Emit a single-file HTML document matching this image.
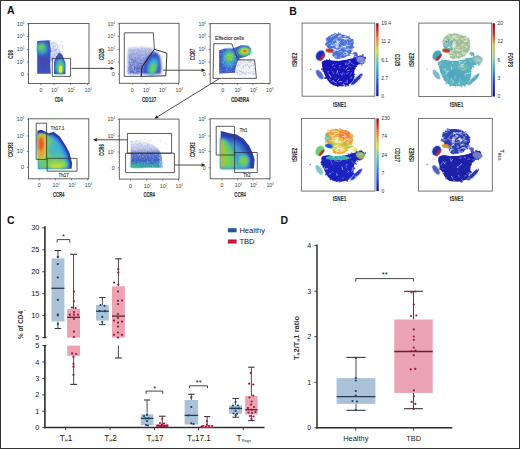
<!DOCTYPE html>
<html><head><meta charset="utf-8"><style>html,body{margin:0;padding:0;background:#fff;width:520px;height:449px;overflow:hidden}</style></head>
<body><svg width="520" height="449" viewBox="0 0 520 449" font-family="Liberation Sans, sans-serif" style="display:block">
<defs>
<filter id="b1" x="-30%" y="-30%" width="160%" height="160%"><feGaussianBlur stdDeviation="1"/></filter>
<filter id="b2" x="-40%" y="-40%" width="180%" height="180%"><feGaussianBlur stdDeviation="2"/></filter>
<filter id="b05" x="-30%" y="-30%" width="160%" height="160%"><feGaussianBlur stdDeviation="0.5"/></filter>
<filter id="b15" x="-40%" y="-40%" width="180%" height="180%"><feGaussianBlur stdDeviation="1.5"/></filter>
<linearGradient id="jet" x1="0" y1="1" x2="0" y2="0">
<stop offset="0" stop-color="#1a1aa0"/><stop offset="0.15" stop-color="#2040d0"/><stop offset="0.35" stop-color="#30b0e0"/>
<stop offset="0.5" stop-color="#60d080"/><stop offset="0.65" stop-color="#e0e040"/><stop offset="0.85" stop-color="#e04020"/><stop offset="1" stop-color="#b01020"/>
</linearGradient>
</defs>
<rect x="0.00" y="0.00" width="520.00" height="449.00" fill="#fff" stroke="none" stroke-width="1" />
<text x="7.00" y="14.40" font-size="10.5" text-anchor="start" font-weight="bold" fill="#111" >A</text>
<rect x="28.50" y="23.50" width="60.50" height="60.00" fill="none" stroke="#555" stroke-width="0.9" />
<line x1="26.90" y1="23.80" x2="28.50" y2="23.80" stroke="#555" stroke-width="0.7" />
<text x="24.10" y="25.70" font-size="5.3" text-anchor="end" fill="#3a3a3a">10<tspan font-size="2.6" dy="-2.2">4</tspan></text>
<line x1="26.90" y1="36.50" x2="28.50" y2="36.50" stroke="#555" stroke-width="0.7" />
<text x="24.10" y="38.40" font-size="5.3" text-anchor="end" fill="#3a3a3a">10<tspan font-size="2.6" dy="-2.2">3</tspan></text>
<line x1="26.90" y1="49.50" x2="28.50" y2="49.50" stroke="#555" stroke-width="0.7" />
<text x="24.10" y="51.40" font-size="5.3" text-anchor="end" fill="#3a3a3a">10<tspan font-size="2.6" dy="-2.2">2</tspan></text>
<line x1="26.90" y1="62.00" x2="28.50" y2="62.00" stroke="#555" stroke-width="0.7" />
<text x="24.10" y="63.90" font-size="5.3" text-anchor="end" fill="#3a3a3a">10<tspan font-size="2.6" dy="-2.2">1</tspan></text>
<line x1="26.90" y1="74.20" x2="28.50" y2="74.20" stroke="#555" stroke-width="0.7" />
<text x="23.90" y="76.10" font-size="5.3" text-anchor="end" font-weight="normal" fill="#3a3a3a" >0</text>
<line x1="41.00" y1="83.50" x2="41.00" y2="85.10" stroke="#555" stroke-width="0.7" />
<text x="41.00" y="92.10" font-size="5.3" text-anchor="middle" font-weight="normal" fill="#3a3a3a" >0</text>
<line x1="54.00" y1="83.50" x2="54.00" y2="85.10" stroke="#555" stroke-width="0.7" />
<text x="54.80" y="92.10" font-size="5.3" text-anchor="middle" fill="#3a3a3a">10<tspan font-size="2.6" dy="-2.2">1</tspan></text>
<line x1="70.50" y1="83.50" x2="70.50" y2="85.10" stroke="#555" stroke-width="0.7" />
<text x="71.30" y="92.10" font-size="5.3" text-anchor="middle" fill="#3a3a3a">10<tspan font-size="2.6" dy="-2.2">2</tspan></text>
<line x1="87.50" y1="83.50" x2="87.50" y2="85.10" stroke="#555" stroke-width="0.7" />
<text x="88.30" y="92.10" font-size="5.3" text-anchor="middle" fill="#3a3a3a">10<tspan font-size="2.6" dy="-2.2">3</tspan></text>
<text x="0" y="0" font-size="7.2" font-weight="bold" text-anchor="middle" fill="#333" stroke="#333" stroke-width="0.15" textLength="8.7" lengthAdjust="spacingAndGlyphs" transform="translate(13,54.4) rotate(-90)">CD8</text>
<text x="58.75" y="101.8" font-size="7.2" font-weight="bold" text-anchor="middle" fill="#333" stroke="#333" stroke-width="0.15" textLength="8.1" lengthAdjust="spacingAndGlyphs">CD4</text>
<rect x="119.30" y="23.30" width="59.70" height="60.00" fill="none" stroke="#555" stroke-width="0.9" />
<line x1="117.70" y1="23.80" x2="119.30" y2="23.80" stroke="#555" stroke-width="0.7" />
<text x="114.90" y="25.70" font-size="5.3" text-anchor="end" fill="#3a3a3a">10<tspan font-size="2.6" dy="-2.2">4</tspan></text>
<line x1="117.70" y1="36.50" x2="119.30" y2="36.50" stroke="#555" stroke-width="0.7" />
<text x="114.90" y="38.40" font-size="5.3" text-anchor="end" fill="#3a3a3a">10<tspan font-size="2.6" dy="-2.2">3</tspan></text>
<line x1="117.70" y1="49.50" x2="119.30" y2="49.50" stroke="#555" stroke-width="0.7" />
<text x="114.90" y="51.40" font-size="5.3" text-anchor="end" fill="#3a3a3a">10<tspan font-size="2.6" dy="-2.2">2</tspan></text>
<line x1="117.70" y1="62.00" x2="119.30" y2="62.00" stroke="#555" stroke-width="0.7" />
<text x="114.90" y="63.90" font-size="5.3" text-anchor="end" fill="#3a3a3a">10<tspan font-size="2.6" dy="-2.2">1</tspan></text>
<line x1="117.70" y1="74.20" x2="119.30" y2="74.20" stroke="#555" stroke-width="0.7" />
<text x="114.70" y="76.10" font-size="5.3" text-anchor="end" font-weight="normal" fill="#3a3a3a" >0</text>
<line x1="132.30" y1="83.30" x2="132.30" y2="84.90" stroke="#555" stroke-width="0.7" />
<text x="132.30" y="91.90" font-size="5.3" text-anchor="middle" font-weight="normal" fill="#3a3a3a" >0</text>
<line x1="146.00" y1="83.30" x2="146.00" y2="84.90" stroke="#555" stroke-width="0.7" />
<text x="146.80" y="91.90" font-size="5.3" text-anchor="middle" fill="#3a3a3a">10<tspan font-size="2.6" dy="-2.2">1</tspan></text>
<line x1="162.00" y1="83.30" x2="162.00" y2="84.90" stroke="#555" stroke-width="0.7" />
<text x="162.80" y="91.90" font-size="5.3" text-anchor="middle" fill="#3a3a3a">10<tspan font-size="2.6" dy="-2.2">2</tspan></text>
<line x1="178.50" y1="83.30" x2="178.50" y2="84.90" stroke="#555" stroke-width="0.7" />
<text x="179.30" y="91.90" font-size="5.3" text-anchor="middle" fill="#3a3a3a">10<tspan font-size="2.6" dy="-2.2">3</tspan></text>
<text x="0" y="0" font-size="7.2" font-weight="bold" text-anchor="middle" fill="#333" stroke="#333" stroke-width="0.15" textLength="11.6" lengthAdjust="spacingAndGlyphs" transform="translate(103.5,54.199999999999996) rotate(-90)">CD25</text>
<text x="149.15" y="101.8" font-size="7.2" font-weight="bold" text-anchor="middle" fill="#333" stroke="#333" stroke-width="0.15" textLength="14.3" lengthAdjust="spacingAndGlyphs">CD127</text>
<rect x="210.20" y="23.60" width="59.80" height="59.80" fill="none" stroke="#555" stroke-width="0.9" />
<line x1="208.60" y1="23.80" x2="210.20" y2="23.80" stroke="#555" stroke-width="0.7" />
<text x="205.80" y="25.70" font-size="5.3" text-anchor="end" fill="#3a3a3a">10<tspan font-size="2.6" dy="-2.2">4</tspan></text>
<line x1="208.60" y1="36.50" x2="210.20" y2="36.50" stroke="#555" stroke-width="0.7" />
<text x="205.80" y="38.40" font-size="5.3" text-anchor="end" fill="#3a3a3a">10<tspan font-size="2.6" dy="-2.2">3</tspan></text>
<line x1="208.60" y1="49.50" x2="210.20" y2="49.50" stroke="#555" stroke-width="0.7" />
<text x="205.80" y="51.40" font-size="5.3" text-anchor="end" fill="#3a3a3a">10<tspan font-size="2.6" dy="-2.2">2</tspan></text>
<line x1="208.60" y1="62.00" x2="210.20" y2="62.00" stroke="#555" stroke-width="0.7" />
<text x="205.80" y="63.90" font-size="5.3" text-anchor="end" fill="#3a3a3a">10<tspan font-size="2.6" dy="-2.2">1</tspan></text>
<line x1="208.60" y1="74.20" x2="210.20" y2="74.20" stroke="#555" stroke-width="0.7" />
<text x="205.60" y="76.10" font-size="5.3" text-anchor="end" font-weight="normal" fill="#3a3a3a" >0</text>
<line x1="222.70" y1="83.40" x2="222.70" y2="85.00" stroke="#555" stroke-width="0.7" />
<text x="222.70" y="92.00" font-size="5.3" text-anchor="middle" font-weight="normal" fill="#3a3a3a" >0</text>
<line x1="237.30" y1="83.40" x2="237.30" y2="85.00" stroke="#555" stroke-width="0.7" />
<text x="238.10" y="92.00" font-size="5.3" text-anchor="middle" fill="#3a3a3a">10<tspan font-size="2.6" dy="-2.2">1</tspan></text>
<line x1="253.00" y1="83.40" x2="253.00" y2="85.00" stroke="#555" stroke-width="0.7" />
<text x="253.80" y="92.00" font-size="5.3" text-anchor="middle" fill="#3a3a3a">10<tspan font-size="2.6" dy="-2.2">2</tspan></text>
<line x1="269.00" y1="83.40" x2="269.00" y2="85.00" stroke="#555" stroke-width="0.7" />
<text x="269.80" y="92.00" font-size="5.3" text-anchor="middle" fill="#3a3a3a">10<tspan font-size="2.6" dy="-2.2">3</tspan></text>
<text x="0" y="0" font-size="7.2" font-weight="bold" text-anchor="middle" fill="#333" stroke="#333" stroke-width="0.15" textLength="11.6" lengthAdjust="spacingAndGlyphs" transform="translate(195.4,54.4) rotate(-90)">CCR7</text>
<text x="240.1" y="101.8" font-size="7.2" font-weight="bold" text-anchor="middle" fill="#333" stroke="#333" stroke-width="0.15" textLength="18.4" lengthAdjust="spacingAndGlyphs">CD45RA</text>
<rect x="28.50" y="118.80" width="60.30" height="60.00" fill="none" stroke="#555" stroke-width="0.9" />
<line x1="26.90" y1="119.20" x2="28.50" y2="119.20" stroke="#555" stroke-width="0.7" />
<text x="24.10" y="121.10" font-size="5.3" text-anchor="end" fill="#3a3a3a">10<tspan font-size="2.6" dy="-2.2">3</tspan></text>
<line x1="26.90" y1="136.00" x2="28.50" y2="136.00" stroke="#555" stroke-width="0.7" />
<text x="24.10" y="137.90" font-size="5.3" text-anchor="end" fill="#3a3a3a">10<tspan font-size="2.6" dy="-2.2">2</tspan></text>
<line x1="26.90" y1="151.50" x2="28.50" y2="151.50" stroke="#555" stroke-width="0.7" />
<text x="24.10" y="153.40" font-size="5.3" text-anchor="end" fill="#3a3a3a">10<tspan font-size="2.6" dy="-2.2">1</tspan></text>
<line x1="26.90" y1="167.30" x2="28.50" y2="167.30" stroke="#555" stroke-width="0.7" />
<text x="23.90" y="169.20" font-size="5.3" text-anchor="end" font-weight="normal" fill="#3a3a3a" >0</text>
<line x1="39.30" y1="178.80" x2="39.30" y2="180.40" stroke="#555" stroke-width="0.7" />
<text x="39.30" y="187.40" font-size="5.3" text-anchor="middle" font-weight="normal" fill="#3a3a3a" >0</text>
<line x1="55.40" y1="178.80" x2="55.40" y2="180.40" stroke="#555" stroke-width="0.7" />
<text x="56.20" y="187.40" font-size="5.3" text-anchor="middle" fill="#3a3a3a">10<tspan font-size="2.6" dy="-2.2">1</tspan></text>
<line x1="71.50" y1="178.80" x2="71.50" y2="180.40" stroke="#555" stroke-width="0.7" />
<text x="72.30" y="187.40" font-size="5.3" text-anchor="middle" fill="#3a3a3a">10<tspan font-size="2.6" dy="-2.2">2</tspan></text>
<line x1="87.60" y1="178.80" x2="87.60" y2="180.40" stroke="#555" stroke-width="0.7" />
<text x="88.40" y="187.40" font-size="5.3" text-anchor="middle" fill="#3a3a3a">10<tspan font-size="2.6" dy="-2.2">3</tspan></text>
<text x="0" y="0" font-size="7.2" font-weight="bold" text-anchor="middle" fill="#333" stroke="#333" stroke-width="0.15" textLength="14.7" lengthAdjust="spacingAndGlyphs" transform="translate(13.4,149.70000000000002) rotate(-90)">CXCR3</text>
<text x="58.65" y="197.2" font-size="7.2" font-weight="bold" text-anchor="middle" fill="#333" stroke="#333" stroke-width="0.15" textLength="11.5" lengthAdjust="spacingAndGlyphs">CCR4</text>
<rect x="119.30" y="119.10" width="59.70" height="60.00" fill="none" stroke="#555" stroke-width="0.9" />
<line x1="117.70" y1="119.20" x2="119.30" y2="119.20" stroke="#555" stroke-width="0.7" />
<text x="114.90" y="121.10" font-size="5.3" text-anchor="end" fill="#3a3a3a">10<tspan font-size="2.6" dy="-2.2">3</tspan></text>
<line x1="117.70" y1="136.00" x2="119.30" y2="136.00" stroke="#555" stroke-width="0.7" />
<text x="114.90" y="137.90" font-size="5.3" text-anchor="end" fill="#3a3a3a">10<tspan font-size="2.6" dy="-2.2">2</tspan></text>
<line x1="117.70" y1="152.00" x2="119.30" y2="152.00" stroke="#555" stroke-width="0.7" />
<text x="114.90" y="153.90" font-size="5.3" text-anchor="end" fill="#3a3a3a">10<tspan font-size="2.6" dy="-2.2">1</tspan></text>
<line x1="117.70" y1="167.70" x2="119.30" y2="167.70" stroke="#555" stroke-width="0.7" />
<text x="114.70" y="169.60" font-size="5.3" text-anchor="end" font-weight="normal" fill="#3a3a3a" >0</text>
<line x1="130.50" y1="179.10" x2="130.50" y2="180.70" stroke="#555" stroke-width="0.7" />
<text x="130.50" y="187.70" font-size="5.3" text-anchor="middle" font-weight="normal" fill="#3a3a3a" >0</text>
<line x1="146.70" y1="179.10" x2="146.70" y2="180.70" stroke="#555" stroke-width="0.7" />
<text x="147.50" y="187.70" font-size="5.3" text-anchor="middle" fill="#3a3a3a">10<tspan font-size="2.6" dy="-2.2">1</tspan></text>
<line x1="162.70" y1="179.10" x2="162.70" y2="180.70" stroke="#555" stroke-width="0.7" />
<text x="163.50" y="187.70" font-size="5.3" text-anchor="middle" fill="#3a3a3a">10<tspan font-size="2.6" dy="-2.2">2</tspan></text>
<line x1="178.50" y1="179.10" x2="178.50" y2="180.70" stroke="#555" stroke-width="0.7" />
<text x="179.30" y="187.70" font-size="5.3" text-anchor="middle" fill="#3a3a3a">10<tspan font-size="2.6" dy="-2.2">3</tspan></text>
<text x="0" y="0" font-size="7.2" font-weight="bold" text-anchor="middle" fill="#333" stroke="#333" stroke-width="0.15" textLength="11.6" lengthAdjust="spacingAndGlyphs" transform="translate(103.5,150.0) rotate(-90)">CCR6</text>
<text x="149.15" y="197.2" font-size="7.2" font-weight="bold" text-anchor="middle" fill="#333" stroke="#333" stroke-width="0.15" textLength="11.5" lengthAdjust="spacingAndGlyphs">CCR4</text>
<rect x="210.20" y="118.80" width="59.80" height="60.00" fill="none" stroke="#555" stroke-width="0.9" />
<line x1="208.60" y1="119.20" x2="210.20" y2="119.20" stroke="#555" stroke-width="0.7" />
<text x="205.80" y="121.10" font-size="5.3" text-anchor="end" fill="#3a3a3a">10<tspan font-size="2.6" dy="-2.2">3</tspan></text>
<line x1="208.60" y1="136.00" x2="210.20" y2="136.00" stroke="#555" stroke-width="0.7" />
<text x="205.80" y="137.90" font-size="5.3" text-anchor="end" fill="#3a3a3a">10<tspan font-size="2.6" dy="-2.2">2</tspan></text>
<line x1="208.60" y1="151.50" x2="210.20" y2="151.50" stroke="#555" stroke-width="0.7" />
<text x="205.80" y="153.40" font-size="5.3" text-anchor="end" fill="#3a3a3a">10<tspan font-size="2.6" dy="-2.2">1</tspan></text>
<line x1="208.60" y1="167.70" x2="210.20" y2="167.70" stroke="#555" stroke-width="0.7" />
<text x="205.60" y="169.60" font-size="5.3" text-anchor="end" font-weight="normal" fill="#3a3a3a" >0</text>
<line x1="222.00" y1="178.80" x2="222.00" y2="180.40" stroke="#555" stroke-width="0.7" />
<text x="222.00" y="187.40" font-size="5.3" text-anchor="middle" font-weight="normal" fill="#3a3a3a" >0</text>
<line x1="237.70" y1="178.80" x2="237.70" y2="180.40" stroke="#555" stroke-width="0.7" />
<text x="238.50" y="187.40" font-size="5.3" text-anchor="middle" fill="#3a3a3a">10<tspan font-size="2.6" dy="-2.2">1</tspan></text>
<line x1="253.00" y1="178.80" x2="253.00" y2="180.40" stroke="#555" stroke-width="0.7" />
<text x="253.80" y="187.40" font-size="5.3" text-anchor="middle" fill="#3a3a3a">10<tspan font-size="2.6" dy="-2.2">2</tspan></text>
<line x1="269.30" y1="178.80" x2="269.30" y2="180.40" stroke="#555" stroke-width="0.7" />
<text x="270.10" y="187.40" font-size="5.3" text-anchor="middle" fill="#3a3a3a">10<tspan font-size="2.6" dy="-2.2">3</tspan></text>
<text x="0" y="0" font-size="7.2" font-weight="bold" text-anchor="middle" fill="#333" stroke="#333" stroke-width="0.15" textLength="14.7" lengthAdjust="spacingAndGlyphs" transform="translate(195.4,149.70000000000002) rotate(-90)">CXCR3</text>
<text x="240.1" y="197.2" font-size="7.2" font-weight="bold" text-anchor="middle" fill="#333" stroke="#333" stroke-width="0.15" textLength="11.5" lengthAdjust="spacingAndGlyphs">CCR4</text>
<linearGradient id="g1s" x1="0" y1="0" x2="0" y2="1"><stop offset="0" stop-color="#c0c6ec" stop-opacity="0.5"/><stop offset="1" stop-color="#8a96d8" stop-opacity="0.8"/></linearGradient>
<path d="M48,42 L54,41 L59,46 L62,53 L61,58 L54,60 L48.5,62 Z" fill="url(#g1s)" filter="url(#b1)" opacity="1"/>
<circle cx="50.81" cy="51.43" r="0.5" fill="#ffffff" opacity="0.5"/>
<circle cx="52.92" cy="52.68" r="0.5" fill="#ffffff" opacity="0.5"/>
<circle cx="57.01" cy="41.38" r="0.5" fill="#ffffff" opacity="0.5"/>
<circle cx="47.21" cy="57.59" r="0.5" fill="#ffffff" opacity="0.5"/>
<circle cx="51.15" cy="44.92" r="0.5" fill="#ffffff" opacity="0.5"/>
<circle cx="62.93" cy="49.88" r="0.5" fill="#ffffff" opacity="0.5"/>
<circle cx="60.38" cy="50.00" r="0.5" fill="#ffffff" opacity="0.5"/>
<circle cx="57.23" cy="43.16" r="0.5" fill="#ffffff" opacity="0.5"/>
<circle cx="57.16" cy="58.23" r="0.5" fill="#ffffff" opacity="0.5"/>
<circle cx="55.37" cy="55.57" r="0.5" fill="#ffffff" opacity="0.5"/>
<circle cx="57.74" cy="41.34" r="0.5" fill="#ffffff" opacity="0.5"/>
<circle cx="59.13" cy="52.41" r="0.5" fill="#ffffff" opacity="0.5"/>
<circle cx="51.82" cy="40.65" r="0.5" fill="#ffffff" opacity="0.5"/>
<circle cx="60.85" cy="49.93" r="0.5" fill="#ffffff" opacity="0.5"/>
<circle cx="58.50" cy="58.46" r="0.5" fill="#ffffff" opacity="0.5"/>
<circle cx="58.43" cy="59.34" r="0.5" fill="#ffffff" opacity="0.5"/>
<circle cx="53.32" cy="56.82" r="0.5" fill="#ffffff" opacity="0.5"/>
<circle cx="54.11" cy="59.65" r="0.5" fill="#ffffff" opacity="0.5"/>
<circle cx="61.06" cy="42.05" r="0.5" fill="#ffffff" opacity="0.5"/>
<circle cx="49.18" cy="44.56" r="0.5" fill="#ffffff" opacity="0.5"/>
<circle cx="62.45" cy="49.16" r="0.5" fill="#ffffff" opacity="0.5"/>
<circle cx="57.03" cy="46.32" r="0.5" fill="#ffffff" opacity="0.5"/>
<circle cx="55.12" cy="48.10" r="0.5" fill="#ffffff" opacity="0.5"/>
<circle cx="52.61" cy="52.29" r="0.5" fill="#ffffff" opacity="0.5"/>
<circle cx="56.35" cy="58.99" r="0.5" fill="#ffffff" opacity="0.5"/>
<circle cx="57.91" cy="59.51" r="0.5" fill="#ffffff" opacity="0.5"/>
<circle cx="60.70" cy="60.81" r="0.5" fill="#ffffff" opacity="0.5"/>
<circle cx="57.74" cy="43.43" r="0.5" fill="#ffffff" opacity="0.5"/>
<circle cx="60.77" cy="60.26" r="0.5" fill="#ffffff" opacity="0.5"/>
<circle cx="61.48" cy="51.95" r="0.5" fill="#ffffff" opacity="0.5"/>
<circle cx="58.42" cy="44.43" r="0.5" fill="#ffffff" opacity="0.5"/>
<circle cx="60.31" cy="52.04" r="0.5" fill="#ffffff" opacity="0.5"/>
<circle cx="51.56" cy="41.33" r="0.5" fill="#ffffff" opacity="0.5"/>
<circle cx="60.66" cy="60.79" r="0.5" fill="#ffffff" opacity="0.5"/>
<circle cx="48.42" cy="56.81" r="0.5" fill="#ffffff" opacity="0.5"/>
<circle cx="53.57" cy="43.17" r="0.5" fill="#ffffff" opacity="0.5"/>
<circle cx="51.70" cy="56.14" r="0.5" fill="#ffffff" opacity="0.5"/>
<circle cx="60.96" cy="40.93" r="0.5" fill="#ffffff" opacity="0.5"/>
<circle cx="56.83" cy="40.94" r="0.5" fill="#ffffff" opacity="0.5"/>
<circle cx="58.50" cy="46.95" r="0.5" fill="#ffffff" opacity="0.5"/>
<circle cx="61.09" cy="60.59" r="0.5" fill="#ffffff" opacity="0.5"/>
<circle cx="55.09" cy="60.97" r="0.5" fill="#ffffff" opacity="0.5"/>
<circle cx="51.95" cy="41.62" r="0.5" fill="#ffffff" opacity="0.5"/>
<circle cx="56.60" cy="40.66" r="0.5" fill="#ffffff" opacity="0.5"/>
<circle cx="50.16" cy="48.57" r="0.5" fill="#ffffff" opacity="0.5"/>
<circle cx="56.77" cy="43.28" r="0.5" fill="#ffffff" opacity="0.5"/>
<circle cx="47.68" cy="58.22" r="0.5" fill="#ffffff" opacity="0.5"/>
<circle cx="52.02" cy="60.13" r="0.5" fill="#ffffff" opacity="0.5"/>
<circle cx="61.35" cy="47.93" r="0.5" fill="#ffffff" opacity="0.5"/>
<circle cx="54.37" cy="50.92" r="0.5" fill="#ffffff" opacity="0.5"/>
<circle cx="57.30" cy="52.51" r="0.5" fill="#ffffff" opacity="0.5"/>
<circle cx="55.95" cy="53.02" r="0.5" fill="#ffffff" opacity="0.5"/>
<circle cx="62.05" cy="50.65" r="0.5" fill="#ffffff" opacity="0.5"/>
<circle cx="53.90" cy="55.13" r="0.5" fill="#ffffff" opacity="0.5"/>
<circle cx="50.80" cy="46.32" r="0.5" fill="#ffffff" opacity="0.5"/>
<circle cx="62.64" cy="50.94" r="0.5" fill="#ffffff" opacity="0.5"/>
<circle cx="55.77" cy="40.24" r="0.5" fill="#ffffff" opacity="0.5"/>
<circle cx="53.64" cy="52.18" r="0.5" fill="#ffffff" opacity="0.5"/>
<circle cx="47.32" cy="52.93" r="0.5" fill="#ffffff" opacity="0.5"/>
<circle cx="57.11" cy="41.26" r="0.5" fill="#ffffff" opacity="0.5"/>
<circle cx="57.04" cy="49.79" r="0.5" fill="#ffffff" opacity="0.5"/>
<circle cx="57.87" cy="47.40" r="0.5" fill="#ffffff" opacity="0.5"/>
<circle cx="58.31" cy="55.50" r="0.5" fill="#ffffff" opacity="0.5"/>
<circle cx="47.35" cy="41.27" r="0.5" fill="#ffffff" opacity="0.5"/>
<circle cx="57.82" cy="60.23" r="0.5" fill="#ffffff" opacity="0.5"/>
<circle cx="51.02" cy="49.58" r="0.5" fill="#ffffff" opacity="0.5"/>
<circle cx="56.48" cy="46.72" r="0.5" fill="#ffffff" opacity="0.5"/>
<circle cx="52.82" cy="46.57" r="0.5" fill="#ffffff" opacity="0.5"/>
<circle cx="52.91" cy="52.51" r="0.5" fill="#ffffff" opacity="0.5"/>
<circle cx="51.81" cy="47.92" r="0.5" fill="#ffffff" opacity="0.5"/>
<circle cx="59.36" cy="40.57" r="0.5" fill="#ffffff" opacity="0.5"/>
<circle cx="56.11" cy="55.44" r="0.5" fill="#ffffff" opacity="0.5"/>
<circle cx="51.96" cy="44.67" r="0.5" fill="#ffffff" opacity="0.5"/>
<circle cx="59.86" cy="45.01" r="0.5" fill="#ffffff" opacity="0.5"/>
<circle cx="50.00" cy="49.14" r="0.5" fill="#ffffff" opacity="0.5"/>
<circle cx="58.17" cy="42.14" r="0.5" fill="#ffffff" opacity="0.5"/>
<circle cx="52.15" cy="47.01" r="0.5" fill="#ffffff" opacity="0.5"/>
<circle cx="60.34" cy="49.21" r="0.5" fill="#ffffff" opacity="0.5"/>
<circle cx="60.69" cy="43.55" r="0.5" fill="#ffffff" opacity="0.5"/>
<circle cx="52.39" cy="53.65" r="0.5" fill="#ffffff" opacity="0.5"/>
<circle cx="61.16" cy="49.47" r="0.5" fill="#ffffff" opacity="0.5"/>
<circle cx="50.60" cy="42.54" r="0.5" fill="#ffffff" opacity="0.5"/>
<circle cx="55.47" cy="44.01" r="0.5" fill="#ffffff" opacity="0.5"/>
<circle cx="59.91" cy="57.61" r="0.5" fill="#ffffff" opacity="0.5"/>
<circle cx="49.94" cy="45.85" r="0.5" fill="#ffffff" opacity="0.5"/>
<circle cx="59.92" cy="53.48" r="0.5" fill="#ffffff" opacity="0.5"/>
<circle cx="59.90" cy="47.25" r="0.5" fill="#ffffff" opacity="0.5"/>
<circle cx="49.08" cy="46.13" r="0.5" fill="#ffffff" opacity="0.5"/>
<circle cx="59.70" cy="45.69" r="0.5" fill="#ffffff" opacity="0.5"/>
<circle cx="52.54" cy="48.76" r="0.5" fill="#ffffff" opacity="0.5"/>
<circle cx="53.72" cy="48.60" r="0.5" fill="#ffffff" opacity="0.5"/>
<circle cx="61.73" cy="43.28" r="0.5" fill="#ffffff" opacity="0.5"/>
<circle cx="47.07" cy="59.81" r="0.5" fill="#ffffff" opacity="0.5"/>
<circle cx="61.08" cy="60.73" r="0.5" fill="#ffffff" opacity="0.5"/>
<circle cx="53.95" cy="59.95" r="0.5" fill="#ffffff" opacity="0.5"/>
<circle cx="61.84" cy="44.66" r="0.5" fill="#ffffff" opacity="0.5"/>
<circle cx="58.93" cy="57.57" r="0.5" fill="#ffffff" opacity="0.5"/>
<circle cx="57.61" cy="50.90" r="0.5" fill="#ffffff" opacity="0.5"/>
<circle cx="51.62" cy="47.16" r="0.5" fill="#ffffff" opacity="0.5"/>
<circle cx="50.64" cy="41.43" r="0.5" fill="#ffffff" opacity="0.5"/>
<circle cx="56.42" cy="46.03" r="0.5" fill="#ffffff" opacity="0.5"/>
<circle cx="59.96" cy="40.95" r="0.5" fill="#ffffff" opacity="0.5"/>
<circle cx="61.46" cy="54.57" r="0.5" fill="#ffffff" opacity="0.5"/>
<circle cx="61.78" cy="58.83" r="0.5" fill="#ffffff" opacity="0.5"/>
<circle cx="61.39" cy="52.12" r="0.5" fill="#ffffff" opacity="0.5"/>
<circle cx="47.21" cy="55.65" r="0.5" fill="#ffffff" opacity="0.5"/>
<circle cx="49.75" cy="46.30" r="0.5" fill="#ffffff" opacity="0.5"/>
<circle cx="57.61" cy="51.02" r="0.5" fill="#ffffff" opacity="0.5"/>
<circle cx="53.62" cy="59.72" r="0.5" fill="#ffffff" opacity="0.5"/>
<circle cx="56.79" cy="47.17" r="0.5" fill="#ffffff" opacity="0.5"/>
<circle cx="51.04" cy="58.09" r="0.5" fill="#ffffff" opacity="0.5"/>
<circle cx="54.64" cy="56.43" r="0.5" fill="#ffffff" opacity="0.5"/>
<circle cx="52.63" cy="44.14" r="0.5" fill="#ffffff" opacity="0.5"/>
<circle cx="55.55" cy="57.15" r="0.5" fill="#ffffff" opacity="0.5"/>
<circle cx="49.74" cy="56.63" r="0.5" fill="#ffffff" opacity="0.5"/>
<circle cx="61.75" cy="56.93" r="0.5" fill="#ffffff" opacity="0.5"/>
<circle cx="60.18" cy="40.16" r="0.5" fill="#ffffff" opacity="0.5"/>
<circle cx="57.06" cy="58.11" r="0.5" fill="#ffffff" opacity="0.5"/>
<circle cx="47.80" cy="45.70" r="0.5" fill="#ffffff" opacity="0.5"/>
<circle cx="51.30" cy="51.07" r="0.5" fill="#ffffff" opacity="0.5"/>
<circle cx="53.77" cy="49.93" r="0.5" fill="#ffffff" opacity="0.5"/>
<circle cx="59.42" cy="40.04" r="0.5" fill="#ffffff" opacity="0.5"/>
<circle cx="47.88" cy="42.66" r="0.5" fill="#ffffff" opacity="0.5"/>
<circle cx="48.99" cy="41.44" r="0.5" fill="#ffffff" opacity="0.5"/>
<circle cx="62.60" cy="57.94" r="0.5" fill="#ffffff" opacity="0.5"/>
<circle cx="48.38" cy="50.54" r="0.5" fill="#ffffff" opacity="0.5"/>
<circle cx="52.05" cy="46.61" r="0.5" fill="#ffffff" opacity="0.5"/>
<circle cx="52.62" cy="53.59" r="0.5" fill="#ffffff" opacity="0.5"/>
<circle cx="56.39" cy="47.58" r="0.5" fill="#ffffff" opacity="0.5"/>
<circle cx="50.06" cy="46.90" r="0.5" fill="#ffffff" opacity="0.5"/>
<circle cx="48.98" cy="51.67" r="0.5" fill="#ffffff" opacity="0.5"/>
<circle cx="58.46" cy="47.98" r="0.5" fill="#ffffff" opacity="0.5"/>
<circle cx="48.28" cy="43.75" r="0.5" fill="#ffffff" opacity="0.5"/>
<circle cx="52.97" cy="52.69" r="0.5" fill="#ffffff" opacity="0.5"/>
<circle cx="59.52" cy="47.99" r="0.5" fill="#ffffff" opacity="0.5"/>
<circle cx="59.82" cy="53.08" r="0.5" fill="#ffffff" opacity="0.5"/>
<circle cx="53.91" cy="47.82" r="0.5" fill="#ffffff" opacity="0.5"/>
<circle cx="54.94" cy="54.76" r="0.5" fill="#ffffff" opacity="0.5"/>
<circle cx="53.73" cy="54.58" r="0.5" fill="#ffffff" opacity="0.5"/>
<circle cx="54.37" cy="45.15" r="0.5" fill="#ffffff" opacity="0.5"/>
<circle cx="55.57" cy="54.60" r="0.5" fill="#ffffff" opacity="0.5"/>
<circle cx="48.15" cy="48.92" r="0.5" fill="#ffffff" opacity="0.5"/>
<circle cx="53.81" cy="58.47" r="0.5" fill="#ffffff" opacity="0.5"/>
<circle cx="61.98" cy="47.86" r="0.5" fill="#ffffff" opacity="0.5"/>
<circle cx="61.37" cy="56.61" r="0.5" fill="#ffffff" opacity="0.5"/>
<circle cx="51.19" cy="49.75" r="0.5" fill="#ffffff" opacity="0.5"/>
<circle cx="48.97" cy="57.08" r="0.5" fill="#ffffff" opacity="0.5"/>
<circle cx="57.60" cy="58.63" r="0.5" fill="#ffffff" opacity="0.5"/>
<circle cx="59.68" cy="54.02" r="0.5" fill="#ffffff" opacity="0.5"/>
<circle cx="58.74" cy="51.84" r="0.5" fill="#ffffff" opacity="0.5"/>
<circle cx="48.65" cy="52.34" r="0.5" fill="#ffffff" opacity="0.5"/>
<circle cx="47.08" cy="43.01" r="0.5" fill="#ffffff" opacity="0.5"/>
<circle cx="59.39" cy="40.93" r="0.5" fill="#ffffff" opacity="0.5"/>
<circle cx="48.47" cy="42.09" r="0.5" fill="#ffffff" opacity="0.5"/>
<circle cx="61.09" cy="43.76" r="0.5" fill="#ffffff" opacity="0.5"/>
<circle cx="47.38" cy="57.67" r="0.5" fill="#ffffff" opacity="0.5"/>
<circle cx="48.94" cy="57.72" r="0.5" fill="#ffffff" opacity="0.5"/>
<circle cx="57.78" cy="57.56" r="0.5" fill="#ffffff" opacity="0.5"/>
<circle cx="62.24" cy="52.16" r="0.5" fill="#ffffff" opacity="0.5"/>
<circle cx="59.78" cy="40.76" r="0.5" fill="#ffffff" opacity="0.5"/>
<circle cx="59.28" cy="50.74" r="0.5" fill="#ffffff" opacity="0.5"/>
<circle cx="58.44" cy="42.24" r="0.5" fill="#ffffff" opacity="0.5"/>
<circle cx="58.98" cy="59.63" r="0.5" fill="#ffffff" opacity="0.5"/>
<circle cx="47.98" cy="46.81" r="0.5" fill="#ffffff" opacity="0.5"/>
<circle cx="56.02" cy="57.39" r="0.5" fill="#ffffff" opacity="0.5"/>
<circle cx="50.87" cy="43.78" r="0.5" fill="#ffffff" opacity="0.5"/>
<circle cx="51.00" cy="52.94" r="0.5" fill="#ffffff" opacity="0.5"/>
<circle cx="59.06" cy="48.27" r="0.5" fill="#ffffff" opacity="0.5"/>
<circle cx="52.88" cy="48.33" r="0.5" fill="#ffffff" opacity="0.5"/>
<circle cx="52.60" cy="48.78" r="0.5" fill="#ffffff" opacity="0.5"/>
<circle cx="48.33" cy="50.51" r="0.5" fill="#ffffff" opacity="0.5"/>
<circle cx="62.57" cy="48.67" r="0.5" fill="#ffffff" opacity="0.5"/>
<circle cx="58.96" cy="43.37" r="0.5" fill="#ffffff" opacity="0.5"/>
<circle cx="58.05" cy="55.88" r="0.5" fill="#ffffff" opacity="0.5"/>
<circle cx="57.78" cy="50.86" r="0.5" fill="#ffffff" opacity="0.5"/>
<circle cx="54.74" cy="53.50" r="0.5" fill="#ffffff" opacity="0.5"/>
<circle cx="61.36" cy="43.14" r="0.5" fill="#ffffff" opacity="0.5"/>
<circle cx="48.53" cy="55.71" r="0.5" fill="#ffffff" opacity="0.5"/>
<circle cx="61.67" cy="50.86" r="0.5" fill="#ffffff" opacity="0.5"/>
<circle cx="54.09" cy="55.10" r="0.5" fill="#ffffff" opacity="0.5"/>
<circle cx="49.98" cy="45.61" r="0.5" fill="#ffffff" opacity="0.5"/>
<circle cx="50.19" cy="52.30" r="0.5" fill="#ffffff" opacity="0.5"/>
<circle cx="52.04" cy="44.88" r="0.5" fill="#ffffff" opacity="0.5"/>
<circle cx="58.06" cy="60.02" r="0.5" fill="#ffffff" opacity="0.5"/>
<circle cx="51.73" cy="54.81" r="0.5" fill="#ffffff" opacity="0.5"/>
<circle cx="53.61" cy="57.93" r="0.5" fill="#ffffff" opacity="0.5"/>
<circle cx="56.35" cy="45.61" r="0.5" fill="#ffffff" opacity="0.5"/>
<circle cx="50.48" cy="40.49" r="0.5" fill="#ffffff" opacity="0.5"/>
<circle cx="54.67" cy="48.04" r="0.5" fill="#ffffff" opacity="0.5"/>
<circle cx="49.76" cy="47.57" r="0.5" fill="#ffffff" opacity="0.5"/>
<circle cx="52.15" cy="56.26" r="0.5" fill="#ffffff" opacity="0.5"/>
<circle cx="49.30" cy="60.82" r="0.5" fill="#ffffff" opacity="0.5"/>
<circle cx="54.67" cy="52.58" r="0.5" fill="#ffffff" opacity="0.5"/>
<circle cx="54.49" cy="57.53" r="0.5" fill="#ffffff" opacity="0.5"/>
<circle cx="60.15" cy="51.70" r="0.5" fill="#ffffff" opacity="0.5"/>
<circle cx="54.70" cy="55.13" r="0.5" fill="#ffffff" opacity="0.5"/>
<circle cx="60.71" cy="48.41" r="0.5" fill="#ffffff" opacity="0.5"/>
<circle cx="58.74" cy="60.17" r="0.5" fill="#ffffff" opacity="0.5"/>
<circle cx="54.48" cy="44.82" r="0.5" fill="#ffffff" opacity="0.5"/>
<circle cx="50.76" cy="55.07" r="0.5" fill="#ffffff" opacity="0.5"/>
<circle cx="57.81" cy="60.13" r="0.5" fill="#ffffff" opacity="0.5"/>
<circle cx="60.66" cy="45.08" r="0.5" fill="#ffffff" opacity="0.5"/>
<circle cx="50.03" cy="45.43" r="0.5" fill="#ffffff" opacity="0.5"/>
<circle cx="49.99" cy="54.80" r="0.5" fill="#ffffff" opacity="0.5"/>
<circle cx="60.74" cy="58.89" r="0.5" fill="#ffffff" opacity="0.5"/>
<circle cx="51.08" cy="58.17" r="0.5" fill="#ffffff" opacity="0.5"/>
<circle cx="52.01" cy="48.89" r="0.5" fill="#ffffff" opacity="0.5"/>
<circle cx="58.66" cy="41.80" r="0.5" fill="#ffffff" opacity="0.5"/>
<circle cx="48.48" cy="57.51" r="0.5" fill="#ffffff" opacity="0.5"/>
<circle cx="51.67" cy="47.49" r="0.5" fill="#ffffff" opacity="0.5"/>
<circle cx="56.28" cy="54.19" r="0.5" fill="#ffffff" opacity="0.5"/>
<circle cx="47.11" cy="47.03" r="0.5" fill="#ffffff" opacity="0.5"/>
<circle cx="53.98" cy="50.20" r="0.5" fill="#ffffff" opacity="0.5"/>
<circle cx="50.36" cy="52.29" r="0.5" fill="#ffffff" opacity="0.5"/>
<circle cx="62.29" cy="48.21" r="0.5" fill="#ffffff" opacity="0.5"/>
<circle cx="55.71" cy="42.50" r="0.5" fill="#ffffff" opacity="0.5"/>
<circle cx="51.40" cy="53.97" r="0.5" fill="#ffffff" opacity="0.5"/>
<circle cx="48.80" cy="58.63" r="0.5" fill="#ffffff" opacity="0.5"/>
<circle cx="61.54" cy="42.04" r="0.5" fill="#ffffff" opacity="0.5"/>
<circle cx="62.06" cy="47.86" r="0.5" fill="#ffffff" opacity="0.5"/>
<circle cx="59.36" cy="55.90" r="0.5" fill="#ffffff" opacity="0.5"/>
<circle cx="51.73" cy="54.19" r="0.5" fill="#ffffff" opacity="0.5"/>
<circle cx="57.47" cy="56.93" r="0.5" fill="#ffffff" opacity="0.5"/>
<circle cx="51.25" cy="55.84" r="0.5" fill="#ffffff" opacity="0.5"/>
<circle cx="62.38" cy="54.13" r="0.5" fill="#ffffff" opacity="0.5"/>
<circle cx="55.58" cy="42.38" r="0.5" fill="#ffffff" opacity="0.5"/>
<circle cx="54.90" cy="47.40" r="0.5" fill="#ffffff" opacity="0.5"/>
<circle cx="58.49" cy="54.25" r="0.5" fill="#ffffff" opacity="0.5"/>
<circle cx="56.06" cy="43.82" r="0.5" fill="#ffffff" opacity="0.5"/>
<circle cx="57.33" cy="53.25" r="0.5" fill="#ffffff" opacity="0.5"/>
<circle cx="49.87" cy="58.69" r="0.5" fill="#ffffff" opacity="0.5"/>
<circle cx="57.49" cy="42.59" r="0.5" fill="#ffffff" opacity="0.5"/>
<circle cx="61.91" cy="42.97" r="0.5" fill="#ffffff" opacity="0.5"/>
<circle cx="52.30" cy="55.13" r="0.5" fill="#ffffff" opacity="0.5"/>
<circle cx="56.56" cy="51.65" r="0.5" fill="#ffffff" opacity="0.5"/>
<circle cx="57.36" cy="49.61" r="0.5" fill="#ffffff" opacity="0.5"/>
<circle cx="52.00" cy="43.70" r="0.5" fill="#ffffff" opacity="0.5"/>
<circle cx="48.10" cy="55.03" r="0.5" fill="#ffffff" opacity="0.5"/>
<circle cx="59.07" cy="51.41" r="0.5" fill="#ffffff" opacity="0.5"/>
<circle cx="58.83" cy="47.54" r="0.5" fill="#ffffff" opacity="0.5"/>
<circle cx="51.25" cy="48.05" r="0.5" fill="#ffffff" opacity="0.5"/>
<circle cx="60.96" cy="40.88" r="0.5" fill="#ffffff" opacity="0.5"/>
<circle cx="55.08" cy="45.19" r="0.5" fill="#ffffff" opacity="0.5"/>
<circle cx="59.30" cy="47.44" r="0.5" fill="#ffffff" opacity="0.5"/>
<circle cx="52.33" cy="48.47" r="0.5" fill="#ffffff" opacity="0.5"/>
<circle cx="55.66" cy="56.21" r="0.5" fill="#ffffff" opacity="0.5"/>
<circle cx="52.65" cy="57.78" r="0.5" fill="#ffffff" opacity="0.5"/>
<circle cx="48.79" cy="45.68" r="0.5" fill="#ffffff" opacity="0.5"/>
<circle cx="48.59" cy="42.37" r="0.5" fill="#ffffff" opacity="0.5"/>
<circle cx="59.46" cy="55.27" r="0.5" fill="#ffffff" opacity="0.5"/>
<circle cx="49.96" cy="43.97" r="0.5" fill="#ffffff" opacity="0.5"/>
<circle cx="53.67" cy="55.61" r="0.5" fill="#ffffff" opacity="0.5"/>
<circle cx="60.05" cy="55.72" r="0.5" fill="#ffffff" opacity="0.5"/>
<circle cx="56.47" cy="43.08" r="0.5" fill="#ffffff" opacity="0.5"/>
<circle cx="53.37" cy="44.07" r="0.5" fill="#ffffff" opacity="0.5"/>
<circle cx="55.44" cy="51.94" r="0.5" fill="#ffffff" opacity="0.5"/>
<circle cx="50.23" cy="45.25" r="0.5" fill="#ffffff" opacity="0.5"/>
<circle cx="59.51" cy="40.63" r="0.5" fill="#ffffff" opacity="0.5"/>
<circle cx="59.85" cy="58.72" r="0.5" fill="#ffffff" opacity="0.5"/>
<circle cx="62.19" cy="48.05" r="0.5" fill="#ffffff" opacity="0.5"/>
<circle cx="55.84" cy="52.24" r="0.5" fill="#ffffff" opacity="0.5"/>
<circle cx="57.14" cy="60.52" r="0.5" fill="#ffffff" opacity="0.5"/>
<circle cx="57.99" cy="46.29" r="0.5" fill="#ffffff" opacity="0.5"/>
<circle cx="60.76" cy="50.17" r="0.5" fill="#ffffff" opacity="0.5"/>
<circle cx="56.62" cy="55.26" r="0.5" fill="#ffffff" opacity="0.5"/>
<circle cx="47.04" cy="56.18" r="0.5" fill="#ffffff" opacity="0.5"/>
<circle cx="57.59" cy="50.33" r="0.5" fill="#ffffff" opacity="0.5"/>
<circle cx="55.38" cy="49.67" r="0.5" fill="#ffffff" opacity="0.5"/>
<circle cx="50.09" cy="51.12" r="0.5" fill="#ffffff" opacity="0.5"/>
<circle cx="47.59" cy="50.51" r="0.5" fill="#ffffff" opacity="0.5"/>
<circle cx="57.34" cy="49.33" r="0.5" fill="#ffffff" opacity="0.5"/>
<circle cx="56.06" cy="60.14" r="0.5" fill="#ffffff" opacity="0.5"/>
<circle cx="61.27" cy="42.85" r="0.5" fill="#ffffff" opacity="0.5"/>
<circle cx="59.68" cy="53.09" r="0.5" fill="#ffffff" opacity="0.5"/>
<circle cx="47.81" cy="47.56" r="0.5" fill="#ffffff" opacity="0.5"/>
<circle cx="50.73" cy="41.63" r="0.5" fill="#ffffff" opacity="0.5"/>
<circle cx="55.62" cy="59.53" r="0.5" fill="#ffffff" opacity="0.5"/>
<circle cx="52.17" cy="58.28" r="0.5" fill="#ffffff" opacity="0.5"/>
<circle cx="58.11" cy="42.82" r="0.5" fill="#ffffff" opacity="0.5"/>
<circle cx="60.73" cy="52.62" r="0.5" fill="#ffffff" opacity="0.5"/>
<circle cx="61.83" cy="55.03" r="0.5" fill="#ffffff" opacity="0.5"/>
<circle cx="58.84" cy="47.22" r="0.5" fill="#ffffff" opacity="0.5"/>
<circle cx="59.91" cy="59.57" r="0.5" fill="#ffffff" opacity="0.5"/>
<circle cx="60.78" cy="49.18" r="0.5" fill="#ffffff" opacity="0.5"/>
<circle cx="59.11" cy="50.19" r="0.5" fill="#ffffff" opacity="0.5"/>
<circle cx="48.75" cy="40.90" r="0.5" fill="#ffffff" opacity="0.5"/>
<circle cx="48.25" cy="44.21" r="0.5" fill="#ffffff" opacity="0.5"/>
<circle cx="49.57" cy="50.44" r="0.5" fill="#ffffff" opacity="0.5"/>
<circle cx="58.19" cy="51.29" r="0.5" fill="#ffffff" opacity="0.5"/>
<circle cx="53.75" cy="53.63" r="0.5" fill="#ffffff" opacity="0.5"/>
<circle cx="51.87" cy="49.75" r="0.5" fill="#ffffff" opacity="0.5"/>
<circle cx="59.11" cy="48.43" r="0.5" fill="#ffffff" opacity="0.5"/>
<circle cx="49.89" cy="58.89" r="0.5" fill="#ffffff" opacity="0.5"/>
<circle cx="58.52" cy="47.71" r="0.5" fill="#ffffff" opacity="0.5"/>
<circle cx="52.94" cy="51.12" r="0.5" fill="#ffffff" opacity="0.5"/>
<circle cx="56.54" cy="44.70" r="0.5" fill="#ffffff" opacity="0.5"/>
<circle cx="47.04" cy="44.39" r="0.5" fill="#ffffff" opacity="0.5"/>
<circle cx="59.53" cy="43.01" r="0.5" fill="#ffffff" opacity="0.5"/>
<circle cx="54.36" cy="44.10" r="0.5" fill="#ffffff" opacity="0.5"/>
<circle cx="50.35" cy="43.59" r="0.5" fill="#ffffff" opacity="0.5"/>
<circle cx="53.46" cy="43.53" r="0.4" fill="#4a5ac0" opacity="0.5"/>
<circle cx="53.52" cy="54.77" r="0.4" fill="#4a5ac0" opacity="0.5"/>
<circle cx="53.45" cy="48.33" r="0.4" fill="#4a5ac0" opacity="0.5"/>
<circle cx="62.45" cy="44.60" r="0.4" fill="#4a5ac0" opacity="0.5"/>
<circle cx="52.54" cy="42.60" r="0.4" fill="#4a5ac0" opacity="0.5"/>
<circle cx="54.45" cy="59.59" r="0.4" fill="#4a5ac0" opacity="0.5"/>
<circle cx="57.07" cy="47.24" r="0.4" fill="#4a5ac0" opacity="0.5"/>
<circle cx="57.92" cy="60.35" r="0.4" fill="#4a5ac0" opacity="0.5"/>
<circle cx="47.06" cy="40.64" r="0.4" fill="#4a5ac0" opacity="0.5"/>
<circle cx="49.73" cy="40.77" r="0.4" fill="#4a5ac0" opacity="0.5"/>
<circle cx="57.47" cy="58.91" r="0.4" fill="#4a5ac0" opacity="0.5"/>
<circle cx="61.68" cy="59.74" r="0.4" fill="#4a5ac0" opacity="0.5"/>
<circle cx="48.83" cy="48.19" r="0.4" fill="#4a5ac0" opacity="0.5"/>
<circle cx="57.88" cy="59.50" r="0.4" fill="#4a5ac0" opacity="0.5"/>
<circle cx="55.85" cy="59.39" r="0.4" fill="#4a5ac0" opacity="0.5"/>
<circle cx="54.69" cy="45.66" r="0.4" fill="#4a5ac0" opacity="0.5"/>
<circle cx="53.19" cy="50.23" r="0.4" fill="#4a5ac0" opacity="0.5"/>
<circle cx="59.14" cy="54.22" r="0.4" fill="#4a5ac0" opacity="0.5"/>
<circle cx="50.79" cy="57.72" r="0.4" fill="#4a5ac0" opacity="0.5"/>
<circle cx="61.06" cy="58.32" r="0.4" fill="#4a5ac0" opacity="0.5"/>
<circle cx="61.35" cy="55.39" r="0.4" fill="#4a5ac0" opacity="0.5"/>
<circle cx="50.85" cy="41.03" r="0.4" fill="#4a5ac0" opacity="0.5"/>
<circle cx="57.31" cy="52.30" r="0.4" fill="#4a5ac0" opacity="0.5"/>
<circle cx="50.68" cy="60.31" r="0.4" fill="#4a5ac0" opacity="0.5"/>
<circle cx="56.67" cy="56.56" r="0.4" fill="#4a5ac0" opacity="0.5"/>
<circle cx="50.01" cy="43.73" r="0.4" fill="#4a5ac0" opacity="0.5"/>
<circle cx="60.21" cy="42.36" r="0.4" fill="#4a5ac0" opacity="0.5"/>
<circle cx="48.37" cy="49.77" r="0.4" fill="#4a5ac0" opacity="0.5"/>
<circle cx="59.18" cy="58.31" r="0.4" fill="#4a5ac0" opacity="0.5"/>
<circle cx="56.65" cy="49.36" r="0.4" fill="#4a5ac0" opacity="0.5"/>
<circle cx="50.30" cy="51.32" r="0.4" fill="#4a5ac0" opacity="0.5"/>
<circle cx="56.69" cy="44.50" r="0.4" fill="#4a5ac0" opacity="0.5"/>
<circle cx="62.93" cy="47.04" r="0.4" fill="#4a5ac0" opacity="0.5"/>
<circle cx="48.35" cy="44.58" r="0.4" fill="#4a5ac0" opacity="0.5"/>
<circle cx="61.45" cy="59.94" r="0.4" fill="#4a5ac0" opacity="0.5"/>
<circle cx="47.65" cy="55.65" r="0.4" fill="#4a5ac0" opacity="0.5"/>
<circle cx="58.95" cy="46.03" r="0.4" fill="#4a5ac0" opacity="0.5"/>
<circle cx="51.79" cy="48.63" r="0.4" fill="#4a5ac0" opacity="0.5"/>
<circle cx="52.96" cy="43.39" r="0.4" fill="#4a5ac0" opacity="0.5"/>
<circle cx="54.41" cy="51.04" r="0.4" fill="#4a5ac0" opacity="0.5"/>
<circle cx="52.76" cy="57.91" r="0.4" fill="#4a5ac0" opacity="0.5"/>
<circle cx="55.57" cy="43.48" r="0.4" fill="#4a5ac0" opacity="0.5"/>
<circle cx="50.26" cy="56.17" r="0.4" fill="#4a5ac0" opacity="0.5"/>
<circle cx="47.56" cy="43.89" r="0.4" fill="#4a5ac0" opacity="0.5"/>
<circle cx="53.92" cy="47.10" r="0.4" fill="#4a5ac0" opacity="0.5"/>
<circle cx="55.74" cy="41.97" r="0.4" fill="#4a5ac0" opacity="0.5"/>
<circle cx="50.96" cy="56.84" r="0.4" fill="#4a5ac0" opacity="0.5"/>
<circle cx="59.94" cy="45.19" r="0.4" fill="#4a5ac0" opacity="0.5"/>
<circle cx="59.13" cy="56.58" r="0.4" fill="#4a5ac0" opacity="0.5"/>
<circle cx="60.30" cy="51.59" r="0.4" fill="#4a5ac0" opacity="0.5"/>
<circle cx="61.35" cy="59.03" r="0.4" fill="#4a5ac0" opacity="0.5"/>
<circle cx="62.87" cy="51.49" r="0.4" fill="#4a5ac0" opacity="0.5"/>
<circle cx="54.24" cy="60.14" r="0.4" fill="#4a5ac0" opacity="0.5"/>
<circle cx="52.04" cy="50.96" r="0.4" fill="#4a5ac0" opacity="0.5"/>
<circle cx="55.80" cy="50.24" r="0.4" fill="#4a5ac0" opacity="0.5"/>
<circle cx="58.35" cy="59.14" r="0.4" fill="#4a5ac0" opacity="0.5"/>
<circle cx="61.33" cy="60.17" r="0.4" fill="#4a5ac0" opacity="0.5"/>
<circle cx="50.12" cy="59.33" r="0.4" fill="#4a5ac0" opacity="0.5"/>
<circle cx="53.13" cy="57.39" r="0.4" fill="#4a5ac0" opacity="0.5"/>
<circle cx="52.08" cy="48.24" r="0.4" fill="#4a5ac0" opacity="0.5"/>
<circle cx="48.27" cy="44.82" r="0.4" fill="#4a5ac0" opacity="0.5"/>
<circle cx="51.29" cy="51.47" r="0.4" fill="#4a5ac0" opacity="0.5"/>
<circle cx="50.78" cy="60.11" r="0.4" fill="#4a5ac0" opacity="0.5"/>
<circle cx="57.79" cy="53.59" r="0.4" fill="#4a5ac0" opacity="0.5"/>
<circle cx="47.87" cy="55.95" r="0.4" fill="#4a5ac0" opacity="0.5"/>
<circle cx="47.78" cy="60.18" r="0.4" fill="#4a5ac0" opacity="0.5"/>
<circle cx="62.80" cy="45.90" r="0.4" fill="#4a5ac0" opacity="0.5"/>
<circle cx="49.32" cy="42.67" r="0.4" fill="#4a5ac0" opacity="0.5"/>
<circle cx="61.64" cy="41.62" r="0.4" fill="#4a5ac0" opacity="0.5"/>
<circle cx="54.76" cy="54.77" r="0.4" fill="#4a5ac0" opacity="0.5"/>
<circle cx="59.51" cy="51.95" r="0.4" fill="#4a5ac0" opacity="0.5"/>
<circle cx="61.92" cy="57.82" r="0.4" fill="#4a5ac0" opacity="0.5"/>
<circle cx="62.42" cy="57.64" r="0.4" fill="#4a5ac0" opacity="0.5"/>
<circle cx="51.25" cy="44.25" r="0.4" fill="#4a5ac0" opacity="0.5"/>
<circle cx="59.70" cy="60.82" r="0.4" fill="#4a5ac0" opacity="0.5"/>
<circle cx="55.40" cy="56.09" r="0.4" fill="#4a5ac0" opacity="0.5"/>
<circle cx="55.65" cy="49.27" r="0.4" fill="#4a5ac0" opacity="0.5"/>
<circle cx="52.98" cy="46.68" r="0.4" fill="#4a5ac0" opacity="0.5"/>
<circle cx="60.79" cy="57.54" r="0.4" fill="#4a5ac0" opacity="0.5"/>
<circle cx="62.63" cy="45.66" r="0.4" fill="#4a5ac0" opacity="0.5"/>
<circle cx="55.01" cy="55.38" r="0.4" fill="#4a5ac0" opacity="0.5"/>
<circle cx="54.25" cy="50.04" r="0.4" fill="#4a5ac0" opacity="0.5"/>
<circle cx="61.00" cy="60.72" r="0.4" fill="#4a5ac0" opacity="0.5"/>
<circle cx="54.06" cy="52.97" r="0.4" fill="#4a5ac0" opacity="0.5"/>
<circle cx="47.95" cy="57.94" r="0.4" fill="#4a5ac0" opacity="0.5"/>
<circle cx="62.70" cy="47.70" r="0.4" fill="#4a5ac0" opacity="0.5"/>
<circle cx="55.78" cy="58.56" r="0.4" fill="#4a5ac0" opacity="0.5"/>
<circle cx="60.88" cy="54.94" r="0.4" fill="#4a5ac0" opacity="0.5"/>
<circle cx="51.81" cy="50.61" r="0.4" fill="#4a5ac0" opacity="0.5"/>
<circle cx="56.35" cy="43.07" r="0.4" fill="#4a5ac0" opacity="0.5"/>
<circle cx="52.93" cy="52.91" r="0.4" fill="#4a5ac0" opacity="0.5"/>
<circle cx="48.30" cy="46.73" r="0.4" fill="#4a5ac0" opacity="0.5"/>
<path d="M37.2,41 L49.5,40.3 L50.8,50 L50,60 L50.8,73.8 L37.2,73.8 Z" fill="#3a52bc" filter="url(#b05)" opacity="1"/>
<ellipse cx="44" cy="62" rx="5" ry="9" fill="#4646ae" filter="url(#b15)" opacity="0.7"/>
<ellipse cx="42.3" cy="48.5" rx="5.5" ry="6.5" fill="#38a8dc" filter="url(#b15)" opacity="0.9"/>
<ellipse cx="41.3" cy="47.3" rx="3.2" ry="3.3" fill="#6cd048" filter="url(#b1)" opacity="1"/>
<path d="M54,74.2 L54,62 L56.5,56 L59.5,52.5 L62.5,55 L65.5,63 L65.5,74.2 Z" fill="#3a52bc" filter="url(#b05)" opacity="1"/>
<ellipse cx="60" cy="66.5" rx="4.6" ry="7.8" fill="#38b0d8" filter="url(#b1)" opacity="1"/>
<ellipse cx="60.3" cy="68" rx="3.1" ry="5.6" fill="#70d048" filter="url(#b1)" opacity="1"/>
<ellipse cx="60.6" cy="69.2" rx="1.7" ry="3.6" fill="#e4ec3c" filter="url(#b05)" opacity="1"/>
<linearGradient id="g2" x1="0" y1="0" x2="0" y2="1"><stop offset="0" stop-color="#98a4e0" stop-opacity="0.7"/><stop offset="0.5" stop-color="#7080d0" stop-opacity="0.9"/><stop offset="1" stop-color="#4a5ec0"/></linearGradient>
<path d="M128,48 L140,47 L152,48 L155,52 L150,58 L143,66 L142,74 L128,74 Z" fill="url(#g2)" filter="url(#b1)" opacity="1"/>
<circle cx="142.50" cy="66.65" r="0.45" fill="#ffffff" opacity="0.4"/>
<circle cx="151.02" cy="69.46" r="0.45" fill="#ffffff" opacity="0.4"/>
<circle cx="153.48" cy="58.36" r="0.45" fill="#ffffff" opacity="0.4"/>
<circle cx="146.79" cy="49.38" r="0.45" fill="#ffffff" opacity="0.4"/>
<circle cx="152.52" cy="56.59" r="0.45" fill="#ffffff" opacity="0.4"/>
<circle cx="140.79" cy="70.93" r="0.45" fill="#ffffff" opacity="0.4"/>
<circle cx="135.32" cy="51.32" r="0.45" fill="#ffffff" opacity="0.4"/>
<circle cx="150.88" cy="62.77" r="0.45" fill="#ffffff" opacity="0.4"/>
<circle cx="129.46" cy="46.79" r="0.45" fill="#ffffff" opacity="0.4"/>
<circle cx="137.19" cy="46.21" r="0.45" fill="#ffffff" opacity="0.4"/>
<circle cx="151.14" cy="51.14" r="0.45" fill="#ffffff" opacity="0.4"/>
<circle cx="134.95" cy="56.89" r="0.45" fill="#ffffff" opacity="0.4"/>
<circle cx="141.84" cy="58.11" r="0.45" fill="#ffffff" opacity="0.4"/>
<circle cx="145.23" cy="64.48" r="0.45" fill="#ffffff" opacity="0.4"/>
<circle cx="139.65" cy="48.72" r="0.45" fill="#ffffff" opacity="0.4"/>
<circle cx="155.39" cy="65.35" r="0.45" fill="#ffffff" opacity="0.4"/>
<circle cx="129.42" cy="58.37" r="0.45" fill="#ffffff" opacity="0.4"/>
<circle cx="148.85" cy="73.77" r="0.45" fill="#ffffff" opacity="0.4"/>
<circle cx="128.91" cy="46.27" r="0.45" fill="#ffffff" opacity="0.4"/>
<circle cx="140.92" cy="57.82" r="0.45" fill="#ffffff" opacity="0.4"/>
<circle cx="152.94" cy="69.14" r="0.45" fill="#ffffff" opacity="0.4"/>
<circle cx="136.62" cy="57.73" r="0.45" fill="#ffffff" opacity="0.4"/>
<circle cx="143.90" cy="70.76" r="0.45" fill="#ffffff" opacity="0.4"/>
<circle cx="132.86" cy="56.97" r="0.45" fill="#ffffff" opacity="0.4"/>
<circle cx="129.57" cy="63.96" r="0.45" fill="#ffffff" opacity="0.4"/>
<circle cx="127.77" cy="72.18" r="0.45" fill="#ffffff" opacity="0.4"/>
<circle cx="142.19" cy="62.07" r="0.45" fill="#ffffff" opacity="0.4"/>
<circle cx="129.47" cy="52.50" r="0.45" fill="#ffffff" opacity="0.4"/>
<circle cx="140.59" cy="70.01" r="0.45" fill="#ffffff" opacity="0.4"/>
<circle cx="142.63" cy="53.97" r="0.45" fill="#ffffff" opacity="0.4"/>
<circle cx="155.48" cy="64.52" r="0.45" fill="#ffffff" opacity="0.4"/>
<circle cx="142.32" cy="51.67" r="0.45" fill="#ffffff" opacity="0.4"/>
<circle cx="135.66" cy="71.20" r="0.45" fill="#ffffff" opacity="0.4"/>
<circle cx="130.85" cy="60.88" r="0.45" fill="#ffffff" opacity="0.4"/>
<circle cx="144.98" cy="55.94" r="0.45" fill="#ffffff" opacity="0.4"/>
<circle cx="149.29" cy="71.48" r="0.45" fill="#ffffff" opacity="0.4"/>
<circle cx="151.87" cy="66.66" r="0.45" fill="#ffffff" opacity="0.4"/>
<circle cx="132.90" cy="47.68" r="0.45" fill="#ffffff" opacity="0.4"/>
<circle cx="139.55" cy="54.74" r="0.45" fill="#ffffff" opacity="0.4"/>
<circle cx="132.62" cy="70.40" r="0.45" fill="#ffffff" opacity="0.4"/>
<circle cx="133.27" cy="69.04" r="0.45" fill="#ffffff" opacity="0.4"/>
<circle cx="154.19" cy="49.35" r="0.45" fill="#ffffff" opacity="0.4"/>
<circle cx="153.49" cy="57.12" r="0.45" fill="#ffffff" opacity="0.4"/>
<circle cx="133.15" cy="51.22" r="0.45" fill="#ffffff" opacity="0.4"/>
<circle cx="128.09" cy="59.97" r="0.45" fill="#ffffff" opacity="0.4"/>
<circle cx="138.15" cy="69.84" r="0.45" fill="#ffffff" opacity="0.4"/>
<circle cx="151.16" cy="47.60" r="0.45" fill="#ffffff" opacity="0.4"/>
<circle cx="138.64" cy="56.90" r="0.45" fill="#ffffff" opacity="0.4"/>
<circle cx="132.15" cy="53.02" r="0.45" fill="#ffffff" opacity="0.4"/>
<circle cx="134.64" cy="65.44" r="0.45" fill="#ffffff" opacity="0.4"/>
<circle cx="136.87" cy="49.11" r="0.45" fill="#ffffff" opacity="0.4"/>
<circle cx="133.39" cy="58.38" r="0.45" fill="#ffffff" opacity="0.4"/>
<circle cx="143.38" cy="52.87" r="0.45" fill="#ffffff" opacity="0.4"/>
<circle cx="147.29" cy="52.03" r="0.45" fill="#ffffff" opacity="0.4"/>
<circle cx="146.45" cy="63.06" r="0.45" fill="#ffffff" opacity="0.4"/>
<circle cx="132.10" cy="67.03" r="0.45" fill="#ffffff" opacity="0.4"/>
<circle cx="138.43" cy="61.11" r="0.45" fill="#ffffff" opacity="0.4"/>
<circle cx="144.34" cy="63.59" r="0.45" fill="#ffffff" opacity="0.4"/>
<circle cx="139.83" cy="47.57" r="0.45" fill="#ffffff" opacity="0.4"/>
<circle cx="149.81" cy="70.07" r="0.45" fill="#ffffff" opacity="0.4"/>
<circle cx="141.21" cy="62.21" r="0.45" fill="#ffffff" opacity="0.4"/>
<circle cx="134.79" cy="71.16" r="0.45" fill="#ffffff" opacity="0.4"/>
<circle cx="146.88" cy="52.21" r="0.45" fill="#ffffff" opacity="0.4"/>
<circle cx="150.71" cy="73.61" r="0.45" fill="#ffffff" opacity="0.4"/>
<circle cx="137.03" cy="73.87" r="0.45" fill="#ffffff" opacity="0.4"/>
<circle cx="141.01" cy="51.00" r="0.45" fill="#ffffff" opacity="0.4"/>
<circle cx="147.79" cy="55.49" r="0.45" fill="#ffffff" opacity="0.4"/>
<circle cx="148.24" cy="62.34" r="0.45" fill="#ffffff" opacity="0.4"/>
<circle cx="130.12" cy="60.79" r="0.45" fill="#ffffff" opacity="0.4"/>
<circle cx="151.67" cy="59.38" r="0.45" fill="#ffffff" opacity="0.4"/>
<circle cx="142.64" cy="70.17" r="0.45" fill="#ffffff" opacity="0.4"/>
<circle cx="139.95" cy="59.80" r="0.45" fill="#ffffff" opacity="0.4"/>
<circle cx="143.90" cy="69.07" r="0.45" fill="#ffffff" opacity="0.4"/>
<circle cx="132.89" cy="48.62" r="0.45" fill="#ffffff" opacity="0.4"/>
<circle cx="149.07" cy="61.47" r="0.45" fill="#ffffff" opacity="0.4"/>
<circle cx="135.78" cy="70.98" r="0.45" fill="#ffffff" opacity="0.4"/>
<circle cx="152.65" cy="61.16" r="0.45" fill="#ffffff" opacity="0.4"/>
<circle cx="155.66" cy="69.41" r="0.45" fill="#ffffff" opacity="0.4"/>
<circle cx="148.69" cy="54.16" r="0.45" fill="#ffffff" opacity="0.4"/>
<circle cx="127.31" cy="65.00" r="0.45" fill="#ffffff" opacity="0.4"/>
<circle cx="148.32" cy="55.82" r="0.45" fill="#ffffff" opacity="0.4"/>
<circle cx="140.88" cy="61.88" r="0.45" fill="#ffffff" opacity="0.4"/>
<circle cx="134.25" cy="65.53" r="0.45" fill="#ffffff" opacity="0.4"/>
<circle cx="143.31" cy="56.79" r="0.45" fill="#ffffff" opacity="0.4"/>
<circle cx="130.18" cy="61.51" r="0.45" fill="#ffffff" opacity="0.4"/>
<circle cx="136.27" cy="66.30" r="0.45" fill="#ffffff" opacity="0.4"/>
<circle cx="132.00" cy="57.04" r="0.45" fill="#ffffff" opacity="0.4"/>
<circle cx="132.69" cy="57.43" r="0.45" fill="#ffffff" opacity="0.4"/>
<circle cx="143.71" cy="48.99" r="0.45" fill="#ffffff" opacity="0.4"/>
<circle cx="128.59" cy="59.50" r="0.45" fill="#ffffff" opacity="0.4"/>
<circle cx="132.84" cy="60.14" r="0.45" fill="#ffffff" opacity="0.4"/>
<circle cx="131.85" cy="48.82" r="0.45" fill="#ffffff" opacity="0.4"/>
<circle cx="142.59" cy="71.85" r="0.45" fill="#ffffff" opacity="0.4"/>
<circle cx="152.19" cy="60.43" r="0.45" fill="#ffffff" opacity="0.4"/>
<circle cx="138.52" cy="47.85" r="0.45" fill="#ffffff" opacity="0.4"/>
<circle cx="135.01" cy="54.80" r="0.45" fill="#ffffff" opacity="0.4"/>
<circle cx="154.30" cy="49.28" r="0.45" fill="#ffffff" opacity="0.4"/>
<circle cx="154.49" cy="59.35" r="0.45" fill="#ffffff" opacity="0.4"/>
<circle cx="139.59" cy="53.34" r="0.45" fill="#ffffff" opacity="0.4"/>
<circle cx="154.91" cy="51.21" r="0.45" fill="#ffffff" opacity="0.4"/>
<circle cx="143.57" cy="60.30" r="0.45" fill="#ffffff" opacity="0.4"/>
<circle cx="132.79" cy="52.24" r="0.45" fill="#ffffff" opacity="0.4"/>
<circle cx="155.58" cy="68.14" r="0.45" fill="#ffffff" opacity="0.4"/>
<circle cx="148.27" cy="71.28" r="0.45" fill="#ffffff" opacity="0.4"/>
<circle cx="129.86" cy="65.70" r="0.45" fill="#ffffff" opacity="0.4"/>
<circle cx="148.77" cy="52.31" r="0.45" fill="#ffffff" opacity="0.4"/>
<circle cx="140.25" cy="73.28" r="0.45" fill="#ffffff" opacity="0.4"/>
<circle cx="136.48" cy="67.35" r="0.45" fill="#ffffff" opacity="0.4"/>
<circle cx="131.79" cy="64.68" r="0.45" fill="#ffffff" opacity="0.4"/>
<circle cx="134.81" cy="60.25" r="0.45" fill="#ffffff" opacity="0.4"/>
<circle cx="137.80" cy="70.37" r="0.45" fill="#ffffff" opacity="0.4"/>
<circle cx="148.60" cy="60.12" r="0.45" fill="#ffffff" opacity="0.4"/>
<circle cx="146.93" cy="57.97" r="0.45" fill="#ffffff" opacity="0.4"/>
<circle cx="150.32" cy="53.21" r="0.45" fill="#ffffff" opacity="0.4"/>
<circle cx="142.78" cy="62.40" r="0.45" fill="#ffffff" opacity="0.4"/>
<circle cx="138.25" cy="47.30" r="0.45" fill="#ffffff" opacity="0.4"/>
<circle cx="131.93" cy="63.93" r="0.45" fill="#ffffff" opacity="0.4"/>
<circle cx="133.13" cy="67.23" r="0.45" fill="#ffffff" opacity="0.4"/>
<circle cx="141.64" cy="72.69" r="0.45" fill="#ffffff" opacity="0.4"/>
<circle cx="151.59" cy="66.37" r="0.45" fill="#ffffff" opacity="0.4"/>
<circle cx="137.80" cy="47.22" r="0.45" fill="#ffffff" opacity="0.4"/>
<circle cx="143.14" cy="66.88" r="0.45" fill="#ffffff" opacity="0.4"/>
<circle cx="153.71" cy="51.67" r="0.45" fill="#ffffff" opacity="0.4"/>
<circle cx="131.60" cy="73.45" r="0.45" fill="#ffffff" opacity="0.4"/>
<circle cx="148.44" cy="59.57" r="0.45" fill="#ffffff" opacity="0.4"/>
<circle cx="148.42" cy="50.18" r="0.45" fill="#ffffff" opacity="0.4"/>
<circle cx="142.78" cy="64.72" r="0.45" fill="#ffffff" opacity="0.4"/>
<circle cx="144.51" cy="50.51" r="0.45" fill="#ffffff" opacity="0.4"/>
<circle cx="130.97" cy="63.50" r="0.45" fill="#ffffff" opacity="0.4"/>
<circle cx="152.65" cy="49.87" r="0.45" fill="#ffffff" opacity="0.4"/>
<circle cx="127.21" cy="48.32" r="0.45" fill="#ffffff" opacity="0.4"/>
<circle cx="149.77" cy="56.94" r="0.45" fill="#ffffff" opacity="0.4"/>
<circle cx="140.22" cy="73.83" r="0.45" fill="#ffffff" opacity="0.4"/>
<circle cx="144.72" cy="53.37" r="0.45" fill="#ffffff" opacity="0.4"/>
<circle cx="147.33" cy="46.06" r="0.45" fill="#ffffff" opacity="0.4"/>
<circle cx="135.16" cy="65.56" r="0.45" fill="#ffffff" opacity="0.4"/>
<circle cx="131.95" cy="46.91" r="0.45" fill="#ffffff" opacity="0.4"/>
<circle cx="142.03" cy="55.18" r="0.45" fill="#ffffff" opacity="0.4"/>
<circle cx="155.16" cy="48.85" r="0.45" fill="#ffffff" opacity="0.4"/>
<circle cx="150.26" cy="56.88" r="0.45" fill="#ffffff" opacity="0.4"/>
<circle cx="150.36" cy="58.46" r="0.45" fill="#ffffff" opacity="0.4"/>
<circle cx="146.36" cy="55.15" r="0.45" fill="#ffffff" opacity="0.4"/>
<circle cx="133.51" cy="58.67" r="0.45" fill="#ffffff" opacity="0.4"/>
<circle cx="150.21" cy="55.67" r="0.45" fill="#ffffff" opacity="0.4"/>
<circle cx="133.67" cy="57.64" r="0.45" fill="#ffffff" opacity="0.4"/>
<circle cx="129.78" cy="54.84" r="0.45" fill="#ffffff" opacity="0.4"/>
<circle cx="143.61" cy="61.27" r="0.45" fill="#ffffff" opacity="0.4"/>
<circle cx="144.33" cy="54.12" r="0.45" fill="#ffffff" opacity="0.4"/>
<circle cx="127.72" cy="46.74" r="0.45" fill="#ffffff" opacity="0.4"/>
<circle cx="136.83" cy="51.50" r="0.45" fill="#ffffff" opacity="0.4"/>
<circle cx="143.50" cy="53.43" r="0.45" fill="#ffffff" opacity="0.4"/>
<circle cx="149.10" cy="62.84" r="0.45" fill="#ffffff" opacity="0.4"/>
<circle cx="146.21" cy="66.59" r="0.45" fill="#ffffff" opacity="0.4"/>
<circle cx="142.13" cy="57.94" r="0.45" fill="#ffffff" opacity="0.4"/>
<circle cx="135.94" cy="47.76" r="0.45" fill="#ffffff" opacity="0.4"/>
<circle cx="150.04" cy="60.00" r="0.45" fill="#ffffff" opacity="0.4"/>
<circle cx="129.89" cy="71.95" r="0.45" fill="#ffffff" opacity="0.4"/>
<circle cx="143.88" cy="63.46" r="0.45" fill="#ffffff" opacity="0.4"/>
<circle cx="139.72" cy="49.53" r="0.45" fill="#ffffff" opacity="0.4"/>
<circle cx="155.99" cy="50.71" r="0.45" fill="#ffffff" opacity="0.4"/>
<circle cx="137.62" cy="73.98" r="0.45" fill="#ffffff" opacity="0.4"/>
<circle cx="130.54" cy="59.99" r="0.45" fill="#ffffff" opacity="0.4"/>
<circle cx="140.91" cy="52.93" r="0.45" fill="#ffffff" opacity="0.4"/>
<circle cx="153.81" cy="57.60" r="0.45" fill="#ffffff" opacity="0.4"/>
<circle cx="127.34" cy="59.26" r="0.45" fill="#ffffff" opacity="0.4"/>
<circle cx="127.14" cy="65.84" r="0.45" fill="#ffffff" opacity="0.4"/>
<circle cx="152.20" cy="71.36" r="0.45" fill="#ffffff" opacity="0.4"/>
<circle cx="128.39" cy="64.91" r="0.45" fill="#ffffff" opacity="0.4"/>
<circle cx="135.84" cy="59.23" r="0.45" fill="#ffffff" opacity="0.4"/>
<circle cx="135.71" cy="54.54" r="0.45" fill="#ffffff" opacity="0.4"/>
<circle cx="130.85" cy="63.52" r="0.45" fill="#ffffff" opacity="0.4"/>
<circle cx="129.57" cy="73.00" r="0.45" fill="#ffffff" opacity="0.4"/>
<circle cx="128.27" cy="72.99" r="0.45" fill="#ffffff" opacity="0.4"/>
<circle cx="132.56" cy="48.34" r="0.45" fill="#ffffff" opacity="0.4"/>
<circle cx="148.60" cy="60.86" r="0.45" fill="#ffffff" opacity="0.4"/>
<circle cx="149.30" cy="60.24" r="0.45" fill="#ffffff" opacity="0.4"/>
<circle cx="145.29" cy="48.32" r="0.45" fill="#ffffff" opacity="0.4"/>
<circle cx="146.54" cy="60.35" r="0.45" fill="#ffffff" opacity="0.4"/>
<circle cx="154.90" cy="46.17" r="0.45" fill="#ffffff" opacity="0.4"/>
<circle cx="128.98" cy="64.94" r="0.45" fill="#ffffff" opacity="0.4"/>
<circle cx="153.86" cy="57.81" r="0.45" fill="#ffffff" opacity="0.4"/>
<circle cx="147.62" cy="61.69" r="0.45" fill="#ffffff" opacity="0.4"/>
<circle cx="138.34" cy="59.03" r="0.45" fill="#ffffff" opacity="0.4"/>
<circle cx="144.45" cy="46.81" r="0.45" fill="#ffffff" opacity="0.4"/>
<circle cx="135.86" cy="66.67" r="0.45" fill="#ffffff" opacity="0.4"/>
<circle cx="134.49" cy="59.25" r="0.45" fill="#ffffff" opacity="0.4"/>
<circle cx="134.44" cy="56.01" r="0.45" fill="#ffffff" opacity="0.4"/>
<circle cx="145.87" cy="66.82" r="0.45" fill="#ffffff" opacity="0.4"/>
<circle cx="154.75" cy="59.35" r="0.45" fill="#ffffff" opacity="0.4"/>
<circle cx="132.88" cy="55.43" r="0.45" fill="#ffffff" opacity="0.4"/>
<circle cx="128.70" cy="52.71" r="0.45" fill="#ffffff" opacity="0.4"/>
<circle cx="143.95" cy="63.11" r="0.45" fill="#ffffff" opacity="0.4"/>
<circle cx="134.00" cy="51.08" r="0.45" fill="#ffffff" opacity="0.4"/>
<circle cx="129.84" cy="51.00" r="0.45" fill="#ffffff" opacity="0.4"/>
<circle cx="141.54" cy="53.14" r="0.45" fill="#ffffff" opacity="0.4"/>
<circle cx="152.63" cy="61.82" r="0.45" fill="#ffffff" opacity="0.4"/>
<circle cx="136.86" cy="58.07" r="0.45" fill="#ffffff" opacity="0.4"/>
<circle cx="128.16" cy="66.52" r="0.45" fill="#ffffff" opacity="0.4"/>
<circle cx="148.78" cy="56.18" r="0.45" fill="#ffffff" opacity="0.4"/>
<circle cx="148.04" cy="53.63" r="0.45" fill="#ffffff" opacity="0.4"/>
<circle cx="133.37" cy="52.39" r="0.45" fill="#ffffff" opacity="0.4"/>
<circle cx="132.70" cy="62.96" r="0.45" fill="#ffffff" opacity="0.4"/>
<circle cx="145.62" cy="66.38" r="0.45" fill="#ffffff" opacity="0.4"/>
<circle cx="130.01" cy="67.46" r="0.45" fill="#ffffff" opacity="0.4"/>
<circle cx="140.87" cy="56.60" r="0.45" fill="#ffffff" opacity="0.4"/>
<circle cx="141.59" cy="58.12" r="0.45" fill="#ffffff" opacity="0.4"/>
<circle cx="132.80" cy="57.06" r="0.45" fill="#ffffff" opacity="0.4"/>
<circle cx="145.74" cy="66.03" r="0.45" fill="#ffffff" opacity="0.4"/>
<circle cx="153.54" cy="51.44" r="0.45" fill="#ffffff" opacity="0.4"/>
<circle cx="152.84" cy="68.41" r="0.45" fill="#ffffff" opacity="0.4"/>
<circle cx="147.68" cy="73.43" r="0.45" fill="#ffffff" opacity="0.4"/>
<circle cx="131.00" cy="67.74" r="0.45" fill="#ffffff" opacity="0.4"/>
<circle cx="153.08" cy="49.42" r="0.45" fill="#ffffff" opacity="0.4"/>
<circle cx="144.25" cy="72.52" r="0.45" fill="#ffffff" opacity="0.4"/>
<circle cx="135.50" cy="69.95" r="0.45" fill="#ffffff" opacity="0.4"/>
<circle cx="153.28" cy="58.18" r="0.45" fill="#ffffff" opacity="0.4"/>
<circle cx="131.21" cy="52.04" r="0.45" fill="#ffffff" opacity="0.4"/>
<circle cx="151.07" cy="57.82" r="0.45" fill="#ffffff" opacity="0.4"/>
<circle cx="136.15" cy="58.40" r="0.45" fill="#ffffff" opacity="0.4"/>
<circle cx="153.92" cy="53.11" r="0.45" fill="#ffffff" opacity="0.4"/>
<circle cx="127.53" cy="72.58" r="0.45" fill="#ffffff" opacity="0.4"/>
<circle cx="136.19" cy="56.79" r="0.45" fill="#ffffff" opacity="0.4"/>
<circle cx="155.30" cy="53.89" r="0.45" fill="#ffffff" opacity="0.4"/>
<circle cx="129.49" cy="70.86" r="0.45" fill="#ffffff" opacity="0.4"/>
<circle cx="134.07" cy="52.20" r="0.45" fill="#ffffff" opacity="0.4"/>
<circle cx="154.19" cy="52.42" r="0.45" fill="#ffffff" opacity="0.4"/>
<circle cx="153.13" cy="55.33" r="0.45" fill="#ffffff" opacity="0.4"/>
<circle cx="135.79" cy="52.04" r="0.45" fill="#ffffff" opacity="0.4"/>
<circle cx="142.73" cy="61.68" r="0.45" fill="#ffffff" opacity="0.4"/>
<circle cx="138.55" cy="60.21" r="0.45" fill="#ffffff" opacity="0.4"/>
<circle cx="135.64" cy="69.45" r="0.45" fill="#ffffff" opacity="0.4"/>
<circle cx="154.08" cy="67.09" r="0.45" fill="#ffffff" opacity="0.4"/>
<circle cx="150.77" cy="47.98" r="0.45" fill="#ffffff" opacity="0.4"/>
<circle cx="134.26" cy="51.70" r="0.45" fill="#ffffff" opacity="0.4"/>
<circle cx="131.49" cy="73.12" r="0.45" fill="#ffffff" opacity="0.4"/>
<circle cx="153.25" cy="71.60" r="0.45" fill="#ffffff" opacity="0.4"/>
<circle cx="143.18" cy="49.26" r="0.45" fill="#ffffff" opacity="0.4"/>
<circle cx="139.38" cy="47.57" r="0.45" fill="#ffffff" opacity="0.4"/>
<circle cx="153.23" cy="53.43" r="0.45" fill="#ffffff" opacity="0.4"/>
<circle cx="135.36" cy="72.48" r="0.45" fill="#ffffff" opacity="0.4"/>
<circle cx="132.81" cy="71.83" r="0.45" fill="#ffffff" opacity="0.4"/>
<circle cx="136.02" cy="64.62" r="0.45" fill="#ffffff" opacity="0.4"/>
<circle cx="130.09" cy="71.15" r="0.45" fill="#ffffff" opacity="0.4"/>
<circle cx="138.56" cy="55.66" r="0.45" fill="#ffffff" opacity="0.4"/>
<circle cx="145.98" cy="62.61" r="0.45" fill="#ffffff" opacity="0.4"/>
<circle cx="134.28" cy="49.48" r="0.45" fill="#ffffff" opacity="0.4"/>
<circle cx="143.69" cy="46.69" r="0.45" fill="#ffffff" opacity="0.4"/>
<circle cx="152.27" cy="55.63" r="0.45" fill="#ffffff" opacity="0.4"/>
<circle cx="131.92" cy="55.18" r="0.45" fill="#ffffff" opacity="0.4"/>
<circle cx="130.30" cy="54.87" r="0.45" fill="#ffffff" opacity="0.4"/>
<circle cx="142.75" cy="57.39" r="0.45" fill="#ffffff" opacity="0.4"/>
<circle cx="136.69" cy="54.14" r="0.45" fill="#ffffff" opacity="0.4"/>
<circle cx="141.11" cy="67.80" r="0.45" fill="#ffffff" opacity="0.4"/>
<circle cx="139.69" cy="67.50" r="0.45" fill="#ffffff" opacity="0.4"/>
<circle cx="141.00" cy="49.37" r="0.45" fill="#ffffff" opacity="0.4"/>
<circle cx="131.94" cy="69.73" r="0.45" fill="#ffffff" opacity="0.4"/>
<circle cx="140.90" cy="56.71" r="0.45" fill="#ffffff" opacity="0.4"/>
<circle cx="141.95" cy="69.69" r="0.45" fill="#ffffff" opacity="0.4"/>
<circle cx="137.88" cy="56.12" r="0.45" fill="#ffffff" opacity="0.4"/>
<circle cx="137.61" cy="46.30" r="0.45" fill="#ffffff" opacity="0.4"/>
<circle cx="142.80" cy="59.42" r="0.45" fill="#ffffff" opacity="0.4"/>
<circle cx="141.38" cy="58.64" r="0.45" fill="#ffffff" opacity="0.4"/>
<circle cx="140.70" cy="66.03" r="0.45" fill="#ffffff" opacity="0.4"/>
<circle cx="132.40" cy="73.48" r="0.45" fill="#ffffff" opacity="0.4"/>
<circle cx="130.33" cy="70.26" r="0.45" fill="#ffffff" opacity="0.4"/>
<circle cx="132.08" cy="68.27" r="0.45" fill="#ffffff" opacity="0.4"/>
<circle cx="134.56" cy="48.19" r="0.45" fill="#ffffff" opacity="0.4"/>
<circle cx="142.68" cy="69.49" r="0.45" fill="#ffffff" opacity="0.4"/>
<circle cx="151.52" cy="70.56" r="0.45" fill="#ffffff" opacity="0.4"/>
<circle cx="155.41" cy="47.49" r="0.45" fill="#ffffff" opacity="0.4"/>
<circle cx="137.99" cy="48.99" r="0.45" fill="#ffffff" opacity="0.4"/>
<circle cx="148.90" cy="58.64" r="0.45" fill="#ffffff" opacity="0.4"/>
<circle cx="148.58" cy="68.28" r="0.45" fill="#ffffff" opacity="0.4"/>
<circle cx="155.97" cy="64.95" r="0.45" fill="#ffffff" opacity="0.4"/>
<circle cx="152.38" cy="61.36" r="0.45" fill="#ffffff" opacity="0.4"/>
<circle cx="129.34" cy="70.95" r="0.45" fill="#ffffff" opacity="0.4"/>
<circle cx="129.64" cy="48.40" r="0.45" fill="#ffffff" opacity="0.4"/>
<circle cx="151.08" cy="53.86" r="0.45" fill="#ffffff" opacity="0.4"/>
<circle cx="146.21" cy="46.80" r="0.45" fill="#ffffff" opacity="0.4"/>
<circle cx="133.11" cy="66.04" r="0.45" fill="#ffffff" opacity="0.4"/>
<circle cx="128.09" cy="60.30" r="0.45" fill="#ffffff" opacity="0.4"/>
<circle cx="154.19" cy="52.00" r="0.45" fill="#ffffff" opacity="0.4"/>
<circle cx="147.44" cy="66.83" r="0.45" fill="#ffffff" opacity="0.4"/>
<circle cx="144.98" cy="67.46" r="0.45" fill="#ffffff" opacity="0.4"/>
<circle cx="147.25" cy="46.40" r="0.45" fill="#ffffff" opacity="0.4"/>
<circle cx="132.56" cy="61.02" r="0.45" fill="#ffffff" opacity="0.4"/>
<circle cx="155.13" cy="52.07" r="0.45" fill="#ffffff" opacity="0.4"/>
<circle cx="144.02" cy="49.59" r="0.45" fill="#ffffff" opacity="0.4"/>
<circle cx="151.56" cy="58.46" r="0.45" fill="#ffffff" opacity="0.4"/>
<circle cx="142.14" cy="64.74" r="0.45" fill="#ffffff" opacity="0.4"/>
<circle cx="130.96" cy="66.41" r="0.45" fill="#ffffff" opacity="0.4"/>
<circle cx="150.20" cy="70.07" r="0.45" fill="#ffffff" opacity="0.4"/>
<circle cx="135.16" cy="52.56" r="0.45" fill="#ffffff" opacity="0.4"/>
<circle cx="131.78" cy="71.18" r="0.45" fill="#ffffff" opacity="0.4"/>
<circle cx="139.70" cy="56.92" r="0.45" fill="#ffffff" opacity="0.4"/>
<circle cx="142.09" cy="65.56" r="0.45" fill="#ffffff" opacity="0.4"/>
<circle cx="136.22" cy="55.42" r="0.45" fill="#ffffff" opacity="0.4"/>
<circle cx="149.22" cy="67.75" r="0.45" fill="#ffffff" opacity="0.4"/>
<circle cx="135.58" cy="48.06" r="0.45" fill="#ffffff" opacity="0.4"/>
<circle cx="153.91" cy="66.43" r="0.45" fill="#ffffff" opacity="0.4"/>
<circle cx="144.23" cy="57.33" r="0.45" fill="#ffffff" opacity="0.4"/>
<circle cx="154.81" cy="58.06" r="0.45" fill="#ffffff" opacity="0.4"/>
<circle cx="133.28" cy="48.81" r="0.45" fill="#ffffff" opacity="0.4"/>
<circle cx="137.18" cy="62.82" r="0.45" fill="#ffffff" opacity="0.4"/>
<circle cx="137.57" cy="72.52" r="0.45" fill="#ffffff" opacity="0.4"/>
<circle cx="145.84" cy="58.83" r="0.45" fill="#ffffff" opacity="0.4"/>
<circle cx="146.15" cy="62.85" r="0.45" fill="#ffffff" opacity="0.4"/>
<circle cx="144.91" cy="59.87" r="0.45" fill="#ffffff" opacity="0.4"/>
<circle cx="142.17" cy="59.75" r="0.45" fill="#ffffff" opacity="0.4"/>
<circle cx="151.11" cy="51.37" r="0.45" fill="#ffffff" opacity="0.4"/>
<circle cx="149.78" cy="54.35" r="0.45" fill="#ffffff" opacity="0.4"/>
<circle cx="151.61" cy="48.04" r="0.45" fill="#ffffff" opacity="0.4"/>
<circle cx="141.06" cy="58.40" r="0.45" fill="#ffffff" opacity="0.4"/>
<circle cx="147.64" cy="51.67" r="0.45" fill="#ffffff" opacity="0.4"/>
<circle cx="134.61" cy="49.72" r="0.45" fill="#ffffff" opacity="0.4"/>
<circle cx="143.28" cy="62.14" r="0.45" fill="#ffffff" opacity="0.4"/>
<circle cx="127.02" cy="50.98" r="0.45" fill="#ffffff" opacity="0.4"/>
<circle cx="132.79" cy="72.80" r="0.45" fill="#ffffff" opacity="0.4"/>
<circle cx="140.20" cy="61.84" r="0.45" fill="#ffffff" opacity="0.4"/>
<circle cx="135.40" cy="64.47" r="0.45" fill="#ffffff" opacity="0.4"/>
<circle cx="150.58" cy="64.79" r="0.45" fill="#ffffff" opacity="0.4"/>
<circle cx="127.04" cy="58.31" r="0.45" fill="#ffffff" opacity="0.4"/>
<circle cx="141.18" cy="47.25" r="0.45" fill="#ffffff" opacity="0.4"/>
<circle cx="149.91" cy="54.93" r="0.45" fill="#ffffff" opacity="0.4"/>
<circle cx="135.51" cy="63.51" r="0.45" fill="#ffffff" opacity="0.4"/>
<circle cx="143.96" cy="59.90" r="0.45" fill="#ffffff" opacity="0.4"/>
<circle cx="151.92" cy="60.53" r="0.45" fill="#ffffff" opacity="0.4"/>
<circle cx="136.95" cy="47.80" r="0.45" fill="#ffffff" opacity="0.4"/>
<circle cx="143.03" cy="56.18" r="0.45" fill="#ffffff" opacity="0.4"/>
<circle cx="142.56" cy="55.73" r="0.45" fill="#ffffff" opacity="0.4"/>
<circle cx="127.20" cy="47.06" r="0.45" fill="#ffffff" opacity="0.4"/>
<circle cx="131.58" cy="48.63" r="0.45" fill="#ffffff" opacity="0.4"/>
<circle cx="151.69" cy="62.26" r="0.45" fill="#ffffff" opacity="0.4"/>
<circle cx="133.92" cy="65.90" r="0.45" fill="#ffffff" opacity="0.4"/>
<circle cx="145.40" cy="47.74" r="0.45" fill="#ffffff" opacity="0.4"/>
<circle cx="148.79" cy="52.41" r="0.45" fill="#ffffff" opacity="0.4"/>
<circle cx="155.92" cy="49.97" r="0.45" fill="#ffffff" opacity="0.4"/>
<circle cx="135.29" cy="52.98" r="0.45" fill="#ffffff" opacity="0.4"/>
<circle cx="152.00" cy="68.92" r="0.45" fill="#ffffff" opacity="0.4"/>
<circle cx="143.80" cy="50.17" r="0.45" fill="#ffffff" opacity="0.4"/>
<circle cx="139.43" cy="65.66" r="0.45" fill="#ffffff" opacity="0.4"/>
<circle cx="128.68" cy="71.79" r="0.45" fill="#ffffff" opacity="0.4"/>
<circle cx="151.40" cy="72.09" r="0.45" fill="#ffffff" opacity="0.4"/>
<circle cx="147.26" cy="63.29" r="0.45" fill="#ffffff" opacity="0.4"/>
<circle cx="155.28" cy="53.47" r="0.45" fill="#ffffff" opacity="0.4"/>
<circle cx="135.86" cy="49.45" r="0.45" fill="#ffffff" opacity="0.4"/>
<circle cx="132.23" cy="68.36" r="0.45" fill="#ffffff" opacity="0.4"/>
<circle cx="129.76" cy="66.84" r="0.45" fill="#ffffff" opacity="0.4"/>
<circle cx="138.49" cy="70.57" r="0.45" fill="#ffffff" opacity="0.4"/>
<circle cx="149.03" cy="65.23" r="0.45" fill="#ffffff" opacity="0.4"/>
<circle cx="151.51" cy="47.19" r="0.45" fill="#ffffff" opacity="0.4"/>
<circle cx="134.70" cy="56.32" r="0.45" fill="#ffffff" opacity="0.4"/>
<circle cx="139.45" cy="64.77" r="0.45" fill="#ffffff" opacity="0.4"/>
<circle cx="152.50" cy="66.72" r="0.45" fill="#ffffff" opacity="0.4"/>
<circle cx="153.93" cy="65.49" r="0.45" fill="#ffffff" opacity="0.4"/>
<circle cx="137.34" cy="60.22" r="0.45" fill="#ffffff" opacity="0.4"/>
<circle cx="148.71" cy="68.82" r="0.45" fill="#ffffff" opacity="0.4"/>
<circle cx="137.73" cy="55.95" r="0.45" fill="#ffffff" opacity="0.4"/>
<circle cx="144.82" cy="52.39" r="0.45" fill="#ffffff" opacity="0.4"/>
<circle cx="152.61" cy="46.00" r="0.45" fill="#ffffff" opacity="0.4"/>
<circle cx="145.81" cy="59.60" r="0.45" fill="#ffffff" opacity="0.4"/>
<circle cx="132.66" cy="61.97" r="0.45" fill="#ffffff" opacity="0.4"/>
<circle cx="140.75" cy="72.94" r="0.45" fill="#ffffff" opacity="0.4"/>
<circle cx="152.65" cy="62.42" r="0.45" fill="#ffffff" opacity="0.4"/>
<circle cx="152.27" cy="70.74" r="0.45" fill="#ffffff" opacity="0.4"/>
<circle cx="131.79" cy="69.17" r="0.45" fill="#ffffff" opacity="0.4"/>
<circle cx="151.17" cy="73.74" r="0.45" fill="#ffffff" opacity="0.4"/>
<circle cx="149.03" cy="56.98" r="0.45" fill="#ffffff" opacity="0.4"/>
<circle cx="132.99" cy="64.28" r="0.45" fill="#ffffff" opacity="0.4"/>
<circle cx="133.11" cy="67.20" r="0.45" fill="#ffffff" opacity="0.4"/>
<circle cx="143.66" cy="69.12" r="0.45" fill="#ffffff" opacity="0.4"/>
<circle cx="137.34" cy="54.48" r="0.45" fill="#ffffff" opacity="0.4"/>
<circle cx="153.23" cy="64.55" r="0.45" fill="#ffffff" opacity="0.4"/>
<circle cx="137.97" cy="61.70" r="0.45" fill="#ffffff" opacity="0.4"/>
<circle cx="139.63" cy="64.00" r="0.45" fill="#ffffff" opacity="0.4"/>
<circle cx="141.99" cy="54.00" r="0.45" fill="#ffffff" opacity="0.4"/>
<circle cx="155.41" cy="70.79" r="0.45" fill="#ffffff" opacity="0.4"/>
<circle cx="149.00" cy="53.79" r="0.45" fill="#ffffff" opacity="0.4"/>
<circle cx="132.63" cy="66.47" r="0.45" fill="#ffffff" opacity="0.4"/>
<circle cx="150.85" cy="64.28" r="0.45" fill="#ffffff" opacity="0.4"/>
<circle cx="133.19" cy="66.17" r="0.45" fill="#ffffff" opacity="0.4"/>
<circle cx="142.17" cy="56.45" r="0.45" fill="#ffffff" opacity="0.4"/>
<circle cx="144.08" cy="58.57" r="0.45" fill="#ffffff" opacity="0.4"/>
<circle cx="145.81" cy="67.05" r="0.45" fill="#ffffff" opacity="0.4"/>
<circle cx="155.50" cy="49.11" r="0.45" fill="#ffffff" opacity="0.4"/>
<circle cx="143.56" cy="72.47" r="0.45" fill="#ffffff" opacity="0.4"/>
<circle cx="146.05" cy="62.23" r="0.45" fill="#ffffff" opacity="0.4"/>
<circle cx="151.74" cy="46.88" r="0.45" fill="#ffffff" opacity="0.4"/>
<circle cx="149.99" cy="63.45" r="0.45" fill="#ffffff" opacity="0.4"/>
<circle cx="143.94" cy="54.70" r="0.45" fill="#ffffff" opacity="0.4"/>
<circle cx="144.96" cy="49.51" r="0.45" fill="#ffffff" opacity="0.4"/>
<circle cx="142.24" cy="53.22" r="0.45" fill="#ffffff" opacity="0.4"/>
<circle cx="154.02" cy="68.53" r="0.45" fill="#ffffff" opacity="0.4"/>
<circle cx="140.71" cy="67.14" r="0.45" fill="#ffffff" opacity="0.4"/>
<circle cx="138.16" cy="60.66" r="0.45" fill="#ffffff" opacity="0.4"/>
<circle cx="131.68" cy="70.02" r="0.45" fill="#ffffff" opacity="0.4"/>
<circle cx="149.16" cy="67.28" r="0.45" fill="#ffffff" opacity="0.4"/>
<circle cx="129.41" cy="68.94" r="0.45" fill="#ffffff" opacity="0.4"/>
<circle cx="127.35" cy="61.82" r="0.45" fill="#ffffff" opacity="0.4"/>
<circle cx="141.15" cy="47.66" r="0.45" fill="#ffffff" opacity="0.4"/>
<circle cx="139.23" cy="70.84" r="0.45" fill="#ffffff" opacity="0.4"/>
<circle cx="145.10" cy="54.81" r="0.45" fill="#ffffff" opacity="0.4"/>
<circle cx="150.62" cy="55.95" r="0.45" fill="#ffffff" opacity="0.4"/>
<circle cx="153.01" cy="57.22" r="0.45" fill="#ffffff" opacity="0.4"/>
<circle cx="129.25" cy="73.21" r="0.45" fill="#ffffff" opacity="0.4"/>
<circle cx="129.06" cy="53.09" r="0.45" fill="#ffffff" opacity="0.4"/>
<circle cx="149.36" cy="49.22" r="0.45" fill="#ffffff" opacity="0.4"/>
<circle cx="142.78" cy="70.05" r="0.45" fill="#ffffff" opacity="0.4"/>
<circle cx="144.11" cy="55.75" r="0.45" fill="#ffffff" opacity="0.4"/>
<circle cx="148.98" cy="69.12" r="0.45" fill="#ffffff" opacity="0.4"/>
<circle cx="143.80" cy="63.55" r="0.45" fill="#ffffff" opacity="0.4"/>
<circle cx="136.35" cy="57.41" r="0.45" fill="#ffffff" opacity="0.4"/>
<circle cx="155.76" cy="73.21" r="0.45" fill="#ffffff" opacity="0.4"/>
<circle cx="127.05" cy="51.50" r="0.45" fill="#ffffff" opacity="0.4"/>
<circle cx="133.53" cy="68.20" r="0.45" fill="#ffffff" opacity="0.4"/>
<circle cx="132.82" cy="50.74" r="0.45" fill="#ffffff" opacity="0.4"/>
<circle cx="149.21" cy="50.73" r="0.45" fill="#ffffff" opacity="0.4"/>
<circle cx="155.34" cy="58.75" r="0.45" fill="#ffffff" opacity="0.4"/>
<circle cx="153.06" cy="68.95" r="0.45" fill="#ffffff" opacity="0.4"/>
<circle cx="133.01" cy="68.00" r="0.45" fill="#ffffff" opacity="0.4"/>
<circle cx="139.03" cy="52.22" r="0.45" fill="#ffffff" opacity="0.4"/>
<circle cx="128.34" cy="65.69" r="0.45" fill="#ffffff" opacity="0.4"/>
<circle cx="143.27" cy="54.49" r="0.45" fill="#ffffff" opacity="0.4"/>
<circle cx="151.15" cy="51.52" r="0.45" fill="#ffffff" opacity="0.4"/>
<circle cx="139.90" cy="48.44" r="0.45" fill="#ffffff" opacity="0.4"/>
<circle cx="137.16" cy="70.77" r="0.45" fill="#ffffff" opacity="0.4"/>
<circle cx="141.50" cy="50.30" r="0.45" fill="#ffffff" opacity="0.4"/>
<circle cx="133.86" cy="64.04" r="0.45" fill="#ffffff" opacity="0.4"/>
<circle cx="135.05" cy="70.84" r="0.45" fill="#ffffff" opacity="0.4"/>
<circle cx="128.76" cy="70.33" r="0.45" fill="#ffffff" opacity="0.4"/>
<circle cx="145.04" cy="69.02" r="0.45" fill="#ffffff" opacity="0.4"/>
<circle cx="137.27" cy="47.94" r="0.45" fill="#ffffff" opacity="0.4"/>
<circle cx="131.99" cy="63.55" r="0.45" fill="#ffffff" opacity="0.4"/>
<circle cx="127.75" cy="49.09" r="0.45" fill="#ffffff" opacity="0.4"/>
<circle cx="149.69" cy="70.58" r="0.45" fill="#ffffff" opacity="0.4"/>
<circle cx="151.83" cy="69.45" r="0.45" fill="#ffffff" opacity="0.4"/>
<circle cx="143.10" cy="70.51" r="0.45" fill="#ffffff" opacity="0.4"/>
<circle cx="147.23" cy="61.61" r="0.45" fill="#ffffff" opacity="0.4"/>
<circle cx="139.34" cy="46.68" r="0.45" fill="#ffffff" opacity="0.4"/>
<circle cx="129.60" cy="52.99" r="0.45" fill="#ffffff" opacity="0.4"/>
<circle cx="140.37" cy="49.39" r="0.45" fill="#ffffff" opacity="0.4"/>
<circle cx="155.14" cy="62.14" r="0.45" fill="#ffffff" opacity="0.4"/>
<circle cx="148.47" cy="71.00" r="0.45" fill="#ffffff" opacity="0.4"/>
<circle cx="133.56" cy="70.81" r="0.45" fill="#ffffff" opacity="0.4"/>
<circle cx="154.78" cy="53.49" r="0.45" fill="#ffffff" opacity="0.4"/>
<circle cx="130.64" cy="68.40" r="0.45" fill="#ffffff" opacity="0.4"/>
<circle cx="152.80" cy="68.36" r="0.45" fill="#ffffff" opacity="0.4"/>
<circle cx="138.84" cy="62.86" r="0.45" fill="#ffffff" opacity="0.4"/>
<circle cx="130.30" cy="52.57" r="0.45" fill="#ffffff" opacity="0.4"/>
<circle cx="139.15" cy="66.85" r="0.45" fill="#ffffff" opacity="0.4"/>
<circle cx="129.57" cy="71.99" r="0.45" fill="#ffffff" opacity="0.4"/>
<circle cx="127.86" cy="73.15" r="0.45" fill="#ffffff" opacity="0.4"/>
<circle cx="133.87" cy="68.93" r="0.45" fill="#ffffff" opacity="0.4"/>
<circle cx="150.72" cy="72.72" r="0.45" fill="#ffffff" opacity="0.4"/>
<circle cx="140.64" cy="65.57" r="0.45" fill="#ffffff" opacity="0.4"/>
<circle cx="135.47" cy="69.32" r="0.45" fill="#ffffff" opacity="0.4"/>
<circle cx="130.16" cy="70.74" r="0.45" fill="#ffffff" opacity="0.4"/>
<circle cx="144.18" cy="47.73" r="0.45" fill="#ffffff" opacity="0.4"/>
<circle cx="154.30" cy="54.85" r="0.45" fill="#ffffff" opacity="0.4"/>
<circle cx="128.98" cy="53.25" r="0.45" fill="#ffffff" opacity="0.4"/>
<circle cx="127.79" cy="53.88" r="0.45" fill="#ffffff" opacity="0.4"/>
<circle cx="147.59" cy="73.68" r="0.45" fill="#ffffff" opacity="0.4"/>
<circle cx="145.31" cy="69.91" r="0.45" fill="#ffffff" opacity="0.4"/>
<circle cx="150.85" cy="66.01" r="0.45" fill="#ffffff" opacity="0.4"/>
<circle cx="138.15" cy="53.05" r="0.45" fill="#ffffff" opacity="0.4"/>
<circle cx="131.52" cy="61.32" r="0.45" fill="#ffffff" opacity="0.4"/>
<circle cx="132.92" cy="66.72" r="0.45" fill="#ffffff" opacity="0.4"/>
<circle cx="136.29" cy="62.22" r="0.45" fill="#ffffff" opacity="0.4"/>
<circle cx="142.85" cy="63.58" r="0.45" fill="#ffffff" opacity="0.4"/>
<circle cx="131.50" cy="53.18" r="0.45" fill="#ffffff" opacity="0.4"/>
<circle cx="146.97" cy="51.97" r="0.45" fill="#ffffff" opacity="0.4"/>
<circle cx="146.47" cy="73.02" r="0.45" fill="#ffffff" opacity="0.4"/>
<circle cx="138.28" cy="72.93" r="0.45" fill="#ffffff" opacity="0.4"/>
<circle cx="144.81" cy="72.44" r="0.45" fill="#ffffff" opacity="0.4"/>
<circle cx="142.26" cy="67.08" r="0.45" fill="#ffffff" opacity="0.4"/>
<circle cx="146.79" cy="51.47" r="0.45" fill="#ffffff" opacity="0.4"/>
<circle cx="142.02" cy="62.27" r="0.45" fill="#ffffff" opacity="0.4"/>
<circle cx="140.45" cy="64.48" r="0.45" fill="#ffffff" opacity="0.4"/>
<circle cx="153.36" cy="68.26" r="0.45" fill="#ffffff" opacity="0.4"/>
<circle cx="150.56" cy="50.02" r="0.45" fill="#ffffff" opacity="0.4"/>
<circle cx="147.39" cy="63.57" r="0.45" fill="#ffffff" opacity="0.4"/>
<circle cx="154.21" cy="46.07" r="0.45" fill="#ffffff" opacity="0.4"/>
<circle cx="132.00" cy="73.32" r="0.45" fill="#ffffff" opacity="0.4"/>
<circle cx="137.80" cy="65.76" r="0.45" fill="#ffffff" opacity="0.4"/>
<circle cx="144.16" cy="57.14" r="0.45" fill="#ffffff" opacity="0.4"/>
<circle cx="139.72" cy="61.74" r="0.45" fill="#ffffff" opacity="0.4"/>
<circle cx="155.57" cy="60.93" r="0.45" fill="#ffffff" opacity="0.4"/>
<circle cx="149.92" cy="54.50" r="0.45" fill="#ffffff" opacity="0.4"/>
<circle cx="147.64" cy="62.93" r="0.45" fill="#ffffff" opacity="0.4"/>
<circle cx="148.56" cy="70.63" r="0.45" fill="#ffffff" opacity="0.4"/>
<circle cx="129.31" cy="73.08" r="0.45" fill="#ffffff" opacity="0.4"/>
<circle cx="144.70" cy="53.27" r="0.45" fill="#ffffff" opacity="0.4"/>
<circle cx="140.47" cy="48.71" r="0.45" fill="#ffffff" opacity="0.4"/>
<circle cx="133.70" cy="69.46" r="0.45" fill="#ffffff" opacity="0.4"/>
<circle cx="147.62" cy="70.26" r="0.45" fill="#ffffff" opacity="0.4"/>
<circle cx="131.71" cy="49.03" r="0.45" fill="#ffffff" opacity="0.4"/>
<circle cx="138.00" cy="59.88" r="0.45" fill="#ffffff" opacity="0.4"/>
<circle cx="147.61" cy="54.35" r="0.45" fill="#ffffff" opacity="0.4"/>
<circle cx="148.38" cy="62.36" r="0.45" fill="#ffffff" opacity="0.4"/>
<circle cx="135.37" cy="68.06" r="0.45" fill="#ffffff" opacity="0.4"/>
<circle cx="129.14" cy="62.58" r="0.45" fill="#ffffff" opacity="0.4"/>
<circle cx="132.45" cy="47.19" r="0.45" fill="#ffffff" opacity="0.4"/>
<circle cx="140.87" cy="60.56" r="0.45" fill="#ffffff" opacity="0.4"/>
<circle cx="144.76" cy="56.51" r="0.45" fill="#ffffff" opacity="0.4"/>
<circle cx="153.96" cy="67.96" r="0.45" fill="#ffffff" opacity="0.4"/>
<circle cx="131.46" cy="46.13" r="0.45" fill="#ffffff" opacity="0.4"/>
<circle cx="154.86" cy="57.51" r="0.45" fill="#ffffff" opacity="0.4"/>
<circle cx="130.04" cy="50.98" r="0.45" fill="#ffffff" opacity="0.4"/>
<circle cx="147.30" cy="50.95" r="0.45" fill="#ffffff" opacity="0.4"/>
<circle cx="137.82" cy="64.95" r="0.45" fill="#ffffff" opacity="0.4"/>
<circle cx="137.22" cy="64.30" r="0.45" fill="#ffffff" opacity="0.4"/>
<circle cx="154.50" cy="68.20" r="0.45" fill="#ffffff" opacity="0.4"/>
<circle cx="145.22" cy="63.52" r="0.45" fill="#ffffff" opacity="0.4"/>
<circle cx="135.98" cy="63.93" r="0.45" fill="#ffffff" opacity="0.4"/>
<circle cx="145.82" cy="62.44" r="0.45" fill="#ffffff" opacity="0.4"/>
<circle cx="141.23" cy="67.04" r="0.45" fill="#ffffff" opacity="0.4"/>
<circle cx="132.93" cy="65.98" r="0.45" fill="#ffffff" opacity="0.4"/>
<circle cx="155.38" cy="47.01" r="0.45" fill="#ffffff" opacity="0.4"/>
<circle cx="134.31" cy="73.60" r="0.45" fill="#ffffff" opacity="0.4"/>
<circle cx="129.39" cy="68.90" r="0.45" fill="#ffffff" opacity="0.4"/>
<circle cx="143.85" cy="47.95" r="0.45" fill="#ffffff" opacity="0.4"/>
<circle cx="145.26" cy="46.21" r="0.45" fill="#ffffff" opacity="0.4"/>
<circle cx="151.63" cy="54.47" r="0.45" fill="#ffffff" opacity="0.4"/>
<circle cx="153.79" cy="71.13" r="0.45" fill="#ffffff" opacity="0.4"/>
<circle cx="130.96" cy="57.28" r="0.45" fill="#ffffff" opacity="0.4"/>
<circle cx="131.42" cy="67.22" r="0.45" fill="#ffffff" opacity="0.4"/>
<circle cx="129.77" cy="48.06" r="0.45" fill="#ffffff" opacity="0.4"/>
<circle cx="130.37" cy="70.05" r="0.45" fill="#ffffff" opacity="0.4"/>
<circle cx="134.17" cy="55.04" r="0.45" fill="#ffffff" opacity="0.4"/>
<circle cx="139.94" cy="61.45" r="0.45" fill="#ffffff" opacity="0.4"/>
<circle cx="138.98" cy="72.52" r="0.45" fill="#ffffff" opacity="0.4"/>
<circle cx="136.88" cy="59.33" r="0.45" fill="#ffffff" opacity="0.4"/>
<circle cx="152.00" cy="52.82" r="0.45" fill="#ffffff" opacity="0.4"/>
<circle cx="132.05" cy="69.42" r="0.45" fill="#ffffff" opacity="0.4"/>
<circle cx="136.16" cy="70.97" r="0.45" fill="#ffffff" opacity="0.4"/>
<circle cx="150.84" cy="56.44" r="0.45" fill="#ffffff" opacity="0.4"/>
<circle cx="136.65" cy="48.84" r="0.45" fill="#ffffff" opacity="0.4"/>
<circle cx="152.33" cy="58.39" r="0.45" fill="#ffffff" opacity="0.4"/>
<circle cx="136.92" cy="50.94" r="0.45" fill="#ffffff" opacity="0.4"/>
<circle cx="133.55" cy="70.47" r="0.45" fill="#ffffff" opacity="0.4"/>
<circle cx="130.79" cy="61.53" r="0.45" fill="#ffffff" opacity="0.4"/>
<circle cx="145.12" cy="60.57" r="0.45" fill="#ffffff" opacity="0.4"/>
<circle cx="141.57" cy="57.13" r="0.45" fill="#ffffff" opacity="0.4"/>
<circle cx="132.56" cy="68.99" r="0.45" fill="#ffffff" opacity="0.4"/>
<circle cx="153.01" cy="61.79" r="0.45" fill="#ffffff" opacity="0.4"/>
<circle cx="134.30" cy="71.54" r="0.45" fill="#ffffff" opacity="0.4"/>
<circle cx="132.85" cy="50.79" r="0.45" fill="#ffffff" opacity="0.4"/>
<circle cx="145.15" cy="69.28" r="0.45" fill="#ffffff" opacity="0.4"/>
<circle cx="143.60" cy="49.07" r="0.45" fill="#ffffff" opacity="0.4"/>
<circle cx="155.39" cy="50.37" r="0.45" fill="#ffffff" opacity="0.4"/>
<circle cx="136.97" cy="73.67" r="0.45" fill="#ffffff" opacity="0.4"/>
<circle cx="149.97" cy="67.16" r="0.45" fill="#ffffff" opacity="0.4"/>
<circle cx="129.20" cy="69.85" r="0.45" fill="#ffffff" opacity="0.4"/>
<circle cx="138.60" cy="46.30" r="0.45" fill="#ffffff" opacity="0.4"/>
<circle cx="149.88" cy="72.05" r="0.45" fill="#ffffff" opacity="0.4"/>
<circle cx="128.38" cy="58.72" r="0.45" fill="#ffffff" opacity="0.4"/>
<circle cx="153.14" cy="55.31" r="0.45" fill="#ffffff" opacity="0.4"/>
<circle cx="135.79" cy="67.81" r="0.45" fill="#ffffff" opacity="0.4"/>
<circle cx="139.80" cy="73.95" r="0.45" fill="#ffffff" opacity="0.4"/>
<circle cx="151.82" cy="70.04" r="0.45" fill="#ffffff" opacity="0.4"/>
<circle cx="147.50" cy="51.46" r="0.45" fill="#ffffff" opacity="0.4"/>
<circle cx="146.92" cy="62.20" r="0.45" fill="#ffffff" opacity="0.4"/>
<circle cx="141.00" cy="61.86" r="0.45" fill="#ffffff" opacity="0.4"/>
<circle cx="135.85" cy="51.54" r="0.45" fill="#ffffff" opacity="0.4"/>
<circle cx="153.45" cy="56.27" r="0.45" fill="#ffffff" opacity="0.4"/>
<circle cx="130.07" cy="73.34" r="0.45" fill="#ffffff" opacity="0.4"/>
<circle cx="141.81" cy="64.92" r="0.45" fill="#ffffff" opacity="0.4"/>
<circle cx="136.84" cy="50.17" r="0.45" fill="#ffffff" opacity="0.4"/>
<circle cx="136.64" cy="69.34" r="0.45" fill="#ffffff" opacity="0.4"/>
<circle cx="134.94" cy="71.54" r="0.45" fill="#ffffff" opacity="0.4"/>
<circle cx="135.83" cy="71.12" r="0.45" fill="#ffffff" opacity="0.4"/>
<circle cx="132.19" cy="58.42" r="0.45" fill="#ffffff" opacity="0.4"/>
<circle cx="130.74" cy="50.16" r="0.45" fill="#ffffff" opacity="0.4"/>
<circle cx="142.15" cy="56.22" r="0.45" fill="#ffffff" opacity="0.4"/>
<circle cx="142.59" cy="52.06" r="0.45" fill="#ffffff" opacity="0.4"/>
<circle cx="136.00" cy="55.01" r="0.45" fill="#ffffff" opacity="0.4"/>
<circle cx="153.05" cy="48.26" r="0.45" fill="#ffffff" opacity="0.4"/>
<circle cx="139.07" cy="69.92" r="0.45" fill="#ffffff" opacity="0.4"/>
<circle cx="143.59" cy="53.16" r="0.45" fill="#ffffff" opacity="0.4"/>
<circle cx="155.92" cy="49.03" r="0.45" fill="#ffffff" opacity="0.4"/>
<circle cx="130.97" cy="46.48" r="0.45" fill="#ffffff" opacity="0.4"/>
<circle cx="139.74" cy="70.04" r="0.45" fill="#ffffff" opacity="0.4"/>
<circle cx="135.19" cy="54.00" r="0.45" fill="#ffffff" opacity="0.4"/>
<circle cx="150.15" cy="48.17" r="0.45" fill="#ffffff" opacity="0.4"/>
<circle cx="127.50" cy="64.58" r="0.45" fill="#ffffff" opacity="0.4"/>
<circle cx="129.56" cy="60.77" r="0.45" fill="#ffffff" opacity="0.4"/>
<circle cx="131.20" cy="62.85" r="0.45" fill="#ffffff" opacity="0.4"/>
<circle cx="151.69" cy="58.69" r="0.45" fill="#ffffff" opacity="0.4"/>
<circle cx="134.93" cy="63.45" r="0.45" fill="#ffffff" opacity="0.4"/>
<circle cx="147.30" cy="47.59" r="0.45" fill="#ffffff" opacity="0.4"/>
<circle cx="133.96" cy="56.55" r="0.45" fill="#ffffff" opacity="0.4"/>
<circle cx="141.67" cy="53.66" r="0.45" fill="#ffffff" opacity="0.4"/>
<circle cx="146.09" cy="53.15" r="0.45" fill="#ffffff" opacity="0.4"/>
<circle cx="153.24" cy="55.85" r="0.45" fill="#ffffff" opacity="0.4"/>
<circle cx="133.43" cy="48.20" r="0.45" fill="#ffffff" opacity="0.4"/>
<circle cx="130.67" cy="52.04" r="0.45" fill="#ffffff" opacity="0.4"/>
<circle cx="152.60" cy="57.66" r="0.45" fill="#ffffff" opacity="0.4"/>
<circle cx="139.85" cy="72.87" r="0.45" fill="#ffffff" opacity="0.4"/>
<circle cx="155.03" cy="67.44" r="0.45" fill="#ffffff" opacity="0.4"/>
<circle cx="133.97" cy="55.17" r="0.45" fill="#ffffff" opacity="0.4"/>
<circle cx="144.79" cy="65.17" r="0.4" fill="#3a4aa8" opacity="0.35"/>
<circle cx="151.46" cy="58.95" r="0.4" fill="#3a4aa8" opacity="0.35"/>
<circle cx="154.80" cy="67.19" r="0.4" fill="#3a4aa8" opacity="0.35"/>
<circle cx="134.39" cy="67.33" r="0.4" fill="#3a4aa8" opacity="0.35"/>
<circle cx="135.49" cy="69.13" r="0.4" fill="#3a4aa8" opacity="0.35"/>
<circle cx="129.45" cy="53.84" r="0.4" fill="#3a4aa8" opacity="0.35"/>
<circle cx="127.64" cy="59.70" r="0.4" fill="#3a4aa8" opacity="0.35"/>
<circle cx="146.18" cy="69.14" r="0.4" fill="#3a4aa8" opacity="0.35"/>
<circle cx="150.90" cy="55.78" r="0.4" fill="#3a4aa8" opacity="0.35"/>
<circle cx="135.25" cy="60.59" r="0.4" fill="#3a4aa8" opacity="0.35"/>
<circle cx="137.18" cy="55.03" r="0.4" fill="#3a4aa8" opacity="0.35"/>
<circle cx="141.63" cy="62.80" r="0.4" fill="#3a4aa8" opacity="0.35"/>
<circle cx="153.34" cy="68.03" r="0.4" fill="#3a4aa8" opacity="0.35"/>
<circle cx="145.93" cy="70.06" r="0.4" fill="#3a4aa8" opacity="0.35"/>
<circle cx="151.61" cy="65.23" r="0.4" fill="#3a4aa8" opacity="0.35"/>
<circle cx="130.69" cy="71.30" r="0.4" fill="#3a4aa8" opacity="0.35"/>
<circle cx="140.45" cy="65.51" r="0.4" fill="#3a4aa8" opacity="0.35"/>
<circle cx="148.42" cy="62.98" r="0.4" fill="#3a4aa8" opacity="0.35"/>
<circle cx="135.49" cy="59.04" r="0.4" fill="#3a4aa8" opacity="0.35"/>
<circle cx="134.42" cy="69.12" r="0.4" fill="#3a4aa8" opacity="0.35"/>
<circle cx="129.49" cy="69.75" r="0.4" fill="#3a4aa8" opacity="0.35"/>
<circle cx="136.24" cy="67.56" r="0.4" fill="#3a4aa8" opacity="0.35"/>
<circle cx="135.81" cy="66.98" r="0.4" fill="#3a4aa8" opacity="0.35"/>
<circle cx="154.33" cy="52.64" r="0.4" fill="#3a4aa8" opacity="0.35"/>
<circle cx="154.00" cy="72.96" r="0.4" fill="#3a4aa8" opacity="0.35"/>
<circle cx="149.49" cy="72.04" r="0.4" fill="#3a4aa8" opacity="0.35"/>
<circle cx="141.74" cy="59.23" r="0.4" fill="#3a4aa8" opacity="0.35"/>
<circle cx="145.92" cy="65.61" r="0.4" fill="#3a4aa8" opacity="0.35"/>
<circle cx="153.53" cy="58.02" r="0.4" fill="#3a4aa8" opacity="0.35"/>
<circle cx="144.11" cy="53.71" r="0.4" fill="#3a4aa8" opacity="0.35"/>
<circle cx="144.14" cy="72.40" r="0.4" fill="#3a4aa8" opacity="0.35"/>
<circle cx="127.07" cy="71.29" r="0.4" fill="#3a4aa8" opacity="0.35"/>
<circle cx="135.76" cy="53.77" r="0.4" fill="#3a4aa8" opacity="0.35"/>
<circle cx="148.02" cy="58.77" r="0.4" fill="#3a4aa8" opacity="0.35"/>
<circle cx="137.30" cy="61.90" r="0.4" fill="#3a4aa8" opacity="0.35"/>
<circle cx="144.18" cy="69.60" r="0.4" fill="#3a4aa8" opacity="0.35"/>
<circle cx="154.28" cy="60.83" r="0.4" fill="#3a4aa8" opacity="0.35"/>
<circle cx="145.85" cy="55.82" r="0.4" fill="#3a4aa8" opacity="0.35"/>
<circle cx="148.25" cy="71.97" r="0.4" fill="#3a4aa8" opacity="0.35"/>
<circle cx="137.89" cy="67.16" r="0.4" fill="#3a4aa8" opacity="0.35"/>
<circle cx="132.51" cy="62.38" r="0.4" fill="#3a4aa8" opacity="0.35"/>
<circle cx="137.12" cy="69.93" r="0.4" fill="#3a4aa8" opacity="0.35"/>
<circle cx="141.85" cy="64.65" r="0.4" fill="#3a4aa8" opacity="0.35"/>
<circle cx="132.39" cy="72.68" r="0.4" fill="#3a4aa8" opacity="0.35"/>
<circle cx="137.84" cy="73.95" r="0.4" fill="#3a4aa8" opacity="0.35"/>
<circle cx="155.41" cy="68.54" r="0.4" fill="#3a4aa8" opacity="0.35"/>
<circle cx="154.65" cy="62.09" r="0.4" fill="#3a4aa8" opacity="0.35"/>
<circle cx="132.46" cy="64.23" r="0.4" fill="#3a4aa8" opacity="0.35"/>
<circle cx="153.58" cy="71.25" r="0.4" fill="#3a4aa8" opacity="0.35"/>
<circle cx="141.55" cy="73.41" r="0.4" fill="#3a4aa8" opacity="0.35"/>
<circle cx="140.64" cy="60.22" r="0.4" fill="#3a4aa8" opacity="0.35"/>
<circle cx="129.95" cy="56.80" r="0.4" fill="#3a4aa8" opacity="0.35"/>
<circle cx="137.50" cy="69.22" r="0.4" fill="#3a4aa8" opacity="0.35"/>
<circle cx="136.49" cy="69.52" r="0.4" fill="#3a4aa8" opacity="0.35"/>
<circle cx="154.61" cy="69.93" r="0.4" fill="#3a4aa8" opacity="0.35"/>
<circle cx="132.23" cy="70.97" r="0.4" fill="#3a4aa8" opacity="0.35"/>
<circle cx="146.99" cy="65.43" r="0.4" fill="#3a4aa8" opacity="0.35"/>
<circle cx="142.04" cy="63.59" r="0.4" fill="#3a4aa8" opacity="0.35"/>
<circle cx="132.85" cy="60.23" r="0.4" fill="#3a4aa8" opacity="0.35"/>
<circle cx="132.75" cy="58.73" r="0.4" fill="#3a4aa8" opacity="0.35"/>
<circle cx="128.88" cy="72.88" r="0.4" fill="#3a4aa8" opacity="0.35"/>
<circle cx="143.47" cy="54.71" r="0.4" fill="#3a4aa8" opacity="0.35"/>
<circle cx="151.60" cy="68.81" r="0.4" fill="#3a4aa8" opacity="0.35"/>
<circle cx="151.39" cy="55.78" r="0.4" fill="#3a4aa8" opacity="0.35"/>
<circle cx="138.71" cy="70.75" r="0.4" fill="#3a4aa8" opacity="0.35"/>
<circle cx="148.91" cy="62.69" r="0.4" fill="#3a4aa8" opacity="0.35"/>
<circle cx="143.46" cy="66.71" r="0.4" fill="#3a4aa8" opacity="0.35"/>
<circle cx="140.41" cy="71.09" r="0.4" fill="#3a4aa8" opacity="0.35"/>
<circle cx="132.34" cy="64.71" r="0.4" fill="#3a4aa8" opacity="0.35"/>
<circle cx="151.88" cy="73.56" r="0.4" fill="#3a4aa8" opacity="0.35"/>
<circle cx="128.18" cy="70.07" r="0.4" fill="#3a4aa8" opacity="0.35"/>
<circle cx="135.05" cy="54.55" r="0.4" fill="#3a4aa8" opacity="0.35"/>
<circle cx="148.24" cy="66.29" r="0.4" fill="#3a4aa8" opacity="0.35"/>
<circle cx="132.58" cy="67.22" r="0.4" fill="#3a4aa8" opacity="0.35"/>
<circle cx="137.19" cy="64.66" r="0.4" fill="#3a4aa8" opacity="0.35"/>
<circle cx="131.10" cy="63.08" r="0.4" fill="#3a4aa8" opacity="0.35"/>
<circle cx="152.98" cy="64.18" r="0.4" fill="#3a4aa8" opacity="0.35"/>
<circle cx="132.09" cy="58.30" r="0.4" fill="#3a4aa8" opacity="0.35"/>
<circle cx="134.55" cy="64.88" r="0.4" fill="#3a4aa8" opacity="0.35"/>
<circle cx="147.62" cy="64.63" r="0.4" fill="#3a4aa8" opacity="0.35"/>
<circle cx="153.01" cy="67.22" r="0.4" fill="#3a4aa8" opacity="0.35"/>
<circle cx="148.63" cy="64.61" r="0.4" fill="#3a4aa8" opacity="0.35"/>
<circle cx="129.17" cy="62.74" r="0.4" fill="#3a4aa8" opacity="0.35"/>
<circle cx="149.27" cy="70.11" r="0.4" fill="#3a4aa8" opacity="0.35"/>
<circle cx="131.21" cy="71.49" r="0.4" fill="#3a4aa8" opacity="0.35"/>
<circle cx="155.02" cy="68.59" r="0.4" fill="#3a4aa8" opacity="0.35"/>
<circle cx="149.45" cy="55.97" r="0.4" fill="#3a4aa8" opacity="0.35"/>
<circle cx="139.35" cy="65.61" r="0.4" fill="#3a4aa8" opacity="0.35"/>
<circle cx="140.36" cy="66.48" r="0.4" fill="#3a4aa8" opacity="0.35"/>
<circle cx="154.13" cy="69.00" r="0.4" fill="#3a4aa8" opacity="0.35"/>
<circle cx="133.44" cy="61.05" r="0.4" fill="#3a4aa8" opacity="0.35"/>
<circle cx="147.94" cy="53.14" r="0.4" fill="#3a4aa8" opacity="0.35"/>
<circle cx="144.78" cy="70.89" r="0.4" fill="#3a4aa8" opacity="0.35"/>
<circle cx="141.18" cy="53.22" r="0.4" fill="#3a4aa8" opacity="0.35"/>
<circle cx="154.65" cy="52.13" r="0.4" fill="#3a4aa8" opacity="0.35"/>
<circle cx="153.65" cy="66.50" r="0.4" fill="#3a4aa8" opacity="0.35"/>
<circle cx="128.72" cy="68.53" r="0.4" fill="#3a4aa8" opacity="0.35"/>
<circle cx="140.19" cy="66.36" r="0.4" fill="#3a4aa8" opacity="0.35"/>
<circle cx="155.95" cy="64.71" r="0.4" fill="#3a4aa8" opacity="0.35"/>
<circle cx="127.32" cy="55.96" r="0.4" fill="#3a4aa8" opacity="0.35"/>
<circle cx="130.15" cy="64.50" r="0.4" fill="#3a4aa8" opacity="0.35"/>
<circle cx="149.51" cy="49.71" r="0.4" fill="#3a4aa8" opacity="0.35"/>
<circle cx="150.51" cy="68.93" r="0.4" fill="#3a4aa8" opacity="0.35"/>
<circle cx="139.76" cy="62.98" r="0.4" fill="#3a4aa8" opacity="0.35"/>
<circle cx="149.98" cy="64.48" r="0.4" fill="#3a4aa8" opacity="0.35"/>
<circle cx="132.43" cy="53.09" r="0.4" fill="#3a4aa8" opacity="0.35"/>
<circle cx="135.34" cy="68.26" r="0.4" fill="#3a4aa8" opacity="0.35"/>
<circle cx="136.28" cy="65.07" r="0.4" fill="#3a4aa8" opacity="0.35"/>
<circle cx="155.64" cy="72.43" r="0.4" fill="#3a4aa8" opacity="0.35"/>
<circle cx="144.69" cy="57.54" r="0.4" fill="#3a4aa8" opacity="0.35"/>
<circle cx="140.65" cy="65.84" r="0.4" fill="#3a4aa8" opacity="0.35"/>
<circle cx="134.70" cy="60.32" r="0.4" fill="#3a4aa8" opacity="0.35"/>
<circle cx="147.57" cy="56.69" r="0.4" fill="#3a4aa8" opacity="0.35"/>
<circle cx="133.61" cy="73.47" r="0.4" fill="#3a4aa8" opacity="0.35"/>
<circle cx="141.96" cy="67.87" r="0.4" fill="#3a4aa8" opacity="0.35"/>
<circle cx="134.19" cy="52.57" r="0.4" fill="#3a4aa8" opacity="0.35"/>
<circle cx="144.05" cy="64.34" r="0.4" fill="#3a4aa8" opacity="0.35"/>
<circle cx="148.80" cy="65.88" r="0.4" fill="#3a4aa8" opacity="0.35"/>
<circle cx="155.65" cy="66.07" r="0.4" fill="#3a4aa8" opacity="0.35"/>
<circle cx="136.31" cy="73.06" r="0.4" fill="#3a4aa8" opacity="0.35"/>
<circle cx="145.47" cy="73.51" r="0.4" fill="#3a4aa8" opacity="0.35"/>
<circle cx="130.47" cy="70.79" r="0.4" fill="#3a4aa8" opacity="0.35"/>
<circle cx="139.68" cy="66.31" r="0.4" fill="#3a4aa8" opacity="0.35"/>
<circle cx="133.13" cy="69.09" r="0.4" fill="#3a4aa8" opacity="0.35"/>
<circle cx="137.49" cy="68.89" r="0.4" fill="#3a4aa8" opacity="0.35"/>
<circle cx="152.62" cy="71.82" r="0.4" fill="#3a4aa8" opacity="0.35"/>
<circle cx="127.82" cy="67.86" r="0.4" fill="#3a4aa8" opacity="0.35"/>
<circle cx="149.62" cy="64.92" r="0.4" fill="#3a4aa8" opacity="0.35"/>
<circle cx="136.92" cy="58.60" r="0.4" fill="#3a4aa8" opacity="0.35"/>
<circle cx="127.33" cy="57.81" r="0.4" fill="#3a4aa8" opacity="0.35"/>
<circle cx="134.38" cy="68.04" r="0.4" fill="#3a4aa8" opacity="0.35"/>
<circle cx="152.74" cy="60.55" r="0.4" fill="#3a4aa8" opacity="0.35"/>
<circle cx="132.58" cy="66.92" r="0.4" fill="#3a4aa8" opacity="0.35"/>
<circle cx="147.19" cy="60.96" r="0.4" fill="#3a4aa8" opacity="0.35"/>
<circle cx="143.51" cy="64.32" r="0.4" fill="#3a4aa8" opacity="0.35"/>
<circle cx="134.86" cy="59.27" r="0.4" fill="#3a4aa8" opacity="0.35"/>
<circle cx="143.23" cy="57.50" r="0.4" fill="#3a4aa8" opacity="0.35"/>
<circle cx="140.15" cy="56.37" r="0.4" fill="#3a4aa8" opacity="0.35"/>
<circle cx="154.50" cy="56.26" r="0.4" fill="#3a4aa8" opacity="0.35"/>
<circle cx="143.26" cy="68.94" r="0.4" fill="#3a4aa8" opacity="0.35"/>
<circle cx="128.51" cy="73.09" r="0.4" fill="#3a4aa8" opacity="0.35"/>
<circle cx="141.89" cy="66.56" r="0.4" fill="#3a4aa8" opacity="0.35"/>
<circle cx="146.33" cy="71.55" r="0.4" fill="#3a4aa8" opacity="0.35"/>
<circle cx="142.51" cy="55.51" r="0.4" fill="#3a4aa8" opacity="0.35"/>
<circle cx="150.97" cy="71.33" r="0.4" fill="#3a4aa8" opacity="0.35"/>
<circle cx="134.30" cy="60.78" r="0.4" fill="#3a4aa8" opacity="0.35"/>
<circle cx="154.04" cy="67.48" r="0.4" fill="#3a4aa8" opacity="0.35"/>
<circle cx="144.77" cy="66.17" r="0.4" fill="#3a4aa8" opacity="0.35"/>
<circle cx="139.60" cy="68.84" r="0.4" fill="#3a4aa8" opacity="0.35"/>
<circle cx="152.21" cy="70.32" r="0.4" fill="#3a4aa8" opacity="0.35"/>
<circle cx="155.21" cy="61.69" r="0.4" fill="#3a4aa8" opacity="0.35"/>
<circle cx="130.14" cy="66.32" r="0.4" fill="#3a4aa8" opacity="0.35"/>
<circle cx="130.84" cy="71.59" r="0.4" fill="#3a4aa8" opacity="0.35"/>
<circle cx="147.67" cy="64.99" r="0.4" fill="#3a4aa8" opacity="0.35"/>
<circle cx="146.07" cy="69.41" r="0.4" fill="#3a4aa8" opacity="0.35"/>
<circle cx="143.83" cy="63.64" r="0.4" fill="#3a4aa8" opacity="0.35"/>
<circle cx="148.92" cy="55.97" r="0.4" fill="#3a4aa8" opacity="0.35"/>
<circle cx="151.46" cy="58.16" r="0.4" fill="#3a4aa8" opacity="0.35"/>
<circle cx="138.14" cy="68.65" r="0.4" fill="#3a4aa8" opacity="0.35"/>
<circle cx="129.14" cy="70.10" r="0.4" fill="#3a4aa8" opacity="0.35"/>
<circle cx="143.51" cy="69.58" r="0.4" fill="#3a4aa8" opacity="0.35"/>
<circle cx="151.81" cy="57.91" r="0.4" fill="#3a4aa8" opacity="0.35"/>
<circle cx="142.82" cy="67.84" r="0.4" fill="#3a4aa8" opacity="0.35"/>
<circle cx="131.86" cy="60.90" r="0.4" fill="#3a4aa8" opacity="0.35"/>
<circle cx="133.21" cy="54.13" r="0.4" fill="#3a4aa8" opacity="0.35"/>
<circle cx="140.59" cy="65.89" r="0.4" fill="#3a4aa8" opacity="0.35"/>
<circle cx="142.68" cy="70.95" r="0.4" fill="#3a4aa8" opacity="0.35"/>
<circle cx="128.88" cy="55.29" r="0.4" fill="#3a4aa8" opacity="0.35"/>
<circle cx="136.90" cy="73.73" r="0.4" fill="#3a4aa8" opacity="0.35"/>
<circle cx="149.43" cy="66.05" r="0.4" fill="#3a4aa8" opacity="0.35"/>
<circle cx="141.97" cy="72.17" r="0.4" fill="#3a4aa8" opacity="0.35"/>
<circle cx="142.86" cy="72.75" r="0.4" fill="#3a4aa8" opacity="0.35"/>
<circle cx="140.74" cy="68.27" r="0.4" fill="#3a4aa8" opacity="0.35"/>
<circle cx="134.21" cy="68.59" r="0.4" fill="#3a4aa8" opacity="0.35"/>
<circle cx="135.91" cy="60.43" r="0.4" fill="#3a4aa8" opacity="0.35"/>
<circle cx="154.36" cy="72.82" r="0.4" fill="#3a4aa8" opacity="0.35"/>
<circle cx="130.98" cy="71.77" r="0.4" fill="#3a4aa8" opacity="0.35"/>
<circle cx="142.05" cy="47.64" r="0.4" fill="#3a4aa8" opacity="0.35"/>
<circle cx="146.97" cy="65.18" r="0.4" fill="#3a4aa8" opacity="0.35"/>
<circle cx="139.13" cy="63.14" r="0.4" fill="#3a4aa8" opacity="0.35"/>
<circle cx="145.74" cy="52.49" r="0.4" fill="#3a4aa8" opacity="0.35"/>
<circle cx="151.25" cy="50.16" r="0.4" fill="#3a4aa8" opacity="0.35"/>
<circle cx="129.62" cy="68.80" r="0.4" fill="#3a4aa8" opacity="0.35"/>
<circle cx="147.19" cy="59.67" r="0.4" fill="#3a4aa8" opacity="0.35"/>
<path d="M142,74 L143,64 L150,54 L156,51.5 L160,56 L161.5,66 L161,74 Z" fill="#3a4fc0" filter="url(#b1)" opacity="1"/>
<ellipse cx="152.8" cy="66.5" rx="5.2" ry="9" fill="#35aee0" filter="url(#b15)" opacity="1" transform="rotate(18 152.8 66.5)"/>
<ellipse cx="153" cy="68.3" rx="2.8" ry="5.6" fill="#6fd04a" filter="url(#b1)" opacity="1" transform="rotate(12 153 68.3)"/>
<circle cx="242.27" cy="61.30" r="0.42" fill="#8890d8" opacity="0.35"/>
<circle cx="236.83" cy="68.81" r="0.42" fill="#8890d8" opacity="0.35"/>
<circle cx="241.20" cy="61.53" r="0.42" fill="#8890d8" opacity="0.35"/>
<circle cx="236.91" cy="71.37" r="0.42" fill="#8890d8" opacity="0.35"/>
<circle cx="241.30" cy="72.74" r="0.42" fill="#8890d8" opacity="0.35"/>
<circle cx="252.97" cy="72.09" r="0.42" fill="#8890d8" opacity="0.35"/>
<circle cx="240.26" cy="74.09" r="0.42" fill="#8890d8" opacity="0.35"/>
<circle cx="247.84" cy="72.55" r="0.42" fill="#8890d8" opacity="0.35"/>
<circle cx="253.25" cy="64.09" r="0.42" fill="#8890d8" opacity="0.35"/>
<circle cx="243.13" cy="73.35" r="0.42" fill="#8890d8" opacity="0.35"/>
<circle cx="241.52" cy="60.59" r="0.42" fill="#8890d8" opacity="0.35"/>
<circle cx="236.72" cy="67.90" r="0.42" fill="#8890d8" opacity="0.35"/>
<circle cx="241.83" cy="74.14" r="0.42" fill="#8890d8" opacity="0.35"/>
<circle cx="236.20" cy="65.36" r="0.42" fill="#8890d8" opacity="0.35"/>
<circle cx="249.53" cy="68.72" r="0.42" fill="#8890d8" opacity="0.35"/>
<circle cx="251.83" cy="69.40" r="0.42" fill="#8890d8" opacity="0.35"/>
<circle cx="252.58" cy="74.49" r="0.42" fill="#8890d8" opacity="0.35"/>
<circle cx="252.38" cy="68.64" r="0.42" fill="#8890d8" opacity="0.35"/>
<circle cx="243.58" cy="67.49" r="0.42" fill="#8890d8" opacity="0.35"/>
<circle cx="240.18" cy="63.08" r="0.42" fill="#8890d8" opacity="0.35"/>
<circle cx="245.87" cy="66.01" r="0.42" fill="#8890d8" opacity="0.35"/>
<circle cx="243.37" cy="60.36" r="0.42" fill="#8890d8" opacity="0.35"/>
<circle cx="254.64" cy="64.31" r="0.42" fill="#8890d8" opacity="0.35"/>
<circle cx="245.12" cy="64.58" r="0.42" fill="#8890d8" opacity="0.35"/>
<circle cx="246.56" cy="71.48" r="0.42" fill="#8890d8" opacity="0.35"/>
<circle cx="253.82" cy="68.65" r="0.42" fill="#8890d8" opacity="0.35"/>
<circle cx="253.81" cy="64.87" r="0.42" fill="#8890d8" opacity="0.35"/>
<circle cx="244.99" cy="64.41" r="0.42" fill="#8890d8" opacity="0.35"/>
<circle cx="254.34" cy="61.06" r="0.42" fill="#8890d8" opacity="0.35"/>
<circle cx="240.27" cy="71.29" r="0.42" fill="#8890d8" opacity="0.35"/>
<circle cx="240.53" cy="60.05" r="0.42" fill="#8890d8" opacity="0.35"/>
<circle cx="243.00" cy="66.43" r="0.42" fill="#8890d8" opacity="0.35"/>
<circle cx="244.64" cy="62.73" r="0.42" fill="#8890d8" opacity="0.35"/>
<circle cx="242.61" cy="63.60" r="0.42" fill="#8890d8" opacity="0.35"/>
<circle cx="239.33" cy="67.11" r="0.42" fill="#8890d8" opacity="0.35"/>
<circle cx="240.33" cy="62.07" r="0.42" fill="#8890d8" opacity="0.35"/>
<circle cx="253.66" cy="73.18" r="0.42" fill="#8890d8" opacity="0.35"/>
<circle cx="243.22" cy="67.47" r="0.42" fill="#8890d8" opacity="0.35"/>
<circle cx="237.85" cy="59.31" r="0.42" fill="#8890d8" opacity="0.35"/>
<circle cx="245.75" cy="74.12" r="0.42" fill="#8890d8" opacity="0.35"/>
<circle cx="237.49" cy="66.28" r="0.42" fill="#8890d8" opacity="0.35"/>
<circle cx="251.07" cy="59.17" r="0.42" fill="#8890d8" opacity="0.35"/>
<circle cx="247.14" cy="63.19" r="0.42" fill="#8890d8" opacity="0.35"/>
<circle cx="250.33" cy="72.17" r="0.42" fill="#8890d8" opacity="0.35"/>
<circle cx="252.77" cy="71.49" r="0.42" fill="#8890d8" opacity="0.35"/>
<circle cx="237.66" cy="69.52" r="0.42" fill="#8890d8" opacity="0.35"/>
<circle cx="246.63" cy="63.82" r="0.42" fill="#8890d8" opacity="0.35"/>
<circle cx="239.82" cy="66.56" r="0.42" fill="#8890d8" opacity="0.35"/>
<circle cx="244.02" cy="65.51" r="0.42" fill="#8890d8" opacity="0.35"/>
<circle cx="254.11" cy="62.69" r="0.42" fill="#8890d8" opacity="0.35"/>
<circle cx="252.26" cy="61.32" r="0.42" fill="#8890d8" opacity="0.35"/>
<circle cx="249.11" cy="66.09" r="0.42" fill="#8890d8" opacity="0.35"/>
<circle cx="243.49" cy="66.64" r="0.42" fill="#8890d8" opacity="0.35"/>
<circle cx="238.53" cy="62.52" r="0.42" fill="#8890d8" opacity="0.35"/>
<circle cx="243.83" cy="62.07" r="0.42" fill="#8890d8" opacity="0.35"/>
<circle cx="252.06" cy="70.05" r="0.42" fill="#8890d8" opacity="0.35"/>
<circle cx="247.96" cy="70.12" r="0.42" fill="#8890d8" opacity="0.35"/>
<circle cx="239.09" cy="59.17" r="0.42" fill="#8890d8" opacity="0.35"/>
<circle cx="237.51" cy="73.14" r="0.42" fill="#8890d8" opacity="0.35"/>
<circle cx="245.26" cy="74.58" r="0.42" fill="#8890d8" opacity="0.35"/>
<circle cx="242.16" cy="65.16" r="0.42" fill="#8890d8" opacity="0.35"/>
<circle cx="248.33" cy="72.55" r="0.42" fill="#8890d8" opacity="0.35"/>
<circle cx="244.12" cy="66.73" r="0.42" fill="#8890d8" opacity="0.35"/>
<circle cx="242.76" cy="62.81" r="0.42" fill="#8890d8" opacity="0.35"/>
<circle cx="253.22" cy="73.48" r="0.42" fill="#8890d8" opacity="0.35"/>
<circle cx="244.29" cy="61.23" r="0.42" fill="#8890d8" opacity="0.35"/>
<circle cx="252.54" cy="66.43" r="0.42" fill="#8890d8" opacity="0.35"/>
<circle cx="250.20" cy="65.67" r="0.42" fill="#8890d8" opacity="0.35"/>
<circle cx="237.53" cy="70.94" r="0.42" fill="#8890d8" opacity="0.35"/>
<circle cx="238.01" cy="74.00" r="0.42" fill="#8890d8" opacity="0.35"/>
<circle cx="239.22" cy="64.47" r="0.42" fill="#8890d8" opacity="0.35"/>
<circle cx="236.07" cy="62.51" r="0.42" fill="#8890d8" opacity="0.35"/>
<circle cx="248.35" cy="60.47" r="0.42" fill="#8890d8" opacity="0.35"/>
<circle cx="238.16" cy="59.97" r="0.42" fill="#8890d8" opacity="0.35"/>
<circle cx="236.26" cy="67.24" r="0.42" fill="#8890d8" opacity="0.35"/>
<circle cx="240.28" cy="71.04" r="0.42" fill="#8890d8" opacity="0.35"/>
<circle cx="248.89" cy="67.08" r="0.42" fill="#8890d8" opacity="0.35"/>
<circle cx="253.64" cy="74.52" r="0.42" fill="#8890d8" opacity="0.35"/>
<circle cx="241.84" cy="71.40" r="0.42" fill="#8890d8" opacity="0.35"/>
<circle cx="249.18" cy="61.99" r="0.42" fill="#8890d8" opacity="0.35"/>
<circle cx="250.91" cy="59.57" r="0.42" fill="#8890d8" opacity="0.35"/>
<circle cx="248.79" cy="73.49" r="0.42" fill="#8890d8" opacity="0.35"/>
<circle cx="248.37" cy="70.16" r="0.42" fill="#8890d8" opacity="0.35"/>
<circle cx="248.52" cy="65.57" r="0.42" fill="#8890d8" opacity="0.35"/>
<circle cx="238.10" cy="65.05" r="0.42" fill="#8890d8" opacity="0.35"/>
<circle cx="241.92" cy="72.00" r="0.42" fill="#8890d8" opacity="0.35"/>
<circle cx="252.71" cy="74.51" r="0.42" fill="#8890d8" opacity="0.35"/>
<circle cx="242.32" cy="73.30" r="0.42" fill="#8890d8" opacity="0.35"/>
<circle cx="253.16" cy="59.33" r="0.42" fill="#8890d8" opacity="0.35"/>
<circle cx="246.40" cy="60.53" r="0.42" fill="#8890d8" opacity="0.35"/>
<circle cx="237.52" cy="66.09" r="0.42" fill="#8890d8" opacity="0.35"/>
<circle cx="249.40" cy="61.87" r="0.42" fill="#8890d8" opacity="0.35"/>
<circle cx="242.11" cy="66.74" r="0.42" fill="#8890d8" opacity="0.35"/>
<circle cx="246.35" cy="60.98" r="0.42" fill="#8890d8" opacity="0.35"/>
<circle cx="239.29" cy="59.22" r="0.42" fill="#8890d8" opacity="0.35"/>
<circle cx="242.11" cy="74.81" r="0.42" fill="#8890d8" opacity="0.35"/>
<circle cx="239.54" cy="71.08" r="0.42" fill="#8890d8" opacity="0.35"/>
<circle cx="248.32" cy="72.76" r="0.42" fill="#8890d8" opacity="0.35"/>
<circle cx="251.27" cy="59.99" r="0.42" fill="#8890d8" opacity="0.35"/>
<circle cx="242.26" cy="72.34" r="0.42" fill="#8890d8" opacity="0.35"/>
<circle cx="248.27" cy="72.68" r="0.42" fill="#8890d8" opacity="0.35"/>
<circle cx="236.61" cy="72.42" r="0.42" fill="#8890d8" opacity="0.35"/>
<circle cx="243.52" cy="71.60" r="0.42" fill="#8890d8" opacity="0.35"/>
<circle cx="247.08" cy="64.69" r="0.42" fill="#8890d8" opacity="0.35"/>
<circle cx="245.99" cy="59.41" r="0.42" fill="#8890d8" opacity="0.35"/>
<circle cx="253.78" cy="72.98" r="0.42" fill="#8890d8" opacity="0.35"/>
<circle cx="248.33" cy="69.35" r="0.42" fill="#8890d8" opacity="0.35"/>
<circle cx="249.99" cy="66.03" r="0.42" fill="#8890d8" opacity="0.35"/>
<circle cx="240.62" cy="69.38" r="0.42" fill="#8890d8" opacity="0.35"/>
<circle cx="254.69" cy="72.89" r="0.42" fill="#8890d8" opacity="0.35"/>
<circle cx="251.16" cy="61.63" r="0.42" fill="#8890d8" opacity="0.35"/>
<circle cx="241.92" cy="63.49" r="0.42" fill="#8890d8" opacity="0.35"/>
<circle cx="246.72" cy="73.41" r="0.42" fill="#8890d8" opacity="0.35"/>
<circle cx="247.79" cy="68.35" r="0.42" fill="#8890d8" opacity="0.35"/>
<circle cx="244.12" cy="61.81" r="0.42" fill="#8890d8" opacity="0.35"/>
<circle cx="241.04" cy="74.72" r="0.42" fill="#8890d8" opacity="0.35"/>
<circle cx="253.25" cy="69.43" r="0.42" fill="#8890d8" opacity="0.35"/>
<circle cx="249.05" cy="62.61" r="0.42" fill="#8890d8" opacity="0.35"/>
<circle cx="236.44" cy="59.39" r="0.42" fill="#8890d8" opacity="0.35"/>
<circle cx="236.34" cy="62.25" r="0.42" fill="#8890d8" opacity="0.35"/>
<circle cx="254.64" cy="68.24" r="0.42" fill="#8890d8" opacity="0.35"/>
<circle cx="240.18" cy="60.46" r="0.42" fill="#8890d8" opacity="0.35"/>
<circle cx="236.33" cy="59.21" r="0.42" fill="#8890d8" opacity="0.35"/>
<circle cx="238.57" cy="64.38" r="0.42" fill="#8890d8" opacity="0.35"/>
<circle cx="238.96" cy="62.66" r="0.42" fill="#8890d8" opacity="0.35"/>
<circle cx="247.88" cy="61.05" r="0.42" fill="#8890d8" opacity="0.35"/>
<circle cx="238.58" cy="71.35" r="0.42" fill="#8890d8" opacity="0.35"/>
<circle cx="241.33" cy="69.07" r="0.42" fill="#8890d8" opacity="0.35"/>
<circle cx="241.41" cy="70.15" r="0.42" fill="#8890d8" opacity="0.35"/>
<circle cx="236.19" cy="63.33" r="0.42" fill="#8890d8" opacity="0.35"/>
<circle cx="252.42" cy="63.68" r="0.42" fill="#8890d8" opacity="0.35"/>
<circle cx="248.09" cy="62.38" r="0.42" fill="#8890d8" opacity="0.35"/>
<circle cx="238.03" cy="65.79" r="0.42" fill="#8890d8" opacity="0.35"/>
<circle cx="244.70" cy="59.56" r="0.42" fill="#8890d8" opacity="0.35"/>
<circle cx="246.03" cy="65.77" r="0.42" fill="#8890d8" opacity="0.35"/>
<circle cx="242.82" cy="71.13" r="0.42" fill="#8890d8" opacity="0.35"/>
<circle cx="252.88" cy="65.52" r="0.42" fill="#8890d8" opacity="0.35"/>
<circle cx="241.79" cy="71.33" r="0.42" fill="#8890d8" opacity="0.35"/>
<circle cx="250.41" cy="67.19" r="0.42" fill="#8890d8" opacity="0.35"/>
<circle cx="247.66" cy="64.46" r="0.42" fill="#8890d8" opacity="0.35"/>
<circle cx="249.77" cy="68.25" r="0.42" fill="#8890d8" opacity="0.35"/>
<circle cx="252.32" cy="63.80" r="0.42" fill="#8890d8" opacity="0.35"/>
<circle cx="237.27" cy="72.85" r="0.42" fill="#8890d8" opacity="0.35"/>
<circle cx="247.13" cy="71.83" r="0.42" fill="#8890d8" opacity="0.35"/>
<circle cx="250.18" cy="71.34" r="0.42" fill="#8890d8" opacity="0.35"/>
<circle cx="242.85" cy="72.84" r="0.42" fill="#8890d8" opacity="0.35"/>
<circle cx="247.72" cy="65.52" r="0.42" fill="#8890d8" opacity="0.35"/>
<circle cx="239.19" cy="60.53" r="0.42" fill="#8890d8" opacity="0.35"/>
<circle cx="240.38" cy="64.12" r="0.42" fill="#8890d8" opacity="0.35"/>
<circle cx="242.28" cy="68.93" r="0.42" fill="#8890d8" opacity="0.35"/>
<circle cx="254.24" cy="68.02" r="0.42" fill="#8890d8" opacity="0.35"/>
<circle cx="248.63" cy="59.17" r="0.42" fill="#8890d8" opacity="0.35"/>
<circle cx="249.22" cy="67.55" r="0.42" fill="#8890d8" opacity="0.35"/>
<circle cx="250.78" cy="64.59" r="0.42" fill="#8890d8" opacity="0.35"/>
<circle cx="248.23" cy="67.19" r="0.42" fill="#8890d8" opacity="0.35"/>
<circle cx="250.85" cy="65.95" r="0.42" fill="#8890d8" opacity="0.35"/>
<circle cx="251.67" cy="72.90" r="0.42" fill="#8890d8" opacity="0.35"/>
<circle cx="246.06" cy="67.03" r="0.42" fill="#8890d8" opacity="0.35"/>
<circle cx="249.41" cy="67.31" r="0.42" fill="#8890d8" opacity="0.35"/>
<circle cx="254.43" cy="73.95" r="0.42" fill="#8890d8" opacity="0.35"/>
<circle cx="245.45" cy="70.00" r="0.42" fill="#8890d8" opacity="0.35"/>
<circle cx="238.01" cy="73.47" r="0.42" fill="#8890d8" opacity="0.35"/>
<circle cx="247.76" cy="59.41" r="0.42" fill="#8890d8" opacity="0.35"/>
<circle cx="236.19" cy="72.53" r="0.42" fill="#8890d8" opacity="0.35"/>
<circle cx="250.85" cy="68.88" r="0.42" fill="#8890d8" opacity="0.35"/>
<circle cx="243.69" cy="62.89" r="0.42" fill="#8890d8" opacity="0.35"/>
<circle cx="245.19" cy="73.52" r="0.42" fill="#8890d8" opacity="0.35"/>
<circle cx="247.98" cy="59.71" r="0.42" fill="#8890d8" opacity="0.35"/>
<circle cx="239.93" cy="60.36" r="0.42" fill="#8890d8" opacity="0.35"/>
<circle cx="252.44" cy="72.55" r="0.42" fill="#8890d8" opacity="0.35"/>
<circle cx="253.59" cy="65.89" r="0.42" fill="#8890d8" opacity="0.35"/>
<circle cx="242.00" cy="59.98" r="0.42" fill="#8890d8" opacity="0.35"/>
<circle cx="240.84" cy="64.50" r="0.42" fill="#8890d8" opacity="0.35"/>
<circle cx="243.39" cy="64.43" r="0.42" fill="#8890d8" opacity="0.35"/>
<circle cx="249.83" cy="72.74" r="0.42" fill="#8890d8" opacity="0.35"/>
<circle cx="243.20" cy="72.08" r="0.42" fill="#8890d8" opacity="0.35"/>
<circle cx="241.55" cy="63.26" r="0.42" fill="#8890d8" opacity="0.35"/>
<circle cx="251.14" cy="60.43" r="0.42" fill="#8890d8" opacity="0.35"/>
<circle cx="237.43" cy="74.88" r="0.42" fill="#8890d8" opacity="0.35"/>
<circle cx="244.95" cy="65.55" r="0.42" fill="#8890d8" opacity="0.35"/>
<circle cx="250.67" cy="73.25" r="0.42" fill="#8890d8" opacity="0.35"/>
<circle cx="243.04" cy="71.90" r="0.42" fill="#8890d8" opacity="0.35"/>
<circle cx="238.45" cy="73.22" r="0.42" fill="#8890d8" opacity="0.35"/>
<circle cx="243.86" cy="65.17" r="0.42" fill="#8890d8" opacity="0.35"/>
<circle cx="236.29" cy="60.10" r="0.42" fill="#8890d8" opacity="0.35"/>
<circle cx="243.43" cy="60.84" r="0.42" fill="#8890d8" opacity="0.35"/>
<circle cx="248.55" cy="74.95" r="0.42" fill="#8890d8" opacity="0.35"/>
<circle cx="241.49" cy="71.05" r="0.42" fill="#8890d8" opacity="0.35"/>
<circle cx="247.11" cy="68.90" r="0.42" fill="#8890d8" opacity="0.35"/>
<circle cx="250.77" cy="66.75" r="0.42" fill="#8890d8" opacity="0.35"/>
<circle cx="251.75" cy="61.54" r="0.42" fill="#8890d8" opacity="0.35"/>
<circle cx="248.96" cy="67.46" r="0.42" fill="#8890d8" opacity="0.35"/>
<circle cx="239.76" cy="62.66" r="0.42" fill="#8890d8" opacity="0.35"/>
<circle cx="254.01" cy="69.18" r="0.42" fill="#8890d8" opacity="0.35"/>
<circle cx="245.44" cy="67.02" r="0.42" fill="#8890d8" opacity="0.35"/>
<circle cx="252.13" cy="69.13" r="0.42" fill="#8890d8" opacity="0.35"/>
<circle cx="240.22" cy="74.01" r="0.42" fill="#8890d8" opacity="0.35"/>
<circle cx="252.14" cy="71.49" r="0.42" fill="#8890d8" opacity="0.35"/>
<circle cx="249.48" cy="69.77" r="0.42" fill="#8890d8" opacity="0.35"/>
<circle cx="242.15" cy="74.64" r="0.42" fill="#8890d8" opacity="0.35"/>
<circle cx="249.54" cy="61.62" r="0.42" fill="#8890d8" opacity="0.35"/>
<circle cx="251.39" cy="65.83" r="0.42" fill="#8890d8" opacity="0.35"/>
<circle cx="237.16" cy="73.12" r="0.42" fill="#8890d8" opacity="0.35"/>
<circle cx="240.29" cy="65.74" r="0.42" fill="#8890d8" opacity="0.35"/>
<circle cx="237.80" cy="67.35" r="0.42" fill="#8890d8" opacity="0.35"/>
<circle cx="246.23" cy="72.15" r="0.42" fill="#8890d8" opacity="0.35"/>
<circle cx="254.12" cy="73.17" r="0.42" fill="#8890d8" opacity="0.35"/>
<circle cx="248.71" cy="65.42" r="0.42" fill="#8890d8" opacity="0.35"/>
<circle cx="253.83" cy="62.65" r="0.42" fill="#8890d8" opacity="0.35"/>
<circle cx="242.01" cy="68.04" r="0.42" fill="#8890d8" opacity="0.35"/>
<circle cx="242.99" cy="68.08" r="0.42" fill="#8890d8" opacity="0.35"/>
<circle cx="238.22" cy="62.92" r="0.42" fill="#8890d8" opacity="0.35"/>
<circle cx="236.39" cy="65.88" r="0.42" fill="#8890d8" opacity="0.35"/>
<circle cx="240.56" cy="72.05" r="0.42" fill="#8890d8" opacity="0.35"/>
<circle cx="240.86" cy="62.07" r="0.42" fill="#8890d8" opacity="0.35"/>
<circle cx="249.62" cy="62.10" r="0.42" fill="#8890d8" opacity="0.35"/>
<circle cx="251.94" cy="67.48" r="0.42" fill="#8890d8" opacity="0.35"/>
<circle cx="238.73" cy="70.22" r="0.42" fill="#8890d8" opacity="0.35"/>
<circle cx="254.95" cy="63.92" r="0.42" fill="#8890d8" opacity="0.35"/>
<circle cx="246.55" cy="67.74" r="0.42" fill="#8890d8" opacity="0.35"/>
<circle cx="254.06" cy="74.80" r="0.42" fill="#8890d8" opacity="0.35"/>
<circle cx="237.17" cy="65.11" r="0.42" fill="#8890d8" opacity="0.35"/>
<circle cx="251.34" cy="65.70" r="0.42" fill="#8890d8" opacity="0.35"/>
<circle cx="245.68" cy="68.06" r="0.42" fill="#8890d8" opacity="0.35"/>
<circle cx="236.23" cy="59.61" r="0.42" fill="#8890d8" opacity="0.35"/>
<circle cx="253.04" cy="65.34" r="0.42" fill="#8890d8" opacity="0.35"/>
<circle cx="244.44" cy="67.94" r="0.42" fill="#8890d8" opacity="0.35"/>
<circle cx="250.28" cy="73.27" r="0.42" fill="#8890d8" opacity="0.35"/>
<circle cx="237.59" cy="69.11" r="0.42" fill="#8890d8" opacity="0.35"/>
<circle cx="236.07" cy="67.73" r="0.42" fill="#8890d8" opacity="0.35"/>
<circle cx="251.50" cy="66.65" r="0.42" fill="#8890d8" opacity="0.35"/>
<circle cx="243.01" cy="72.69" r="0.42" fill="#8890d8" opacity="0.35"/>
<circle cx="249.16" cy="73.64" r="0.42" fill="#8890d8" opacity="0.35"/>
<circle cx="246.29" cy="63.94" r="0.42" fill="#8890d8" opacity="0.35"/>
<circle cx="249.17" cy="66.80" r="0.42" fill="#8890d8" opacity="0.35"/>
<circle cx="236.02" cy="61.07" r="0.42" fill="#8890d8" opacity="0.35"/>
<circle cx="254.22" cy="69.33" r="0.42" fill="#8890d8" opacity="0.35"/>
<circle cx="236.62" cy="71.04" r="0.42" fill="#8890d8" opacity="0.35"/>
<circle cx="250.38" cy="59.76" r="0.42" fill="#8890d8" opacity="0.35"/>
<circle cx="254.80" cy="61.78" r="0.42" fill="#8890d8" opacity="0.35"/>
<circle cx="245.63" cy="70.39" r="0.42" fill="#8890d8" opacity="0.35"/>
<circle cx="245.28" cy="64.57" r="0.42" fill="#8890d8" opacity="0.35"/>
<circle cx="245.08" cy="69.09" r="0.42" fill="#8890d8" opacity="0.35"/>
<circle cx="254.10" cy="73.09" r="0.42" fill="#8890d8" opacity="0.35"/>
<circle cx="254.80" cy="71.88" r="0.42" fill="#8890d8" opacity="0.35"/>
<circle cx="245.07" cy="64.68" r="0.42" fill="#8890d8" opacity="0.35"/>
<circle cx="253.29" cy="73.75" r="0.42" fill="#8890d8" opacity="0.35"/>
<circle cx="241.73" cy="71.57" r="0.42" fill="#8890d8" opacity="0.35"/>
<circle cx="242.62" cy="59.88" r="0.42" fill="#8890d8" opacity="0.35"/>
<circle cx="244.98" cy="73.38" r="0.42" fill="#8890d8" opacity="0.35"/>
<circle cx="246.14" cy="72.03" r="0.42" fill="#8890d8" opacity="0.35"/>
<circle cx="251.99" cy="71.76" r="0.42" fill="#8890d8" opacity="0.35"/>
<circle cx="241.67" cy="73.57" r="0.42" fill="#8890d8" opacity="0.35"/>
<circle cx="237.61" cy="67.08" r="0.42" fill="#8890d8" opacity="0.35"/>
<circle cx="237.59" cy="65.13" r="0.42" fill="#8890d8" opacity="0.35"/>
<circle cx="252.84" cy="72.01" r="0.42" fill="#8890d8" opacity="0.35"/>
<circle cx="254.86" cy="67.97" r="0.42" fill="#8890d8" opacity="0.35"/>
<circle cx="245.88" cy="61.64" r="0.42" fill="#8890d8" opacity="0.35"/>
<circle cx="245.22" cy="73.51" r="0.42" fill="#8890d8" opacity="0.35"/>
<circle cx="242.46" cy="72.67" r="0.42" fill="#8890d8" opacity="0.35"/>
<circle cx="241.77" cy="71.83" r="0.42" fill="#8890d8" opacity="0.35"/>
<circle cx="239.63" cy="74.42" r="0.42" fill="#8890d8" opacity="0.35"/>
<circle cx="238.23" cy="60.29" r="0.42" fill="#8890d8" opacity="0.35"/>
<circle cx="246.89" cy="71.44" r="0.42" fill="#8890d8" opacity="0.35"/>
<circle cx="249.51" cy="65.49" r="0.42" fill="#8890d8" opacity="0.35"/>
<circle cx="249.57" cy="62.26" r="0.42" fill="#8890d8" opacity="0.35"/>
<circle cx="242.23" cy="63.62" r="0.42" fill="#8890d8" opacity="0.35"/>
<circle cx="240.30" cy="59.68" r="0.42" fill="#8890d8" opacity="0.35"/>
<circle cx="240.06" cy="67.67" r="0.42" fill="#8890d8" opacity="0.35"/>
<circle cx="247.54" cy="64.36" r="0.42" fill="#8890d8" opacity="0.35"/>
<circle cx="247.61" cy="64.29" r="0.42" fill="#8890d8" opacity="0.35"/>
<circle cx="251.37" cy="59.21" r="0.42" fill="#8890d8" opacity="0.35"/>
<circle cx="250.67" cy="73.39" r="0.42" fill="#8890d8" opacity="0.35"/>
<circle cx="247.01" cy="69.20" r="0.42" fill="#8890d8" opacity="0.35"/>
<circle cx="254.66" cy="61.31" r="0.42" fill="#8890d8" opacity="0.35"/>
<circle cx="237.80" cy="67.12" r="0.42" fill="#8890d8" opacity="0.35"/>
<circle cx="249.74" cy="67.57" r="0.42" fill="#8890d8" opacity="0.35"/>
<circle cx="245.21" cy="65.92" r="0.42" fill="#8890d8" opacity="0.35"/>
<circle cx="244.74" cy="73.03" r="0.42" fill="#8890d8" opacity="0.35"/>
<circle cx="237.31" cy="69.49" r="0.42" fill="#8890d8" opacity="0.35"/>
<circle cx="237.75" cy="72.49" r="0.42" fill="#8890d8" opacity="0.35"/>
<circle cx="240.98" cy="71.78" r="0.42" fill="#8890d8" opacity="0.35"/>
<circle cx="242.07" cy="69.14" r="0.42" fill="#8890d8" opacity="0.35"/>
<circle cx="245.67" cy="74.29" r="0.42" fill="#8890d8" opacity="0.35"/>
<circle cx="244.98" cy="67.19" r="0.42" fill="#8890d8" opacity="0.35"/>
<circle cx="245.53" cy="63.00" r="0.42" fill="#8890d8" opacity="0.35"/>
<circle cx="253.88" cy="64.48" r="0.42" fill="#8890d8" opacity="0.35"/>
<circle cx="238.87" cy="62.33" r="0.42" fill="#8890d8" opacity="0.35"/>
<circle cx="249.66" cy="73.45" r="0.42" fill="#8890d8" opacity="0.35"/>
<circle cx="247.26" cy="74.30" r="0.42" fill="#8890d8" opacity="0.35"/>
<circle cx="240.26" cy="73.17" r="0.42" fill="#8890d8" opacity="0.35"/>
<circle cx="250.60" cy="62.42" r="0.42" fill="#8890d8" opacity="0.35"/>
<circle cx="237.75" cy="65.77" r="0.42" fill="#8890d8" opacity="0.35"/>
<circle cx="243.95" cy="66.84" r="0.42" fill="#8890d8" opacity="0.35"/>
<circle cx="249.70" cy="62.66" r="0.42" fill="#8890d8" opacity="0.35"/>
<circle cx="240.84" cy="64.32" r="0.42" fill="#8890d8" opacity="0.35"/>
<circle cx="239.06" cy="66.06" r="0.42" fill="#8890d8" opacity="0.35"/>
<circle cx="247.39" cy="63.36" r="0.42" fill="#8890d8" opacity="0.35"/>
<circle cx="238.59" cy="70.68" r="0.42" fill="#8890d8" opacity="0.35"/>
<circle cx="237.65" cy="72.73" r="0.42" fill="#8890d8" opacity="0.35"/>
<circle cx="247.68" cy="62.63" r="0.42" fill="#8890d8" opacity="0.35"/>
<circle cx="236.17" cy="72.51" r="0.42" fill="#8890d8" opacity="0.35"/>
<circle cx="236.42" cy="71.06" r="0.42" fill="#8890d8" opacity="0.35"/>
<circle cx="246.14" cy="70.05" r="0.42" fill="#8890d8" opacity="0.35"/>
<circle cx="239.82" cy="70.69" r="0.42" fill="#8890d8" opacity="0.35"/>
<circle cx="240.85" cy="68.44" r="0.42" fill="#8890d8" opacity="0.35"/>
<circle cx="254.33" cy="68.54" r="0.42" fill="#8890d8" opacity="0.35"/>
<circle cx="239.04" cy="62.88" r="0.42" fill="#8890d8" opacity="0.35"/>
<circle cx="243.75" cy="72.28" r="0.42" fill="#8890d8" opacity="0.35"/>
<circle cx="251.16" cy="65.26" r="0.42" fill="#8890d8" opacity="0.35"/>
<circle cx="247.15" cy="64.67" r="0.42" fill="#8890d8" opacity="0.35"/>
<circle cx="245.32" cy="64.06" r="0.42" fill="#8890d8" opacity="0.35"/>
<circle cx="253.96" cy="64.96" r="0.42" fill="#8890d8" opacity="0.35"/>
<circle cx="242.02" cy="68.96" r="0.42" fill="#8890d8" opacity="0.35"/>
<circle cx="240.18" cy="60.79" r="0.42" fill="#8890d8" opacity="0.35"/>
<circle cx="244.45" cy="72.23" r="0.42" fill="#8890d8" opacity="0.35"/>
<circle cx="242.97" cy="63.52" r="0.42" fill="#8890d8" opacity="0.35"/>
<circle cx="241.51" cy="68.65" r="0.42" fill="#8890d8" opacity="0.35"/>
<circle cx="241.12" cy="67.53" r="0.42" fill="#8890d8" opacity="0.35"/>
<circle cx="245.71" cy="59.63" r="0.42" fill="#8890d8" opacity="0.35"/>
<circle cx="242.12" cy="72.14" r="0.42" fill="#8890d8" opacity="0.35"/>
<circle cx="240.00" cy="71.00" r="0.42" fill="#8890d8" opacity="0.35"/>
<circle cx="237.44" cy="66.82" r="0.42" fill="#8890d8" opacity="0.35"/>
<circle cx="244.03" cy="69.41" r="0.42" fill="#8890d8" opacity="0.35"/>
<circle cx="236.09" cy="60.96" r="0.42" fill="#8890d8" opacity="0.35"/>
<circle cx="243.67" cy="73.69" r="0.42" fill="#8890d8" opacity="0.35"/>
<circle cx="245.54" cy="72.78" r="0.42" fill="#8890d8" opacity="0.35"/>
<circle cx="246.10" cy="74.78" r="0.42" fill="#8890d8" opacity="0.35"/>
<circle cx="237.48" cy="72.90" r="0.42" fill="#8890d8" opacity="0.35"/>
<circle cx="240.86" cy="62.50" r="0.42" fill="#8890d8" opacity="0.35"/>
<circle cx="246.00" cy="65.69" r="0.42" fill="#8890d8" opacity="0.35"/>
<circle cx="254.91" cy="73.97" r="0.42" fill="#8890d8" opacity="0.35"/>
<circle cx="249.76" cy="62.94" r="0.42" fill="#8890d8" opacity="0.35"/>
<circle cx="240.43" cy="66.05" r="0.42" fill="#8890d8" opacity="0.35"/>
<circle cx="242.10" cy="62.51" r="0.42" fill="#8890d8" opacity="0.35"/>
<circle cx="239.91" cy="63.22" r="0.42" fill="#8890d8" opacity="0.35"/>
<circle cx="241.67" cy="60.76" r="0.42" fill="#8890d8" opacity="0.35"/>
<circle cx="241.88" cy="74.23" r="0.42" fill="#8890d8" opacity="0.35"/>
<circle cx="251.91" cy="68.88" r="0.42" fill="#8890d8" opacity="0.35"/>
<circle cx="254.18" cy="74.02" r="0.42" fill="#8890d8" opacity="0.35"/>
<circle cx="237.76" cy="59.75" r="0.42" fill="#8890d8" opacity="0.35"/>
<circle cx="242.33" cy="67.52" r="0.42" fill="#8890d8" opacity="0.35"/>
<circle cx="254.95" cy="59.43" r="0.42" fill="#8890d8" opacity="0.35"/>
<circle cx="249.30" cy="71.68" r="0.42" fill="#8890d8" opacity="0.35"/>
<circle cx="240.99" cy="71.27" r="0.42" fill="#8890d8" opacity="0.35"/>
<circle cx="252.49" cy="60.49" r="0.42" fill="#8890d8" opacity="0.35"/>
<circle cx="248.50" cy="66.57" r="0.42" fill="#8890d8" opacity="0.35"/>
<circle cx="250.65" cy="61.39" r="0.42" fill="#8890d8" opacity="0.35"/>
<circle cx="248.59" cy="59.19" r="0.42" fill="#8890d8" opacity="0.35"/>
<circle cx="236.63" cy="65.91" r="0.42" fill="#8890d8" opacity="0.35"/>
<circle cx="242.59" cy="65.91" r="0.42" fill="#8890d8" opacity="0.35"/>
<circle cx="239.99" cy="74.92" r="0.42" fill="#8890d8" opacity="0.35"/>
<circle cx="243.88" cy="66.96" r="0.42" fill="#8890d8" opacity="0.35"/>
<circle cx="242.80" cy="73.09" r="0.42" fill="#8890d8" opacity="0.35"/>
<circle cx="239.15" cy="73.90" r="0.42" fill="#8890d8" opacity="0.35"/>
<circle cx="239.64" cy="73.01" r="0.42" fill="#8890d8" opacity="0.35"/>
<circle cx="244.12" cy="68.59" r="0.42" fill="#8890d8" opacity="0.35"/>
<circle cx="240.48" cy="72.09" r="0.42" fill="#8890d8" opacity="0.35"/>
<circle cx="240.20" cy="71.58" r="0.42" fill="#8890d8" opacity="0.35"/>
<circle cx="248.52" cy="73.37" r="0.42" fill="#8890d8" opacity="0.35"/>
<circle cx="254.79" cy="71.83" r="0.42" fill="#8890d8" opacity="0.35"/>
<circle cx="239.28" cy="72.06" r="0.42" fill="#8890d8" opacity="0.35"/>
<circle cx="237.94" cy="71.97" r="0.42" fill="#8890d8" opacity="0.35"/>
<circle cx="253.52" cy="61.20" r="0.42" fill="#8890d8" opacity="0.35"/>
<circle cx="236.76" cy="71.97" r="0.42" fill="#8890d8" opacity="0.35"/>
<circle cx="242.66" cy="69.86" r="0.42" fill="#8890d8" opacity="0.35"/>
<circle cx="251.56" cy="74.07" r="0.42" fill="#8890d8" opacity="0.35"/>
<circle cx="245.85" cy="72.48" r="0.42" fill="#8890d8" opacity="0.35"/>
<circle cx="253.31" cy="71.34" r="0.42" fill="#8890d8" opacity="0.35"/>
<circle cx="243.03" cy="73.66" r="0.42" fill="#8890d8" opacity="0.35"/>
<circle cx="244.00" cy="73.42" r="0.42" fill="#8890d8" opacity="0.35"/>
<circle cx="243.28" cy="66.77" r="0.42" fill="#8890d8" opacity="0.35"/>
<circle cx="236.67" cy="60.69" r="0.42" fill="#8890d8" opacity="0.35"/>
<circle cx="253.64" cy="66.29" r="0.42" fill="#8890d8" opacity="0.35"/>
<circle cx="249.87" cy="66.59" r="0.42" fill="#8890d8" opacity="0.35"/>
<circle cx="249.79" cy="67.38" r="0.42" fill="#8890d8" opacity="0.35"/>
<circle cx="238.73" cy="64.05" r="0.42" fill="#8890d8" opacity="0.35"/>
<circle cx="248.06" cy="61.51" r="0.42" fill="#8890d8" opacity="0.35"/>
<circle cx="253.91" cy="59.97" r="0.42" fill="#8890d8" opacity="0.35"/>
<circle cx="246.72" cy="72.94" r="0.42" fill="#8890d8" opacity="0.35"/>
<circle cx="249.90" cy="61.33" r="0.42" fill="#8890d8" opacity="0.35"/>
<circle cx="238.01" cy="70.31" r="0.42" fill="#8890d8" opacity="0.35"/>
<circle cx="243.77" cy="60.57" r="0.42" fill="#8890d8" opacity="0.35"/>
<circle cx="238.39" cy="69.65" r="0.42" fill="#8890d8" opacity="0.35"/>
<circle cx="236.48" cy="63.62" r="0.42" fill="#8890d8" opacity="0.35"/>
<circle cx="253.88" cy="63.03" r="0.42" fill="#8890d8" opacity="0.35"/>
<circle cx="252.17" cy="59.42" r="0.42" fill="#8890d8" opacity="0.35"/>
<circle cx="239.81" cy="59.79" r="0.42" fill="#8890d8" opacity="0.35"/>
<circle cx="249.89" cy="68.08" r="0.42" fill="#8890d8" opacity="0.35"/>
<circle cx="250.59" cy="72.03" r="0.42" fill="#8890d8" opacity="0.35"/>
<circle cx="249.72" cy="60.72" r="0.42" fill="#8890d8" opacity="0.35"/>
<circle cx="244.70" cy="59.53" r="0.42" fill="#8890d8" opacity="0.35"/>
<circle cx="251.15" cy="65.01" r="0.42" fill="#8890d8" opacity="0.35"/>
<circle cx="244.80" cy="73.27" r="0.42" fill="#8890d8" opacity="0.35"/>
<circle cx="254.83" cy="68.67" r="0.42" fill="#8890d8" opacity="0.35"/>
<circle cx="243.35" cy="72.97" r="0.42" fill="#8890d8" opacity="0.35"/>
<circle cx="252.04" cy="62.43" r="0.42" fill="#8890d8" opacity="0.35"/>
<circle cx="244.63" cy="74.17" r="0.42" fill="#8890d8" opacity="0.35"/>
<circle cx="254.70" cy="73.63" r="0.42" fill="#8890d8" opacity="0.35"/>
<circle cx="245.25" cy="61.61" r="0.42" fill="#8890d8" opacity="0.35"/>
<circle cx="252.93" cy="62.28" r="0.42" fill="#8890d8" opacity="0.35"/>
<circle cx="247.45" cy="65.22" r="0.42" fill="#8890d8" opacity="0.35"/>
<circle cx="252.10" cy="64.87" r="0.42" fill="#8890d8" opacity="0.35"/>
<circle cx="243.17" cy="72.57" r="0.42" fill="#8890d8" opacity="0.35"/>
<circle cx="249.80" cy="74.97" r="0.42" fill="#8890d8" opacity="0.35"/>
<circle cx="238.27" cy="61.10" r="0.42" fill="#8890d8" opacity="0.35"/>
<circle cx="248.86" cy="66.95" r="0.42" fill="#8890d8" opacity="0.35"/>
<circle cx="252.98" cy="66.42" r="0.42" fill="#8890d8" opacity="0.35"/>
<circle cx="236.90" cy="66.61" r="0.42" fill="#8890d8" opacity="0.35"/>
<circle cx="240.72" cy="71.80" r="0.42" fill="#8890d8" opacity="0.35"/>
<circle cx="251.36" cy="72.82" r="0.42" fill="#8890d8" opacity="0.35"/>
<circle cx="238.07" cy="68.01" r="0.42" fill="#8890d8" opacity="0.35"/>
<circle cx="239.77" cy="74.65" r="0.42" fill="#8890d8" opacity="0.35"/>
<circle cx="238.84" cy="69.41" r="0.42" fill="#8890d8" opacity="0.35"/>
<circle cx="249.63" cy="62.22" r="0.42" fill="#8890d8" opacity="0.35"/>
<circle cx="247.08" cy="60.94" r="0.42" fill="#8890d8" opacity="0.35"/>
<circle cx="237.01" cy="63.54" r="0.42" fill="#8890d8" opacity="0.35"/>
<circle cx="237.48" cy="66.04" r="0.42" fill="#8890d8" opacity="0.35"/>
<circle cx="248.90" cy="73.80" r="0.42" fill="#8890d8" opacity="0.35"/>
<circle cx="240.96" cy="66.62" r="0.42" fill="#8890d8" opacity="0.35"/>
<circle cx="249.10" cy="61.21" r="0.4" fill="#d08098" opacity="0.4"/>
<circle cx="241.88" cy="61.59" r="0.4" fill="#d08098" opacity="0.4"/>
<circle cx="251.85" cy="61.53" r="0.4" fill="#d08098" opacity="0.4"/>
<circle cx="250.60" cy="60.03" r="0.4" fill="#d08098" opacity="0.4"/>
<circle cx="241.86" cy="61.04" r="0.4" fill="#d08098" opacity="0.4"/>
<circle cx="240.34" cy="60.10" r="0.4" fill="#d08098" opacity="0.4"/>
<circle cx="243.51" cy="64.70" r="0.4" fill="#d08098" opacity="0.4"/>
<circle cx="248.54" cy="65.95" r="0.4" fill="#d08098" opacity="0.4"/>
<circle cx="242.00" cy="61.13" r="0.4" fill="#d08098" opacity="0.4"/>
<circle cx="240.60" cy="62.45" r="0.4" fill="#d08098" opacity="0.4"/>
<circle cx="238.35" cy="64.63" r="0.4" fill="#d08098" opacity="0.4"/>
<circle cx="244.04" cy="59.29" r="0.4" fill="#d08098" opacity="0.4"/>
<circle cx="245.61" cy="62.01" r="0.4" fill="#d08098" opacity="0.4"/>
<circle cx="239.68" cy="61.12" r="0.4" fill="#d08098" opacity="0.4"/>
<circle cx="248.73" cy="65.99" r="0.4" fill="#d08098" opacity="0.4"/>
<circle cx="247.47" cy="60.80" r="0.4" fill="#d08098" opacity="0.4"/>
<circle cx="236.62" cy="61.27" r="0.4" fill="#d08098" opacity="0.4"/>
<circle cx="240.56" cy="61.96" r="0.4" fill="#d08098" opacity="0.4"/>
<circle cx="244.54" cy="60.96" r="0.4" fill="#d08098" opacity="0.4"/>
<circle cx="239.12" cy="65.51" r="0.4" fill="#d08098" opacity="0.4"/>
<circle cx="254.02" cy="64.07" r="0.4" fill="#d08098" opacity="0.4"/>
<circle cx="253.64" cy="62.98" r="0.4" fill="#d08098" opacity="0.4"/>
<circle cx="250.08" cy="62.09" r="0.4" fill="#d08098" opacity="0.4"/>
<circle cx="248.59" cy="64.93" r="0.4" fill="#d08098" opacity="0.4"/>
<circle cx="249.43" cy="64.58" r="0.4" fill="#d08098" opacity="0.4"/>
<circle cx="247.64" cy="61.41" r="0.4" fill="#d08098" opacity="0.4"/>
<circle cx="251.25" cy="65.28" r="0.4" fill="#d08098" opacity="0.4"/>
<circle cx="240.45" cy="60.16" r="0.4" fill="#d08098" opacity="0.4"/>
<circle cx="236.14" cy="60.71" r="0.4" fill="#d08098" opacity="0.4"/>
<circle cx="239.43" cy="60.41" r="0.4" fill="#d08098" opacity="0.4"/>
<circle cx="239.15" cy="61.22" r="0.4" fill="#d08098" opacity="0.4"/>
<circle cx="239.21" cy="65.73" r="0.4" fill="#d08098" opacity="0.4"/>
<circle cx="237.33" cy="59.09" r="0.4" fill="#d08098" opacity="0.4"/>
<circle cx="253.51" cy="61.68" r="0.4" fill="#d08098" opacity="0.4"/>
<circle cx="250.22" cy="61.23" r="0.4" fill="#d08098" opacity="0.4"/>
<circle cx="236.26" cy="59.27" r="0.4" fill="#d08098" opacity="0.4"/>
<circle cx="253.53" cy="59.35" r="0.4" fill="#d08098" opacity="0.4"/>
<circle cx="244.45" cy="60.84" r="0.4" fill="#d08098" opacity="0.4"/>
<circle cx="248.24" cy="61.64" r="0.4" fill="#d08098" opacity="0.4"/>
<circle cx="251.36" cy="60.50" r="0.4" fill="#d08098" opacity="0.4"/>
<circle cx="246.24" cy="65.86" r="0.4" fill="#d08098" opacity="0.4"/>
<circle cx="246.10" cy="65.67" r="0.4" fill="#d08098" opacity="0.4"/>
<circle cx="236.93" cy="65.16" r="0.4" fill="#d08098" opacity="0.4"/>
<circle cx="243.42" cy="65.98" r="0.4" fill="#d08098" opacity="0.4"/>
<circle cx="249.31" cy="60.79" r="0.4" fill="#d08098" opacity="0.4"/>
<circle cx="250.61" cy="60.17" r="0.4" fill="#d08098" opacity="0.4"/>
<circle cx="246.03" cy="64.18" r="0.4" fill="#d08098" opacity="0.4"/>
<circle cx="239.17" cy="59.40" r="0.4" fill="#d08098" opacity="0.4"/>
<circle cx="251.97" cy="60.32" r="0.4" fill="#d08098" opacity="0.4"/>
<circle cx="250.45" cy="62.30" r="0.4" fill="#d08098" opacity="0.4"/>
<circle cx="239.69" cy="65.02" r="0.4" fill="#d08098" opacity="0.4"/>
<circle cx="243.07" cy="60.84" r="0.4" fill="#d08098" opacity="0.4"/>
<circle cx="253.07" cy="65.92" r="0.4" fill="#d08098" opacity="0.4"/>
<circle cx="242.29" cy="65.82" r="0.4" fill="#d08098" opacity="0.4"/>
<circle cx="238.07" cy="64.55" r="0.4" fill="#d08098" opacity="0.4"/>
<circle cx="247.11" cy="60.71" r="0.4" fill="#d08098" opacity="0.4"/>
<circle cx="243.55" cy="61.24" r="0.4" fill="#d08098" opacity="0.4"/>
<circle cx="248.81" cy="61.96" r="0.4" fill="#d08098" opacity="0.4"/>
<circle cx="244.14" cy="63.67" r="0.4" fill="#d08098" opacity="0.4"/>
<circle cx="242.61" cy="59.58" r="0.4" fill="#d08098" opacity="0.4"/>
<path d="M219.1,50.6 L224.4,48.4 L232.4,48.4 L236.8,47.1 L241.2,45.3 L248.3,45.8 L250.9,48.8 L250,54.2 L245.6,56.8 L239.4,58.6 L237.7,61.2 L235.9,66.5 L235,72.7 L219.1,73.6 Z" fill="#3a58c0" filter="url(#b05)" opacity="1"/>
<ellipse cx="236" cy="54" rx="3" ry="5" fill="#3550b8" filter="url(#b1)" opacity="1"/>
<ellipse cx="229.2" cy="58.5" rx="7" ry="9.5" fill="#3aa0d8" filter="url(#b15)" opacity="0.9"/>
<ellipse cx="229.7" cy="57" rx="4.2" ry="5.2" fill="#6ccc50" filter="url(#b1)" opacity="1"/>
<ellipse cx="244.5" cy="51.3" rx="6.8" ry="4.6" fill="#38b0d8" filter="url(#b1)" opacity="1"/>
<ellipse cx="244.4" cy="51.4" rx="5.8" ry="3.9" fill="#70d048" filter="url(#b1)" opacity="1"/>
<ellipse cx="244.7" cy="51.1" rx="3.6" ry="2.3" fill="#d8e040" filter="url(#b1)" opacity="1"/>
<ellipse cx="244.8" cy="51.1" rx="2.3" ry="1.5" fill="#f09028" filter="url(#b05)" opacity="1"/>
<ellipse cx="244.8" cy="51.1" rx="1.1" ry="0.8" fill="#e84818" filter="url(#b05)" opacity="1"/>
<circle cx="227.87" cy="70.51" r="0.45" fill="#ffffff" opacity="0.3"/>
<circle cx="222.78" cy="55.01" r="0.45" fill="#ffffff" opacity="0.3"/>
<circle cx="236.27" cy="52.23" r="0.45" fill="#ffffff" opacity="0.3"/>
<circle cx="237.19" cy="55.88" r="0.45" fill="#ffffff" opacity="0.3"/>
<circle cx="222.18" cy="66.80" r="0.45" fill="#ffffff" opacity="0.3"/>
<circle cx="235.81" cy="60.14" r="0.45" fill="#ffffff" opacity="0.3"/>
<circle cx="223.41" cy="51.34" r="0.45" fill="#ffffff" opacity="0.3"/>
<circle cx="218.15" cy="66.31" r="0.45" fill="#ffffff" opacity="0.3"/>
<circle cx="232.81" cy="56.19" r="0.45" fill="#ffffff" opacity="0.3"/>
<circle cx="227.47" cy="67.89" r="0.45" fill="#ffffff" opacity="0.3"/>
<circle cx="231.94" cy="65.70" r="0.45" fill="#ffffff" opacity="0.3"/>
<circle cx="236.36" cy="54.32" r="0.45" fill="#ffffff" opacity="0.3"/>
<circle cx="237.46" cy="64.29" r="0.45" fill="#ffffff" opacity="0.3"/>
<circle cx="224.38" cy="65.72" r="0.45" fill="#ffffff" opacity="0.3"/>
<circle cx="224.10" cy="58.69" r="0.45" fill="#ffffff" opacity="0.3"/>
<circle cx="234.46" cy="68.97" r="0.45" fill="#ffffff" opacity="0.3"/>
<circle cx="229.95" cy="68.98" r="0.45" fill="#ffffff" opacity="0.3"/>
<circle cx="235.31" cy="58.12" r="0.45" fill="#ffffff" opacity="0.3"/>
<circle cx="219.51" cy="72.45" r="0.45" fill="#ffffff" opacity="0.3"/>
<circle cx="219.20" cy="59.57" r="0.45" fill="#ffffff" opacity="0.3"/>
<circle cx="220.04" cy="61.99" r="0.45" fill="#ffffff" opacity="0.3"/>
<circle cx="233.60" cy="48.91" r="0.45" fill="#ffffff" opacity="0.3"/>
<circle cx="227.93" cy="58.48" r="0.45" fill="#ffffff" opacity="0.3"/>
<circle cx="231.39" cy="71.36" r="0.45" fill="#ffffff" opacity="0.3"/>
<circle cx="231.46" cy="49.57" r="0.45" fill="#ffffff" opacity="0.3"/>
<circle cx="225.06" cy="60.08" r="0.45" fill="#ffffff" opacity="0.3"/>
<circle cx="221.24" cy="70.34" r="0.45" fill="#ffffff" opacity="0.3"/>
<circle cx="225.20" cy="57.35" r="0.45" fill="#ffffff" opacity="0.3"/>
<circle cx="222.27" cy="61.96" r="0.45" fill="#ffffff" opacity="0.3"/>
<circle cx="234.14" cy="50.89" r="0.45" fill="#ffffff" opacity="0.3"/>
<circle cx="227.99" cy="55.72" r="0.45" fill="#ffffff" opacity="0.3"/>
<circle cx="219.25" cy="58.34" r="0.45" fill="#ffffff" opacity="0.3"/>
<circle cx="230.74" cy="63.97" r="0.45" fill="#ffffff" opacity="0.3"/>
<circle cx="237.91" cy="66.27" r="0.45" fill="#ffffff" opacity="0.3"/>
<circle cx="236.60" cy="66.91" r="0.45" fill="#ffffff" opacity="0.3"/>
<circle cx="231.69" cy="71.37" r="0.45" fill="#ffffff" opacity="0.3"/>
<circle cx="235.30" cy="67.63" r="0.45" fill="#ffffff" opacity="0.3"/>
<circle cx="224.54" cy="55.34" r="0.45" fill="#ffffff" opacity="0.3"/>
<circle cx="235.31" cy="48.66" r="0.45" fill="#ffffff" opacity="0.3"/>
<circle cx="225.80" cy="69.78" r="0.45" fill="#ffffff" opacity="0.3"/>
<circle cx="223.87" cy="60.94" r="0.45" fill="#ffffff" opacity="0.3"/>
<circle cx="224.95" cy="64.64" r="0.45" fill="#ffffff" opacity="0.3"/>
<circle cx="234.58" cy="49.55" r="0.45" fill="#ffffff" opacity="0.3"/>
<circle cx="226.19" cy="70.25" r="0.45" fill="#ffffff" opacity="0.3"/>
<circle cx="226.26" cy="73.40" r="0.45" fill="#ffffff" opacity="0.3"/>
<circle cx="223.43" cy="61.12" r="0.45" fill="#ffffff" opacity="0.3"/>
<circle cx="221.46" cy="70.57" r="0.45" fill="#ffffff" opacity="0.3"/>
<circle cx="227.60" cy="69.44" r="0.45" fill="#ffffff" opacity="0.3"/>
<circle cx="231.77" cy="54.84" r="0.45" fill="#ffffff" opacity="0.3"/>
<circle cx="235.06" cy="49.76" r="0.45" fill="#ffffff" opacity="0.3"/>
<circle cx="236.51" cy="68.39" r="0.45" fill="#ffffff" opacity="0.3"/>
<circle cx="222.91" cy="62.96" r="0.45" fill="#ffffff" opacity="0.3"/>
<circle cx="224.98" cy="60.18" r="0.45" fill="#ffffff" opacity="0.3"/>
<circle cx="236.96" cy="59.79" r="0.45" fill="#ffffff" opacity="0.3"/>
<circle cx="229.62" cy="49.17" r="0.45" fill="#ffffff" opacity="0.3"/>
<circle cx="219.14" cy="60.39" r="0.45" fill="#ffffff" opacity="0.3"/>
<circle cx="226.43" cy="72.28" r="0.45" fill="#ffffff" opacity="0.3"/>
<circle cx="229.41" cy="71.10" r="0.45" fill="#ffffff" opacity="0.3"/>
<circle cx="229.49" cy="72.22" r="0.45" fill="#ffffff" opacity="0.3"/>
<circle cx="224.39" cy="48.68" r="0.45" fill="#ffffff" opacity="0.3"/>
<circle cx="233.04" cy="65.03" r="0.45" fill="#ffffff" opacity="0.3"/>
<circle cx="221.92" cy="53.62" r="0.45" fill="#ffffff" opacity="0.3"/>
<circle cx="227.43" cy="71.38" r="0.45" fill="#ffffff" opacity="0.3"/>
<circle cx="231.39" cy="59.23" r="0.45" fill="#ffffff" opacity="0.3"/>
<circle cx="229.45" cy="57.05" r="0.45" fill="#ffffff" opacity="0.3"/>
<circle cx="225.88" cy="52.76" r="0.45" fill="#ffffff" opacity="0.3"/>
<circle cx="231.91" cy="48.62" r="0.45" fill="#ffffff" opacity="0.3"/>
<circle cx="228.49" cy="50.30" r="0.45" fill="#ffffff" opacity="0.3"/>
<circle cx="220.85" cy="67.74" r="0.45" fill="#ffffff" opacity="0.3"/>
<circle cx="235.26" cy="61.25" r="0.45" fill="#ffffff" opacity="0.3"/>
<circle cx="237.25" cy="66.43" r="0.45" fill="#ffffff" opacity="0.3"/>
<circle cx="228.78" cy="63.77" r="0.45" fill="#ffffff" opacity="0.3"/>
<circle cx="218.17" cy="50.52" r="0.45" fill="#ffffff" opacity="0.3"/>
<circle cx="232.98" cy="57.74" r="0.45" fill="#ffffff" opacity="0.3"/>
<circle cx="237.31" cy="54.69" r="0.45" fill="#ffffff" opacity="0.3"/>
<circle cx="223.66" cy="53.51" r="0.45" fill="#ffffff" opacity="0.3"/>
<circle cx="236.62" cy="62.20" r="0.45" fill="#ffffff" opacity="0.3"/>
<circle cx="223.13" cy="49.68" r="0.45" fill="#ffffff" opacity="0.3"/>
<circle cx="229.66" cy="48.40" r="0.45" fill="#ffffff" opacity="0.3"/>
<circle cx="235.24" cy="52.12" r="0.45" fill="#ffffff" opacity="0.3"/>
<circle cx="233.24" cy="70.43" r="0.45" fill="#ffffff" opacity="0.3"/>
<circle cx="223.79" cy="63.21" r="0.45" fill="#ffffff" opacity="0.3"/>
<circle cx="231.75" cy="59.86" r="0.45" fill="#ffffff" opacity="0.3"/>
<circle cx="226.24" cy="70.98" r="0.45" fill="#ffffff" opacity="0.3"/>
<circle cx="223.13" cy="62.71" r="0.45" fill="#ffffff" opacity="0.3"/>
<circle cx="218.14" cy="62.80" r="0.45" fill="#ffffff" opacity="0.3"/>
<circle cx="237.41" cy="58.29" r="0.45" fill="#ffffff" opacity="0.3"/>
<circle cx="232.71" cy="56.49" r="0.45" fill="#ffffff" opacity="0.3"/>
<circle cx="225.55" cy="58.23" r="0.45" fill="#ffffff" opacity="0.3"/>
<circle cx="235.61" cy="56.48" r="0.45" fill="#ffffff" opacity="0.3"/>
<circle cx="218.90" cy="62.21" r="0.45" fill="#ffffff" opacity="0.3"/>
<circle cx="229.66" cy="63.75" r="0.45" fill="#ffffff" opacity="0.3"/>
<circle cx="227.37" cy="55.72" r="0.45" fill="#ffffff" opacity="0.3"/>
<circle cx="232.32" cy="54.48" r="0.45" fill="#ffffff" opacity="0.3"/>
<circle cx="223.23" cy="52.63" r="0.45" fill="#ffffff" opacity="0.3"/>
<circle cx="219.17" cy="53.37" r="0.45" fill="#ffffff" opacity="0.3"/>
<circle cx="231.50" cy="58.31" r="0.45" fill="#ffffff" opacity="0.3"/>
<circle cx="227.15" cy="54.01" r="0.45" fill="#ffffff" opacity="0.3"/>
<circle cx="223.16" cy="65.85" r="0.45" fill="#ffffff" opacity="0.3"/>
<circle cx="236.77" cy="51.65" r="0.45" fill="#ffffff" opacity="0.3"/>
<circle cx="231.80" cy="72.97" r="0.45" fill="#ffffff" opacity="0.3"/>
<circle cx="228.90" cy="71.25" r="0.45" fill="#ffffff" opacity="0.3"/>
<circle cx="221.62" cy="68.40" r="0.45" fill="#ffffff" opacity="0.3"/>
<circle cx="220.20" cy="53.62" r="0.45" fill="#ffffff" opacity="0.3"/>
<circle cx="219.93" cy="48.09" r="0.45" fill="#ffffff" opacity="0.3"/>
<circle cx="233.17" cy="57.09" r="0.45" fill="#ffffff" opacity="0.3"/>
<circle cx="225.26" cy="67.05" r="0.45" fill="#ffffff" opacity="0.3"/>
<circle cx="223.05" cy="70.32" r="0.45" fill="#ffffff" opacity="0.3"/>
<circle cx="221.70" cy="73.37" r="0.45" fill="#ffffff" opacity="0.3"/>
<circle cx="235.44" cy="61.00" r="0.45" fill="#ffffff" opacity="0.3"/>
<circle cx="236.72" cy="69.97" r="0.45" fill="#ffffff" opacity="0.3"/>
<circle cx="237.03" cy="55.68" r="0.45" fill="#ffffff" opacity="0.3"/>
<circle cx="226.29" cy="55.86" r="0.45" fill="#ffffff" opacity="0.3"/>
<circle cx="226.89" cy="62.44" r="0.45" fill="#ffffff" opacity="0.3"/>
<circle cx="235.17" cy="56.54" r="0.45" fill="#ffffff" opacity="0.3"/>
<circle cx="229.11" cy="55.19" r="0.45" fill="#ffffff" opacity="0.3"/>
<circle cx="226.90" cy="49.33" r="0.45" fill="#ffffff" opacity="0.3"/>
<circle cx="228.84" cy="64.02" r="0.45" fill="#ffffff" opacity="0.3"/>
<circle cx="229.83" cy="70.58" r="0.45" fill="#ffffff" opacity="0.3"/>
<circle cx="228.40" cy="55.18" r="0.45" fill="#ffffff" opacity="0.3"/>
<circle cx="237.00" cy="58.47" r="0.45" fill="#ffffff" opacity="0.3"/>
<circle cx="221.89" cy="61.22" r="0.45" fill="#ffffff" opacity="0.3"/>
<circle cx="232.03" cy="54.94" r="0.45" fill="#ffffff" opacity="0.3"/>
<circle cx="222.66" cy="50.19" r="0.45" fill="#ffffff" opacity="0.3"/>
<circle cx="229.13" cy="57.76" r="0.45" fill="#ffffff" opacity="0.3"/>
<circle cx="233.92" cy="52.15" r="0.45" fill="#ffffff" opacity="0.3"/>
<circle cx="230.23" cy="51.90" r="0.45" fill="#ffffff" opacity="0.3"/>
<circle cx="221.96" cy="50.95" r="0.45" fill="#ffffff" opacity="0.3"/>
<circle cx="230.90" cy="67.02" r="0.45" fill="#ffffff" opacity="0.3"/>
<circle cx="226.70" cy="69.46" r="0.45" fill="#ffffff" opacity="0.3"/>
<circle cx="234.03" cy="70.51" r="0.45" fill="#ffffff" opacity="0.3"/>
<circle cx="230.88" cy="59.65" r="0.45" fill="#ffffff" opacity="0.3"/>
<circle cx="226.32" cy="68.70" r="0.45" fill="#ffffff" opacity="0.3"/>
<circle cx="223.89" cy="54.33" r="0.45" fill="#ffffff" opacity="0.3"/>
<circle cx="237.96" cy="72.31" r="0.45" fill="#ffffff" opacity="0.3"/>
<circle cx="231.08" cy="69.64" r="0.45" fill="#ffffff" opacity="0.3"/>
<circle cx="219.07" cy="68.10" r="0.45" fill="#ffffff" opacity="0.3"/>
<circle cx="229.86" cy="55.68" r="0.45" fill="#ffffff" opacity="0.3"/>
<circle cx="223.57" cy="65.61" r="0.45" fill="#ffffff" opacity="0.3"/>
<circle cx="236.27" cy="67.39" r="0.45" fill="#ffffff" opacity="0.3"/>
<circle cx="218.87" cy="63.20" r="0.45" fill="#ffffff" opacity="0.3"/>
<circle cx="224.72" cy="53.90" r="0.45" fill="#ffffff" opacity="0.3"/>
<circle cx="219.11" cy="63.05" r="0.45" fill="#ffffff" opacity="0.3"/>
<circle cx="223.38" cy="56.73" r="0.45" fill="#ffffff" opacity="0.3"/>
<circle cx="228.01" cy="71.32" r="0.45" fill="#ffffff" opacity="0.3"/>
<circle cx="223.52" cy="62.96" r="0.45" fill="#ffffff" opacity="0.3"/>
<circle cx="230.93" cy="67.59" r="0.45" fill="#ffffff" opacity="0.3"/>
<circle cx="234.96" cy="53.90" r="0.45" fill="#ffffff" opacity="0.3"/>
<circle cx="235.28" cy="49.95" r="0.45" fill="#ffffff" opacity="0.3"/>
<circle cx="227.18" cy="67.12" r="0.45" fill="#ffffff" opacity="0.3"/>
<circle cx="235.99" cy="57.03" r="0.45" fill="#ffffff" opacity="0.3"/>
<circle cx="231.57" cy="66.18" r="0.45" fill="#ffffff" opacity="0.3"/>
<circle cx="218.95" cy="67.51" r="0.45" fill="#ffffff" opacity="0.3"/>
<circle cx="234.74" cy="51.63" r="0.45" fill="#ffffff" opacity="0.3"/>
<circle cx="224.40" cy="59.27" r="0.45" fill="#ffffff" opacity="0.3"/>
<circle cx="236.75" cy="72.89" r="0.45" fill="#ffffff" opacity="0.3"/>
<circle cx="221.66" cy="58.28" r="0.45" fill="#ffffff" opacity="0.3"/>
<circle cx="220.46" cy="49.38" r="0.45" fill="#ffffff" opacity="0.3"/>
<circle cx="222.28" cy="72.33" r="0.45" fill="#ffffff" opacity="0.3"/>
<circle cx="236.10" cy="53.19" r="0.45" fill="#ffffff" opacity="0.3"/>
<circle cx="230.46" cy="64.57" r="0.45" fill="#ffffff" opacity="0.3"/>
<circle cx="226.95" cy="70.01" r="0.45" fill="#ffffff" opacity="0.3"/>
<circle cx="219.80" cy="55.09" r="0.45" fill="#ffffff" opacity="0.3"/>
<circle cx="220.30" cy="71.67" r="0.45" fill="#ffffff" opacity="0.3"/>
<circle cx="233.97" cy="59.72" r="0.45" fill="#ffffff" opacity="0.3"/>
<circle cx="219.77" cy="70.18" r="0.45" fill="#ffffff" opacity="0.3"/>
<circle cx="233.61" cy="70.59" r="0.45" fill="#ffffff" opacity="0.3"/>
<circle cx="236.85" cy="65.27" r="0.45" fill="#ffffff" opacity="0.3"/>
<circle cx="227.82" cy="68.84" r="0.45" fill="#ffffff" opacity="0.3"/>
<circle cx="220.76" cy="69.80" r="0.45" fill="#ffffff" opacity="0.3"/>
<circle cx="224.14" cy="59.42" r="0.45" fill="#ffffff" opacity="0.3"/>
<circle cx="235.46" cy="48.17" r="0.45" fill="#ffffff" opacity="0.3"/>
<circle cx="224.75" cy="69.16" r="0.45" fill="#ffffff" opacity="0.3"/>
<circle cx="226.04" cy="71.49" r="0.45" fill="#ffffff" opacity="0.3"/>
<circle cx="232.33" cy="53.93" r="0.45" fill="#ffffff" opacity="0.3"/>
<circle cx="227.86" cy="57.22" r="0.45" fill="#ffffff" opacity="0.3"/>
<circle cx="231.23" cy="66.53" r="0.45" fill="#ffffff" opacity="0.3"/>
<circle cx="228.04" cy="49.96" r="0.45" fill="#ffffff" opacity="0.3"/>
<circle cx="235.22" cy="52.65" r="0.45" fill="#ffffff" opacity="0.3"/>
<circle cx="230.66" cy="69.42" r="0.45" fill="#ffffff" opacity="0.3"/>
<circle cx="227.16" cy="49.30" r="0.45" fill="#ffffff" opacity="0.3"/>
<circle cx="228.98" cy="50.57" r="0.45" fill="#ffffff" opacity="0.3"/>
<circle cx="221.44" cy="53.40" r="0.45" fill="#ffffff" opacity="0.3"/>
<circle cx="221.43" cy="63.01" r="0.45" fill="#ffffff" opacity="0.3"/>
<circle cx="233.00" cy="59.48" r="0.45" fill="#ffffff" opacity="0.3"/>
<circle cx="237.05" cy="49.89" r="0.45" fill="#ffffff" opacity="0.3"/>
<circle cx="224.59" cy="56.39" r="0.45" fill="#ffffff" opacity="0.3"/>
<circle cx="228.76" cy="65.40" r="0.45" fill="#ffffff" opacity="0.3"/>
<circle cx="223.52" cy="59.07" r="0.45" fill="#ffffff" opacity="0.3"/>
<circle cx="225.63" cy="56.85" r="0.45" fill="#ffffff" opacity="0.3"/>
<circle cx="219.13" cy="67.44" r="0.45" fill="#ffffff" opacity="0.3"/>
<circle cx="218.56" cy="58.98" r="0.45" fill="#ffffff" opacity="0.3"/>
<circle cx="222.52" cy="58.88" r="0.45" fill="#ffffff" opacity="0.3"/>
<circle cx="232.08" cy="68.74" r="0.45" fill="#ffffff" opacity="0.3"/>
<circle cx="235.38" cy="64.25" r="0.45" fill="#ffffff" opacity="0.3"/>
<circle cx="223.68" cy="48.26" r="0.45" fill="#ffffff" opacity="0.3"/>
<circle cx="220.98" cy="71.00" r="0.45" fill="#ffffff" opacity="0.3"/>
<circle cx="225.62" cy="57.85" r="0.45" fill="#ffffff" opacity="0.3"/>
<circle cx="225.06" cy="56.73" r="0.45" fill="#ffffff" opacity="0.3"/>
<circle cx="221.86" cy="55.30" r="0.45" fill="#ffffff" opacity="0.3"/>
<path d="M37.40,130.70 L41.10,129.70 L44.00,131.00 L48.70,133.20 L53.60,131.80 L59.80,136.60 L65.30,144.90 L69.40,152.50 L70.80,158.00 L72.20,163.60 L71.50,168.80 L38.40,169.10 Z" fill="#2c3cae" filter="url(#b05)" opacity="1"/>
<path d="M37.47,133.38 L40.91,132.45 L43.61,133.66 L47.98,135.71 L52.54,134.40 L58.30,138.87 L63.42,146.59 L67.23,153.66 L68.53,158.77 L69.83,163.98 L69.18,168.81 L38.40,169.09 Z" fill="#3a74d0" filter="url(#b05)" opacity="1"/>
<path d="M37.54,135.68 L40.72,134.81 L43.22,135.94 L47.26,137.85 L51.47,136.64 L56.80,140.81 L61.53,148.03 L65.06,154.65 L66.26,159.43 L67.47,164.30 L66.87,168.83 L38.40,169.09 Z" fill="#3ab0dc" filter="url(#b1)" opacity="1"/>
<path d="M38.6,134 L47,134 L52,139 L56,146 L60,153 L64,160 L67,168 L38.6,168 Z" fill="#6cc870" filter="url(#b1)" opacity="1"/>
<ellipse cx="54.5" cy="149" rx="5.5" ry="7.5" fill="#40b0d8" filter="url(#b15)" opacity="0.85"/>
<ellipse cx="61" cy="157" rx="3" ry="3.5" fill="#48b8d0" filter="url(#b1)" opacity="0.7"/>
<ellipse cx="57" cy="164.3" rx="10" ry="3.8" fill="#90d450" filter="url(#b1)" opacity="1"/>
<ellipse cx="56.5" cy="166" rx="6" ry="1.7" fill="#d8e040" filter="url(#b1)" opacity="0.85"/>
<path d="M38.6,134.5 L45,134.5 L46,146 L45,158 L38.6,160 Z" fill="#d0e040" filter="url(#b1)" opacity="1"/>
<path d="M38.8,135 L44.2,135.5 L44.8,147 L43.5,157 L38.8,158 Z" fill="#f09a30" filter="url(#b1)" opacity="1"/>
<ellipse cx="41" cy="144" rx="2.3" ry="6.5" fill="#e85420" filter="url(#b1)" opacity="1"/>
<linearGradient id="g5" x1="0" y1="0" x2="0" y2="1"><stop offset="0" stop-color="#d0d6f2" stop-opacity="0.4"/><stop offset="0.35" stop-color="#98a4dc" stop-opacity="0.8"/><stop offset="0.5" stop-color="#5a70c8"/><stop offset="0.72" stop-color="#3c5cc0"/><stop offset="0.86" stop-color="#3088b8"/><stop offset="1" stop-color="#38a898"/></linearGradient>
<linearGradient id="g5h" x1="0" y1="0" x2="1" y2="0"><stop offset="0" stop-color="#fff" stop-opacity="0"/><stop offset="0.45" stop-color="#fff" stop-opacity="0"/><stop offset="1" stop-color="#fff" stop-opacity="0.95"/></linearGradient>
<path d="M130.6,140.5 L138,140 L147,142 L155,146 L160,151 L162,157 L163,167.8 L130.6,167.8 Z" fill="url(#g5)" filter="url(#b05)" opacity="1"/>
<rect x="152" y="137" width="14" height="33" fill="url(#g5h)"/>
<circle cx="145.06" cy="152.23" r="0.45" fill="#ffffff" opacity="0.35"/>
<circle cx="131.93" cy="142.24" r="0.45" fill="#ffffff" opacity="0.35"/>
<circle cx="130.83" cy="152.59" r="0.45" fill="#ffffff" opacity="0.35"/>
<circle cx="150.69" cy="164.54" r="0.45" fill="#ffffff" opacity="0.35"/>
<circle cx="142.79" cy="156.57" r="0.45" fill="#ffffff" opacity="0.35"/>
<circle cx="155.14" cy="154.53" r="0.45" fill="#ffffff" opacity="0.35"/>
<circle cx="147.27" cy="143.31" r="0.45" fill="#ffffff" opacity="0.35"/>
<circle cx="151.82" cy="160.09" r="0.45" fill="#ffffff" opacity="0.35"/>
<circle cx="139.69" cy="158.18" r="0.45" fill="#ffffff" opacity="0.35"/>
<circle cx="136.68" cy="142.14" r="0.45" fill="#ffffff" opacity="0.35"/>
<circle cx="140.58" cy="154.86" r="0.45" fill="#ffffff" opacity="0.35"/>
<circle cx="142.42" cy="146.28" r="0.45" fill="#ffffff" opacity="0.35"/>
<circle cx="160.85" cy="159.30" r="0.45" fill="#ffffff" opacity="0.35"/>
<circle cx="138.98" cy="141.06" r="0.45" fill="#ffffff" opacity="0.35"/>
<circle cx="152.89" cy="165.74" r="0.45" fill="#ffffff" opacity="0.35"/>
<circle cx="153.02" cy="158.88" r="0.45" fill="#ffffff" opacity="0.35"/>
<circle cx="160.96" cy="159.16" r="0.45" fill="#ffffff" opacity="0.35"/>
<circle cx="133.94" cy="152.67" r="0.45" fill="#ffffff" opacity="0.35"/>
<circle cx="142.65" cy="155.76" r="0.45" fill="#ffffff" opacity="0.35"/>
<circle cx="135.04" cy="157.19" r="0.45" fill="#ffffff" opacity="0.35"/>
<circle cx="152.56" cy="146.90" r="0.45" fill="#ffffff" opacity="0.35"/>
<circle cx="149.97" cy="148.98" r="0.45" fill="#ffffff" opacity="0.35"/>
<circle cx="151.55" cy="152.57" r="0.45" fill="#ffffff" opacity="0.35"/>
<circle cx="160.72" cy="152.50" r="0.45" fill="#ffffff" opacity="0.35"/>
<circle cx="131.36" cy="140.98" r="0.45" fill="#ffffff" opacity="0.35"/>
<circle cx="152.08" cy="141.71" r="0.45" fill="#ffffff" opacity="0.35"/>
<circle cx="154.45" cy="153.35" r="0.45" fill="#ffffff" opacity="0.35"/>
<circle cx="141.05" cy="150.85" r="0.45" fill="#ffffff" opacity="0.35"/>
<circle cx="157.00" cy="154.65" r="0.45" fill="#ffffff" opacity="0.35"/>
<circle cx="143.35" cy="152.66" r="0.45" fill="#ffffff" opacity="0.35"/>
<circle cx="148.53" cy="152.20" r="0.45" fill="#ffffff" opacity="0.35"/>
<circle cx="152.71" cy="150.85" r="0.45" fill="#ffffff" opacity="0.35"/>
<circle cx="139.10" cy="142.48" r="0.45" fill="#ffffff" opacity="0.35"/>
<circle cx="144.54" cy="144.27" r="0.45" fill="#ffffff" opacity="0.35"/>
<circle cx="136.26" cy="144.03" r="0.45" fill="#ffffff" opacity="0.35"/>
<circle cx="141.41" cy="165.39" r="0.45" fill="#ffffff" opacity="0.35"/>
<circle cx="146.37" cy="147.03" r="0.45" fill="#ffffff" opacity="0.35"/>
<circle cx="145.17" cy="152.29" r="0.45" fill="#ffffff" opacity="0.35"/>
<circle cx="131.67" cy="162.45" r="0.45" fill="#ffffff" opacity="0.35"/>
<circle cx="146.24" cy="167.74" r="0.45" fill="#ffffff" opacity="0.35"/>
<circle cx="150.26" cy="146.07" r="0.45" fill="#ffffff" opacity="0.35"/>
<circle cx="161.44" cy="142.23" r="0.45" fill="#ffffff" opacity="0.35"/>
<circle cx="135.31" cy="143.19" r="0.45" fill="#ffffff" opacity="0.35"/>
<circle cx="134.98" cy="142.88" r="0.45" fill="#ffffff" opacity="0.35"/>
<circle cx="158.82" cy="143.16" r="0.45" fill="#ffffff" opacity="0.35"/>
<circle cx="145.60" cy="143.17" r="0.45" fill="#ffffff" opacity="0.35"/>
<circle cx="139.97" cy="141.63" r="0.45" fill="#ffffff" opacity="0.35"/>
<circle cx="141.80" cy="147.18" r="0.45" fill="#ffffff" opacity="0.35"/>
<circle cx="153.24" cy="167.72" r="0.45" fill="#ffffff" opacity="0.35"/>
<circle cx="136.10" cy="152.51" r="0.45" fill="#ffffff" opacity="0.35"/>
<circle cx="149.76" cy="167.62" r="0.45" fill="#ffffff" opacity="0.35"/>
<circle cx="132.09" cy="158.01" r="0.45" fill="#ffffff" opacity="0.35"/>
<circle cx="142.92" cy="153.56" r="0.45" fill="#ffffff" opacity="0.35"/>
<circle cx="152.43" cy="159.15" r="0.45" fill="#ffffff" opacity="0.35"/>
<circle cx="142.36" cy="162.61" r="0.45" fill="#ffffff" opacity="0.35"/>
<circle cx="148.58" cy="145.71" r="0.45" fill="#ffffff" opacity="0.35"/>
<circle cx="136.22" cy="144.77" r="0.45" fill="#ffffff" opacity="0.35"/>
<circle cx="155.98" cy="164.02" r="0.45" fill="#ffffff" opacity="0.35"/>
<circle cx="135.19" cy="156.14" r="0.45" fill="#ffffff" opacity="0.35"/>
<circle cx="132.39" cy="140.81" r="0.45" fill="#ffffff" opacity="0.35"/>
<circle cx="151.78" cy="155.14" r="0.45" fill="#ffffff" opacity="0.35"/>
<circle cx="143.74" cy="151.62" r="0.45" fill="#ffffff" opacity="0.35"/>
<circle cx="144.53" cy="149.93" r="0.45" fill="#ffffff" opacity="0.35"/>
<circle cx="139.11" cy="166.11" r="0.45" fill="#ffffff" opacity="0.35"/>
<circle cx="132.24" cy="156.12" r="0.45" fill="#ffffff" opacity="0.35"/>
<circle cx="135.66" cy="149.56" r="0.45" fill="#ffffff" opacity="0.35"/>
<circle cx="131.37" cy="143.16" r="0.45" fill="#ffffff" opacity="0.35"/>
<circle cx="149.55" cy="139.92" r="0.45" fill="#ffffff" opacity="0.35"/>
<circle cx="143.30" cy="156.74" r="0.45" fill="#ffffff" opacity="0.35"/>
<circle cx="148.27" cy="141.97" r="0.45" fill="#ffffff" opacity="0.35"/>
<circle cx="143.49" cy="148.47" r="0.45" fill="#ffffff" opacity="0.35"/>
<circle cx="155.71" cy="164.09" r="0.45" fill="#ffffff" opacity="0.35"/>
<circle cx="148.96" cy="161.75" r="0.45" fill="#ffffff" opacity="0.35"/>
<circle cx="143.25" cy="167.36" r="0.45" fill="#ffffff" opacity="0.35"/>
<circle cx="152.94" cy="164.83" r="0.45" fill="#ffffff" opacity="0.35"/>
<circle cx="135.25" cy="159.14" r="0.45" fill="#ffffff" opacity="0.35"/>
<circle cx="151.42" cy="159.16" r="0.45" fill="#ffffff" opacity="0.35"/>
<circle cx="158.60" cy="145.61" r="0.45" fill="#ffffff" opacity="0.35"/>
<circle cx="133.82" cy="155.27" r="0.45" fill="#ffffff" opacity="0.35"/>
<circle cx="137.10" cy="167.09" r="0.45" fill="#ffffff" opacity="0.35"/>
<circle cx="159.19" cy="152.94" r="0.45" fill="#ffffff" opacity="0.35"/>
<circle cx="155.83" cy="156.81" r="0.45" fill="#ffffff" opacity="0.35"/>
<circle cx="159.23" cy="154.98" r="0.45" fill="#ffffff" opacity="0.35"/>
<circle cx="136.54" cy="167.77" r="0.45" fill="#ffffff" opacity="0.35"/>
<circle cx="138.51" cy="142.29" r="0.45" fill="#ffffff" opacity="0.35"/>
<circle cx="154.93" cy="157.91" r="0.45" fill="#ffffff" opacity="0.35"/>
<circle cx="157.67" cy="145.41" r="0.45" fill="#ffffff" opacity="0.35"/>
<circle cx="159.54" cy="163.06" r="0.45" fill="#ffffff" opacity="0.35"/>
<circle cx="150.56" cy="139.46" r="0.45" fill="#ffffff" opacity="0.35"/>
<circle cx="154.47" cy="149.80" r="0.45" fill="#ffffff" opacity="0.35"/>
<circle cx="134.37" cy="148.49" r="0.45" fill="#ffffff" opacity="0.35"/>
<circle cx="160.32" cy="148.15" r="0.45" fill="#ffffff" opacity="0.35"/>
<circle cx="144.84" cy="165.15" r="0.45" fill="#ffffff" opacity="0.35"/>
<circle cx="152.77" cy="149.78" r="0.45" fill="#ffffff" opacity="0.35"/>
<circle cx="140.67" cy="154.89" r="0.45" fill="#ffffff" opacity="0.35"/>
<circle cx="147.20" cy="160.02" r="0.45" fill="#ffffff" opacity="0.35"/>
<circle cx="150.63" cy="144.29" r="0.45" fill="#ffffff" opacity="0.35"/>
<circle cx="157.96" cy="162.23" r="0.45" fill="#ffffff" opacity="0.35"/>
<circle cx="146.03" cy="143.21" r="0.45" fill="#ffffff" opacity="0.35"/>
<circle cx="144.49" cy="164.02" r="0.45" fill="#ffffff" opacity="0.35"/>
<circle cx="138.68" cy="148.28" r="0.45" fill="#ffffff" opacity="0.35"/>
<circle cx="152.14" cy="160.48" r="0.45" fill="#ffffff" opacity="0.35"/>
<circle cx="156.61" cy="150.47" r="0.45" fill="#ffffff" opacity="0.35"/>
<circle cx="153.45" cy="145.66" r="0.45" fill="#ffffff" opacity="0.35"/>
<circle cx="131.59" cy="159.00" r="0.45" fill="#ffffff" opacity="0.35"/>
<circle cx="137.57" cy="164.44" r="0.45" fill="#ffffff" opacity="0.35"/>
<circle cx="140.41" cy="148.87" r="0.45" fill="#ffffff" opacity="0.35"/>
<circle cx="157.06" cy="139.81" r="0.45" fill="#ffffff" opacity="0.35"/>
<circle cx="161.04" cy="148.53" r="0.45" fill="#ffffff" opacity="0.35"/>
<circle cx="131.29" cy="148.74" r="0.45" fill="#ffffff" opacity="0.35"/>
<circle cx="133.98" cy="146.31" r="0.45" fill="#ffffff" opacity="0.35"/>
<circle cx="146.05" cy="155.27" r="0.45" fill="#ffffff" opacity="0.35"/>
<circle cx="136.06" cy="167.94" r="0.45" fill="#ffffff" opacity="0.35"/>
<circle cx="134.64" cy="142.09" r="0.45" fill="#ffffff" opacity="0.35"/>
<circle cx="138.58" cy="139.00" r="0.45" fill="#ffffff" opacity="0.35"/>
<circle cx="158.08" cy="143.51" r="0.45" fill="#ffffff" opacity="0.35"/>
<circle cx="130.51" cy="156.99" r="0.45" fill="#ffffff" opacity="0.35"/>
<circle cx="140.88" cy="142.46" r="0.45" fill="#ffffff" opacity="0.35"/>
<circle cx="145.00" cy="144.33" r="0.45" fill="#ffffff" opacity="0.35"/>
<circle cx="132.50" cy="153.72" r="0.45" fill="#ffffff" opacity="0.35"/>
<circle cx="137.64" cy="149.02" r="0.45" fill="#ffffff" opacity="0.35"/>
<circle cx="145.80" cy="167.80" r="0.45" fill="#ffffff" opacity="0.35"/>
<circle cx="149.45" cy="155.49" r="0.45" fill="#ffffff" opacity="0.35"/>
<circle cx="139.67" cy="152.37" r="0.45" fill="#ffffff" opacity="0.35"/>
<circle cx="138.50" cy="163.56" r="0.45" fill="#ffffff" opacity="0.35"/>
<circle cx="159.76" cy="163.25" r="0.45" fill="#ffffff" opacity="0.35"/>
<circle cx="143.16" cy="159.85" r="0.45" fill="#ffffff" opacity="0.35"/>
<circle cx="139.45" cy="161.97" r="0.45" fill="#ffffff" opacity="0.35"/>
<circle cx="160.43" cy="144.01" r="0.45" fill="#ffffff" opacity="0.35"/>
<circle cx="132.71" cy="167.81" r="0.45" fill="#ffffff" opacity="0.35"/>
<circle cx="148.30" cy="161.77" r="0.45" fill="#ffffff" opacity="0.35"/>
<circle cx="157.12" cy="162.31" r="0.45" fill="#ffffff" opacity="0.35"/>
<circle cx="133.30" cy="146.26" r="0.45" fill="#ffffff" opacity="0.35"/>
<circle cx="141.83" cy="164.29" r="0.45" fill="#ffffff" opacity="0.35"/>
<circle cx="153.40" cy="145.32" r="0.45" fill="#ffffff" opacity="0.35"/>
<circle cx="134.46" cy="162.10" r="0.45" fill="#ffffff" opacity="0.35"/>
<circle cx="158.00" cy="139.65" r="0.45" fill="#ffffff" opacity="0.35"/>
<circle cx="140.55" cy="142.24" r="0.45" fill="#ffffff" opacity="0.35"/>
<circle cx="143.76" cy="139.49" r="0.45" fill="#ffffff" opacity="0.35"/>
<circle cx="142.39" cy="143.92" r="0.45" fill="#ffffff" opacity="0.35"/>
<circle cx="131.79" cy="167.13" r="0.45" fill="#ffffff" opacity="0.35"/>
<circle cx="134.85" cy="165.89" r="0.45" fill="#ffffff" opacity="0.35"/>
<circle cx="153.23" cy="149.06" r="0.45" fill="#ffffff" opacity="0.35"/>
<circle cx="142.05" cy="149.81" r="0.45" fill="#ffffff" opacity="0.35"/>
<circle cx="138.81" cy="155.66" r="0.45" fill="#ffffff" opacity="0.35"/>
<circle cx="134.28" cy="156.11" r="0.45" fill="#ffffff" opacity="0.35"/>
<circle cx="145.75" cy="144.46" r="0.45" fill="#ffffff" opacity="0.35"/>
<circle cx="160.61" cy="147.35" r="0.45" fill="#ffffff" opacity="0.35"/>
<circle cx="150.09" cy="159.87" r="0.45" fill="#ffffff" opacity="0.35"/>
<circle cx="153.61" cy="155.80" r="0.45" fill="#ffffff" opacity="0.35"/>
<circle cx="144.70" cy="151.32" r="0.45" fill="#ffffff" opacity="0.35"/>
<circle cx="153.63" cy="140.81" r="0.45" fill="#ffffff" opacity="0.35"/>
<circle cx="148.03" cy="163.33" r="0.45" fill="#ffffff" opacity="0.35"/>
<circle cx="144.49" cy="153.01" r="0.45" fill="#ffffff" opacity="0.35"/>
<circle cx="152.10" cy="161.72" r="0.45" fill="#ffffff" opacity="0.35"/>
<circle cx="140.43" cy="156.45" r="0.45" fill="#ffffff" opacity="0.35"/>
<circle cx="156.08" cy="156.87" r="0.45" fill="#ffffff" opacity="0.35"/>
<circle cx="136.71" cy="167.88" r="0.45" fill="#ffffff" opacity="0.35"/>
<circle cx="140.98" cy="157.83" r="0.45" fill="#ffffff" opacity="0.35"/>
<circle cx="131.71" cy="158.75" r="0.45" fill="#ffffff" opacity="0.35"/>
<circle cx="147.75" cy="165.31" r="0.45" fill="#ffffff" opacity="0.35"/>
<circle cx="137.39" cy="139.63" r="0.45" fill="#ffffff" opacity="0.35"/>
<circle cx="140.56" cy="151.45" r="0.45" fill="#ffffff" opacity="0.35"/>
<circle cx="151.90" cy="147.97" r="0.45" fill="#ffffff" opacity="0.35"/>
<circle cx="154.66" cy="163.70" r="0.45" fill="#ffffff" opacity="0.35"/>
<circle cx="131.04" cy="167.59" r="0.45" fill="#ffffff" opacity="0.35"/>
<circle cx="132.08" cy="146.54" r="0.45" fill="#ffffff" opacity="0.35"/>
<circle cx="132.63" cy="162.21" r="0.45" fill="#ffffff" opacity="0.35"/>
<circle cx="160.48" cy="146.78" r="0.45" fill="#ffffff" opacity="0.35"/>
<circle cx="148.18" cy="166.98" r="0.45" fill="#ffffff" opacity="0.35"/>
<circle cx="154.64" cy="146.51" r="0.45" fill="#ffffff" opacity="0.35"/>
<circle cx="144.77" cy="165.59" r="0.45" fill="#ffffff" opacity="0.35"/>
<circle cx="157.91" cy="153.02" r="0.45" fill="#ffffff" opacity="0.35"/>
<circle cx="148.58" cy="141.06" r="0.45" fill="#ffffff" opacity="0.35"/>
<circle cx="142.66" cy="162.38" r="0.45" fill="#ffffff" opacity="0.35"/>
<circle cx="131.26" cy="144.73" r="0.45" fill="#ffffff" opacity="0.35"/>
<circle cx="148.08" cy="139.54" r="0.45" fill="#ffffff" opacity="0.35"/>
<circle cx="135.75" cy="160.84" r="0.45" fill="#ffffff" opacity="0.35"/>
<circle cx="135.96" cy="153.39" r="0.45" fill="#ffffff" opacity="0.35"/>
<circle cx="159.98" cy="154.26" r="0.45" fill="#ffffff" opacity="0.35"/>
<circle cx="152.03" cy="140.90" r="0.45" fill="#ffffff" opacity="0.35"/>
<circle cx="146.87" cy="154.40" r="0.45" fill="#ffffff" opacity="0.35"/>
<circle cx="145.45" cy="152.91" r="0.45" fill="#ffffff" opacity="0.35"/>
<circle cx="132.13" cy="156.85" r="0.45" fill="#ffffff" opacity="0.35"/>
<circle cx="141.17" cy="159.40" r="0.45" fill="#ffffff" opacity="0.35"/>
<circle cx="138.17" cy="165.44" r="0.45" fill="#ffffff" opacity="0.35"/>
<circle cx="144.80" cy="163.15" r="0.45" fill="#ffffff" opacity="0.35"/>
<circle cx="146.70" cy="147.19" r="0.45" fill="#ffffff" opacity="0.35"/>
<circle cx="143.93" cy="147.14" r="0.45" fill="#ffffff" opacity="0.35"/>
<circle cx="146.97" cy="149.52" r="0.45" fill="#ffffff" opacity="0.35"/>
<circle cx="138.55" cy="167.95" r="0.45" fill="#ffffff" opacity="0.35"/>
<circle cx="161.00" cy="153.81" r="0.45" fill="#ffffff" opacity="0.35"/>
<circle cx="148.08" cy="162.81" r="0.45" fill="#ffffff" opacity="0.35"/>
<circle cx="150.23" cy="151.03" r="0.45" fill="#ffffff" opacity="0.35"/>
<circle cx="146.10" cy="162.23" r="0.45" fill="#ffffff" opacity="0.35"/>
<circle cx="132.07" cy="150.92" r="0.45" fill="#ffffff" opacity="0.35"/>
<circle cx="132.66" cy="155.35" r="0.45" fill="#ffffff" opacity="0.35"/>
<circle cx="130.85" cy="151.74" r="0.45" fill="#ffffff" opacity="0.35"/>
<circle cx="134.24" cy="148.87" r="0.45" fill="#ffffff" opacity="0.35"/>
<circle cx="161.19" cy="145.78" r="0.45" fill="#ffffff" opacity="0.35"/>
<circle cx="141.93" cy="162.30" r="0.45" fill="#ffffff" opacity="0.35"/>
<circle cx="136.62" cy="145.57" r="0.45" fill="#ffffff" opacity="0.35"/>
<circle cx="143.43" cy="156.80" r="0.45" fill="#ffffff" opacity="0.35"/>
<circle cx="136.59" cy="146.43" r="0.45" fill="#ffffff" opacity="0.35"/>
<circle cx="131.99" cy="146.79" r="0.45" fill="#ffffff" opacity="0.35"/>
<circle cx="142.49" cy="156.22" r="0.45" fill="#ffffff" opacity="0.35"/>
<circle cx="139.45" cy="154.27" r="0.45" fill="#ffffff" opacity="0.35"/>
<circle cx="155.11" cy="147.13" r="0.45" fill="#ffffff" opacity="0.35"/>
<circle cx="152.98" cy="161.00" r="0.45" fill="#ffffff" opacity="0.35"/>
<circle cx="159.60" cy="160.46" r="0.45" fill="#ffffff" opacity="0.35"/>
<circle cx="150.40" cy="157.49" r="0.45" fill="#ffffff" opacity="0.35"/>
<circle cx="142.20" cy="164.93" r="0.45" fill="#ffffff" opacity="0.35"/>
<circle cx="136.07" cy="149.48" r="0.45" fill="#ffffff" opacity="0.35"/>
<circle cx="134.03" cy="153.78" r="0.45" fill="#ffffff" opacity="0.35"/>
<circle cx="158.89" cy="157.65" r="0.45" fill="#ffffff" opacity="0.35"/>
<circle cx="130.52" cy="164.56" r="0.45" fill="#ffffff" opacity="0.35"/>
<circle cx="131.78" cy="144.64" r="0.45" fill="#ffffff" opacity="0.35"/>
<circle cx="145.33" cy="139.64" r="0.45" fill="#ffffff" opacity="0.35"/>
<circle cx="155.37" cy="158.90" r="0.45" fill="#ffffff" opacity="0.35"/>
<circle cx="160.86" cy="157.75" r="0.45" fill="#ffffff" opacity="0.35"/>
<circle cx="143.74" cy="145.69" r="0.45" fill="#ffffff" opacity="0.35"/>
<circle cx="140.16" cy="157.22" r="0.45" fill="#ffffff" opacity="0.35"/>
<circle cx="156.65" cy="144.42" r="0.45" fill="#ffffff" opacity="0.35"/>
<circle cx="146.84" cy="157.84" r="0.45" fill="#ffffff" opacity="0.35"/>
<circle cx="137.40" cy="159.56" r="0.45" fill="#ffffff" opacity="0.35"/>
<circle cx="138.98" cy="149.06" r="0.45" fill="#ffffff" opacity="0.35"/>
<circle cx="136.58" cy="166.57" r="0.45" fill="#ffffff" opacity="0.35"/>
<circle cx="131.28" cy="147.92" r="0.45" fill="#ffffff" opacity="0.35"/>
<circle cx="149.60" cy="153.69" r="0.45" fill="#ffffff" opacity="0.35"/>
<circle cx="137.14" cy="153.67" r="0.45" fill="#ffffff" opacity="0.35"/>
<circle cx="145.10" cy="154.84" r="0.45" fill="#ffffff" opacity="0.35"/>
<circle cx="144.21" cy="143.81" r="0.45" fill="#ffffff" opacity="0.35"/>
<circle cx="152.33" cy="148.54" r="0.45" fill="#ffffff" opacity="0.35"/>
<circle cx="155.79" cy="148.72" r="0.45" fill="#ffffff" opacity="0.35"/>
<circle cx="157.74" cy="146.18" r="0.45" fill="#ffffff" opacity="0.35"/>
<circle cx="150.70" cy="167.18" r="0.45" fill="#ffffff" opacity="0.35"/>
<circle cx="139.60" cy="162.35" r="0.45" fill="#ffffff" opacity="0.35"/>
<circle cx="147.64" cy="139.10" r="0.45" fill="#ffffff" opacity="0.35"/>
<circle cx="148.89" cy="149.90" r="0.45" fill="#ffffff" opacity="0.35"/>
<circle cx="132.23" cy="162.30" r="0.45" fill="#ffffff" opacity="0.35"/>
<circle cx="152.30" cy="166.18" r="0.45" fill="#ffffff" opacity="0.35"/>
<circle cx="134.22" cy="149.52" r="0.45" fill="#ffffff" opacity="0.35"/>
<circle cx="148.40" cy="149.01" r="0.45" fill="#ffffff" opacity="0.35"/>
<circle cx="134.01" cy="149.72" r="0.45" fill="#ffffff" opacity="0.35"/>
<circle cx="143.84" cy="153.29" r="0.45" fill="#ffffff" opacity="0.35"/>
<circle cx="144.13" cy="151.19" r="0.45" fill="#ffffff" opacity="0.35"/>
<circle cx="146.01" cy="158.85" r="0.45" fill="#ffffff" opacity="0.35"/>
<circle cx="137.95" cy="152.94" r="0.45" fill="#ffffff" opacity="0.35"/>
<circle cx="156.99" cy="161.59" r="0.45" fill="#ffffff" opacity="0.35"/>
<circle cx="155.12" cy="165.88" r="0.45" fill="#ffffff" opacity="0.35"/>
<circle cx="145.60" cy="163.29" r="0.45" fill="#ffffff" opacity="0.35"/>
<circle cx="155.30" cy="149.32" r="0.45" fill="#ffffff" opacity="0.35"/>
<circle cx="154.49" cy="153.06" r="0.45" fill="#ffffff" opacity="0.35"/>
<circle cx="148.09" cy="143.64" r="0.45" fill="#ffffff" opacity="0.35"/>
<circle cx="153.57" cy="148.64" r="0.45" fill="#ffffff" opacity="0.35"/>
<circle cx="143.76" cy="154.24" r="0.45" fill="#ffffff" opacity="0.35"/>
<circle cx="154.35" cy="167.33" r="0.45" fill="#ffffff" opacity="0.35"/>
<circle cx="157.78" cy="158.33" r="0.45" fill="#ffffff" opacity="0.35"/>
<circle cx="139.34" cy="154.73" r="0.45" fill="#ffffff" opacity="0.35"/>
<circle cx="149.99" cy="149.22" r="0.45" fill="#ffffff" opacity="0.35"/>
<circle cx="159.06" cy="148.02" r="0.45" fill="#ffffff" opacity="0.35"/>
<circle cx="146.83" cy="167.23" r="0.45" fill="#ffffff" opacity="0.35"/>
<circle cx="136.79" cy="151.26" r="0.45" fill="#ffffff" opacity="0.35"/>
<circle cx="159.44" cy="166.11" r="0.45" fill="#ffffff" opacity="0.35"/>
<circle cx="144.22" cy="159.28" r="0.45" fill="#ffffff" opacity="0.35"/>
<circle cx="148.26" cy="141.52" r="0.45" fill="#ffffff" opacity="0.35"/>
<circle cx="159.27" cy="164.39" r="0.45" fill="#ffffff" opacity="0.35"/>
<circle cx="159.30" cy="145.21" r="0.45" fill="#ffffff" opacity="0.35"/>
<circle cx="147.47" cy="162.78" r="0.45" fill="#ffffff" opacity="0.35"/>
<circle cx="157.48" cy="163.84" r="0.45" fill="#ffffff" opacity="0.35"/>
<circle cx="131.69" cy="158.79" r="0.45" fill="#ffffff" opacity="0.35"/>
<circle cx="141.02" cy="143.07" r="0.45" fill="#ffffff" opacity="0.35"/>
<circle cx="146.18" cy="141.31" r="0.45" fill="#ffffff" opacity="0.35"/>
<circle cx="139.71" cy="151.54" r="0.45" fill="#ffffff" opacity="0.35"/>
<circle cx="142.80" cy="148.37" r="0.45" fill="#ffffff" opacity="0.35"/>
<circle cx="145.52" cy="153.72" r="0.45" fill="#ffffff" opacity="0.35"/>
<circle cx="134.83" cy="145.73" r="0.45" fill="#ffffff" opacity="0.35"/>
<circle cx="140.65" cy="139.59" r="0.45" fill="#ffffff" opacity="0.35"/>
<circle cx="146.74" cy="165.17" r="0.45" fill="#ffffff" opacity="0.35"/>
<circle cx="137.88" cy="164.61" r="0.45" fill="#ffffff" opacity="0.35"/>
<circle cx="141.81" cy="152.05" r="0.45" fill="#ffffff" opacity="0.35"/>
<circle cx="154.99" cy="151.80" r="0.45" fill="#ffffff" opacity="0.35"/>
<circle cx="145.93" cy="165.66" r="0.45" fill="#ffffff" opacity="0.35"/>
<circle cx="132.23" cy="151.78" r="0.45" fill="#ffffff" opacity="0.35"/>
<circle cx="139.65" cy="153.39" r="0.45" fill="#ffffff" opacity="0.35"/>
<circle cx="147.61" cy="159.00" r="0.45" fill="#ffffff" opacity="0.35"/>
<circle cx="139.42" cy="165.90" r="0.45" fill="#ffffff" opacity="0.35"/>
<circle cx="160.47" cy="161.55" r="0.45" fill="#ffffff" opacity="0.35"/>
<circle cx="149.41" cy="162.08" r="0.45" fill="#ffffff" opacity="0.35"/>
<circle cx="131.74" cy="156.99" r="0.45" fill="#ffffff" opacity="0.35"/>
<circle cx="144.36" cy="148.44" r="0.45" fill="#ffffff" opacity="0.35"/>
<circle cx="151.83" cy="149.85" r="0.45" fill="#ffffff" opacity="0.35"/>
<circle cx="158.64" cy="142.07" r="0.45" fill="#ffffff" opacity="0.35"/>
<circle cx="138.43" cy="152.72" r="0.45" fill="#ffffff" opacity="0.35"/>
<circle cx="134.43" cy="142.39" r="0.45" fill="#ffffff" opacity="0.35"/>
<circle cx="151.65" cy="146.61" r="0.45" fill="#ffffff" opacity="0.35"/>
<circle cx="134.26" cy="159.37" r="0.45" fill="#ffffff" opacity="0.35"/>
<circle cx="157.45" cy="156.76" r="0.45" fill="#ffffff" opacity="0.35"/>
<circle cx="149.95" cy="147.19" r="0.45" fill="#ffffff" opacity="0.35"/>
<circle cx="159.14" cy="161.75" r="0.45" fill="#ffffff" opacity="0.35"/>
<circle cx="155.80" cy="154.63" r="0.45" fill="#ffffff" opacity="0.35"/>
<circle cx="137.35" cy="152.69" r="0.45" fill="#ffffff" opacity="0.35"/>
<circle cx="142.31" cy="157.08" r="0.45" fill="#ffffff" opacity="0.35"/>
<circle cx="134.51" cy="144.83" r="0.45" fill="#ffffff" opacity="0.35"/>
<circle cx="147.67" cy="143.01" r="0.45" fill="#ffffff" opacity="0.35"/>
<circle cx="135.17" cy="154.73" r="0.45" fill="#ffffff" opacity="0.35"/>
<circle cx="144.27" cy="162.85" r="0.45" fill="#ffffff" opacity="0.35"/>
<circle cx="161.43" cy="155.12" r="0.45" fill="#ffffff" opacity="0.35"/>
<circle cx="150.60" cy="151.30" r="0.45" fill="#ffffff" opacity="0.35"/>
<circle cx="149.39" cy="149.89" r="0.45" fill="#ffffff" opacity="0.35"/>
<circle cx="157.87" cy="153.78" r="0.45" fill="#ffffff" opacity="0.35"/>
<circle cx="137.77" cy="151.14" r="0.45" fill="#ffffff" opacity="0.35"/>
<circle cx="157.03" cy="139.91" r="0.45" fill="#ffffff" opacity="0.35"/>
<circle cx="161.78" cy="160.74" r="0.45" fill="#ffffff" opacity="0.35"/>
<circle cx="146.11" cy="147.13" r="0.45" fill="#ffffff" opacity="0.35"/>
<circle cx="138.02" cy="149.01" r="0.45" fill="#ffffff" opacity="0.35"/>
<circle cx="153.23" cy="157.29" r="0.45" fill="#ffffff" opacity="0.35"/>
<circle cx="145.97" cy="150.03" r="0.45" fill="#ffffff" opacity="0.35"/>
<circle cx="143.45" cy="143.15" r="0.45" fill="#ffffff" opacity="0.35"/>
<circle cx="142.05" cy="159.01" r="0.45" fill="#ffffff" opacity="0.35"/>
<circle cx="130.56" cy="166.39" r="0.45" fill="#ffffff" opacity="0.35"/>
<circle cx="130.57" cy="151.96" r="0.45" fill="#ffffff" opacity="0.35"/>
<circle cx="139.38" cy="154.55" r="0.45" fill="#ffffff" opacity="0.35"/>
<circle cx="138.38" cy="156.50" r="0.45" fill="#ffffff" opacity="0.35"/>
<circle cx="131.35" cy="165.04" r="0.45" fill="#ffffff" opacity="0.35"/>
<circle cx="159.47" cy="164.26" r="0.45" fill="#ffffff" opacity="0.35"/>
<circle cx="152.32" cy="142.97" r="0.45" fill="#ffffff" opacity="0.35"/>
<circle cx="150.00" cy="155.74" r="0.45" fill="#ffffff" opacity="0.35"/>
<circle cx="155.53" cy="152.38" r="0.45" fill="#ffffff" opacity="0.35"/>
<circle cx="155.16" cy="147.95" r="0.45" fill="#ffffff" opacity="0.35"/>
<circle cx="130.99" cy="143.51" r="0.45" fill="#ffffff" opacity="0.35"/>
<circle cx="161.77" cy="148.47" r="0.45" fill="#ffffff" opacity="0.35"/>
<circle cx="134.34" cy="143.79" r="0.45" fill="#ffffff" opacity="0.35"/>
<circle cx="160.51" cy="162.45" r="0.45" fill="#ffffff" opacity="0.35"/>
<circle cx="143.96" cy="140.52" r="0.45" fill="#ffffff" opacity="0.35"/>
<circle cx="155.64" cy="139.09" r="0.45" fill="#ffffff" opacity="0.35"/>
<circle cx="153.99" cy="151.30" r="0.45" fill="#ffffff" opacity="0.35"/>
<circle cx="141.49" cy="139.46" r="0.45" fill="#ffffff" opacity="0.35"/>
<circle cx="151.15" cy="164.36" r="0.45" fill="#ffffff" opacity="0.35"/>
<circle cx="144.40" cy="164.41" r="0.45" fill="#ffffff" opacity="0.35"/>
<circle cx="135.93" cy="148.43" r="0.45" fill="#ffffff" opacity="0.35"/>
<circle cx="143.72" cy="144.39" r="0.45" fill="#ffffff" opacity="0.35"/>
<circle cx="161.66" cy="153.94" r="0.45" fill="#ffffff" opacity="0.35"/>
<circle cx="130.02" cy="157.46" r="0.45" fill="#ffffff" opacity="0.35"/>
<circle cx="134.75" cy="149.24" r="0.45" fill="#ffffff" opacity="0.35"/>
<circle cx="156.14" cy="148.84" r="0.45" fill="#ffffff" opacity="0.35"/>
<circle cx="138.54" cy="163.97" r="0.45" fill="#ffffff" opacity="0.35"/>
<circle cx="138.42" cy="166.53" r="0.45" fill="#ffffff" opacity="0.35"/>
<circle cx="131.07" cy="140.96" r="0.45" fill="#ffffff" opacity="0.35"/>
<circle cx="161.80" cy="156.87" r="0.45" fill="#ffffff" opacity="0.35"/>
<circle cx="147.75" cy="162.01" r="0.45" fill="#ffffff" opacity="0.35"/>
<circle cx="139.49" cy="164.21" r="0.45" fill="#ffffff" opacity="0.35"/>
<circle cx="138.97" cy="164.03" r="0.45" fill="#ffffff" opacity="0.35"/>
<circle cx="145.91" cy="165.06" r="0.45" fill="#ffffff" opacity="0.35"/>
<circle cx="160.79" cy="162.19" r="0.45" fill="#ffffff" opacity="0.35"/>
<circle cx="134.61" cy="152.33" r="0.45" fill="#ffffff" opacity="0.35"/>
<circle cx="159.19" cy="151.85" r="0.45" fill="#ffffff" opacity="0.35"/>
<circle cx="136.69" cy="152.53" r="0.45" fill="#ffffff" opacity="0.35"/>
<circle cx="134.25" cy="141.22" r="0.45" fill="#ffffff" opacity="0.35"/>
<circle cx="148.85" cy="139.28" r="0.45" fill="#ffffff" opacity="0.35"/>
<circle cx="142.97" cy="148.18" r="0.45" fill="#ffffff" opacity="0.35"/>
<circle cx="155.52" cy="149.48" r="0.45" fill="#ffffff" opacity="0.35"/>
<circle cx="144.09" cy="157.47" r="0.45" fill="#ffffff" opacity="0.35"/>
<circle cx="135.38" cy="152.86" r="0.45" fill="#ffffff" opacity="0.35"/>
<circle cx="136.22" cy="150.62" r="0.45" fill="#ffffff" opacity="0.35"/>
<circle cx="155.85" cy="166.35" r="0.45" fill="#ffffff" opacity="0.35"/>
<circle cx="160.46" cy="162.17" r="0.45" fill="#ffffff" opacity="0.35"/>
<circle cx="131.33" cy="151.36" r="0.45" fill="#ffffff" opacity="0.35"/>
<circle cx="141.71" cy="149.92" r="0.45" fill="#ffffff" opacity="0.35"/>
<circle cx="144.83" cy="158.67" r="0.45" fill="#ffffff" opacity="0.35"/>
<circle cx="130.17" cy="156.15" r="0.45" fill="#ffffff" opacity="0.35"/>
<circle cx="131.79" cy="160.71" r="0.45" fill="#ffffff" opacity="0.35"/>
<circle cx="159.88" cy="158.36" r="0.45" fill="#ffffff" opacity="0.35"/>
<circle cx="154.79" cy="167.43" r="0.45" fill="#ffffff" opacity="0.35"/>
<circle cx="159.28" cy="147.37" r="0.45" fill="#ffffff" opacity="0.35"/>
<circle cx="149.57" cy="152.95" r="0.45" fill="#ffffff" opacity="0.35"/>
<circle cx="146.62" cy="151.31" r="0.45" fill="#ffffff" opacity="0.35"/>
<circle cx="130.54" cy="148.61" r="0.45" fill="#ffffff" opacity="0.35"/>
<circle cx="130.91" cy="164.70" r="0.45" fill="#ffffff" opacity="0.35"/>
<circle cx="155.24" cy="140.65" r="0.45" fill="#ffffff" opacity="0.35"/>
<circle cx="150.51" cy="164.52" r="0.45" fill="#ffffff" opacity="0.35"/>
<circle cx="150.17" cy="158.08" r="0.45" fill="#ffffff" opacity="0.35"/>
<circle cx="145.47" cy="150.27" r="0.45" fill="#ffffff" opacity="0.35"/>
<circle cx="140.70" cy="141.55" r="0.45" fill="#ffffff" opacity="0.35"/>
<circle cx="139.79" cy="145.09" r="0.45" fill="#ffffff" opacity="0.35"/>
<circle cx="143.70" cy="149.82" r="0.45" fill="#ffffff" opacity="0.35"/>
<circle cx="139.85" cy="167.78" r="0.45" fill="#ffffff" opacity="0.35"/>
<circle cx="137.33" cy="150.28" r="0.45" fill="#ffffff" opacity="0.35"/>
<circle cx="156.31" cy="149.58" r="0.45" fill="#ffffff" opacity="0.35"/>
<circle cx="131.57" cy="155.31" r="0.45" fill="#ffffff" opacity="0.35"/>
<circle cx="140.97" cy="162.09" r="0.45" fill="#ffffff" opacity="0.35"/>
<circle cx="140.61" cy="148.63" r="0.45" fill="#ffffff" opacity="0.35"/>
<circle cx="146.37" cy="157.19" r="0.45" fill="#ffffff" opacity="0.35"/>
<circle cx="134.09" cy="140.85" r="0.45" fill="#ffffff" opacity="0.35"/>
<circle cx="154.45" cy="146.25" r="0.45" fill="#ffffff" opacity="0.35"/>
<circle cx="159.94" cy="162.51" r="0.45" fill="#ffffff" opacity="0.35"/>
<circle cx="147.04" cy="141.29" r="0.45" fill="#ffffff" opacity="0.35"/>
<circle cx="138.27" cy="139.54" r="0.45" fill="#ffffff" opacity="0.35"/>
<circle cx="148.67" cy="155.26" r="0.45" fill="#ffffff" opacity="0.35"/>
<circle cx="153.23" cy="149.43" r="0.45" fill="#ffffff" opacity="0.35"/>
<circle cx="158.96" cy="164.37" r="0.45" fill="#ffffff" opacity="0.35"/>
<circle cx="152.03" cy="153.62" r="0.45" fill="#ffffff" opacity="0.35"/>
<circle cx="159.68" cy="153.65" r="0.45" fill="#ffffff" opacity="0.35"/>
<circle cx="130.10" cy="164.82" r="0.45" fill="#ffffff" opacity="0.35"/>
<circle cx="132.85" cy="149.60" r="0.45" fill="#ffffff" opacity="0.35"/>
<circle cx="141.76" cy="163.84" r="0.45" fill="#ffffff" opacity="0.35"/>
<circle cx="149.23" cy="154.88" r="0.45" fill="#ffffff" opacity="0.35"/>
<circle cx="161.65" cy="164.73" r="0.45" fill="#ffffff" opacity="0.35"/>
<circle cx="150.61" cy="151.53" r="0.45" fill="#ffffff" opacity="0.35"/>
<circle cx="137.33" cy="164.56" r="0.45" fill="#ffffff" opacity="0.35"/>
<circle cx="152.55" cy="165.38" r="0.45" fill="#ffffff" opacity="0.35"/>
<circle cx="143.07" cy="166.70" r="0.45" fill="#ffffff" opacity="0.35"/>
<circle cx="132.42" cy="147.37" r="0.45" fill="#ffffff" opacity="0.35"/>
<circle cx="160.22" cy="161.41" r="0.45" fill="#ffffff" opacity="0.35"/>
<circle cx="135.69" cy="149.22" r="0.45" fill="#ffffff" opacity="0.35"/>
<circle cx="137.07" cy="157.32" r="0.45" fill="#ffffff" opacity="0.35"/>
<circle cx="152.13" cy="156.50" r="0.45" fill="#ffffff" opacity="0.35"/>
<circle cx="142.77" cy="140.84" r="0.45" fill="#ffffff" opacity="0.35"/>
<circle cx="140.62" cy="165.88" r="0.45" fill="#ffffff" opacity="0.35"/>
<circle cx="153.56" cy="156.28" r="0.45" fill="#ffffff" opacity="0.35"/>
<circle cx="148.78" cy="150.46" r="0.45" fill="#ffffff" opacity="0.35"/>
<circle cx="130.63" cy="144.95" r="0.45" fill="#ffffff" opacity="0.35"/>
<circle cx="139.96" cy="139.41" r="0.45" fill="#ffffff" opacity="0.35"/>
<circle cx="141.31" cy="148.22" r="0.45" fill="#ffffff" opacity="0.35"/>
<circle cx="143.11" cy="151.01" r="0.45" fill="#ffffff" opacity="0.35"/>
<circle cx="154.95" cy="154.19" r="0.45" fill="#ffffff" opacity="0.35"/>
<circle cx="158.71" cy="155.38" r="0.45" fill="#ffffff" opacity="0.35"/>
<circle cx="140.34" cy="152.02" r="0.45" fill="#ffffff" opacity="0.35"/>
<circle cx="151.84" cy="143.36" r="0.45" fill="#ffffff" opacity="0.35"/>
<circle cx="152.67" cy="166.96" r="0.45" fill="#ffffff" opacity="0.35"/>
<circle cx="153.32" cy="158.95" r="0.45" fill="#ffffff" opacity="0.35"/>
<circle cx="156.67" cy="139.35" r="0.45" fill="#ffffff" opacity="0.35"/>
<circle cx="147.88" cy="150.17" r="0.45" fill="#ffffff" opacity="0.35"/>
<circle cx="135.81" cy="150.32" r="0.45" fill="#ffffff" opacity="0.35"/>
<circle cx="131.42" cy="159.12" r="0.45" fill="#ffffff" opacity="0.35"/>
<circle cx="133.15" cy="149.90" r="0.45" fill="#ffffff" opacity="0.35"/>
<circle cx="133.01" cy="167.84" r="0.45" fill="#ffffff" opacity="0.35"/>
<circle cx="137.50" cy="154.85" r="0.45" fill="#ffffff" opacity="0.35"/>
<circle cx="130.64" cy="147.44" r="0.45" fill="#ffffff" opacity="0.35"/>
<circle cx="143.16" cy="139.56" r="0.45" fill="#ffffff" opacity="0.35"/>
<circle cx="158.21" cy="157.73" r="0.45" fill="#ffffff" opacity="0.35"/>
<circle cx="131.11" cy="151.99" r="0.45" fill="#ffffff" opacity="0.35"/>
<circle cx="133.92" cy="151.27" r="0.45" fill="#ffffff" opacity="0.35"/>
<circle cx="154.70" cy="144.97" r="0.45" fill="#ffffff" opacity="0.35"/>
<circle cx="156.58" cy="153.11" r="0.45" fill="#ffffff" opacity="0.35"/>
<circle cx="149.98" cy="167.35" r="0.45" fill="#ffffff" opacity="0.35"/>
<circle cx="135.54" cy="160.13" r="0.45" fill="#ffffff" opacity="0.35"/>
<circle cx="159.32" cy="153.46" r="0.45" fill="#ffffff" opacity="0.35"/>
<circle cx="137.37" cy="161.50" r="0.45" fill="#ffffff" opacity="0.35"/>
<circle cx="144.63" cy="140.01" r="0.45" fill="#ffffff" opacity="0.35"/>
<circle cx="158.93" cy="143.13" r="0.45" fill="#ffffff" opacity="0.35"/>
<circle cx="153.81" cy="144.05" r="0.45" fill="#ffffff" opacity="0.35"/>
<circle cx="144.52" cy="154.10" r="0.45" fill="#ffffff" opacity="0.35"/>
<circle cx="138.70" cy="155.50" r="0.45" fill="#ffffff" opacity="0.35"/>
<circle cx="161.65" cy="148.22" r="0.45" fill="#ffffff" opacity="0.35"/>
<circle cx="149.58" cy="166.27" r="0.45" fill="#ffffff" opacity="0.35"/>
<circle cx="134.70" cy="164.57" r="0.45" fill="#ffffff" opacity="0.35"/>
<circle cx="159.47" cy="157.22" r="0.45" fill="#ffffff" opacity="0.35"/>
<circle cx="131.44" cy="146.76" r="0.45" fill="#ffffff" opacity="0.35"/>
<circle cx="137.28" cy="153.88" r="0.45" fill="#ffffff" opacity="0.35"/>
<circle cx="136.53" cy="166.11" r="0.45" fill="#ffffff" opacity="0.35"/>
<circle cx="161.02" cy="141.31" r="0.45" fill="#ffffff" opacity="0.35"/>
<circle cx="156.22" cy="151.32" r="0.45" fill="#ffffff" opacity="0.35"/>
<circle cx="146.59" cy="152.06" r="0.45" fill="#ffffff" opacity="0.35"/>
<circle cx="141.49" cy="153.66" r="0.45" fill="#ffffff" opacity="0.35"/>
<circle cx="148.75" cy="148.13" r="0.45" fill="#ffffff" opacity="0.35"/>
<circle cx="137.32" cy="149.74" r="0.45" fill="#ffffff" opacity="0.35"/>
<circle cx="135.97" cy="157.27" r="0.45" fill="#ffffff" opacity="0.35"/>
<circle cx="147.62" cy="160.35" r="0.45" fill="#ffffff" opacity="0.35"/>
<circle cx="150.49" cy="157.07" r="0.45" fill="#ffffff" opacity="0.35"/>
<circle cx="137.33" cy="151.11" r="0.45" fill="#ffffff" opacity="0.35"/>
<circle cx="133.32" cy="162.11" r="0.45" fill="#ffffff" opacity="0.35"/>
<circle cx="159.35" cy="158.23" r="0.45" fill="#ffffff" opacity="0.35"/>
<circle cx="146.18" cy="148.16" r="0.45" fill="#ffffff" opacity="0.35"/>
<circle cx="147.36" cy="161.36" r="0.45" fill="#ffffff" opacity="0.35"/>
<circle cx="145.94" cy="156.03" r="0.45" fill="#ffffff" opacity="0.35"/>
<circle cx="132.52" cy="145.35" r="0.45" fill="#ffffff" opacity="0.35"/>
<circle cx="147.66" cy="164.39" r="0.45" fill="#ffffff" opacity="0.35"/>
<circle cx="139.01" cy="153.68" r="0.45" fill="#ffffff" opacity="0.35"/>
<circle cx="140.47" cy="142.30" r="0.45" fill="#ffffff" opacity="0.35"/>
<circle cx="139.32" cy="158.80" r="0.45" fill="#ffffff" opacity="0.35"/>
<circle cx="141.88" cy="152.05" r="0.45" fill="#ffffff" opacity="0.35"/>
<circle cx="146.80" cy="156.41" r="0.45" fill="#ffffff" opacity="0.35"/>
<circle cx="149.75" cy="159.00" r="0.45" fill="#ffffff" opacity="0.35"/>
<circle cx="158.47" cy="157.68" r="0.45" fill="#ffffff" opacity="0.35"/>
<circle cx="148.09" cy="165.29" r="0.45" fill="#ffffff" opacity="0.35"/>
<circle cx="144.21" cy="154.42" r="0.45" fill="#ffffff" opacity="0.35"/>
<circle cx="132.61" cy="157.37" r="0.45" fill="#ffffff" opacity="0.35"/>
<circle cx="148.71" cy="165.95" r="0.45" fill="#ffffff" opacity="0.35"/>
<circle cx="132.25" cy="145.99" r="0.45" fill="#ffffff" opacity="0.35"/>
<circle cx="154.29" cy="161.78" r="0.45" fill="#ffffff" opacity="0.35"/>
<circle cx="151.51" cy="145.83" r="0.45" fill="#ffffff" opacity="0.35"/>
<circle cx="159.54" cy="155.11" r="0.45" fill="#ffffff" opacity="0.35"/>
<circle cx="156.97" cy="162.96" r="0.45" fill="#ffffff" opacity="0.35"/>
<circle cx="151.24" cy="153.74" r="0.45" fill="#ffffff" opacity="0.35"/>
<circle cx="151.11" cy="142.58" r="0.45" fill="#ffffff" opacity="0.35"/>
<circle cx="154.00" cy="165.99" r="0.45" fill="#ffffff" opacity="0.35"/>
<circle cx="149.56" cy="157.73" r="0.45" fill="#ffffff" opacity="0.35"/>
<circle cx="153.79" cy="158.29" r="0.45" fill="#ffffff" opacity="0.35"/>
<circle cx="134.46" cy="163.27" r="0.45" fill="#ffffff" opacity="0.35"/>
<circle cx="134.01" cy="146.15" r="0.4" fill="#5060c0" opacity="0.45"/>
<circle cx="158.76" cy="148.21" r="0.4" fill="#5060c0" opacity="0.45"/>
<circle cx="133.59" cy="154.89" r="0.4" fill="#5060c0" opacity="0.45"/>
<circle cx="141.75" cy="156.78" r="0.4" fill="#5060c0" opacity="0.45"/>
<circle cx="140.48" cy="161.12" r="0.4" fill="#5060c0" opacity="0.45"/>
<circle cx="147.67" cy="145.03" r="0.4" fill="#5060c0" opacity="0.45"/>
<circle cx="145.81" cy="139.27" r="0.4" fill="#5060c0" opacity="0.45"/>
<circle cx="148.71" cy="163.02" r="0.4" fill="#5060c0" opacity="0.45"/>
<circle cx="139.41" cy="143.68" r="0.4" fill="#5060c0" opacity="0.45"/>
<circle cx="144.21" cy="150.97" r="0.4" fill="#5060c0" opacity="0.45"/>
<circle cx="145.97" cy="165.07" r="0.4" fill="#5060c0" opacity="0.45"/>
<circle cx="135.69" cy="159.56" r="0.4" fill="#5060c0" opacity="0.45"/>
<circle cx="155.17" cy="160.31" r="0.4" fill="#5060c0" opacity="0.45"/>
<circle cx="133.27" cy="154.21" r="0.4" fill="#5060c0" opacity="0.45"/>
<circle cx="145.29" cy="165.69" r="0.4" fill="#5060c0" opacity="0.45"/>
<circle cx="141.11" cy="162.90" r="0.4" fill="#5060c0" opacity="0.45"/>
<circle cx="158.55" cy="152.28" r="0.4" fill="#5060c0" opacity="0.45"/>
<circle cx="151.25" cy="139.17" r="0.4" fill="#5060c0" opacity="0.45"/>
<circle cx="139.51" cy="160.50" r="0.4" fill="#5060c0" opacity="0.45"/>
<circle cx="147.97" cy="146.07" r="0.4" fill="#5060c0" opacity="0.45"/>
<circle cx="151.18" cy="141.19" r="0.4" fill="#5060c0" opacity="0.45"/>
<circle cx="137.21" cy="144.71" r="0.4" fill="#5060c0" opacity="0.45"/>
<circle cx="150.01" cy="157.22" r="0.4" fill="#5060c0" opacity="0.45"/>
<circle cx="131.76" cy="141.40" r="0.4" fill="#5060c0" opacity="0.45"/>
<circle cx="150.26" cy="151.99" r="0.4" fill="#5060c0" opacity="0.45"/>
<circle cx="138.20" cy="149.33" r="0.4" fill="#5060c0" opacity="0.45"/>
<circle cx="142.59" cy="160.99" r="0.4" fill="#5060c0" opacity="0.45"/>
<circle cx="166.81" cy="143.94" r="0.4" fill="#5060c0" opacity="0.45"/>
<circle cx="133.18" cy="163.84" r="0.4" fill="#5060c0" opacity="0.45"/>
<circle cx="144.00" cy="139.30" r="0.4" fill="#5060c0" opacity="0.45"/>
<circle cx="157.06" cy="151.08" r="0.4" fill="#5060c0" opacity="0.45"/>
<circle cx="158.25" cy="163.67" r="0.4" fill="#5060c0" opacity="0.45"/>
<circle cx="147.66" cy="140.51" r="0.4" fill="#5060c0" opacity="0.45"/>
<circle cx="147.45" cy="144.35" r="0.4" fill="#5060c0" opacity="0.45"/>
<circle cx="135.29" cy="143.79" r="0.4" fill="#5060c0" opacity="0.45"/>
<circle cx="160.81" cy="141.58" r="0.4" fill="#5060c0" opacity="0.45"/>
<circle cx="145.44" cy="154.26" r="0.4" fill="#5060c0" opacity="0.45"/>
<circle cx="135.08" cy="150.74" r="0.4" fill="#5060c0" opacity="0.45"/>
<circle cx="148.32" cy="156.59" r="0.4" fill="#5060c0" opacity="0.45"/>
<circle cx="152.13" cy="158.40" r="0.4" fill="#5060c0" opacity="0.45"/>
<circle cx="166.34" cy="147.93" r="0.4" fill="#5060c0" opacity="0.45"/>
<circle cx="139.34" cy="141.86" r="0.4" fill="#5060c0" opacity="0.45"/>
<circle cx="144.66" cy="149.80" r="0.4" fill="#5060c0" opacity="0.45"/>
<circle cx="133.47" cy="155.82" r="0.4" fill="#5060c0" opacity="0.45"/>
<circle cx="143.25" cy="158.90" r="0.4" fill="#5060c0" opacity="0.45"/>
<circle cx="157.68" cy="157.47" r="0.4" fill="#5060c0" opacity="0.45"/>
<circle cx="151.76" cy="155.78" r="0.4" fill="#5060c0" opacity="0.45"/>
<circle cx="131.91" cy="147.87" r="0.4" fill="#5060c0" opacity="0.45"/>
<circle cx="136.61" cy="167.30" r="0.4" fill="#5060c0" opacity="0.45"/>
<circle cx="133.94" cy="167.22" r="0.4" fill="#5060c0" opacity="0.45"/>
<circle cx="139.80" cy="151.83" r="0.4" fill="#5060c0" opacity="0.45"/>
<circle cx="133.28" cy="161.96" r="0.4" fill="#5060c0" opacity="0.45"/>
<circle cx="140.90" cy="139.38" r="0.4" fill="#5060c0" opacity="0.45"/>
<circle cx="144.28" cy="155.28" r="0.4" fill="#5060c0" opacity="0.45"/>
<circle cx="142.10" cy="149.22" r="0.4" fill="#5060c0" opacity="0.45"/>
<circle cx="143.28" cy="148.48" r="0.4" fill="#5060c0" opacity="0.45"/>
<circle cx="148.81" cy="145.09" r="0.4" fill="#5060c0" opacity="0.45"/>
<circle cx="159.22" cy="166.20" r="0.4" fill="#5060c0" opacity="0.45"/>
<circle cx="145.38" cy="146.65" r="0.4" fill="#5060c0" opacity="0.45"/>
<circle cx="154.83" cy="155.83" r="0.4" fill="#5060c0" opacity="0.45"/>
<circle cx="155.67" cy="160.62" r="0.4" fill="#5060c0" opacity="0.45"/>
<circle cx="149.25" cy="149.92" r="0.4" fill="#5060c0" opacity="0.45"/>
<circle cx="140.54" cy="143.03" r="0.4" fill="#5060c0" opacity="0.45"/>
<circle cx="156.22" cy="151.40" r="0.4" fill="#5060c0" opacity="0.45"/>
<circle cx="152.89" cy="153.18" r="0.4" fill="#5060c0" opacity="0.45"/>
<circle cx="137.37" cy="162.61" r="0.4" fill="#5060c0" opacity="0.45"/>
<circle cx="157.61" cy="140.64" r="0.4" fill="#5060c0" opacity="0.45"/>
<circle cx="140.78" cy="144.03" r="0.4" fill="#5060c0" opacity="0.45"/>
<circle cx="147.09" cy="156.21" r="0.4" fill="#5060c0" opacity="0.45"/>
<circle cx="153.08" cy="150.90" r="0.4" fill="#5060c0" opacity="0.45"/>
<circle cx="144.99" cy="154.23" r="0.4" fill="#5060c0" opacity="0.45"/>
<circle cx="154.35" cy="157.80" r="0.4" fill="#5060c0" opacity="0.45"/>
<circle cx="146.27" cy="166.70" r="0.4" fill="#5060c0" opacity="0.45"/>
<circle cx="150.26" cy="154.50" r="0.4" fill="#5060c0" opacity="0.45"/>
<circle cx="148.12" cy="166.56" r="0.4" fill="#5060c0" opacity="0.45"/>
<circle cx="160.33" cy="139.72" r="0.4" fill="#5060c0" opacity="0.45"/>
<circle cx="131.82" cy="144.24" r="0.4" fill="#5060c0" opacity="0.45"/>
<circle cx="149.63" cy="160.09" r="0.4" fill="#5060c0" opacity="0.45"/>
<circle cx="154.53" cy="157.64" r="0.4" fill="#5060c0" opacity="0.45"/>
<circle cx="142.43" cy="163.17" r="0.4" fill="#5060c0" opacity="0.45"/>
<circle cx="159.77" cy="153.38" r="0.4" fill="#5060c0" opacity="0.45"/>
<circle cx="141.49" cy="145.42" r="0.4" fill="#5060c0" opacity="0.45"/>
<circle cx="156.18" cy="149.52" r="0.4" fill="#5060c0" opacity="0.45"/>
<circle cx="133.05" cy="154.89" r="0.4" fill="#5060c0" opacity="0.45"/>
<circle cx="164.40" cy="163.86" r="0.4" fill="#5060c0" opacity="0.45"/>
<circle cx="139.87" cy="153.16" r="0.4" fill="#5060c0" opacity="0.45"/>
<circle cx="144.33" cy="155.42" r="0.4" fill="#5060c0" opacity="0.45"/>
<circle cx="158.92" cy="166.57" r="0.4" fill="#5060c0" opacity="0.45"/>
<circle cx="149.56" cy="159.76" r="0.4" fill="#5060c0" opacity="0.45"/>
<circle cx="137.72" cy="149.64" r="0.4" fill="#5060c0" opacity="0.45"/>
<circle cx="135.70" cy="158.62" r="0.4" fill="#5060c0" opacity="0.45"/>
<circle cx="135.42" cy="165.91" r="0.4" fill="#5060c0" opacity="0.45"/>
<circle cx="151.40" cy="166.93" r="0.4" fill="#5060c0" opacity="0.45"/>
<circle cx="151.31" cy="162.57" r="0.4" fill="#5060c0" opacity="0.45"/>
<circle cx="133.39" cy="158.06" r="0.4" fill="#5060c0" opacity="0.45"/>
<circle cx="165.45" cy="143.91" r="0.4" fill="#5060c0" opacity="0.45"/>
<circle cx="141.71" cy="140.38" r="0.4" fill="#5060c0" opacity="0.45"/>
<circle cx="150.05" cy="166.10" r="0.4" fill="#5060c0" opacity="0.45"/>
<circle cx="136.62" cy="140.20" r="0.4" fill="#5060c0" opacity="0.45"/>
<circle cx="141.88" cy="144.81" r="0.4" fill="#5060c0" opacity="0.45"/>
<circle cx="149.31" cy="141.84" r="0.4" fill="#5060c0" opacity="0.45"/>
<circle cx="156.43" cy="152.14" r="0.4" fill="#5060c0" opacity="0.45"/>
<circle cx="143.22" cy="157.85" r="0.4" fill="#5060c0" opacity="0.45"/>
<circle cx="131.21" cy="151.91" r="0.4" fill="#5060c0" opacity="0.45"/>
<circle cx="131.76" cy="141.23" r="0.4" fill="#5060c0" opacity="0.45"/>
<circle cx="149.67" cy="157.73" r="0.4" fill="#5060c0" opacity="0.45"/>
<circle cx="137.43" cy="150.93" r="0.4" fill="#5060c0" opacity="0.45"/>
<circle cx="130.39" cy="140.88" r="0.4" fill="#5060c0" opacity="0.45"/>
<circle cx="151.65" cy="164.48" r="0.4" fill="#5060c0" opacity="0.45"/>
<circle cx="132.89" cy="144.80" r="0.4" fill="#5060c0" opacity="0.45"/>
<circle cx="135.55" cy="156.70" r="0.4" fill="#5060c0" opacity="0.45"/>
<circle cx="150.46" cy="148.75" r="0.4" fill="#5060c0" opacity="0.45"/>
<circle cx="156.17" cy="157.84" r="0.4" fill="#5060c0" opacity="0.45"/>
<circle cx="142.52" cy="162.60" r="0.4" fill="#5060c0" opacity="0.45"/>
<circle cx="147.84" cy="142.95" r="0.4" fill="#5060c0" opacity="0.45"/>
<circle cx="154.97" cy="159.23" r="0.4" fill="#5060c0" opacity="0.45"/>
<circle cx="151.09" cy="149.65" r="0.4" fill="#5060c0" opacity="0.45"/>
<circle cx="133.18" cy="162.91" r="0.4" fill="#5060c0" opacity="0.45"/>
<circle cx="136.76" cy="144.75" r="0.4" fill="#5060c0" opacity="0.45"/>
<circle cx="134.56" cy="160.86" r="0.4" fill="#5060c0" opacity="0.45"/>
<ellipse cx="138" cy="165.5" rx="8" ry="2.6" fill="#30a0a8" filter="url(#b1)" opacity="0.6"/>
<ellipse cx="133.5" cy="166" rx="3" ry="1.8" fill="#50c080" filter="url(#b05)" opacity="0.8"/>
<path d="M220.70,131.10 L223.00,131.50 L229.70,133.20 L236.60,134.60 L243.50,138.70 L249.00,145.60 L252.50,152.50 L254.60,159.40 L253.90,168.40 L220.70,168.40 Z" fill="#2c3cae" filter="url(#b05)" opacity="1"/>
<path d="M220.70,136.32 L222.68,136.67 L228.44,138.13 L234.37,139.33 L240.31,142.86 L245.04,148.79 L248.05,154.73 L249.85,160.66 L249.25,168.40 L220.70,168.40 Z" fill="#3a68cc" filter="url(#b1)" opacity="1"/>
<path d="M220.70,140.05 L222.45,140.36 L227.54,141.65 L232.78,142.71 L238.03,145.83 L242.21,151.07 L244.87,156.32 L246.46,161.56 L245.93,168.40 L220.70,168.40 Z" fill="#3a9ad8" filter="url(#b1)" opacity="1"/>
<path d="M221,138 L226,140 L231,147 L234,154 L236,161 L238,167.8 L221,167.8 Z" fill="#60c480" filter="url(#b1)" opacity="1"/>
<path d="M221,141 L224,143 L228,150 L230,158 L231,167.5 L221,167.5 Z" fill="#80d048" filter="url(#b1)" opacity="1"/>
<ellipse cx="243.5" cy="160.5" rx="6" ry="6.5" fill="#40b0d8" filter="url(#b1)" opacity="1"/>
<ellipse cx="243.5" cy="161" rx="4.2" ry="5" fill="#78cc50" filter="url(#b1)" opacity="1"/>
<path d="M221,140 L223.3,141 L223.3,167 L221,167 Z" fill="#e0a828" filter="url(#b05)" opacity="0.85"/>
<ellipse cx="236" cy="166.5" rx="14" ry="1.6" fill="#58bca8" filter="url(#b1)" opacity="0.7"/>
<polygon points="52.30,58.40 70.60,58.40 70.60,76.40 52.30,76.40" fill="none" stroke="#333" stroke-width="0.8" />
<line x1="71.60" y1="68.40" x2="110.50" y2="68.40" stroke="#222" stroke-width="0.8" />
<polygon points="114.50,68.40 110.50,70.10 110.50,66.70" fill="#222" stroke="none" stroke-width="0.8" />
<polygon points="124.30,32.80 153.30,32.80 154.40,49.30 142.00,66.80 141.20,76.40 124.30,76.40" fill="none" stroke="#333" stroke-width="0.8" />
<polygon points="154.40,49.30 166.90,53.20 165.80,75.80 141.20,76.40 142.00,66.80" fill="none" stroke="#222" stroke-width="0.9" />
<line x1="163.00" y1="70.20" x2="201.50" y2="70.20" stroke="#222" stroke-width="0.8" />
<polygon points="205.50,70.20 201.50,71.90 201.50,68.50" fill="#222" stroke="none" stroke-width="0.8" />
<polygon points="213.80,43.70 231.70,43.70 238.00,59.80 254.60,60.00 256.40,78.40 213.00,78.40" fill="none" stroke="#333" stroke-width="0.8" />
<text x="215.00" y="40.30" font-size="5.2" text-anchor="start" font-weight="normal" fill="#333" textLength="29" lengthAdjust="spacingAndGlyphs" stroke="#333" stroke-width="0.12">Effector cells</text>
<line x1="219.70" y1="78.40" x2="157.80" y2="116.60" stroke="#222" stroke-width="0.8" />
<polygon points="154.40,118.70 156.91,115.15 158.70,118.05" fill="#222" stroke="none" stroke-width="0.8" />
<polygon points="36.20,123.20 46.60,123.20 46.60,159.40 36.20,159.40" fill="none" stroke="#333" stroke-width="0.8" />
<polygon points="47.10,158.30 77.00,158.30 77.00,171.20 47.10,171.20" fill="none" stroke="#333" stroke-width="0.8" />
<text x="50.80" y="129.80" font-size="5.0" text-anchor="start" font-weight="normal" fill="#333" textLength="13.5" lengthAdjust="spacingAndGlyphs" stroke="#333" stroke-width="0.12">Th17.1</text>
<text x="58.40" y="176.80" font-size="5.0" text-anchor="start" font-weight="normal" fill="#333" textLength="10.5" lengthAdjust="spacingAndGlyphs" stroke="#333" stroke-width="0.12">Th17</text>
<polygon points="127.40,133.50 171.60,133.50 171.60,153.20 127.40,153.20" fill="none" stroke="#333" stroke-width="0.8" />
<polygon points="125.60,153.20 174.40,153.20 174.40,172.60 125.60,172.60" fill="none" stroke="#333" stroke-width="0.8" />
<line x1="127.40" y1="139.80" x2="96.90" y2="139.80" stroke="#222" stroke-width="0.8" />
<polygon points="92.90,139.80 96.90,138.10 96.90,141.50" fill="#222" stroke="none" stroke-width="0.8" />
<line x1="174.40" y1="165.00" x2="201.50" y2="165.00" stroke="#222" stroke-width="0.8" />
<polygon points="205.50,165.00 201.50,166.70 201.50,163.30" fill="#222" stroke="none" stroke-width="0.8" />
<polygon points="216.20,126.30 234.60,126.30 234.60,155.00 216.20,155.00" fill="none" stroke="#333" stroke-width="0.8" />
<polygon points="234.60,152.50 257.30,152.50 257.30,172.60 234.60,172.60" fill="none" stroke="#333" stroke-width="0.8" />
<text x="239.40" y="131.80" font-size="5.0" text-anchor="start" font-weight="normal" fill="#333" textLength="8" lengthAdjust="spacingAndGlyphs" stroke="#333" stroke-width="0.12">Th1</text>
<text x="243.30" y="176.80" font-size="5.0" text-anchor="start" font-weight="normal" fill="#333" textLength="7.2" lengthAdjust="spacingAndGlyphs" stroke="#333" stroke-width="0.12">Th2</text>
<text x="289.30" y="14.60" font-size="10.5" text-anchor="start" font-weight="bold" fill="#111" >B</text>
<rect x="302.10" y="23.10" width="72.70" height="73.10" fill="none" stroke="#666" stroke-width="0.9" />
<text x="339.65" y="106.8" font-size="7.3" font-weight="bold" stroke="#333" stroke-width="0.1" text-anchor="middle" fill="#333" textLength="13.5" lengthAdjust="spacingAndGlyphs">tSNE1</text>
<text x="0" y="0" font-size="7.3" font-weight="bold" stroke="#333" stroke-width="0.1" text-anchor="middle" fill="#333" textLength="14" lengthAdjust="spacingAndGlyphs" transform="translate(297,59.65) rotate(-90)">tSNE2</text>
<rect x="418.80" y="23.10" width="72.90" height="73.40" fill="none" stroke="#666" stroke-width="0.9" />
<text x="456.45" y="106.8" font-size="7.3" font-weight="bold" stroke="#333" stroke-width="0.1" text-anchor="middle" fill="#333" textLength="13.5" lengthAdjust="spacingAndGlyphs">tSNE1</text>
<text x="0" y="0" font-size="7.3" font-weight="bold" stroke="#333" stroke-width="0.1" text-anchor="middle" fill="#333" textLength="14" lengthAdjust="spacingAndGlyphs" transform="translate(414,59.80) rotate(-90)">tSNE2</text>
<rect x="301.60" y="118.40" width="73.40" height="72.70" fill="none" stroke="#666" stroke-width="0.9" />
<text x="339.50" y="201.4" font-size="7.3" font-weight="bold" stroke="#333" stroke-width="0.1" text-anchor="middle" fill="#333" textLength="13.5" lengthAdjust="spacingAndGlyphs">tSNE1</text>
<text x="0" y="0" font-size="7.3" font-weight="bold" stroke="#333" stroke-width="0.1" text-anchor="middle" fill="#333" textLength="14" lengthAdjust="spacingAndGlyphs" transform="translate(297,154.75) rotate(-90)">tSNE2</text>
<rect x="418.40" y="118.40" width="73.90" height="72.70" fill="none" stroke="#666" stroke-width="0.9" />
<text x="456.55" y="201.4" font-size="7.3" font-weight="bold" stroke="#333" stroke-width="0.1" text-anchor="middle" fill="#333" textLength="13.5" lengthAdjust="spacingAndGlyphs">tSNE1</text>
<text x="0" y="0" font-size="7.3" font-weight="bold" stroke="#333" stroke-width="0.1" text-anchor="middle" fill="#333" textLength="14" lengthAdjust="spacingAndGlyphs" transform="translate(414,154.75) rotate(-90)">tSNE2</text>
<path d="M326.80,38.50 C327.58,37.02 329.23,35.60 331.00,34.80 C332.77,34.00 335.28,33.70 337.40,33.70 C339.52,33.70 341.77,34.27 343.70,34.80 C345.63,35.33 347.50,35.93 349.00,36.90 C350.50,37.87 352.00,39.10 352.70,40.60 C353.40,42.10 353.37,44.13 353.20,45.90 C353.03,47.67 352.57,49.62 351.70,51.20 C350.83,52.78 349.50,54.27 348.00,55.40 C346.50,56.53 344.65,57.47 342.70,58.00 C340.75,58.53 337.88,58.95 336.30,58.60 C334.72,58.25 333.90,57.13 333.20,55.90 C332.50,54.67 332.98,52.52 332.10,51.20 C331.22,49.88 328.87,49.25 327.90,48.00 C326.93,46.75 326.48,45.28 326.30,43.70 C326.12,42.12 326.02,39.98 326.80,38.50 Z" fill="#4670d6" filter="url(#b05)" opacity="1"/>
<path d="M322.30,61.90 C323.25,60.38 325.68,60.13 328.50,59.90 C331.32,59.67 335.63,60.63 339.20,60.50 C342.77,60.37 346.93,59.75 349.90,59.10 C352.87,58.45 354.92,57.17 357.00,56.60 C359.08,56.03 361.05,55.35 362.40,55.70 C363.75,56.05 364.95,57.38 365.10,58.70 C365.25,60.02 364.65,62.48 363.30,63.60 C361.95,64.72 358.50,64.05 357.00,65.40 C355.50,66.75 354.88,69.32 354.30,71.70 C353.72,74.08 354.53,77.48 353.50,79.70 C352.47,81.92 350.48,83.90 348.10,85.00 C345.72,86.10 342.02,86.45 339.20,86.30 C336.38,86.15 333.43,85.65 331.20,84.10 C328.97,82.55 327.20,79.52 325.80,77.00 C324.40,74.48 323.38,71.52 322.80,69.00 C322.22,66.48 321.35,63.42 322.30,61.90 Z" fill="#1616b8" filter="url(#b05)" opacity="1"/>
<circle cx="328.06" cy="38.53" r="0.68" fill="#4670d6" opacity="0.8"/>
<circle cx="328.78" cy="36.97" r="1.05" fill="#4670d6" opacity="0.8"/>
<circle cx="326.25" cy="38.82" r="0.80" fill="#4670d6" opacity="0.8"/>
<circle cx="334.88" cy="33.85" r="1.01" fill="#4670d6" opacity="0.8"/>
<circle cx="333.35" cy="35.35" r="0.52" fill="#4670d6" opacity="0.8"/>
<circle cx="331.25" cy="35.65" r="0.77" fill="#4670d6" opacity="0.8"/>
<circle cx="338.61" cy="33.00" r="0.66" fill="#4670d6" opacity="0.8"/>
<circle cx="340.15" cy="33.65" r="0.66" fill="#4670d6" opacity="0.8"/>
<circle cx="338.70" cy="33.52" r="0.52" fill="#4670d6" opacity="0.8"/>
<circle cx="348.25" cy="36.84" r="0.63" fill="#4670d6" opacity="0.8"/>
<circle cx="349.68" cy="36.13" r="0.73" fill="#4670d6" opacity="0.8"/>
<circle cx="347.95" cy="37.19" r="0.80" fill="#4670d6" opacity="0.8"/>
<circle cx="352.41" cy="39.58" r="0.91" fill="#4670d6" opacity="0.8"/>
<circle cx="352.96" cy="40.18" r="0.91" fill="#4670d6" opacity="0.8"/>
<circle cx="348.61" cy="37.62" r="0.79" fill="#4670d6" opacity="0.8"/>
<circle cx="352.88" cy="41.92" r="0.97" fill="#4670d6" opacity="0.8"/>
<circle cx="352.77" cy="42.60" r="1.04" fill="#4670d6" opacity="0.8"/>
<circle cx="352.75" cy="43.34" r="0.52" fill="#4670d6" opacity="0.8"/>
<circle cx="353.54" cy="47.10" r="0.92" fill="#4670d6" opacity="0.8"/>
<circle cx="351.95" cy="47.99" r="1.19" fill="#4670d6" opacity="0.8"/>
<circle cx="352.12" cy="50.70" r="0.66" fill="#4670d6" opacity="0.8"/>
<circle cx="350.70" cy="53.51" r="0.82" fill="#4670d6" opacity="0.8"/>
<circle cx="350.80" cy="53.25" r="0.50" fill="#4670d6" opacity="0.8"/>
<circle cx="349.44" cy="55.26" r="1.02" fill="#4670d6" opacity="0.8"/>
<circle cx="343.75" cy="57.63" r="0.80" fill="#4670d6" opacity="0.8"/>
<circle cx="348.44" cy="55.69" r="0.64" fill="#4670d6" opacity="0.8"/>
<circle cx="345.29" cy="56.43" r="0.74" fill="#4670d6" opacity="0.8"/>
<circle cx="339.50" cy="58.55" r="0.82" fill="#4670d6" opacity="0.8"/>
<circle cx="341.98" cy="57.37" r="0.91" fill="#4670d6" opacity="0.8"/>
<circle cx="337.79" cy="59.11" r="1.07" fill="#4670d6" opacity="0.8"/>
<circle cx="336.19" cy="58.26" r="0.56" fill="#4670d6" opacity="0.8"/>
<circle cx="335.28" cy="59.07" r="0.67" fill="#4670d6" opacity="0.8"/>
<circle cx="336.21" cy="57.99" r="0.55" fill="#4670d6" opacity="0.8"/>
<circle cx="333.08" cy="54.49" r="0.69" fill="#4670d6" opacity="0.8"/>
<circle cx="332.33" cy="52.20" r="0.83" fill="#4670d6" opacity="0.8"/>
<circle cx="332.95" cy="55.63" r="0.63" fill="#4670d6" opacity="0.8"/>
<circle cx="332.44" cy="50.87" r="0.65" fill="#4670d6" opacity="0.8"/>
<circle cx="330.19" cy="48.30" r="0.51" fill="#4670d6" opacity="0.8"/>
<circle cx="331.92" cy="50.05" r="0.99" fill="#4670d6" opacity="0.8"/>
<circle cx="326.90" cy="44.53" r="1.18" fill="#4670d6" opacity="0.8"/>
<circle cx="326.66" cy="44.02" r="0.95" fill="#4670d6" opacity="0.8"/>
<circle cx="327.42" cy="45.94" r="0.94" fill="#4670d6" opacity="0.8"/>
<circle cx="325.93" cy="44.33" r="1.11" fill="#4670d6" opacity="0.8"/>
<circle cx="327.17" cy="41.73" r="1.16" fill="#4670d6" opacity="0.8"/>
<circle cx="326.50" cy="39.34" r="0.51" fill="#4670d6" opacity="0.8"/>
<circle cx="326.82" cy="60.78" r="1.17" fill="#1616b8" opacity="0.8"/>
<circle cx="325.18" cy="61.50" r="1.18" fill="#1616b8" opacity="0.8"/>
<circle cx="326.68" cy="60.25" r="0.74" fill="#1616b8" opacity="0.8"/>
<circle cx="331.05" cy="59.89" r="0.64" fill="#1616b8" opacity="0.8"/>
<circle cx="329.95" cy="59.55" r="0.85" fill="#1616b8" opacity="0.8"/>
<circle cx="332.72" cy="60.89" r="0.51" fill="#1616b8" opacity="0.8"/>
<circle cx="341.00" cy="61.19" r="1.05" fill="#1616b8" opacity="0.8"/>
<circle cx="342.25" cy="60.37" r="1.09" fill="#1616b8" opacity="0.8"/>
<circle cx="348.86" cy="59.96" r="0.98" fill="#1616b8" opacity="0.8"/>
<circle cx="354.31" cy="57.36" r="1.01" fill="#1616b8" opacity="0.8"/>
<circle cx="349.84" cy="59.71" r="0.65" fill="#1616b8" opacity="0.8"/>
<circle cx="355.49" cy="57.88" r="0.76" fill="#1616b8" opacity="0.8"/>
<circle cx="358.42" cy="57.03" r="0.92" fill="#1616b8" opacity="0.8"/>
<circle cx="362.93" cy="55.01" r="0.89" fill="#1616b8" opacity="0.8"/>
<circle cx="356.64" cy="55.65" r="1.11" fill="#1616b8" opacity="0.8"/>
<circle cx="365.18" cy="57.75" r="0.93" fill="#1616b8" opacity="0.8"/>
<circle cx="364.27" cy="58.19" r="0.66" fill="#1616b8" opacity="0.8"/>
<circle cx="362.15" cy="56.73" r="0.90" fill="#1616b8" opacity="0.8"/>
<circle cx="363.35" cy="62.79" r="1.05" fill="#1616b8" opacity="0.8"/>
<circle cx="362.63" cy="63.10" r="0.56" fill="#1616b8" opacity="0.8"/>
<circle cx="365.66" cy="58.34" r="0.67" fill="#1616b8" opacity="0.8"/>
<circle cx="356.92" cy="64.61" r="0.62" fill="#1616b8" opacity="0.8"/>
<circle cx="362.27" cy="63.24" r="1.14" fill="#1616b8" opacity="0.8"/>
<circle cx="361.86" cy="65.10" r="0.71" fill="#1616b8" opacity="0.8"/>
<circle cx="356.27" cy="66.20" r="0.96" fill="#1616b8" opacity="0.8"/>
<circle cx="355.91" cy="66.61" r="0.71" fill="#1616b8" opacity="0.8"/>
<circle cx="355.29" cy="68.78" r="0.54" fill="#1616b8" opacity="0.8"/>
<circle cx="354.51" cy="79.95" r="0.58" fill="#1616b8" opacity="0.8"/>
<circle cx="354.36" cy="74.38" r="0.88" fill="#1616b8" opacity="0.8"/>
<circle cx="354.07" cy="76.72" r="0.88" fill="#1616b8" opacity="0.8"/>
<circle cx="351.33" cy="80.49" r="0.70" fill="#1616b8" opacity="0.8"/>
<circle cx="348.09" cy="85.22" r="0.95" fill="#1616b8" opacity="0.8"/>
<circle cx="348.20" cy="84.30" r="0.73" fill="#1616b8" opacity="0.8"/>
<circle cx="345.98" cy="86.20" r="0.71" fill="#1616b8" opacity="0.8"/>
<circle cx="345.21" cy="85.59" r="0.92" fill="#1616b8" opacity="0.8"/>
<circle cx="344.96" cy="84.81" r="0.55" fill="#1616b8" opacity="0.8"/>
<circle cx="333.93" cy="84.24" r="0.94" fill="#1616b8" opacity="0.8"/>
<circle cx="337.46" cy="85.65" r="1.10" fill="#1616b8" opacity="0.8"/>
<circle cx="337.97" cy="86.55" r="0.55" fill="#1616b8" opacity="0.8"/>
<circle cx="325.42" cy="77.91" r="1.19" fill="#1616b8" opacity="0.8"/>
<circle cx="326.40" cy="77.48" r="0.86" fill="#1616b8" opacity="0.8"/>
<circle cx="325.82" cy="78.36" r="0.60" fill="#1616b8" opacity="0.8"/>
<circle cx="322.13" cy="69.35" r="1.13" fill="#1616b8" opacity="0.8"/>
<circle cx="324.20" cy="71.25" r="1.02" fill="#1616b8" opacity="0.8"/>
<circle cx="323.09" cy="71.35" r="0.61" fill="#1616b8" opacity="0.8"/>
<circle cx="322.78" cy="63.43" r="0.55" fill="#1616b8" opacity="0.8"/>
<circle cx="322.93" cy="62.26" r="0.88" fill="#1616b8" opacity="0.8"/>
<circle cx="322.28" cy="62.75" r="0.74" fill="#1616b8" opacity="0.8"/>
<ellipse cx="361.10" cy="60.10" rx="5" ry="3.5" fill="#9aa2dc" opacity="0.8" filter="url(#b05)" transform="rotate(20 361.10 60.10)"/>
<ellipse cx="355.10" cy="54.10" rx="2.6" ry="2.2" fill="#3a50c8" opacity="0.9" filter="url(#b05)" transform="rotate(0 355.10 54.10)"/>
<ellipse cx="356.80" cy="79.30" rx="8.2" ry="1.9" fill="#2030c0" opacity="1" filter="url(#b05)" transform="rotate(-45 356.80 79.30)"/>
<ellipse cx="320.40" cy="55.40" rx="4.2" ry="5.3" fill="#1c2ac0" opacity="1" filter="url(#b05)" transform="rotate(30 320.40 55.40)"/>
<ellipse cx="319.70" cy="74.60" rx="5.5" ry="2.6" fill="#3048c8" opacity="0.85" filter="url(#b05)" transform="rotate(55 319.70 74.60)"/>
<ellipse cx="310.80" cy="69.30" rx="0.8" ry="0.8" fill="#1616b8" opacity="0.6" filter="url(#b05)" transform="rotate(0 310.80 69.30)"/>
<ellipse cx="340.10" cy="42.60" rx="7.5" ry="4.8" fill="none" stroke="#fff" stroke-width="0.8" opacity="0.45" filter="url(#b05)"/>
<ellipse cx="337.10" cy="44.60" rx="1.6" ry="3.5" fill="#ffffff" opacity="0.6" filter="url(#b05)" transform="rotate(10 337.10 44.60)"/>
<path d="M330.10,59.10 Q342.10,62.10 354.10,54.60" fill="none" stroke="#fff" stroke-width="1.6" opacity="0.95" filter="url(#b05)"/>
<line x1="332.93" y1="34.39" x2="333.74" y2="37.40" stroke="#fff" stroke-width="0.63" opacity="0.42"/>
<line x1="337.01" y1="40.43" x2="338.25" y2="41.75" stroke="#fff" stroke-width="0.73" opacity="0.56"/>
<line x1="338.95" y1="65.56" x2="341.03" y2="65.61" stroke="#fff" stroke-width="0.61" opacity="0.60"/>
<line x1="349.35" y1="56.33" x2="347.22" y2="58.74" stroke="#fff" stroke-width="0.50" opacity="0.60"/>
<line x1="342.21" y1="45.03" x2="341.74" y2="47.51" stroke="#fff" stroke-width="0.76" opacity="0.77"/>
<line x1="333.66" y1="67.36" x2="335.24" y2="67.72" stroke="#fff" stroke-width="0.60" opacity="0.75"/>
<line x1="328.80" y1="73.70" x2="330.87" y2="76.78" stroke="#fff" stroke-width="0.68" opacity="0.74"/>
<line x1="337.71" y1="70.27" x2="336.73" y2="73.46" stroke="#fff" stroke-width="0.74" opacity="0.76"/>
<line x1="362.42" y1="63.38" x2="363.79" y2="64.75" stroke="#fff" stroke-width="0.49" opacity="0.63"/>
<line x1="353.93" y1="35.86" x2="351.91" y2="38.35" stroke="#fff" stroke-width="0.54" opacity="0.61"/>
<line x1="329.02" y1="71.78" x2="327.42" y2="71.88" stroke="#fff" stroke-width="0.72" opacity="0.65"/>
<line x1="333.34" y1="81.48" x2="336.87" y2="83.13" stroke="#fff" stroke-width="0.71" opacity="0.74"/>
<line x1="349.81" y1="70.22" x2="347.27" y2="70.84" stroke="#fff" stroke-width="0.79" opacity="0.55"/>
<line x1="355.81" y1="56.04" x2="356.81" y2="57.68" stroke="#fff" stroke-width="0.45" opacity="0.76"/>
<line x1="362.40" y1="39.42" x2="363.25" y2="42.29" stroke="#fff" stroke-width="0.45" opacity="0.52"/>
<line x1="332.53" y1="72.83" x2="333.77" y2="73.68" stroke="#fff" stroke-width="0.58" opacity="0.41"/>
<line x1="348.46" y1="65.20" x2="351.32" y2="67.37" stroke="#fff" stroke-width="0.51" opacity="0.62"/>
<line x1="333.58" y1="64.14" x2="332.42" y2="65.93" stroke="#fff" stroke-width="0.72" opacity="0.72"/>
<line x1="362.99" y1="62.00" x2="360.54" y2="63.20" stroke="#fff" stroke-width="0.71" opacity="0.63"/>
<line x1="338.20" y1="48.15" x2="336.74" y2="49.16" stroke="#fff" stroke-width="0.45" opacity="0.70"/>
<line x1="345.00" y1="84.24" x2="341.61" y2="84.53" stroke="#fff" stroke-width="0.45" opacity="0.60"/>
<line x1="346.15" y1="49.60" x2="347.35" y2="52.08" stroke="#fff" stroke-width="0.61" opacity="0.40"/>
<line x1="340.68" y1="56.93" x2="341.38" y2="59.08" stroke="#fff" stroke-width="0.71" opacity="0.67"/>
<line x1="342.78" y1="67.43" x2="344.74" y2="68.89" stroke="#fff" stroke-width="0.40" opacity="0.51"/>
<line x1="347.22" y1="79.83" x2="347.10" y2="83.40" stroke="#fff" stroke-width="0.79" opacity="0.58"/>
<line x1="357.15" y1="54.78" x2="353.79" y2="54.91" stroke="#fff" stroke-width="0.52" opacity="0.47"/>
<line x1="348.14" y1="61.24" x2="350.54" y2="61.27" stroke="#fff" stroke-width="0.56" opacity="0.57"/>
<line x1="339.12" y1="78.75" x2="337.14" y2="80.95" stroke="#fff" stroke-width="0.76" opacity="0.70"/>
<line x1="342.79" y1="72.63" x2="341.40" y2="75.40" stroke="#fff" stroke-width="0.65" opacity="0.56"/>
<line x1="348.53" y1="66.69" x2="345.55" y2="69.12" stroke="#fff" stroke-width="0.74" opacity="0.71"/>
<line x1="356.34" y1="65.19" x2="357.94" y2="66.94" stroke="#fff" stroke-width="0.68" opacity="0.75"/>
<line x1="344.96" y1="41.16" x2="345.14" y2="44.74" stroke="#fff" stroke-width="0.59" opacity="0.42"/>
<line x1="343.53" y1="72.57" x2="344.66" y2="74.87" stroke="#fff" stroke-width="0.66" opacity="0.41"/>
<line x1="343.40" y1="83.24" x2="344.38" y2="86.32" stroke="#fff" stroke-width="0.68" opacity="0.64"/>
<line x1="330.87" y1="44.11" x2="333.34" y2="46.89" stroke="#fff" stroke-width="0.43" opacity="0.73"/>
<line x1="344.07" y1="52.62" x2="342.20" y2="54.66" stroke="#fff" stroke-width="0.47" opacity="0.66"/>
<line x1="352.06" y1="76.30" x2="351.33" y2="78.34" stroke="#fff" stroke-width="0.49" opacity="0.62"/>
<line x1="329.34" y1="74.96" x2="331.21" y2="78.11" stroke="#fff" stroke-width="0.49" opacity="0.79"/>
<line x1="351.78" y1="77.82" x2="350.28" y2="78.31" stroke="#fff" stroke-width="0.65" opacity="0.53"/>
<line x1="340.23" y1="73.46" x2="343.10" y2="75.41" stroke="#fff" stroke-width="0.65" opacity="0.47"/>
<line x1="362.97" y1="56.61" x2="360.49" y2="59.46" stroke="#fff" stroke-width="0.64" opacity="0.50"/>
<line x1="344.22" y1="40.45" x2="343.06" y2="41.89" stroke="#fff" stroke-width="0.54" opacity="0.70"/>
<line x1="332.20" y1="71.16" x2="334.09" y2="73.86" stroke="#fff" stroke-width="0.44" opacity="0.56"/>
<line x1="342.78" y1="38.40" x2="344.72" y2="38.74" stroke="#fff" stroke-width="0.64" opacity="0.76"/>
<line x1="331.20" y1="34.94" x2="328.47" y2="36.73" stroke="#fff" stroke-width="0.79" opacity="0.65"/>
<line x1="336.48" y1="77.51" x2="335.46" y2="78.98" stroke="#fff" stroke-width="0.44" opacity="0.56"/>
<line x1="342.89" y1="53.13" x2="344.33" y2="54.41" stroke="#fff" stroke-width="0.73" opacity="0.59"/>
<line x1="346.46" y1="44.33" x2="348.13" y2="47.16" stroke="#fff" stroke-width="0.64" opacity="0.76"/>
<line x1="363.86" y1="35.55" x2="360.72" y2="37.07" stroke="#fff" stroke-width="0.53" opacity="0.55"/>
<line x1="346.47" y1="81.80" x2="344.15" y2="82.72" stroke="#fff" stroke-width="0.70" opacity="0.46"/>
<line x1="360.47" y1="33.90" x2="359.55" y2="35.52" stroke="#fff" stroke-width="0.42" opacity="0.55"/>
<line x1="327.56" y1="57.63" x2="324.12" y2="58.68" stroke="#fff" stroke-width="0.41" opacity="0.42"/>
<line x1="357.41" y1="35.37" x2="359.44" y2="36.16" stroke="#fff" stroke-width="0.44" opacity="0.41"/>
<line x1="348.88" y1="72.56" x2="346.03" y2="74.07" stroke="#fff" stroke-width="0.67" opacity="0.56"/>
<line x1="348.60" y1="84.49" x2="350.85" y2="86.63" stroke="#fff" stroke-width="0.42" opacity="0.77"/>
<line x1="346.90" y1="51.63" x2="346.34" y2="54.59" stroke="#fff" stroke-width="0.61" opacity="0.42"/>
<line x1="336.94" y1="54.97" x2="335.08" y2="55.71" stroke="#fff" stroke-width="0.57" opacity="0.66"/>
<line x1="352.07" y1="72.49" x2="349.72" y2="74.82" stroke="#fff" stroke-width="0.50" opacity="0.79"/>
<line x1="328.44" y1="81.79" x2="325.19" y2="83.42" stroke="#fff" stroke-width="0.42" opacity="0.44"/>
<line x1="356.25" y1="57.97" x2="353.83" y2="58.09" stroke="#fff" stroke-width="0.42" opacity="0.61"/>
<line x1="340.72" y1="39.89" x2="339.21" y2="41.87" stroke="#fff" stroke-width="0.75" opacity="0.41"/>
<line x1="344.13" y1="37.89" x2="347.50" y2="38.82" stroke="#fff" stroke-width="0.41" opacity="0.55"/>
<line x1="352.87" y1="49.70" x2="351.41" y2="50.80" stroke="#fff" stroke-width="0.72" opacity="0.74"/>
<line x1="334.86" y1="55.62" x2="334.48" y2="57.70" stroke="#fff" stroke-width="0.53" opacity="0.54"/>
<line x1="355.01" y1="83.78" x2="357.81" y2="84.74" stroke="#fff" stroke-width="0.66" opacity="0.58"/>
<line x1="363.60" y1="71.23" x2="361.48" y2="74.12" stroke="#fff" stroke-width="0.61" opacity="0.76"/>
<line x1="357.03" y1="48.54" x2="357.78" y2="50.28" stroke="#fff" stroke-width="0.61" opacity="0.44"/>
<line x1="336.61" y1="63.57" x2="335.26" y2="64.46" stroke="#fff" stroke-width="0.66" opacity="0.53"/>
<line x1="334.63" y1="51.79" x2="333.00" y2="53.43" stroke="#fff" stroke-width="0.60" opacity="0.61"/>
<line x1="328.35" y1="81.56" x2="329.54" y2="83.55" stroke="#fff" stroke-width="0.43" opacity="0.79"/>
<line x1="342.25" y1="81.48" x2="338.45" y2="81.85" stroke="#fff" stroke-width="0.73" opacity="0.77"/>
<line x1="360.84" y1="75.57" x2="360.70" y2="77.40" stroke="#fff" stroke-width="0.63" opacity="0.80"/>
<line x1="355.03" y1="70.35" x2="356.45" y2="73.41" stroke="#fff" stroke-width="0.78" opacity="0.66"/>
<line x1="339.01" y1="57.72" x2="338.61" y2="61.65" stroke="#fff" stroke-width="0.47" opacity="0.46"/>
<line x1="350.96" y1="62.93" x2="354.12" y2="64.99" stroke="#fff" stroke-width="0.56" opacity="0.69"/>
<line x1="324.20" y1="38.36" x2="326.13" y2="40.48" stroke="#fff" stroke-width="0.44" opacity="0.50"/>
<line x1="348.65" y1="61.00" x2="350.30" y2="61.38" stroke="#fff" stroke-width="0.74" opacity="0.66"/>
<line x1="329.38" y1="78.78" x2="330.01" y2="80.20" stroke="#fff" stroke-width="0.74" opacity="0.68"/>
<line x1="334.02" y1="80.34" x2="331.29" y2="81.57" stroke="#fff" stroke-width="0.76" opacity="0.57"/>
<line x1="350.48" y1="61.96" x2="347.37" y2="64.25" stroke="#fff" stroke-width="0.69" opacity="0.73"/>
<line x1="364.02" y1="46.70" x2="362.62" y2="48.13" stroke="#fff" stroke-width="0.71" opacity="0.61"/>
<line x1="342.56" y1="54.50" x2="339.59" y2="56.72" stroke="#fff" stroke-width="0.63" opacity="0.42"/>
<line x1="357.85" y1="57.40" x2="359.01" y2="58.99" stroke="#fff" stroke-width="0.68" opacity="0.40"/>
<line x1="327.14" y1="49.14" x2="324.54" y2="51.80" stroke="#fff" stroke-width="0.79" opacity="0.62"/>
<line x1="346.12" y1="62.32" x2="345.75" y2="65.11" stroke="#fff" stroke-width="0.73" opacity="0.78"/>
<line x1="339.25" y1="66.49" x2="340.57" y2="68.33" stroke="#fff" stroke-width="0.60" opacity="0.63"/>
<line x1="345.20" y1="84.86" x2="344.41" y2="86.59" stroke="#fff" stroke-width="0.80" opacity="0.69"/>
<line x1="345.87" y1="52.62" x2="343.41" y2="53.12" stroke="#fff" stroke-width="0.76" opacity="0.67"/>
<line x1="359.85" y1="82.13" x2="361.14" y2="85.51" stroke="#fff" stroke-width="0.59" opacity="0.72"/>
<line x1="337.75" y1="72.82" x2="339.08" y2="75.17" stroke="#fff" stroke-width="0.58" opacity="0.45"/>
<line x1="335.96" y1="43.65" x2="334.07" y2="44.44" stroke="#fff" stroke-width="0.93" opacity="0.74"/>
<line x1="334.28" y1="57.05" x2="337.05" y2="57.09" stroke="#fff" stroke-width="0.85" opacity="0.67"/>
<line x1="346.52" y1="45.27" x2="350.67" y2="45.23" stroke="#fff" stroke-width="0.86" opacity="0.54"/>
<line x1="330.34" y1="56.33" x2="328.07" y2="57.78" stroke="#fff" stroke-width="0.74" opacity="0.88"/>
<line x1="337.08" y1="50.74" x2="341.05" y2="48.61" stroke="#fff" stroke-width="1.00" opacity="0.72"/>
<line x1="340.46" y1="42.07" x2="336.37" y2="39.50" stroke="#fff" stroke-width="0.78" opacity="0.67"/>
<line x1="343.89" y1="36.83" x2="346.59" y2="36.10" stroke="#fff" stroke-width="0.90" opacity="0.84"/>
<line x1="346.76" y1="49.67" x2="349.00" y2="49.37" stroke="#fff" stroke-width="0.65" opacity="0.70"/>
<line x1="349.73" y1="36.77" x2="353.79" y2="34.69" stroke="#fff" stroke-width="0.95" opacity="0.58"/>
<line x1="340.12" y1="43.68" x2="336.24" y2="41.09" stroke="#fff" stroke-width="0.75" opacity="0.86"/>
<line x1="340.72" y1="39.04" x2="344.92" y2="38.21" stroke="#fff" stroke-width="0.50" opacity="0.90"/>
<line x1="343.53" y1="55.39" x2="348.25" y2="54.04" stroke="#fff" stroke-width="0.72" opacity="0.80"/>
<line x1="348.16" y1="39.36" x2="350.90" y2="40.05" stroke="#fff" stroke-width="0.57" opacity="0.58"/>
<line x1="341.12" y1="47.87" x2="346.00" y2="48.06" stroke="#fff" stroke-width="0.57" opacity="0.67"/>
<line x1="334.09" y1="50.09" x2="336.73" y2="49.15" stroke="#fff" stroke-width="0.74" opacity="0.64"/>
<line x1="342.24" y1="38.27" x2="346.76" y2="39.34" stroke="#fff" stroke-width="0.53" opacity="0.63"/>
<line x1="344.35" y1="48.94" x2="348.31" y2="50.94" stroke="#fff" stroke-width="0.75" opacity="0.63"/>
<line x1="330.30" y1="37.32" x2="332.74" y2="36.01" stroke="#fff" stroke-width="0.85" opacity="0.73"/>
<line x1="344.22" y1="39.30" x2="346.81" y2="39.51" stroke="#fff" stroke-width="0.71" opacity="0.50"/>
<line x1="327.60" y1="41.12" x2="324.23" y2="42.97" stroke="#fff" stroke-width="0.84" opacity="0.89"/>
<line x1="335.63" y1="47.93" x2="338.62" y2="46.00" stroke="#fff" stroke-width="0.57" opacity="0.60"/>
<line x1="346.35" y1="49.77" x2="348.21" y2="48.74" stroke="#fff" stroke-width="0.55" opacity="0.63"/>
<line x1="333.83" y1="35.24" x2="335.73" y2="34.37" stroke="#fff" stroke-width="0.97" opacity="0.76"/>
<line x1="333.15" y1="49.73" x2="335.97" y2="49.78" stroke="#fff" stroke-width="0.97" opacity="0.64"/>
<line x1="347.19" y1="48.85" x2="351.68" y2="49.42" stroke="#fff" stroke-width="0.70" opacity="0.77"/>
<line x1="342.62" y1="46.24" x2="346.31" y2="46.40" stroke="#fff" stroke-width="0.95" opacity="0.75"/>
<line x1="340.83" y1="35.34" x2="337.57" y2="36.69" stroke="#fff" stroke-width="0.72" opacity="0.72"/>
<line x1="333.36" y1="40.33" x2="336.95" y2="40.22" stroke="#fff" stroke-width="0.55" opacity="0.65"/>
<line x1="343.46" y1="46.62" x2="346.79" y2="48.07" stroke="#fff" stroke-width="0.84" opacity="0.51"/>
<line x1="334.80" y1="49.80" x2="332.63" y2="48.62" stroke="#fff" stroke-width="0.94" opacity="0.59"/>
<line x1="348.14" y1="53.61" x2="345.45" y2="52.26" stroke="#fff" stroke-width="0.92" opacity="0.65"/>
<line x1="338.09" y1="36.81" x2="341.75" y2="35.77" stroke="#fff" stroke-width="0.90" opacity="0.74"/>
<line x1="327.30" y1="56.00" x2="331.99" y2="56.82" stroke="#fff" stroke-width="0.78" opacity="0.85"/>
<line x1="338.59" y1="52.02" x2="342.37" y2="51.67" stroke="#fff" stroke-width="0.70" opacity="0.74"/>
<line x1="328.43" y1="44.93" x2="326.38" y2="44.42" stroke="#fff" stroke-width="0.52" opacity="0.54"/>
<line x1="330.59" y1="45.79" x2="333.54" y2="44.95" stroke="#fff" stroke-width="0.95" opacity="0.76"/>
<line x1="347.15" y1="52.95" x2="344.60" y2="51.97" stroke="#fff" stroke-width="0.78" opacity="0.64"/>
<line x1="331.07" y1="51.97" x2="335.70" y2="50.91" stroke="#fff" stroke-width="0.67" opacity="0.76"/>
<line x1="351.99" y1="51.86" x2="354.16" y2="51.69" stroke="#fff" stroke-width="0.65" opacity="0.83"/>
<line x1="338.13" y1="50.18" x2="334.22" y2="50.10" stroke="#fff" stroke-width="0.84" opacity="0.86"/>
<line x1="331.40" y1="48.88" x2="334.80" y2="48.23" stroke="#fff" stroke-width="0.99" opacity="0.51"/>
<line x1="349.53" y1="42.91" x2="353.70" y2="41.20" stroke="#fff" stroke-width="0.55" opacity="0.63"/>
<line x1="351.35" y1="49.20" x2="355.70" y2="49.00" stroke="#fff" stroke-width="0.75" opacity="0.81"/>
<line x1="345.18" y1="38.56" x2="348.50" y2="38.72" stroke="#fff" stroke-width="0.96" opacity="0.84"/>
<line x1="330.85" y1="42.75" x2="328.89" y2="44.01" stroke="#fff" stroke-width="0.59" opacity="0.81"/>
<ellipse cx="322.10" cy="57.50" rx="4.3" ry="1.2" fill="#d42020" opacity="1" filter="url(#b05)" transform="rotate(-50 322.10 57.50)"/>
<ellipse cx="329.40" cy="50.70" rx="3.9" ry="1.9" fill="#c83020" opacity="1" filter="url(#b05)" transform="rotate(10 329.40 50.70)"/>
<path d="M443.50,38.50 C444.28,37.02 445.93,35.60 447.70,34.80 C449.47,34.00 451.98,33.70 454.10,33.70 C456.22,33.70 458.47,34.27 460.40,34.80 C462.33,35.33 464.20,35.93 465.70,36.90 C467.20,37.87 468.70,39.10 469.40,40.60 C470.10,42.10 470.07,44.13 469.90,45.90 C469.73,47.67 469.27,49.62 468.40,51.20 C467.53,52.78 466.20,54.27 464.70,55.40 C463.20,56.53 461.35,57.47 459.40,58.00 C457.45,58.53 454.58,58.95 453.00,58.60 C451.42,58.25 450.60,57.13 449.90,55.90 C449.20,54.67 449.68,52.52 448.80,51.20 C447.92,49.88 445.57,49.25 444.60,48.00 C443.63,46.75 443.18,45.28 443.00,43.70 C442.82,42.12 442.72,39.98 443.50,38.50 Z" fill="#a0c09a" filter="url(#b05)" opacity="1"/>
<path d="M439.00,61.90 C439.95,60.38 442.38,60.13 445.20,59.90 C448.02,59.67 452.33,60.63 455.90,60.50 C459.47,60.37 463.63,59.75 466.60,59.10 C469.57,58.45 471.62,57.17 473.70,56.60 C475.78,56.03 477.75,55.35 479.10,55.70 C480.45,56.05 481.65,57.38 481.80,58.70 C481.95,60.02 481.35,62.48 480.00,63.60 C478.65,64.72 475.20,64.05 473.70,65.40 C472.20,66.75 471.58,69.32 471.00,71.70 C470.42,74.08 471.23,77.48 470.20,79.70 C469.17,81.92 467.18,83.90 464.80,85.00 C462.42,86.10 458.72,86.45 455.90,86.30 C453.08,86.15 450.13,85.65 447.90,84.10 C445.67,82.55 443.90,79.52 442.50,77.00 C441.10,74.48 440.08,71.52 439.50,69.00 C438.92,66.48 438.05,63.42 439.00,61.90 Z" fill="#58b0c0" filter="url(#b05)" opacity="1"/>
<circle cx="448.41" cy="34.08" r="0.56" fill="#a0c09a" opacity="0.8"/>
<circle cx="447.48" cy="35.75" r="0.72" fill="#a0c09a" opacity="0.8"/>
<circle cx="446.26" cy="36.42" r="0.61" fill="#a0c09a" opacity="0.8"/>
<circle cx="450.24" cy="34.77" r="1.20" fill="#a0c09a" opacity="0.8"/>
<circle cx="453.86" cy="33.65" r="0.69" fill="#a0c09a" opacity="0.8"/>
<circle cx="446.98" cy="34.69" r="0.72" fill="#a0c09a" opacity="0.8"/>
<circle cx="457.28" cy="34.17" r="0.89" fill="#a0c09a" opacity="0.8"/>
<circle cx="454.64" cy="33.61" r="0.60" fill="#a0c09a" opacity="0.8"/>
<circle cx="458.31" cy="34.61" r="0.63" fill="#a0c09a" opacity="0.8"/>
<circle cx="465.73" cy="37.15" r="1.13" fill="#a0c09a" opacity="0.8"/>
<circle cx="465.02" cy="36.11" r="1.19" fill="#a0c09a" opacity="0.8"/>
<circle cx="464.82" cy="37.33" r="1.00" fill="#a0c09a" opacity="0.8"/>
<circle cx="467.47" cy="38.59" r="1.15" fill="#a0c09a" opacity="0.8"/>
<circle cx="468.22" cy="38.46" r="1.12" fill="#a0c09a" opacity="0.8"/>
<circle cx="468.95" cy="40.36" r="1.14" fill="#a0c09a" opacity="0.8"/>
<circle cx="469.74" cy="43.88" r="0.73" fill="#a0c09a" opacity="0.8"/>
<circle cx="469.08" cy="45.12" r="0.69" fill="#a0c09a" opacity="0.8"/>
<circle cx="469.47" cy="46.35" r="0.99" fill="#a0c09a" opacity="0.8"/>
<circle cx="469.18" cy="48.88" r="0.91" fill="#a0c09a" opacity="0.8"/>
<circle cx="468.85" cy="47.58" r="1.15" fill="#a0c09a" opacity="0.8"/>
<circle cx="468.12" cy="49.84" r="1.01" fill="#a0c09a" opacity="0.8"/>
<circle cx="464.42" cy="55.50" r="0.54" fill="#a0c09a" opacity="0.8"/>
<circle cx="465.53" cy="53.40" r="1.11" fill="#a0c09a" opacity="0.8"/>
<circle cx="468.05" cy="52.35" r="0.67" fill="#a0c09a" opacity="0.8"/>
<circle cx="464.35" cy="55.79" r="1.00" fill="#a0c09a" opacity="0.8"/>
<circle cx="464.26" cy="54.83" r="0.97" fill="#a0c09a" opacity="0.8"/>
<circle cx="465.17" cy="54.67" r="1.01" fill="#a0c09a" opacity="0.8"/>
<circle cx="458.78" cy="58.64" r="0.61" fill="#a0c09a" opacity="0.8"/>
<circle cx="458.61" cy="57.88" r="0.53" fill="#a0c09a" opacity="0.8"/>
<circle cx="452.37" cy="57.67" r="0.74" fill="#a0c09a" opacity="0.8"/>
<circle cx="451.58" cy="56.17" r="0.74" fill="#a0c09a" opacity="0.8"/>
<circle cx="452.80" cy="59.05" r="1.02" fill="#a0c09a" opacity="0.8"/>
<circle cx="450.72" cy="56.89" r="0.99" fill="#a0c09a" opacity="0.8"/>
<circle cx="448.83" cy="54.00" r="0.72" fill="#a0c09a" opacity="0.8"/>
<circle cx="449.68" cy="56.17" r="0.59" fill="#a0c09a" opacity="0.8"/>
<circle cx="449.04" cy="53.18" r="0.60" fill="#a0c09a" opacity="0.8"/>
<circle cx="444.29" cy="48.34" r="0.79" fill="#a0c09a" opacity="0.8"/>
<circle cx="448.84" cy="50.42" r="0.54" fill="#a0c09a" opacity="0.8"/>
<circle cx="447.98" cy="50.28" r="0.94" fill="#a0c09a" opacity="0.8"/>
<circle cx="444.75" cy="46.68" r="1.20" fill="#a0c09a" opacity="0.8"/>
<circle cx="444.12" cy="46.50" r="0.91" fill="#a0c09a" opacity="0.8"/>
<circle cx="444.20" cy="45.74" r="0.68" fill="#a0c09a" opacity="0.8"/>
<circle cx="443.26" cy="40.51" r="0.52" fill="#a0c09a" opacity="0.8"/>
<circle cx="442.43" cy="42.02" r="0.67" fill="#a0c09a" opacity="0.8"/>
<circle cx="442.41" cy="42.64" r="0.65" fill="#a0c09a" opacity="0.8"/>
<circle cx="442.16" cy="60.48" r="0.95" fill="#58b0c0" opacity="0.8"/>
<circle cx="441.13" cy="62.40" r="1.01" fill="#58b0c0" opacity="0.8"/>
<circle cx="441.71" cy="61.19" r="0.54" fill="#58b0c0" opacity="0.8"/>
<circle cx="449.72" cy="59.51" r="0.57" fill="#58b0c0" opacity="0.8"/>
<circle cx="453.52" cy="60.42" r="1.15" fill="#58b0c0" opacity="0.8"/>
<circle cx="451.31" cy="61.23" r="0.76" fill="#58b0c0" opacity="0.8"/>
<circle cx="456.47" cy="59.68" r="0.71" fill="#58b0c0" opacity="0.8"/>
<circle cx="465.24" cy="58.35" r="0.82" fill="#58b0c0" opacity="0.8"/>
<circle cx="460.27" cy="59.34" r="0.91" fill="#58b0c0" opacity="0.8"/>
<circle cx="466.69" cy="58.66" r="1.15" fill="#58b0c0" opacity="0.8"/>
<circle cx="467.65" cy="58.29" r="0.90" fill="#58b0c0" opacity="0.8"/>
<circle cx="469.31" cy="58.63" r="0.78" fill="#58b0c0" opacity="0.8"/>
<circle cx="473.60" cy="55.65" r="1.10" fill="#58b0c0" opacity="0.8"/>
<circle cx="478.08" cy="56.41" r="0.52" fill="#58b0c0" opacity="0.8"/>
<circle cx="477.81" cy="56.45" r="0.85" fill="#58b0c0" opacity="0.8"/>
<circle cx="479.98" cy="57.37" r="0.69" fill="#58b0c0" opacity="0.8"/>
<circle cx="480.48" cy="58.19" r="1.06" fill="#58b0c0" opacity="0.8"/>
<circle cx="482.29" cy="58.09" r="0.66" fill="#58b0c0" opacity="0.8"/>
<circle cx="480.44" cy="60.95" r="0.98" fill="#58b0c0" opacity="0.8"/>
<circle cx="480.32" cy="63.84" r="0.57" fill="#58b0c0" opacity="0.8"/>
<circle cx="482.15" cy="59.74" r="0.79" fill="#58b0c0" opacity="0.8"/>
<circle cx="478.75" cy="64.51" r="1.19" fill="#58b0c0" opacity="0.8"/>
<circle cx="475.17" cy="64.36" r="0.66" fill="#58b0c0" opacity="0.8"/>
<circle cx="476.14" cy="64.69" r="0.87" fill="#58b0c0" opacity="0.8"/>
<circle cx="473.48" cy="67.01" r="1.03" fill="#58b0c0" opacity="0.8"/>
<circle cx="473.47" cy="66.44" r="0.68" fill="#58b0c0" opacity="0.8"/>
<circle cx="471.21" cy="71.44" r="0.78" fill="#58b0c0" opacity="0.8"/>
<circle cx="470.77" cy="79.81" r="0.60" fill="#58b0c0" opacity="0.8"/>
<circle cx="469.71" cy="75.42" r="1.12" fill="#58b0c0" opacity="0.8"/>
<circle cx="470.88" cy="73.11" r="0.78" fill="#58b0c0" opacity="0.8"/>
<circle cx="467.24" cy="83.88" r="0.83" fill="#58b0c0" opacity="0.8"/>
<circle cx="464.67" cy="85.29" r="0.96" fill="#58b0c0" opacity="0.8"/>
<circle cx="466.79" cy="83.19" r="0.93" fill="#58b0c0" opacity="0.8"/>
<circle cx="461.55" cy="86.48" r="0.94" fill="#58b0c0" opacity="0.8"/>
<circle cx="464.63" cy="85.44" r="1.12" fill="#58b0c0" opacity="0.8"/>
<circle cx="459.65" cy="84.88" r="1.16" fill="#58b0c0" opacity="0.8"/>
<circle cx="450.28" cy="85.51" r="1.12" fill="#58b0c0" opacity="0.8"/>
<circle cx="455.73" cy="86.61" r="0.64" fill="#58b0c0" opacity="0.8"/>
<circle cx="450.12" cy="84.05" r="1.06" fill="#58b0c0" opacity="0.8"/>
<circle cx="447.38" cy="82.99" r="0.68" fill="#58b0c0" opacity="0.8"/>
<circle cx="444.78" cy="79.49" r="1.18" fill="#58b0c0" opacity="0.8"/>
<circle cx="446.51" cy="83.55" r="1.09" fill="#58b0c0" opacity="0.8"/>
<circle cx="441.03" cy="71.70" r="0.97" fill="#58b0c0" opacity="0.8"/>
<circle cx="441.03" cy="74.33" r="0.52" fill="#58b0c0" opacity="0.8"/>
<circle cx="442.77" cy="75.71" r="1.03" fill="#58b0c0" opacity="0.8"/>
<circle cx="438.92" cy="63.78" r="1.05" fill="#58b0c0" opacity="0.8"/>
<circle cx="438.34" cy="62.19" r="0.77" fill="#58b0c0" opacity="0.8"/>
<circle cx="438.86" cy="64.72" r="0.89" fill="#58b0c0" opacity="0.8"/>
<ellipse cx="477.80" cy="60.10" rx="5" ry="3.5" fill="#a0c8b8" opacity="0.8" filter="url(#b05)" transform="rotate(20 477.80 60.10)"/>
<ellipse cx="471.80" cy="54.10" rx="2.6" ry="2.2" fill="#60a8b0" opacity="0.9" filter="url(#b05)" transform="rotate(0 471.80 54.10)"/>
<ellipse cx="473.50" cy="79.30" rx="8.2" ry="1.9" fill="#50a8c0" opacity="1" filter="url(#b05)" transform="rotate(-45 473.50 79.30)"/>
<ellipse cx="437.10" cy="55.40" rx="4.2" ry="5.3" fill="#40a8b8" opacity="1" filter="url(#b05)" transform="rotate(30 437.10 55.40)"/>
<ellipse cx="436.40" cy="74.60" rx="5.5" ry="2.6" fill="#60b0c0" opacity="0.85" filter="url(#b05)" transform="rotate(55 436.40 74.60)"/>
<ellipse cx="427.50" cy="69.30" rx="0.8" ry="0.8" fill="#58b0c0" opacity="0.6" filter="url(#b05)" transform="rotate(0 427.50 69.30)"/>
<ellipse cx="448.80" cy="45.10" rx="5" ry="6" fill="#50a8c0" opacity="0.6" filter="url(#b05)" transform="rotate(0 448.80 45.10)"/>
<ellipse cx="461.80" cy="43.10" rx="6" ry="6" fill="#a8b888" opacity="0.7" filter="url(#b05)" transform="rotate(0 461.80 43.10)"/>
<ellipse cx="456.80" cy="75.10" rx="10" ry="6" fill="#48a0c0" opacity="0.5" filter="url(#b05)" transform="rotate(0 456.80 75.10)"/>
<ellipse cx="462.80" cy="67.10" rx="5" ry="4" fill="#90c0a8" opacity="0.5" filter="url(#b05)" transform="rotate(0 462.80 67.10)"/>
<ellipse cx="456.80" cy="42.60" rx="7.5" ry="4.8" fill="none" stroke="#fff" stroke-width="0.8" opacity="0.45" filter="url(#b05)"/>
<ellipse cx="453.80" cy="44.60" rx="1.6" ry="3.5" fill="#ffffff" opacity="0.6" filter="url(#b05)" transform="rotate(10 453.80 44.60)"/>
<path d="M446.80,59.10 Q458.80,62.10 470.80,54.60" fill="none" stroke="#fff" stroke-width="1.6" opacity="0.95" filter="url(#b05)"/>
<line x1="479.41" y1="52.52" x2="480.44" y2="55.17" stroke="#fff" stroke-width="0.58" opacity="0.75"/>
<line x1="451.75" y1="67.50" x2="451.43" y2="70.19" stroke="#fff" stroke-width="0.77" opacity="0.43"/>
<line x1="473.42" y1="49.22" x2="470.93" y2="51.09" stroke="#fff" stroke-width="0.66" opacity="0.56"/>
<line x1="474.11" y1="38.03" x2="475.15" y2="40.93" stroke="#fff" stroke-width="0.61" opacity="0.74"/>
<line x1="472.31" y1="66.43" x2="474.00" y2="67.94" stroke="#fff" stroke-width="0.58" opacity="0.49"/>
<line x1="450.45" y1="83.86" x2="448.96" y2="84.82" stroke="#fff" stroke-width="0.55" opacity="0.55"/>
<line x1="452.17" y1="37.20" x2="454.46" y2="38.52" stroke="#fff" stroke-width="0.58" opacity="0.52"/>
<line x1="476.37" y1="81.95" x2="475.27" y2="84.31" stroke="#fff" stroke-width="0.77" opacity="0.53"/>
<line x1="442.98" y1="45.71" x2="441.93" y2="47.38" stroke="#fff" stroke-width="0.55" opacity="0.54"/>
<line x1="472.19" y1="45.46" x2="470.77" y2="48.68" stroke="#fff" stroke-width="0.56" opacity="0.73"/>
<line x1="453.17" y1="79.66" x2="453.15" y2="83.48" stroke="#fff" stroke-width="0.68" opacity="0.78"/>
<line x1="469.99" y1="72.90" x2="466.39" y2="73.65" stroke="#fff" stroke-width="0.70" opacity="0.79"/>
<line x1="451.05" y1="66.09" x2="452.33" y2="69.00" stroke="#fff" stroke-width="0.56" opacity="0.47"/>
<line x1="479.02" y1="51.86" x2="476.48" y2="52.75" stroke="#fff" stroke-width="0.47" opacity="0.78"/>
<line x1="444.14" y1="34.59" x2="445.16" y2="36.73" stroke="#fff" stroke-width="0.77" opacity="0.75"/>
<line x1="470.79" y1="56.23" x2="472.89" y2="58.16" stroke="#fff" stroke-width="0.73" opacity="0.56"/>
<line x1="450.76" y1="66.90" x2="451.78" y2="68.48" stroke="#fff" stroke-width="0.77" opacity="0.44"/>
<line x1="444.77" y1="43.93" x2="445.30" y2="45.99" stroke="#fff" stroke-width="0.50" opacity="0.54"/>
<line x1="449.15" y1="45.82" x2="450.64" y2="48.46" stroke="#fff" stroke-width="0.55" opacity="0.71"/>
<line x1="441.39" y1="40.73" x2="442.19" y2="44.27" stroke="#fff" stroke-width="0.71" opacity="0.45"/>
<line x1="460.77" y1="77.90" x2="459.02" y2="79.47" stroke="#fff" stroke-width="0.64" opacity="0.56"/>
<line x1="480.69" y1="53.89" x2="479.71" y2="56.39" stroke="#fff" stroke-width="0.53" opacity="0.74"/>
<line x1="463.90" y1="64.26" x2="461.05" y2="64.40" stroke="#fff" stroke-width="0.80" opacity="0.74"/>
<line x1="457.89" y1="54.92" x2="460.67" y2="55.33" stroke="#fff" stroke-width="0.44" opacity="0.80"/>
<line x1="444.18" y1="82.78" x2="441.10" y2="83.63" stroke="#fff" stroke-width="0.43" opacity="0.52"/>
<line x1="472.31" y1="33.57" x2="473.11" y2="35.14" stroke="#fff" stroke-width="0.47" opacity="0.46"/>
<line x1="466.93" y1="37.97" x2="465.16" y2="41.48" stroke="#fff" stroke-width="0.42" opacity="0.76"/>
<line x1="448.94" y1="58.62" x2="451.57" y2="59.84" stroke="#fff" stroke-width="0.60" opacity="0.42"/>
<line x1="447.18" y1="81.78" x2="446.93" y2="85.33" stroke="#fff" stroke-width="0.67" opacity="0.75"/>
<line x1="444.68" y1="59.18" x2="446.39" y2="59.84" stroke="#fff" stroke-width="0.44" opacity="0.48"/>
<line x1="441.03" y1="44.51" x2="440.11" y2="46.78" stroke="#fff" stroke-width="0.74" opacity="0.76"/>
<line x1="468.94" y1="59.98" x2="472.25" y2="61.83" stroke="#fff" stroke-width="0.44" opacity="0.73"/>
<line x1="465.14" y1="44.25" x2="466.59" y2="46.21" stroke="#fff" stroke-width="0.57" opacity="0.57"/>
<line x1="455.52" y1="75.38" x2="454.84" y2="78.84" stroke="#fff" stroke-width="0.59" opacity="0.51"/>
<line x1="470.94" y1="85.40" x2="469.71" y2="87.07" stroke="#fff" stroke-width="0.68" opacity="0.66"/>
<line x1="440.09" y1="62.34" x2="441.73" y2="63.49" stroke="#fff" stroke-width="0.63" opacity="0.66"/>
<line x1="465.07" y1="72.44" x2="465.32" y2="75.68" stroke="#fff" stroke-width="0.42" opacity="0.71"/>
<line x1="473.37" y1="77.38" x2="476.34" y2="77.74" stroke="#fff" stroke-width="0.48" opacity="0.44"/>
<line x1="465.51" y1="61.95" x2="463.56" y2="62.22" stroke="#fff" stroke-width="0.79" opacity="0.76"/>
<line x1="458.28" y1="48.57" x2="456.56" y2="49.63" stroke="#fff" stroke-width="0.68" opacity="0.51"/>
<line x1="476.70" y1="63.25" x2="477.37" y2="65.70" stroke="#fff" stroke-width="0.69" opacity="0.58"/>
<line x1="466.49" y1="39.57" x2="468.63" y2="42.02" stroke="#fff" stroke-width="0.76" opacity="0.49"/>
<line x1="452.80" y1="61.61" x2="452.60" y2="64.09" stroke="#fff" stroke-width="0.77" opacity="0.48"/>
<line x1="471.23" y1="69.84" x2="471.80" y2="73.26" stroke="#fff" stroke-width="0.58" opacity="0.54"/>
<line x1="458.68" y1="46.59" x2="458.83" y2="48.56" stroke="#fff" stroke-width="0.48" opacity="0.59"/>
<line x1="462.88" y1="49.50" x2="462.26" y2="51.32" stroke="#fff" stroke-width="0.74" opacity="0.49"/>
<line x1="464.66" y1="68.01" x2="462.65" y2="71.13" stroke="#fff" stroke-width="0.52" opacity="0.48"/>
<line x1="473.95" y1="48.96" x2="472.54" y2="49.56" stroke="#fff" stroke-width="0.48" opacity="0.53"/>
<line x1="452.20" y1="46.66" x2="453.77" y2="49.58" stroke="#fff" stroke-width="0.58" opacity="0.57"/>
<line x1="473.81" y1="34.07" x2="476.51" y2="35.25" stroke="#fff" stroke-width="0.46" opacity="0.64"/>
<line x1="454.58" y1="36.54" x2="451.72" y2="37.33" stroke="#fff" stroke-width="0.66" opacity="0.60"/>
<line x1="472.43" y1="81.64" x2="473.54" y2="83.16" stroke="#fff" stroke-width="0.79" opacity="0.77"/>
<line x1="447.32" y1="70.39" x2="446.28" y2="73.93" stroke="#fff" stroke-width="0.68" opacity="0.61"/>
<line x1="448.66" y1="44.39" x2="447.84" y2="45.83" stroke="#fff" stroke-width="0.46" opacity="0.65"/>
<line x1="455.23" y1="56.21" x2="456.54" y2="59.91" stroke="#fff" stroke-width="0.59" opacity="0.55"/>
<line x1="447.83" y1="44.98" x2="445.46" y2="46.52" stroke="#fff" stroke-width="0.44" opacity="0.78"/>
<line x1="467.13" y1="35.95" x2="468.13" y2="39.06" stroke="#fff" stroke-width="0.61" opacity="0.44"/>
<line x1="460.23" y1="60.66" x2="459.37" y2="64.00" stroke="#fff" stroke-width="0.68" opacity="0.69"/>
<line x1="448.09" y1="34.41" x2="450.56" y2="35.48" stroke="#fff" stroke-width="0.46" opacity="0.53"/>
<line x1="461.38" y1="65.73" x2="458.32" y2="66.30" stroke="#fff" stroke-width="0.44" opacity="0.62"/>
<line x1="442.44" y1="68.61" x2="444.78" y2="69.72" stroke="#fff" stroke-width="0.52" opacity="0.66"/>
<line x1="458.68" y1="83.15" x2="459.83" y2="85.25" stroke="#fff" stroke-width="0.77" opacity="0.64"/>
<line x1="443.30" y1="74.66" x2="440.92" y2="75.06" stroke="#fff" stroke-width="0.65" opacity="0.72"/>
<line x1="476.43" y1="60.09" x2="480.34" y2="60.41" stroke="#fff" stroke-width="0.54" opacity="0.74"/>
<line x1="439.15" y1="68.74" x2="436.65" y2="71.86" stroke="#fff" stroke-width="0.74" opacity="0.43"/>
<line x1="461.49" y1="65.41" x2="462.14" y2="67.92" stroke="#fff" stroke-width="0.72" opacity="0.47"/>
<line x1="440.69" y1="64.53" x2="437.34" y2="66.56" stroke="#fff" stroke-width="0.67" opacity="0.52"/>
<line x1="476.78" y1="35.23" x2="475.12" y2="36.54" stroke="#fff" stroke-width="0.76" opacity="0.56"/>
<line x1="476.99" y1="38.98" x2="479.91" y2="39.61" stroke="#fff" stroke-width="0.49" opacity="0.48"/>
<line x1="439.06" y1="54.58" x2="440.81" y2="56.71" stroke="#fff" stroke-width="0.66" opacity="0.42"/>
<line x1="460.53" y1="61.07" x2="458.11" y2="61.74" stroke="#fff" stroke-width="0.45" opacity="0.57"/>
<line x1="458.11" y1="52.86" x2="457.23" y2="56.69" stroke="#fff" stroke-width="0.61" opacity="0.58"/>
<line x1="457.17" y1="83.50" x2="455.61" y2="86.63" stroke="#fff" stroke-width="0.46" opacity="0.64"/>
<line x1="444.17" y1="51.70" x2="443.23" y2="52.95" stroke="#fff" stroke-width="0.79" opacity="0.66"/>
<line x1="462.73" y1="46.37" x2="463.02" y2="48.96" stroke="#fff" stroke-width="0.57" opacity="0.51"/>
<line x1="448.01" y1="72.89" x2="444.73" y2="74.96" stroke="#fff" stroke-width="0.65" opacity="0.41"/>
<line x1="451.49" y1="77.62" x2="450.91" y2="81.51" stroke="#fff" stroke-width="0.63" opacity="0.67"/>
<line x1="449.18" y1="70.84" x2="447.04" y2="71.96" stroke="#fff" stroke-width="0.58" opacity="0.67"/>
<line x1="462.16" y1="61.44" x2="459.53" y2="61.84" stroke="#fff" stroke-width="0.70" opacity="0.57"/>
<line x1="460.03" y1="80.69" x2="458.47" y2="83.67" stroke="#fff" stroke-width="0.78" opacity="0.45"/>
<line x1="463.92" y1="66.18" x2="461.30" y2="66.49" stroke="#fff" stroke-width="0.79" opacity="0.56"/>
<line x1="464.68" y1="73.68" x2="466.04" y2="76.63" stroke="#fff" stroke-width="0.72" opacity="0.54"/>
<line x1="444.97" y1="68.32" x2="445.86" y2="71.32" stroke="#fff" stroke-width="0.60" opacity="0.80"/>
<line x1="472.74" y1="54.67" x2="471.91" y2="58.36" stroke="#fff" stroke-width="0.56" opacity="0.66"/>
<line x1="471.71" y1="80.60" x2="470.12" y2="83.35" stroke="#fff" stroke-width="0.56" opacity="0.42"/>
<line x1="457.90" y1="39.16" x2="459.52" y2="42.66" stroke="#fff" stroke-width="0.64" opacity="0.69"/>
<line x1="446.30" y1="77.28" x2="448.54" y2="77.85" stroke="#fff" stroke-width="0.64" opacity="0.56"/>
<line x1="477.40" y1="56.67" x2="479.14" y2="56.77" stroke="#fff" stroke-width="0.41" opacity="0.60"/>
<line x1="468.79" y1="35.82" x2="468.95" y2="38.14" stroke="#fff" stroke-width="0.76" opacity="0.79"/>
<line x1="475.55" y1="66.96" x2="477.80" y2="68.85" stroke="#fff" stroke-width="0.64" opacity="0.47"/>
<line x1="451.38" y1="53.19" x2="454.95" y2="54.19" stroke="#fff" stroke-width="0.64" opacity="0.70"/>
<line x1="458.13" y1="39.66" x2="454.32" y2="37.19" stroke="#fff" stroke-width="0.62" opacity="0.82"/>
<line x1="461.85" y1="39.27" x2="465.42" y2="38.11" stroke="#fff" stroke-width="0.79" opacity="0.70"/>
<line x1="447.84" y1="43.43" x2="444.47" y2="44.00" stroke="#fff" stroke-width="0.60" opacity="0.78"/>
<line x1="466.92" y1="53.51" x2="463.31" y2="52.20" stroke="#fff" stroke-width="0.60" opacity="0.78"/>
<line x1="443.84" y1="36.03" x2="439.79" y2="37.58" stroke="#fff" stroke-width="0.70" opacity="0.83"/>
<line x1="444.06" y1="54.28" x2="446.96" y2="54.53" stroke="#fff" stroke-width="0.56" opacity="0.88"/>
<line x1="448.20" y1="52.61" x2="452.83" y2="52.36" stroke="#fff" stroke-width="0.53" opacity="0.56"/>
<line x1="455.89" y1="35.82" x2="460.31" y2="35.96" stroke="#fff" stroke-width="0.64" opacity="0.51"/>
<line x1="466.06" y1="38.89" x2="468.99" y2="37.48" stroke="#fff" stroke-width="0.73" opacity="0.58"/>
<line x1="444.78" y1="41.87" x2="440.80" y2="43.63" stroke="#fff" stroke-width="0.81" opacity="0.75"/>
<line x1="463.91" y1="48.94" x2="468.08" y2="47.11" stroke="#fff" stroke-width="0.51" opacity="0.55"/>
<line x1="446.39" y1="51.93" x2="449.46" y2="53.63" stroke="#fff" stroke-width="0.98" opacity="0.75"/>
<line x1="452.58" y1="56.11" x2="456.51" y2="54.62" stroke="#fff" stroke-width="0.51" opacity="0.51"/>
<line x1="459.77" y1="50.65" x2="455.39" y2="49.28" stroke="#fff" stroke-width="0.87" opacity="0.89"/>
<line x1="460.72" y1="45.15" x2="463.22" y2="43.71" stroke="#fff" stroke-width="0.98" opacity="0.55"/>
<line x1="464.32" y1="54.75" x2="461.52" y2="53.52" stroke="#fff" stroke-width="0.65" opacity="0.73"/>
<line x1="465.79" y1="46.42" x2="467.76" y2="47.54" stroke="#fff" stroke-width="0.89" opacity="0.59"/>
<line x1="452.17" y1="36.17" x2="454.72" y2="35.98" stroke="#fff" stroke-width="0.83" opacity="0.83"/>
<line x1="452.15" y1="55.39" x2="448.26" y2="56.13" stroke="#fff" stroke-width="0.98" opacity="0.76"/>
<line x1="444.87" y1="49.85" x2="447.99" y2="49.55" stroke="#fff" stroke-width="0.61" opacity="0.61"/>
<line x1="457.31" y1="54.91" x2="459.39" y2="55.79" stroke="#fff" stroke-width="0.59" opacity="0.76"/>
<line x1="459.33" y1="50.42" x2="462.85" y2="49.62" stroke="#fff" stroke-width="0.62" opacity="0.68"/>
<line x1="453.95" y1="36.55" x2="456.60" y2="36.05" stroke="#fff" stroke-width="0.78" opacity="0.80"/>
<line x1="450.28" y1="46.86" x2="447.43" y2="47.83" stroke="#fff" stroke-width="0.98" opacity="0.87"/>
<line x1="464.57" y1="38.05" x2="466.75" y2="36.92" stroke="#fff" stroke-width="0.71" opacity="0.50"/>
<line x1="454.35" y1="49.95" x2="450.16" y2="51.60" stroke="#fff" stroke-width="0.90" opacity="0.65"/>
<line x1="451.64" y1="37.66" x2="448.95" y2="38.44" stroke="#fff" stroke-width="0.62" opacity="0.71"/>
<line x1="464.13" y1="41.21" x2="467.38" y2="41.14" stroke="#fff" stroke-width="0.88" opacity="0.89"/>
<line x1="448.13" y1="52.63" x2="451.00" y2="52.89" stroke="#fff" stroke-width="0.79" opacity="0.63"/>
<line x1="445.60" y1="34.28" x2="449.88" y2="36.42" stroke="#fff" stroke-width="0.54" opacity="0.84"/>
<line x1="456.34" y1="44.92" x2="452.75" y2="46.49" stroke="#fff" stroke-width="0.91" opacity="0.79"/>
<line x1="468.39" y1="44.07" x2="472.78" y2="46.28" stroke="#fff" stroke-width="0.95" opacity="0.57"/>
<line x1="445.56" y1="52.82" x2="447.98" y2="52.87" stroke="#fff" stroke-width="0.84" opacity="0.59"/>
<line x1="463.47" y1="35.08" x2="466.75" y2="36.77" stroke="#fff" stroke-width="0.65" opacity="0.90"/>
<line x1="461.97" y1="52.30" x2="466.04" y2="54.64" stroke="#fff" stroke-width="0.91" opacity="0.70"/>
<line x1="450.18" y1="40.50" x2="452.52" y2="39.00" stroke="#fff" stroke-width="0.70" opacity="0.86"/>
<line x1="445.08" y1="52.11" x2="442.55" y2="52.66" stroke="#fff" stroke-width="0.98" opacity="0.76"/>
<line x1="455.49" y1="38.34" x2="457.60" y2="38.00" stroke="#fff" stroke-width="0.72" opacity="0.77"/>
<line x1="465.81" y1="35.19" x2="462.86" y2="35.49" stroke="#fff" stroke-width="0.69" opacity="0.77"/>
<line x1="447.17" y1="50.07" x2="444.33" y2="49.53" stroke="#fff" stroke-width="0.89" opacity="0.67"/>
<line x1="464.61" y1="56.35" x2="467.75" y2="54.32" stroke="#fff" stroke-width="0.99" opacity="0.76"/>
<line x1="462.76" y1="45.05" x2="467.02" y2="47.31" stroke="#fff" stroke-width="0.79" opacity="0.54"/>
<line x1="443.98" y1="38.82" x2="447.79" y2="40.51" stroke="#fff" stroke-width="0.94" opacity="0.51"/>
<line x1="444.51" y1="39.97" x2="446.56" y2="40.18" stroke="#fff" stroke-width="0.95" opacity="0.54"/>
<ellipse cx="438.80" cy="57.50" rx="4.3" ry="1.2" fill="#d01818" opacity="1" filter="url(#b05)" transform="rotate(-50 438.80 57.50)"/>
<ellipse cx="446.10" cy="50.70" rx="3.9" ry="1.9" fill="#c03a20" opacity="1" filter="url(#b05)" transform="rotate(10 446.10 50.70)"/>
<path d="M326.30,133.80 C327.08,132.32 328.73,130.90 330.50,130.10 C332.27,129.30 334.78,129.00 336.90,129.00 C339.02,129.00 341.27,129.57 343.20,130.10 C345.13,130.63 347.00,131.23 348.50,132.20 C350.00,133.17 351.50,134.40 352.20,135.90 C352.90,137.40 352.87,139.43 352.70,141.20 C352.53,142.97 352.07,144.92 351.20,146.50 C350.33,148.08 349.00,149.57 347.50,150.70 C346.00,151.83 344.15,152.77 342.20,153.30 C340.25,153.83 337.38,154.25 335.80,153.90 C334.22,153.55 333.40,152.43 332.70,151.20 C332.00,149.97 332.48,147.82 331.60,146.50 C330.72,145.18 328.37,144.55 327.40,143.30 C326.43,142.05 325.98,140.58 325.80,139.00 C325.62,137.42 325.52,135.28 326.30,133.80 Z" fill="#f0a030" filter="url(#b05)" opacity="1"/>
<path d="M321.80,157.20 C322.75,155.68 325.18,155.43 328.00,155.20 C330.82,154.97 335.13,155.93 338.70,155.80 C342.27,155.67 346.43,155.05 349.40,154.40 C352.37,153.75 354.42,152.47 356.50,151.90 C358.58,151.33 360.55,150.65 361.90,151.00 C363.25,151.35 364.45,152.68 364.60,154.00 C364.75,155.32 364.15,157.78 362.80,158.90 C361.45,160.02 358.00,159.35 356.50,160.70 C355.00,162.05 354.38,164.62 353.80,167.00 C353.22,169.38 354.03,172.78 353.00,175.00 C351.97,177.22 349.98,179.20 347.60,180.30 C345.22,181.40 341.52,181.75 338.70,181.60 C335.88,181.45 332.93,180.95 330.70,179.40 C328.47,177.85 326.70,174.82 325.30,172.30 C323.90,169.78 322.88,166.82 322.30,164.30 C321.72,161.78 320.85,158.72 321.80,157.20 Z" fill="#1a22c0" filter="url(#b05)" opacity="1"/>
<circle cx="327.39" cy="132.66" r="0.92" fill="#f0a030" opacity="0.8"/>
<circle cx="328.06" cy="130.51" r="1.09" fill="#f0a030" opacity="0.8"/>
<circle cx="326.86" cy="133.83" r="0.83" fill="#f0a030" opacity="0.8"/>
<circle cx="335.81" cy="129.46" r="0.61" fill="#f0a030" opacity="0.8"/>
<circle cx="335.30" cy="129.45" r="1.02" fill="#f0a030" opacity="0.8"/>
<circle cx="333.93" cy="129.88" r="0.91" fill="#f0a030" opacity="0.8"/>
<circle cx="337.86" cy="130.06" r="0.83" fill="#f0a030" opacity="0.8"/>
<circle cx="342.19" cy="130.22" r="1.14" fill="#f0a030" opacity="0.8"/>
<circle cx="339.99" cy="129.32" r="1.15" fill="#f0a030" opacity="0.8"/>
<circle cx="347.05" cy="131.22" r="0.65" fill="#f0a030" opacity="0.8"/>
<circle cx="348.19" cy="132.38" r="0.71" fill="#f0a030" opacity="0.8"/>
<circle cx="345.66" cy="130.87" r="0.91" fill="#f0a030" opacity="0.8"/>
<circle cx="351.47" cy="134.73" r="1.15" fill="#f0a030" opacity="0.8"/>
<circle cx="352.65" cy="135.71" r="0.61" fill="#f0a030" opacity="0.8"/>
<circle cx="352.61" cy="136.19" r="0.90" fill="#f0a030" opacity="0.8"/>
<circle cx="351.98" cy="140.35" r="0.90" fill="#f0a030" opacity="0.8"/>
<circle cx="351.47" cy="138.12" r="1.19" fill="#f0a030" opacity="0.8"/>
<circle cx="352.85" cy="136.19" r="0.61" fill="#f0a030" opacity="0.8"/>
<circle cx="352.80" cy="143.50" r="0.53" fill="#f0a030" opacity="0.8"/>
<circle cx="350.87" cy="144.89" r="0.73" fill="#f0a030" opacity="0.8"/>
<circle cx="352.34" cy="145.88" r="1.20" fill="#f0a030" opacity="0.8"/>
<circle cx="349.21" cy="148.00" r="0.52" fill="#f0a030" opacity="0.8"/>
<circle cx="350.29" cy="147.55" r="0.61" fill="#f0a030" opacity="0.8"/>
<circle cx="351.78" cy="146.31" r="1.17" fill="#f0a030" opacity="0.8"/>
<circle cx="342.50" cy="152.95" r="0.86" fill="#f0a030" opacity="0.8"/>
<circle cx="344.28" cy="152.49" r="0.93" fill="#f0a030" opacity="0.8"/>
<circle cx="342.53" cy="153.01" r="1.00" fill="#f0a030" opacity="0.8"/>
<circle cx="340.28" cy="154.40" r="0.86" fill="#f0a030" opacity="0.8"/>
<circle cx="337.71" cy="153.46" r="0.91" fill="#f0a030" opacity="0.8"/>
<circle cx="342.30" cy="153.58" r="0.54" fill="#f0a030" opacity="0.8"/>
<circle cx="333.79" cy="152.56" r="0.75" fill="#f0a030" opacity="0.8"/>
<circle cx="334.08" cy="151.04" r="0.54" fill="#f0a030" opacity="0.8"/>
<circle cx="334.63" cy="151.58" r="0.82" fill="#f0a030" opacity="0.8"/>
<circle cx="331.69" cy="148.14" r="0.72" fill="#f0a030" opacity="0.8"/>
<circle cx="332.49" cy="149.07" r="0.76" fill="#f0a030" opacity="0.8"/>
<circle cx="330.90" cy="147.71" r="1.01" fill="#f0a030" opacity="0.8"/>
<circle cx="329.74" cy="146.12" r="0.67" fill="#f0a030" opacity="0.8"/>
<circle cx="330.68" cy="146.30" r="0.57" fill="#f0a030" opacity="0.8"/>
<circle cx="329.92" cy="146.14" r="0.81" fill="#f0a030" opacity="0.8"/>
<circle cx="325.37" cy="139.29" r="0.96" fill="#f0a030" opacity="0.8"/>
<circle cx="325.89" cy="138.94" r="0.58" fill="#f0a030" opacity="0.8"/>
<circle cx="325.93" cy="141.64" r="1.09" fill="#f0a030" opacity="0.8"/>
<circle cx="325.45" cy="138.66" r="0.95" fill="#f0a030" opacity="0.8"/>
<circle cx="325.89" cy="134.07" r="0.70" fill="#f0a030" opacity="0.8"/>
<circle cx="325.74" cy="134.56" r="0.79" fill="#f0a030" opacity="0.8"/>
<circle cx="324.22" cy="157.20" r="0.61" fill="#1a22c0" opacity="0.8"/>
<circle cx="322.72" cy="157.95" r="1.19" fill="#1a22c0" opacity="0.8"/>
<circle cx="325.39" cy="157.19" r="0.66" fill="#1a22c0" opacity="0.8"/>
<circle cx="336.65" cy="155.97" r="0.86" fill="#1a22c0" opacity="0.8"/>
<circle cx="330.77" cy="154.83" r="0.55" fill="#1a22c0" opacity="0.8"/>
<circle cx="333.87" cy="156.17" r="0.53" fill="#1a22c0" opacity="0.8"/>
<circle cx="348.76" cy="155.38" r="1.13" fill="#1a22c0" opacity="0.8"/>
<circle cx="348.48" cy="153.57" r="1.02" fill="#1a22c0" opacity="0.8"/>
<circle cx="340.14" cy="155.89" r="0.87" fill="#1a22c0" opacity="0.8"/>
<circle cx="353.22" cy="153.59" r="0.74" fill="#1a22c0" opacity="0.8"/>
<circle cx="351.92" cy="153.72" r="1.05" fill="#1a22c0" opacity="0.8"/>
<circle cx="351.29" cy="153.59" r="1.07" fill="#1a22c0" opacity="0.8"/>
<circle cx="358.01" cy="152.59" r="1.06" fill="#1a22c0" opacity="0.8"/>
<circle cx="359.96" cy="151.42" r="1.10" fill="#1a22c0" opacity="0.8"/>
<circle cx="356.31" cy="151.39" r="0.87" fill="#1a22c0" opacity="0.8"/>
<circle cx="362.99" cy="152.82" r="0.50" fill="#1a22c0" opacity="0.8"/>
<circle cx="361.30" cy="150.41" r="0.55" fill="#1a22c0" opacity="0.8"/>
<circle cx="365.24" cy="153.10" r="0.85" fill="#1a22c0" opacity="0.8"/>
<circle cx="363.66" cy="155.25" r="0.95" fill="#1a22c0" opacity="0.8"/>
<circle cx="363.27" cy="156.26" r="0.73" fill="#1a22c0" opacity="0.8"/>
<circle cx="364.49" cy="155.04" r="0.77" fill="#1a22c0" opacity="0.8"/>
<circle cx="361.65" cy="158.79" r="0.92" fill="#1a22c0" opacity="0.8"/>
<circle cx="357.63" cy="160.91" r="0.94" fill="#1a22c0" opacity="0.8"/>
<circle cx="359.83" cy="159.67" r="0.99" fill="#1a22c0" opacity="0.8"/>
<circle cx="355.75" cy="163.27" r="0.67" fill="#1a22c0" opacity="0.8"/>
<circle cx="355.44" cy="163.22" r="0.80" fill="#1a22c0" opacity="0.8"/>
<circle cx="356.11" cy="164.26" r="0.76" fill="#1a22c0" opacity="0.8"/>
<circle cx="353.66" cy="173.71" r="0.82" fill="#1a22c0" opacity="0.8"/>
<circle cx="354.33" cy="168.31" r="1.12" fill="#1a22c0" opacity="0.8"/>
<circle cx="353.50" cy="173.81" r="0.89" fill="#1a22c0" opacity="0.8"/>
<circle cx="352.62" cy="174.56" r="0.60" fill="#1a22c0" opacity="0.8"/>
<circle cx="347.91" cy="178.29" r="0.57" fill="#1a22c0" opacity="0.8"/>
<circle cx="347.60" cy="178.71" r="1.09" fill="#1a22c0" opacity="0.8"/>
<circle cx="347.21" cy="180.80" r="1.09" fill="#1a22c0" opacity="0.8"/>
<circle cx="339.28" cy="182.14" r="0.53" fill="#1a22c0" opacity="0.8"/>
<circle cx="340.79" cy="181.73" r="0.57" fill="#1a22c0" opacity="0.8"/>
<circle cx="333.58" cy="179.07" r="0.73" fill="#1a22c0" opacity="0.8"/>
<circle cx="334.84" cy="179.84" r="0.63" fill="#1a22c0" opacity="0.8"/>
<circle cx="336.93" cy="181.56" r="0.78" fill="#1a22c0" opacity="0.8"/>
<circle cx="328.51" cy="176.49" r="0.79" fill="#1a22c0" opacity="0.8"/>
<circle cx="330.25" cy="179.75" r="0.79" fill="#1a22c0" opacity="0.8"/>
<circle cx="325.99" cy="174.48" r="1.03" fill="#1a22c0" opacity="0.8"/>
<circle cx="323.31" cy="166.88" r="0.95" fill="#1a22c0" opacity="0.8"/>
<circle cx="321.91" cy="164.31" r="1.02" fill="#1a22c0" opacity="0.8"/>
<circle cx="322.58" cy="164.85" r="1.00" fill="#1a22c0" opacity="0.8"/>
<circle cx="321.74" cy="162.38" r="0.91" fill="#1a22c0" opacity="0.8"/>
<circle cx="321.61" cy="162.45" r="1.17" fill="#1a22c0" opacity="0.8"/>
<circle cx="322.56" cy="162.03" r="1.10" fill="#1a22c0" opacity="0.8"/>
<ellipse cx="360.60" cy="155.40" rx="5" ry="3.5" fill="#b8d850" opacity="0.8" filter="url(#b05)" transform="rotate(20 360.60 155.40)"/>
<ellipse cx="354.60" cy="149.40" rx="2.6" ry="2.2" fill="#e0e040" opacity="0.9" filter="url(#b05)" transform="rotate(0 354.60 149.40)"/>
<ellipse cx="356.30" cy="174.60" rx="8.2" ry="1.9" fill="#2038d0" opacity="1" filter="url(#b05)" transform="rotate(-45 356.30 174.60)"/>
<ellipse cx="319.90" cy="150.70" rx="4.2" ry="5.3" fill="#68d070" opacity="1" filter="url(#b05)" transform="rotate(30 319.90 150.70)"/>
<ellipse cx="319.20" cy="169.90" rx="5.5" ry="2.6" fill="#60c0b8" opacity="0.85" filter="url(#b05)" transform="rotate(55 319.20 169.90)"/>
<ellipse cx="310.30" cy="164.60" rx="0.8" ry="0.8" fill="#1a22c0" opacity="0.6" filter="url(#b05)" transform="rotate(0 310.30 164.60)"/>
<ellipse cx="344.60" cy="134.40" rx="6" ry="4.5" fill="#f07a3a" opacity="0.85" filter="url(#b05)" transform="rotate(0 344.60 134.40)"/>
<ellipse cx="337.60" cy="141.40" rx="6" ry="4" fill="#d0d848" opacity="0.8" filter="url(#b05)" transform="rotate(0 337.60 141.40)"/>
<ellipse cx="339.60" cy="148.40" rx="7" ry="4" fill="#d8d040" opacity="0.9" filter="url(#b05)" transform="rotate(0 339.60 148.40)"/>
<ellipse cx="330.60" cy="145.40" rx="3.5" ry="3" fill="#60d070" opacity="0.85" filter="url(#b05)" transform="rotate(0 330.60 145.40)"/>
<ellipse cx="337.60" cy="157.90" rx="12" ry="2.4" fill="#48c8b0" opacity="0.85" filter="url(#b05)" transform="rotate(0 337.60 157.90)"/>
<ellipse cx="327.10" cy="137.40" rx="2.2" ry="3.5" fill="#48c8b8" opacity="0.8" filter="url(#b05)" transform="rotate(0 327.10 137.40)"/>
<ellipse cx="348.60" cy="145.40" rx="3" ry="3" fill="#a8d850" opacity="0.8" filter="url(#b05)" transform="rotate(0 348.60 145.40)"/>
<ellipse cx="339.60" cy="137.90" rx="7.5" ry="4.8" fill="none" stroke="#fff" stroke-width="0.8" opacity="0.45" filter="url(#b05)"/>
<ellipse cx="336.60" cy="139.90" rx="1.6" ry="3.5" fill="#ffffff" opacity="0.6" filter="url(#b05)" transform="rotate(10 336.60 139.90)"/>
<path d="M329.60,154.40 Q341.60,157.40 353.60,149.90" fill="none" stroke="#fff" stroke-width="1.6" opacity="0.95" filter="url(#b05)"/>
<line x1="346.16" y1="142.56" x2="348.19" y2="142.71" stroke="#fff" stroke-width="0.59" opacity="0.55"/>
<line x1="328.83" y1="147.50" x2="327.09" y2="149.01" stroke="#fff" stroke-width="0.46" opacity="0.80"/>
<line x1="341.74" y1="160.15" x2="339.43" y2="161.48" stroke="#fff" stroke-width="0.73" opacity="0.62"/>
<line x1="341.81" y1="166.60" x2="342.94" y2="170.06" stroke="#fff" stroke-width="0.69" opacity="0.78"/>
<line x1="341.23" y1="140.57" x2="339.91" y2="142.19" stroke="#fff" stroke-width="0.67" opacity="0.78"/>
<line x1="357.46" y1="141.23" x2="358.82" y2="142.66" stroke="#fff" stroke-width="0.47" opacity="0.68"/>
<line x1="357.66" y1="176.09" x2="355.71" y2="176.97" stroke="#fff" stroke-width="0.53" opacity="0.57"/>
<line x1="352.22" y1="132.95" x2="350.72" y2="133.82" stroke="#fff" stroke-width="0.52" opacity="0.54"/>
<line x1="345.97" y1="164.20" x2="346.73" y2="165.52" stroke="#fff" stroke-width="0.57" opacity="0.59"/>
<line x1="330.42" y1="159.41" x2="331.73" y2="163.07" stroke="#fff" stroke-width="0.62" opacity="0.45"/>
<line x1="333.14" y1="163.67" x2="331.47" y2="164.29" stroke="#fff" stroke-width="0.76" opacity="0.44"/>
<line x1="361.13" y1="148.23" x2="358.66" y2="150.61" stroke="#fff" stroke-width="0.52" opacity="0.67"/>
<line x1="349.07" y1="171.12" x2="347.52" y2="172.63" stroke="#fff" stroke-width="0.78" opacity="0.67"/>
<line x1="344.12" y1="134.40" x2="345.35" y2="136.85" stroke="#fff" stroke-width="0.69" opacity="0.67"/>
<line x1="345.39" y1="138.04" x2="344.15" y2="140.90" stroke="#fff" stroke-width="0.47" opacity="0.76"/>
<line x1="349.13" y1="134.93" x2="352.58" y2="136.57" stroke="#fff" stroke-width="0.53" opacity="0.69"/>
<line x1="346.69" y1="157.81" x2="347.11" y2="160.90" stroke="#fff" stroke-width="0.52" opacity="0.47"/>
<line x1="324.48" y1="166.34" x2="324.03" y2="169.69" stroke="#fff" stroke-width="0.70" opacity="0.54"/>
<line x1="332.77" y1="148.72" x2="336.41" y2="149.20" stroke="#fff" stroke-width="0.60" opacity="0.50"/>
<line x1="353.89" y1="147.17" x2="354.59" y2="149.39" stroke="#fff" stroke-width="0.62" opacity="0.71"/>
<line x1="336.42" y1="173.28" x2="337.60" y2="174.62" stroke="#fff" stroke-width="0.44" opacity="0.45"/>
<line x1="354.32" y1="166.95" x2="355.94" y2="168.04" stroke="#fff" stroke-width="0.57" opacity="0.70"/>
<line x1="355.86" y1="168.08" x2="358.53" y2="169.40" stroke="#fff" stroke-width="0.56" opacity="0.48"/>
<line x1="343.76" y1="158.52" x2="345.18" y2="159.94" stroke="#fff" stroke-width="0.71" opacity="0.41"/>
<line x1="355.33" y1="175.63" x2="356.72" y2="179.25" stroke="#fff" stroke-width="0.62" opacity="0.63"/>
<line x1="348.21" y1="180.18" x2="350.11" y2="182.78" stroke="#fff" stroke-width="0.74" opacity="0.59"/>
<line x1="346.86" y1="166.92" x2="345.73" y2="167.92" stroke="#fff" stroke-width="0.66" opacity="0.60"/>
<line x1="343.59" y1="152.81" x2="343.41" y2="154.78" stroke="#fff" stroke-width="0.41" opacity="0.60"/>
<line x1="348.73" y1="151.94" x2="345.84" y2="152.32" stroke="#fff" stroke-width="0.76" opacity="0.45"/>
<line x1="354.88" y1="161.43" x2="355.57" y2="162.90" stroke="#fff" stroke-width="0.49" opacity="0.43"/>
<line x1="344.23" y1="177.68" x2="342.11" y2="178.60" stroke="#fff" stroke-width="0.68" opacity="0.45"/>
<line x1="357.65" y1="160.26" x2="355.26" y2="163.23" stroke="#fff" stroke-width="0.70" opacity="0.54"/>
<line x1="355.48" y1="177.78" x2="356.20" y2="181.36" stroke="#fff" stroke-width="0.70" opacity="0.59"/>
<line x1="326.18" y1="130.66" x2="327.55" y2="131.66" stroke="#fff" stroke-width="0.46" opacity="0.60"/>
<line x1="350.97" y1="156.88" x2="349.82" y2="159.16" stroke="#fff" stroke-width="0.52" opacity="0.59"/>
<line x1="353.40" y1="149.68" x2="351.54" y2="150.29" stroke="#fff" stroke-width="0.69" opacity="0.55"/>
<line x1="337.18" y1="156.45" x2="339.46" y2="158.39" stroke="#fff" stroke-width="0.40" opacity="0.48"/>
<line x1="354.49" y1="136.00" x2="356.66" y2="137.53" stroke="#fff" stroke-width="0.48" opacity="0.47"/>
<line x1="338.56" y1="137.32" x2="340.03" y2="137.85" stroke="#fff" stroke-width="0.47" opacity="0.60"/>
<line x1="324.11" y1="129.59" x2="324.86" y2="132.10" stroke="#fff" stroke-width="0.68" opacity="0.42"/>
<line x1="338.54" y1="149.42" x2="336.98" y2="149.59" stroke="#fff" stroke-width="0.49" opacity="0.44"/>
<line x1="341.53" y1="137.13" x2="342.95" y2="139.84" stroke="#fff" stroke-width="0.45" opacity="0.42"/>
<line x1="352.16" y1="142.98" x2="352.54" y2="146.43" stroke="#fff" stroke-width="0.77" opacity="0.52"/>
<line x1="332.10" y1="142.49" x2="330.71" y2="145.74" stroke="#fff" stroke-width="0.54" opacity="0.44"/>
<line x1="350.26" y1="179.77" x2="353.24" y2="179.81" stroke="#fff" stroke-width="0.41" opacity="0.44"/>
<line x1="328.75" y1="130.34" x2="327.99" y2="131.79" stroke="#fff" stroke-width="0.76" opacity="0.48"/>
<line x1="362.50" y1="153.67" x2="359.11" y2="154.58" stroke="#fff" stroke-width="0.78" opacity="0.41"/>
<line x1="334.40" y1="160.57" x2="338.12" y2="161.62" stroke="#fff" stroke-width="0.52" opacity="0.74"/>
<line x1="326.42" y1="149.06" x2="325.17" y2="151.04" stroke="#fff" stroke-width="0.77" opacity="0.47"/>
<line x1="352.67" y1="167.30" x2="352.08" y2="170.84" stroke="#fff" stroke-width="0.77" opacity="0.55"/>
<line x1="339.02" y1="140.56" x2="339.23" y2="144.00" stroke="#fff" stroke-width="0.51" opacity="0.47"/>
<line x1="351.87" y1="160.50" x2="353.01" y2="163.57" stroke="#fff" stroke-width="0.59" opacity="0.46"/>
<line x1="351.45" y1="129.62" x2="349.52" y2="131.45" stroke="#fff" stroke-width="0.67" opacity="0.44"/>
<line x1="331.56" y1="173.11" x2="328.68" y2="174.27" stroke="#fff" stroke-width="0.75" opacity="0.58"/>
<line x1="359.27" y1="167.24" x2="360.20" y2="169.38" stroke="#fff" stroke-width="0.43" opacity="0.56"/>
<line x1="361.74" y1="133.96" x2="364.49" y2="134.96" stroke="#fff" stroke-width="0.43" opacity="0.66"/>
<line x1="331.71" y1="130.99" x2="330.89" y2="132.68" stroke="#fff" stroke-width="0.63" opacity="0.40"/>
<line x1="331.26" y1="179.66" x2="330.86" y2="181.68" stroke="#fff" stroke-width="0.57" opacity="0.71"/>
<line x1="346.98" y1="170.20" x2="349.34" y2="171.78" stroke="#fff" stroke-width="0.47" opacity="0.43"/>
<line x1="356.27" y1="134.36" x2="354.72" y2="134.53" stroke="#fff" stroke-width="0.48" opacity="0.76"/>
<line x1="325.20" y1="153.06" x2="323.44" y2="154.11" stroke="#fff" stroke-width="0.65" opacity="0.66"/>
<line x1="353.58" y1="174.60" x2="352.83" y2="176.84" stroke="#fff" stroke-width="0.58" opacity="0.44"/>
<line x1="356.69" y1="159.90" x2="359.51" y2="162.03" stroke="#fff" stroke-width="0.62" opacity="0.59"/>
<line x1="352.18" y1="132.49" x2="352.29" y2="134.86" stroke="#fff" stroke-width="0.43" opacity="0.62"/>
<line x1="352.48" y1="150.81" x2="351.47" y2="153.76" stroke="#fff" stroke-width="0.49" opacity="0.54"/>
<line x1="363.42" y1="146.17" x2="365.91" y2="146.84" stroke="#fff" stroke-width="0.49" opacity="0.47"/>
<line x1="360.70" y1="166.90" x2="357.02" y2="167.06" stroke="#fff" stroke-width="0.64" opacity="0.77"/>
<line x1="344.10" y1="150.59" x2="340.41" y2="151.76" stroke="#fff" stroke-width="0.78" opacity="0.59"/>
<line x1="354.09" y1="149.97" x2="350.22" y2="150.97" stroke="#fff" stroke-width="0.52" opacity="0.77"/>
<line x1="329.35" y1="133.48" x2="331.34" y2="136.12" stroke="#fff" stroke-width="0.61" opacity="0.66"/>
<line x1="323.30" y1="167.89" x2="323.77" y2="170.04" stroke="#fff" stroke-width="0.54" opacity="0.70"/>
<line x1="352.97" y1="143.63" x2="354.00" y2="145.05" stroke="#fff" stroke-width="0.56" opacity="0.43"/>
<line x1="328.03" y1="168.82" x2="324.79" y2="169.07" stroke="#fff" stroke-width="0.79" opacity="0.75"/>
<line x1="337.25" y1="136.95" x2="337.51" y2="139.22" stroke="#fff" stroke-width="0.61" opacity="0.62"/>
<line x1="336.71" y1="173.59" x2="336.97" y2="175.79" stroke="#fff" stroke-width="0.75" opacity="0.72"/>
<line x1="334.09" y1="141.26" x2="337.61" y2="141.37" stroke="#fff" stroke-width="0.45" opacity="0.61"/>
<line x1="344.11" y1="137.18" x2="345.41" y2="138.15" stroke="#fff" stroke-width="0.71" opacity="0.59"/>
<line x1="362.73" y1="170.03" x2="366.65" y2="170.47" stroke="#fff" stroke-width="0.47" opacity="0.41"/>
<line x1="339.76" y1="146.33" x2="339.53" y2="147.94" stroke="#fff" stroke-width="0.44" opacity="0.52"/>
<line x1="331.98" y1="170.91" x2="333.73" y2="172.77" stroke="#fff" stroke-width="0.42" opacity="0.57"/>
<line x1="347.95" y1="164.19" x2="344.84" y2="166.33" stroke="#fff" stroke-width="0.50" opacity="0.45"/>
<line x1="353.45" y1="170.24" x2="351.06" y2="171.65" stroke="#fff" stroke-width="0.62" opacity="0.51"/>
<line x1="328.69" y1="129.30" x2="325.74" y2="130.30" stroke="#fff" stroke-width="0.76" opacity="0.59"/>
<line x1="349.55" y1="177.62" x2="348.43" y2="180.97" stroke="#fff" stroke-width="0.57" opacity="0.61"/>
<line x1="328.77" y1="138.10" x2="325.56" y2="138.18" stroke="#fff" stroke-width="0.62" opacity="0.56"/>
<line x1="336.38" y1="152.51" x2="336.90" y2="155.98" stroke="#fff" stroke-width="0.78" opacity="0.46"/>
<line x1="334.83" y1="156.07" x2="332.57" y2="157.21" stroke="#fff" stroke-width="0.73" opacity="0.77"/>
<line x1="347.32" y1="130.02" x2="346.87" y2="132.92" stroke="#fff" stroke-width="0.60" opacity="0.51"/>
<line x1="351.39" y1="176.72" x2="350.51" y2="178.23" stroke="#fff" stroke-width="0.55" opacity="0.61"/>
<line x1="359.22" y1="179.30" x2="361.76" y2="181.08" stroke="#fff" stroke-width="0.77" opacity="0.47"/>
<line x1="336.18" y1="148.45" x2="339.02" y2="147.65" stroke="#fff" stroke-width="0.97" opacity="0.63"/>
<line x1="336.41" y1="135.88" x2="338.70" y2="135.18" stroke="#fff" stroke-width="0.54" opacity="0.59"/>
<line x1="331.60" y1="131.23" x2="335.03" y2="132.26" stroke="#fff" stroke-width="0.82" opacity="0.83"/>
<line x1="326.73" y1="135.89" x2="322.49" y2="138.31" stroke="#fff" stroke-width="0.74" opacity="0.61"/>
<line x1="340.25" y1="130.48" x2="337.94" y2="129.07" stroke="#fff" stroke-width="0.95" opacity="0.57"/>
<line x1="351.42" y1="144.92" x2="347.84" y2="146.56" stroke="#fff" stroke-width="0.88" opacity="0.57"/>
<line x1="331.34" y1="148.32" x2="335.30" y2="145.94" stroke="#fff" stroke-width="0.77" opacity="0.65"/>
<line x1="329.28" y1="138.37" x2="324.49" y2="139.67" stroke="#fff" stroke-width="0.57" opacity="0.55"/>
<line x1="335.41" y1="150.44" x2="337.49" y2="149.64" stroke="#fff" stroke-width="1.00" opacity="0.89"/>
<line x1="332.75" y1="137.55" x2="337.60" y2="137.46" stroke="#fff" stroke-width="0.66" opacity="0.51"/>
<line x1="335.23" y1="146.61" x2="339.57" y2="146.97" stroke="#fff" stroke-width="0.77" opacity="0.68"/>
<line x1="339.96" y1="148.56" x2="342.55" y2="148.85" stroke="#fff" stroke-width="0.92" opacity="0.57"/>
<line x1="350.69" y1="148.72" x2="348.28" y2="149.42" stroke="#fff" stroke-width="0.53" opacity="0.89"/>
<line x1="336.83" y1="149.47" x2="338.79" y2="148.18" stroke="#fff" stroke-width="0.90" opacity="0.90"/>
<line x1="343.74" y1="141.48" x2="347.53" y2="139.46" stroke="#fff" stroke-width="0.72" opacity="0.56"/>
<line x1="341.61" y1="136.83" x2="345.09" y2="136.30" stroke="#fff" stroke-width="0.68" opacity="0.74"/>
<line x1="351.11" y1="150.93" x2="346.89" y2="149.14" stroke="#fff" stroke-width="0.99" opacity="0.61"/>
<line x1="329.68" y1="140.92" x2="333.80" y2="140.12" stroke="#fff" stroke-width="0.64" opacity="0.89"/>
<line x1="337.92" y1="140.39" x2="341.16" y2="141.95" stroke="#fff" stroke-width="0.76" opacity="0.68"/>
<line x1="342.05" y1="130.99" x2="345.04" y2="132.32" stroke="#fff" stroke-width="0.53" opacity="0.84"/>
<line x1="336.20" y1="151.97" x2="339.12" y2="150.93" stroke="#fff" stroke-width="0.94" opacity="0.67"/>
<line x1="348.29" y1="145.76" x2="351.28" y2="145.03" stroke="#fff" stroke-width="0.70" opacity="0.65"/>
<line x1="342.89" y1="149.53" x2="339.48" y2="151.08" stroke="#fff" stroke-width="0.69" opacity="0.75"/>
<line x1="330.09" y1="131.28" x2="327.23" y2="132.04" stroke="#fff" stroke-width="0.77" opacity="0.87"/>
<line x1="339.96" y1="146.36" x2="344.08" y2="148.13" stroke="#fff" stroke-width="0.72" opacity="0.77"/>
<line x1="329.62" y1="149.64" x2="332.75" y2="149.55" stroke="#fff" stroke-width="0.64" opacity="0.58"/>
<line x1="347.19" y1="143.17" x2="349.09" y2="141.96" stroke="#fff" stroke-width="0.50" opacity="0.83"/>
<line x1="331.19" y1="135.71" x2="334.36" y2="135.75" stroke="#fff" stroke-width="0.81" opacity="0.76"/>
<line x1="337.51" y1="131.63" x2="332.70" y2="130.52" stroke="#fff" stroke-width="0.72" opacity="0.80"/>
<line x1="351.39" y1="130.92" x2="353.42" y2="130.87" stroke="#fff" stroke-width="0.95" opacity="0.83"/>
<line x1="334.89" y1="139.03" x2="331.53" y2="137.37" stroke="#fff" stroke-width="0.70" opacity="0.54"/>
<line x1="342.63" y1="130.01" x2="347.44" y2="130.15" stroke="#fff" stroke-width="0.54" opacity="0.59"/>
<line x1="338.32" y1="149.12" x2="341.82" y2="148.19" stroke="#fff" stroke-width="0.83" opacity="0.71"/>
<line x1="331.66" y1="136.27" x2="335.91" y2="134.26" stroke="#fff" stroke-width="0.81" opacity="0.64"/>
<line x1="345.82" y1="150.33" x2="341.43" y2="149.05" stroke="#fff" stroke-width="0.53" opacity="0.67"/>
<line x1="334.40" y1="133.86" x2="338.75" y2="132.32" stroke="#fff" stroke-width="0.97" opacity="0.55"/>
<line x1="349.44" y1="138.53" x2="346.99" y2="139.51" stroke="#fff" stroke-width="0.75" opacity="0.65"/>
<line x1="347.89" y1="148.56" x2="350.04" y2="148.30" stroke="#fff" stroke-width="0.59" opacity="0.60"/>
<line x1="333.18" y1="145.36" x2="330.49" y2="146.73" stroke="#fff" stroke-width="0.72" opacity="0.73"/>
<line x1="332.74" y1="145.49" x2="335.33" y2="146.03" stroke="#fff" stroke-width="0.59" opacity="0.80"/>
<line x1="336.46" y1="141.81" x2="340.20" y2="142.39" stroke="#fff" stroke-width="0.53" opacity="0.81"/>
<line x1="348.09" y1="140.67" x2="351.68" y2="139.65" stroke="#fff" stroke-width="0.84" opacity="0.59"/>
<line x1="347.04" y1="152.08" x2="349.55" y2="153.78" stroke="#fff" stroke-width="0.59" opacity="0.79"/>
<line x1="335.07" y1="146.24" x2="338.41" y2="144.54" stroke="#fff" stroke-width="0.93" opacity="0.69"/>
<line x1="340.08" y1="149.25" x2="343.42" y2="149.22" stroke="#fff" stroke-width="0.91" opacity="0.58"/>
<ellipse cx="321.60" cy="152.80" rx="4.3" ry="1.2" fill="#d42020" opacity="1" filter="url(#b05)" transform="rotate(-50 321.60 152.80)"/>
<ellipse cx="328.90" cy="146.00" rx="3.9" ry="1.9" fill="#2050d0" opacity="1" filter="url(#b05)" transform="rotate(10 328.90 146.00)"/>
<path d="M443.10,133.80 C443.88,132.32 445.53,130.90 447.30,130.10 C449.07,129.30 451.58,129.00 453.70,129.00 C455.82,129.00 458.07,129.57 460.00,130.10 C461.93,130.63 463.80,131.23 465.30,132.20 C466.80,133.17 468.30,134.40 469.00,135.90 C469.70,137.40 469.67,139.43 469.50,141.20 C469.33,142.97 468.87,144.92 468.00,146.50 C467.13,148.08 465.80,149.57 464.30,150.70 C462.80,151.83 460.95,152.77 459.00,153.30 C457.05,153.83 454.18,154.25 452.60,153.90 C451.02,153.55 450.20,152.43 449.50,151.20 C448.80,149.97 449.28,147.82 448.40,146.50 C447.52,145.18 445.17,144.55 444.20,143.30 C443.23,142.05 442.78,140.58 442.60,139.00 C442.42,137.42 442.32,135.28 443.10,133.80 Z" fill="#2a3ab0" filter="url(#b05)" opacity="1"/>
<path d="M438.60,157.20 C439.55,155.68 441.98,155.43 444.80,155.20 C447.62,154.97 451.93,155.93 455.50,155.80 C459.07,155.67 463.23,155.05 466.20,154.40 C469.17,153.75 471.22,152.47 473.30,151.90 C475.38,151.33 477.35,150.65 478.70,151.00 C480.05,151.35 481.25,152.68 481.40,154.00 C481.55,155.32 480.95,157.78 479.60,158.90 C478.25,160.02 474.80,159.35 473.30,160.70 C471.80,162.05 471.18,164.62 470.60,167.00 C470.02,169.38 470.83,172.78 469.80,175.00 C468.77,177.22 466.78,179.20 464.40,180.30 C462.02,181.40 458.32,181.75 455.50,181.60 C452.68,181.45 449.73,180.95 447.50,179.40 C445.27,177.85 443.50,174.82 442.10,172.30 C440.70,169.78 439.68,166.82 439.10,164.30 C438.52,161.78 437.65,158.72 438.60,157.20 Z" fill="#1a24a8" filter="url(#b05)" opacity="1"/>
<circle cx="443.30" cy="132.72" r="0.61" fill="#2a3ab0" opacity="0.8"/>
<circle cx="443.18" cy="134.39" r="1.06" fill="#2a3ab0" opacity="0.8"/>
<circle cx="445.76" cy="131.04" r="0.69" fill="#2a3ab0" opacity="0.8"/>
<circle cx="447.62" cy="129.34" r="1.15" fill="#2a3ab0" opacity="0.8"/>
<circle cx="453.22" cy="129.79" r="0.64" fill="#2a3ab0" opacity="0.8"/>
<circle cx="449.54" cy="130.22" r="1.10" fill="#2a3ab0" opacity="0.8"/>
<circle cx="458.42" cy="130.18" r="0.97" fill="#2a3ab0" opacity="0.8"/>
<circle cx="456.24" cy="129.50" r="0.56" fill="#2a3ab0" opacity="0.8"/>
<circle cx="460.32" cy="130.12" r="0.71" fill="#2a3ab0" opacity="0.8"/>
<circle cx="464.96" cy="132.77" r="1.09" fill="#2a3ab0" opacity="0.8"/>
<circle cx="462.52" cy="131.37" r="0.80" fill="#2a3ab0" opacity="0.8"/>
<circle cx="460.47" cy="131.06" r="0.53" fill="#2a3ab0" opacity="0.8"/>
<circle cx="465.72" cy="131.93" r="0.87" fill="#2a3ab0" opacity="0.8"/>
<circle cx="466.73" cy="134.94" r="0.64" fill="#2a3ab0" opacity="0.8"/>
<circle cx="466.23" cy="133.99" r="0.69" fill="#2a3ab0" opacity="0.8"/>
<circle cx="469.67" cy="137.43" r="0.89" fill="#2a3ab0" opacity="0.8"/>
<circle cx="468.65" cy="139.82" r="0.66" fill="#2a3ab0" opacity="0.8"/>
<circle cx="469.61" cy="139.43" r="0.73" fill="#2a3ab0" opacity="0.8"/>
<circle cx="469.15" cy="141.23" r="0.99" fill="#2a3ab0" opacity="0.8"/>
<circle cx="469.07" cy="146.42" r="1.17" fill="#2a3ab0" opacity="0.8"/>
<circle cx="469.05" cy="142.23" r="1.04" fill="#2a3ab0" opacity="0.8"/>
<circle cx="467.37" cy="148.46" r="1.07" fill="#2a3ab0" opacity="0.8"/>
<circle cx="466.30" cy="147.62" r="0.60" fill="#2a3ab0" opacity="0.8"/>
<circle cx="467.51" cy="147.77" r="0.51" fill="#2a3ab0" opacity="0.8"/>
<circle cx="463.40" cy="151.38" r="0.75" fill="#2a3ab0" opacity="0.8"/>
<circle cx="461.96" cy="152.42" r="0.80" fill="#2a3ab0" opacity="0.8"/>
<circle cx="462.32" cy="150.35" r="0.62" fill="#2a3ab0" opacity="0.8"/>
<circle cx="453.97" cy="152.79" r="0.84" fill="#2a3ab0" opacity="0.8"/>
<circle cx="458.40" cy="152.69" r="0.87" fill="#2a3ab0" opacity="0.8"/>
<circle cx="453.87" cy="154.74" r="0.83" fill="#2a3ab0" opacity="0.8"/>
<circle cx="451.67" cy="152.32" r="0.79" fill="#2a3ab0" opacity="0.8"/>
<circle cx="452.61" cy="153.89" r="0.85" fill="#2a3ab0" opacity="0.8"/>
<circle cx="452.01" cy="153.30" r="0.65" fill="#2a3ab0" opacity="0.8"/>
<circle cx="449.98" cy="149.40" r="0.54" fill="#2a3ab0" opacity="0.8"/>
<circle cx="448.61" cy="147.82" r="0.78" fill="#2a3ab0" opacity="0.8"/>
<circle cx="448.82" cy="147.55" r="1.02" fill="#2a3ab0" opacity="0.8"/>
<circle cx="445.51" cy="144.34" r="1.11" fill="#2a3ab0" opacity="0.8"/>
<circle cx="445.47" cy="143.29" r="0.96" fill="#2a3ab0" opacity="0.8"/>
<circle cx="445.33" cy="144.57" r="0.87" fill="#2a3ab0" opacity="0.8"/>
<circle cx="443.52" cy="140.02" r="1.15" fill="#2a3ab0" opacity="0.8"/>
<circle cx="441.82" cy="140.13" r="1.17" fill="#2a3ab0" opacity="0.8"/>
<circle cx="442.22" cy="141.22" r="0.59" fill="#2a3ab0" opacity="0.8"/>
<circle cx="443.42" cy="133.08" r="0.62" fill="#2a3ab0" opacity="0.8"/>
<circle cx="443.06" cy="136.19" r="1.15" fill="#2a3ab0" opacity="0.8"/>
<circle cx="441.72" cy="138.71" r="0.51" fill="#2a3ab0" opacity="0.8"/>
<circle cx="443.27" cy="156.07" r="1.05" fill="#1a24a8" opacity="0.8"/>
<circle cx="444.14" cy="156.20" r="0.64" fill="#1a24a8" opacity="0.8"/>
<circle cx="442.42" cy="156.64" r="1.04" fill="#1a24a8" opacity="0.8"/>
<circle cx="449.90" cy="154.54" r="0.52" fill="#1a24a8" opacity="0.8"/>
<circle cx="451.14" cy="156.29" r="0.93" fill="#1a24a8" opacity="0.8"/>
<circle cx="446.01" cy="155.82" r="0.87" fill="#1a24a8" opacity="0.8"/>
<circle cx="456.29" cy="156.44" r="0.56" fill="#1a24a8" opacity="0.8"/>
<circle cx="461.08" cy="155.61" r="0.72" fill="#1a24a8" opacity="0.8"/>
<circle cx="457.97" cy="156.41" r="0.57" fill="#1a24a8" opacity="0.8"/>
<circle cx="467.25" cy="154.88" r="0.86" fill="#1a24a8" opacity="0.8"/>
<circle cx="470.00" cy="153.87" r="0.55" fill="#1a24a8" opacity="0.8"/>
<circle cx="471.85" cy="151.80" r="1.09" fill="#1a24a8" opacity="0.8"/>
<circle cx="476.18" cy="150.85" r="1.11" fill="#1a24a8" opacity="0.8"/>
<circle cx="473.55" cy="151.73" r="0.74" fill="#1a24a8" opacity="0.8"/>
<circle cx="477.03" cy="151.83" r="0.50" fill="#1a24a8" opacity="0.8"/>
<circle cx="479.63" cy="151.91" r="1.00" fill="#1a24a8" opacity="0.8"/>
<circle cx="479.16" cy="151.94" r="1.09" fill="#1a24a8" opacity="0.8"/>
<circle cx="480.20" cy="153.04" r="0.94" fill="#1a24a8" opacity="0.8"/>
<circle cx="480.40" cy="156.94" r="1.14" fill="#1a24a8" opacity="0.8"/>
<circle cx="481.38" cy="155.90" r="1.11" fill="#1a24a8" opacity="0.8"/>
<circle cx="480.21" cy="157.74" r="0.60" fill="#1a24a8" opacity="0.8"/>
<circle cx="474.47" cy="160.61" r="0.59" fill="#1a24a8" opacity="0.8"/>
<circle cx="478.37" cy="159.67" r="0.62" fill="#1a24a8" opacity="0.8"/>
<circle cx="473.66" cy="160.68" r="0.75" fill="#1a24a8" opacity="0.8"/>
<circle cx="470.81" cy="164.42" r="1.16" fill="#1a24a8" opacity="0.8"/>
<circle cx="473.12" cy="161.49" r="0.71" fill="#1a24a8" opacity="0.8"/>
<circle cx="472.28" cy="161.74" r="1.08" fill="#1a24a8" opacity="0.8"/>
<circle cx="470.57" cy="174.32" r="0.61" fill="#1a24a8" opacity="0.8"/>
<circle cx="470.12" cy="171.82" r="1.16" fill="#1a24a8" opacity="0.8"/>
<circle cx="470.93" cy="172.32" r="0.96" fill="#1a24a8" opacity="0.8"/>
<circle cx="466.64" cy="178.82" r="1.08" fill="#1a24a8" opacity="0.8"/>
<circle cx="469.02" cy="176.42" r="0.92" fill="#1a24a8" opacity="0.8"/>
<circle cx="465.36" cy="179.37" r="0.66" fill="#1a24a8" opacity="0.8"/>
<circle cx="461.75" cy="181.72" r="1.13" fill="#1a24a8" opacity="0.8"/>
<circle cx="460.64" cy="181.46" r="0.70" fill="#1a24a8" opacity="0.8"/>
<circle cx="459.76" cy="180.20" r="0.88" fill="#1a24a8" opacity="0.8"/>
<circle cx="450.18" cy="179.80" r="1.17" fill="#1a24a8" opacity="0.8"/>
<circle cx="449.83" cy="179.36" r="1.18" fill="#1a24a8" opacity="0.8"/>
<circle cx="448.44" cy="179.63" r="0.72" fill="#1a24a8" opacity="0.8"/>
<circle cx="446.52" cy="178.20" r="1.15" fill="#1a24a8" opacity="0.8"/>
<circle cx="443.24" cy="172.36" r="0.67" fill="#1a24a8" opacity="0.8"/>
<circle cx="446.78" cy="176.60" r="1.05" fill="#1a24a8" opacity="0.8"/>
<circle cx="440.15" cy="167.77" r="0.68" fill="#1a24a8" opacity="0.8"/>
<circle cx="439.84" cy="167.30" r="0.52" fill="#1a24a8" opacity="0.8"/>
<circle cx="440.39" cy="168.89" r="1.19" fill="#1a24a8" opacity="0.8"/>
<circle cx="439.74" cy="162.65" r="1.01" fill="#1a24a8" opacity="0.8"/>
<circle cx="439.68" cy="160.41" r="1.00" fill="#1a24a8" opacity="0.8"/>
<circle cx="439.21" cy="160.77" r="0.89" fill="#1a24a8" opacity="0.8"/>
<ellipse cx="477.40" cy="155.40" rx="5" ry="3.5" fill="#8a96d0" opacity="0.8" filter="url(#b05)" transform="rotate(20 477.40 155.40)"/>
<ellipse cx="471.40" cy="149.40" rx="2.6" ry="2.2" fill="#3a4ab8" opacity="0.9" filter="url(#b05)" transform="rotate(0 471.40 149.40)"/>
<ellipse cx="473.10" cy="174.60" rx="8.2" ry="1.9" fill="#2030a8" opacity="1" filter="url(#b05)" transform="rotate(-45 473.10 174.60)"/>
<ellipse cx="436.70" cy="150.70" rx="4.2" ry="5.3" fill="#2030b0" opacity="1" filter="url(#b05)" transform="rotate(30 436.70 150.70)"/>
<ellipse cx="436.00" cy="169.90" rx="5.5" ry="2.6" fill="#3040b8" opacity="0.85" filter="url(#b05)" transform="rotate(55 436.00 169.90)"/>
<ellipse cx="427.10" cy="164.60" rx="0.8" ry="0.8" fill="#1a24a8" opacity="0.6" filter="url(#b05)" transform="rotate(0 427.10 164.60)"/>
<ellipse cx="456.40" cy="137.90" rx="7.5" ry="4.8" fill="none" stroke="#fff" stroke-width="0.8" opacity="0.45" filter="url(#b05)"/>
<ellipse cx="453.40" cy="139.90" rx="1.6" ry="3.5" fill="#ffffff" opacity="0.6" filter="url(#b05)" transform="rotate(10 453.40 139.90)"/>
<path d="M446.40,154.40 Q458.40,157.40 470.40,149.90" fill="none" stroke="#fff" stroke-width="1.6" opacity="0.95" filter="url(#b05)"/>
<line x1="459.51" y1="136.57" x2="459.69" y2="140.18" stroke="#fff" stroke-width="0.43" opacity="0.47"/>
<line x1="475.14" y1="141.97" x2="473.80" y2="144.06" stroke="#fff" stroke-width="0.74" opacity="0.53"/>
<line x1="454.65" y1="150.82" x2="453.19" y2="151.42" stroke="#fff" stroke-width="0.41" opacity="0.78"/>
<line x1="444.81" y1="136.70" x2="441.73" y2="138.62" stroke="#fff" stroke-width="0.49" opacity="0.62"/>
<line x1="458.42" y1="166.48" x2="456.75" y2="167.51" stroke="#fff" stroke-width="0.80" opacity="0.68"/>
<line x1="477.09" y1="178.07" x2="474.92" y2="179.20" stroke="#fff" stroke-width="0.73" opacity="0.63"/>
<line x1="442.90" y1="161.22" x2="445.07" y2="164.31" stroke="#fff" stroke-width="0.66" opacity="0.76"/>
<line x1="463.60" y1="130.37" x2="465.74" y2="132.59" stroke="#fff" stroke-width="0.74" opacity="0.66"/>
<line x1="451.31" y1="175.87" x2="452.79" y2="178.55" stroke="#fff" stroke-width="0.73" opacity="0.76"/>
<line x1="475.91" y1="175.21" x2="474.08" y2="177.77" stroke="#fff" stroke-width="0.64" opacity="0.61"/>
<line x1="479.87" y1="147.11" x2="478.82" y2="148.45" stroke="#fff" stroke-width="0.60" opacity="0.62"/>
<line x1="463.51" y1="141.64" x2="465.46" y2="142.09" stroke="#fff" stroke-width="0.71" opacity="0.76"/>
<line x1="467.66" y1="134.59" x2="464.29" y2="136.64" stroke="#fff" stroke-width="0.60" opacity="0.40"/>
<line x1="473.84" y1="161.44" x2="476.89" y2="161.61" stroke="#fff" stroke-width="0.69" opacity="0.41"/>
<line x1="458.48" y1="136.08" x2="456.22" y2="136.89" stroke="#fff" stroke-width="0.70" opacity="0.73"/>
<line x1="450.92" y1="148.99" x2="453.92" y2="149.31" stroke="#fff" stroke-width="0.56" opacity="0.79"/>
<line x1="470.07" y1="174.12" x2="468.80" y2="175.98" stroke="#fff" stroke-width="0.72" opacity="0.68"/>
<line x1="456.77" y1="137.67" x2="455.32" y2="138.21" stroke="#fff" stroke-width="0.77" opacity="0.51"/>
<line x1="470.14" y1="149.98" x2="467.45" y2="151.44" stroke="#fff" stroke-width="0.53" opacity="0.65"/>
<line x1="449.15" y1="155.49" x2="450.22" y2="156.65" stroke="#fff" stroke-width="0.51" opacity="0.77"/>
<line x1="443.96" y1="168.59" x2="442.25" y2="168.67" stroke="#fff" stroke-width="0.47" opacity="0.44"/>
<line x1="447.29" y1="177.85" x2="444.30" y2="178.93" stroke="#fff" stroke-width="0.60" opacity="0.45"/>
<line x1="452.70" y1="152.55" x2="456.15" y2="154.53" stroke="#fff" stroke-width="0.50" opacity="0.74"/>
<line x1="443.19" y1="179.88" x2="442.72" y2="182.08" stroke="#fff" stroke-width="0.66" opacity="0.76"/>
<line x1="441.58" y1="173.28" x2="440.35" y2="174.79" stroke="#fff" stroke-width="0.41" opacity="0.71"/>
<line x1="446.01" y1="139.33" x2="446.84" y2="140.68" stroke="#fff" stroke-width="0.53" opacity="0.79"/>
<line x1="463.89" y1="147.71" x2="467.30" y2="149.75" stroke="#fff" stroke-width="0.49" opacity="0.78"/>
<line x1="478.36" y1="164.66" x2="482.24" y2="165.37" stroke="#fff" stroke-width="0.76" opacity="0.68"/>
<line x1="466.46" y1="173.09" x2="467.89" y2="174.12" stroke="#fff" stroke-width="0.46" opacity="0.59"/>
<line x1="461.34" y1="157.05" x2="459.67" y2="158.79" stroke="#fff" stroke-width="0.74" opacity="0.70"/>
<line x1="439.99" y1="136.50" x2="441.49" y2="137.90" stroke="#fff" stroke-width="0.63" opacity="0.48"/>
<line x1="464.64" y1="146.64" x2="463.17" y2="148.55" stroke="#fff" stroke-width="0.78" opacity="0.48"/>
<line x1="453.03" y1="180.42" x2="455.05" y2="180.59" stroke="#fff" stroke-width="0.48" opacity="0.73"/>
<line x1="469.11" y1="178.14" x2="471.83" y2="178.49" stroke="#fff" stroke-width="0.52" opacity="0.69"/>
<line x1="454.90" y1="135.80" x2="455.18" y2="138.22" stroke="#fff" stroke-width="0.54" opacity="0.58"/>
<line x1="444.12" y1="129.98" x2="441.82" y2="132.56" stroke="#fff" stroke-width="0.57" opacity="0.45"/>
<line x1="450.81" y1="157.99" x2="451.03" y2="161.72" stroke="#fff" stroke-width="0.79" opacity="0.61"/>
<line x1="446.01" y1="161.00" x2="445.09" y2="163.86" stroke="#fff" stroke-width="0.69" opacity="0.41"/>
<line x1="456.75" y1="170.82" x2="458.58" y2="171.06" stroke="#fff" stroke-width="0.47" opacity="0.51"/>
<line x1="456.68" y1="145.06" x2="459.33" y2="146.63" stroke="#fff" stroke-width="0.54" opacity="0.67"/>
<line x1="461.26" y1="179.21" x2="463.91" y2="181.99" stroke="#fff" stroke-width="0.53" opacity="0.62"/>
<line x1="461.25" y1="147.79" x2="464.23" y2="149.91" stroke="#fff" stroke-width="0.59" opacity="0.45"/>
<line x1="475.49" y1="159.97" x2="479.06" y2="161.70" stroke="#fff" stroke-width="0.68" opacity="0.64"/>
<line x1="440.56" y1="171.86" x2="444.13" y2="172.78" stroke="#fff" stroke-width="0.78" opacity="0.71"/>
<line x1="463.79" y1="157.22" x2="465.91" y2="157.61" stroke="#fff" stroke-width="0.59" opacity="0.75"/>
<line x1="447.18" y1="153.44" x2="445.94" y2="155.26" stroke="#fff" stroke-width="0.78" opacity="0.76"/>
<line x1="450.49" y1="150.50" x2="450.35" y2="152.00" stroke="#fff" stroke-width="0.74" opacity="0.74"/>
<line x1="441.43" y1="151.37" x2="441.83" y2="153.02" stroke="#fff" stroke-width="0.77" opacity="0.51"/>
<line x1="473.92" y1="179.03" x2="476.78" y2="181.13" stroke="#fff" stroke-width="0.77" opacity="0.77"/>
<line x1="480.34" y1="128.96" x2="481.26" y2="130.16" stroke="#fff" stroke-width="0.61" opacity="0.57"/>
<line x1="442.28" y1="162.35" x2="441.03" y2="165.26" stroke="#fff" stroke-width="0.60" opacity="0.62"/>
<line x1="467.37" y1="131.82" x2="469.73" y2="132.89" stroke="#fff" stroke-width="0.44" opacity="0.70"/>
<line x1="452.02" y1="146.39" x2="451.43" y2="148.50" stroke="#fff" stroke-width="0.45" opacity="0.66"/>
<line x1="441.36" y1="179.03" x2="439.95" y2="180.29" stroke="#fff" stroke-width="0.62" opacity="0.57"/>
<line x1="451.18" y1="147.44" x2="450.92" y2="150.83" stroke="#fff" stroke-width="0.61" opacity="0.50"/>
<line x1="464.64" y1="137.44" x2="463.41" y2="139.85" stroke="#fff" stroke-width="0.62" opacity="0.63"/>
<line x1="462.35" y1="138.68" x2="460.22" y2="141.94" stroke="#fff" stroke-width="0.69" opacity="0.78"/>
<line x1="457.37" y1="146.03" x2="458.60" y2="147.93" stroke="#fff" stroke-width="0.52" opacity="0.53"/>
<line x1="447.18" y1="154.05" x2="448.08" y2="156.09" stroke="#fff" stroke-width="0.67" opacity="0.53"/>
<line x1="474.66" y1="170.67" x2="472.65" y2="171.82" stroke="#fff" stroke-width="0.47" opacity="0.44"/>
<line x1="480.18" y1="130.15" x2="478.80" y2="130.76" stroke="#fff" stroke-width="0.40" opacity="0.66"/>
<line x1="461.74" y1="140.21" x2="459.64" y2="140.43" stroke="#fff" stroke-width="0.56" opacity="0.50"/>
<line x1="456.94" y1="167.21" x2="459.08" y2="167.82" stroke="#fff" stroke-width="0.72" opacity="0.44"/>
<line x1="440.73" y1="128.65" x2="441.55" y2="132.55" stroke="#fff" stroke-width="0.69" opacity="0.62"/>
<line x1="479.34" y1="146.59" x2="478.06" y2="148.58" stroke="#fff" stroke-width="0.40" opacity="0.55"/>
<line x1="470.29" y1="158.76" x2="467.62" y2="159.30" stroke="#fff" stroke-width="0.57" opacity="0.69"/>
<line x1="454.88" y1="132.98" x2="456.83" y2="134.50" stroke="#fff" stroke-width="0.41" opacity="0.51"/>
<line x1="443.70" y1="152.60" x2="441.28" y2="154.91" stroke="#fff" stroke-width="0.75" opacity="0.53"/>
<line x1="466.52" y1="175.52" x2="464.12" y2="176.20" stroke="#fff" stroke-width="0.44" opacity="0.77"/>
<line x1="475.41" y1="180.34" x2="473.21" y2="183.16" stroke="#fff" stroke-width="0.57" opacity="0.69"/>
<line x1="475.30" y1="158.92" x2="472.33" y2="159.64" stroke="#fff" stroke-width="0.51" opacity="0.53"/>
<line x1="439.89" y1="174.92" x2="438.31" y2="177.56" stroke="#fff" stroke-width="0.50" opacity="0.47"/>
<line x1="458.51" y1="174.88" x2="459.09" y2="177.20" stroke="#fff" stroke-width="0.57" opacity="0.74"/>
<line x1="443.60" y1="174.28" x2="442.71" y2="175.52" stroke="#fff" stroke-width="0.71" opacity="0.59"/>
<line x1="469.56" y1="143.27" x2="470.35" y2="144.94" stroke="#fff" stroke-width="0.51" opacity="0.69"/>
<line x1="462.09" y1="163.42" x2="459.12" y2="166.00" stroke="#fff" stroke-width="0.72" opacity="0.79"/>
<line x1="477.41" y1="167.71" x2="477.35" y2="170.07" stroke="#fff" stroke-width="0.70" opacity="0.71"/>
<line x1="476.19" y1="167.75" x2="478.41" y2="170.02" stroke="#fff" stroke-width="0.65" opacity="0.47"/>
<line x1="465.57" y1="137.73" x2="464.04" y2="137.95" stroke="#fff" stroke-width="0.75" opacity="0.52"/>
<line x1="440.29" y1="171.79" x2="443.32" y2="173.39" stroke="#fff" stroke-width="0.73" opacity="0.74"/>
<line x1="462.52" y1="142.92" x2="464.13" y2="143.24" stroke="#fff" stroke-width="0.58" opacity="0.69"/>
<line x1="465.21" y1="140.31" x2="468.63" y2="141.00" stroke="#fff" stroke-width="0.65" opacity="0.47"/>
<line x1="438.63" y1="138.66" x2="441.32" y2="140.88" stroke="#fff" stroke-width="0.41" opacity="0.59"/>
<line x1="453.06" y1="158.82" x2="451.27" y2="161.16" stroke="#fff" stroke-width="0.77" opacity="0.54"/>
<line x1="465.07" y1="134.68" x2="467.10" y2="135.32" stroke="#fff" stroke-width="0.74" opacity="0.54"/>
<line x1="468.24" y1="174.90" x2="470.20" y2="176.38" stroke="#fff" stroke-width="0.50" opacity="0.60"/>
<line x1="454.67" y1="132.11" x2="453.13" y2="135.40" stroke="#fff" stroke-width="0.75" opacity="0.74"/>
<line x1="468.87" y1="172.07" x2="469.60" y2="175.25" stroke="#fff" stroke-width="0.73" opacity="0.77"/>
<line x1="442.92" y1="136.05" x2="443.18" y2="137.95" stroke="#fff" stroke-width="0.75" opacity="0.61"/>
<line x1="474.32" y1="147.82" x2="476.40" y2="149.86" stroke="#fff" stroke-width="0.66" opacity="0.51"/>
<line x1="443.59" y1="138.56" x2="440.27" y2="136.94" stroke="#fff" stroke-width="0.96" opacity="0.82"/>
<line x1="447.34" y1="147.31" x2="451.42" y2="149.84" stroke="#fff" stroke-width="0.70" opacity="0.72"/>
<line x1="459.67" y1="143.50" x2="461.97" y2="144.64" stroke="#fff" stroke-width="0.54" opacity="0.62"/>
<line x1="445.42" y1="140.00" x2="443.13" y2="139.92" stroke="#fff" stroke-width="0.91" opacity="0.81"/>
<line x1="448.09" y1="148.06" x2="451.69" y2="147.04" stroke="#fff" stroke-width="0.50" opacity="0.66"/>
<line x1="458.37" y1="133.14" x2="461.48" y2="134.69" stroke="#fff" stroke-width="0.85" opacity="0.58"/>
<line x1="467.79" y1="151.57" x2="470.16" y2="152.35" stroke="#fff" stroke-width="0.52" opacity="0.58"/>
<line x1="461.62" y1="140.10" x2="458.39" y2="141.65" stroke="#fff" stroke-width="0.68" opacity="0.71"/>
<line x1="463.91" y1="139.73" x2="466.53" y2="141.15" stroke="#fff" stroke-width="0.88" opacity="0.82"/>
<line x1="455.52" y1="135.38" x2="457.81" y2="135.82" stroke="#fff" stroke-width="0.95" opacity="0.87"/>
<line x1="455.99" y1="140.64" x2="460.29" y2="138.31" stroke="#fff" stroke-width="0.77" opacity="0.74"/>
<line x1="458.68" y1="133.04" x2="461.94" y2="131.71" stroke="#fff" stroke-width="0.59" opacity="0.63"/>
<line x1="459.07" y1="138.57" x2="461.57" y2="138.48" stroke="#fff" stroke-width="0.65" opacity="0.61"/>
<line x1="454.30" y1="145.40" x2="452.24" y2="144.97" stroke="#fff" stroke-width="0.94" opacity="0.58"/>
<line x1="464.01" y1="130.18" x2="467.34" y2="129.18" stroke="#fff" stroke-width="0.89" opacity="0.55"/>
<line x1="444.69" y1="146.20" x2="447.91" y2="145.70" stroke="#fff" stroke-width="0.68" opacity="0.73"/>
<line x1="453.11" y1="132.36" x2="455.95" y2="134.25" stroke="#fff" stroke-width="0.86" opacity="0.87"/>
<line x1="454.52" y1="137.73" x2="458.41" y2="135.72" stroke="#fff" stroke-width="0.57" opacity="0.75"/>
<line x1="456.25" y1="147.15" x2="458.39" y2="147.60" stroke="#fff" stroke-width="0.52" opacity="0.77"/>
<line x1="450.40" y1="146.52" x2="454.48" y2="143.75" stroke="#fff" stroke-width="0.75" opacity="0.89"/>
<line x1="466.50" y1="130.06" x2="468.90" y2="129.79" stroke="#fff" stroke-width="0.89" opacity="0.72"/>
<line x1="466.43" y1="148.27" x2="461.86" y2="147.53" stroke="#fff" stroke-width="0.87" opacity="0.79"/>
<line x1="466.60" y1="133.33" x2="464.57" y2="133.73" stroke="#fff" stroke-width="0.69" opacity="0.52"/>
<line x1="458.66" y1="139.23" x2="461.15" y2="137.94" stroke="#fff" stroke-width="0.55" opacity="0.84"/>
<line x1="450.32" y1="150.05" x2="452.67" y2="149.74" stroke="#fff" stroke-width="0.76" opacity="0.68"/>
<line x1="465.42" y1="133.17" x2="460.87" y2="133.10" stroke="#fff" stroke-width="0.67" opacity="0.61"/>
<line x1="459.21" y1="139.54" x2="462.71" y2="140.17" stroke="#fff" stroke-width="0.85" opacity="0.62"/>
<line x1="460.04" y1="145.32" x2="464.72" y2="144.68" stroke="#fff" stroke-width="0.88" opacity="0.63"/>
<line x1="451.55" y1="143.68" x2="454.41" y2="144.95" stroke="#fff" stroke-width="0.61" opacity="0.74"/>
<line x1="458.36" y1="152.18" x2="463.17" y2="151.72" stroke="#fff" stroke-width="0.83" opacity="0.70"/>
<line x1="458.09" y1="138.63" x2="462.17" y2="140.71" stroke="#fff" stroke-width="0.87" opacity="0.86"/>
<line x1="449.79" y1="151.06" x2="452.11" y2="149.86" stroke="#fff" stroke-width="0.58" opacity="0.60"/>
<line x1="458.55" y1="132.82" x2="461.70" y2="132.31" stroke="#fff" stroke-width="0.54" opacity="0.70"/>
<line x1="455.10" y1="133.13" x2="458.10" y2="132.63" stroke="#fff" stroke-width="0.78" opacity="0.72"/>
<line x1="455.05" y1="139.53" x2="451.23" y2="139.61" stroke="#fff" stroke-width="0.83" opacity="0.66"/>
<line x1="464.72" y1="132.44" x2="468.25" y2="131.57" stroke="#fff" stroke-width="0.91" opacity="0.76"/>
<line x1="457.69" y1="150.82" x2="459.91" y2="152.33" stroke="#fff" stroke-width="0.82" opacity="0.55"/>
<line x1="444.15" y1="133.06" x2="447.61" y2="131.95" stroke="#fff" stroke-width="0.58" opacity="0.77"/>
<line x1="465.90" y1="145.34" x2="470.32" y2="147.14" stroke="#fff" stroke-width="0.52" opacity="0.70"/>
<line x1="450.88" y1="139.49" x2="446.85" y2="138.35" stroke="#fff" stroke-width="0.59" opacity="0.53"/>
<line x1="461.89" y1="148.32" x2="459.83" y2="149.29" stroke="#fff" stroke-width="1.00" opacity="0.53"/>
<line x1="457.79" y1="149.55" x2="460.25" y2="150.10" stroke="#fff" stroke-width="0.82" opacity="0.69"/>
<line x1="447.13" y1="150.04" x2="450.06" y2="151.95" stroke="#fff" stroke-width="0.98" opacity="0.76"/>
<line x1="444.84" y1="129.51" x2="449.72" y2="130.49" stroke="#fff" stroke-width="0.92" opacity="0.64"/>
<line x1="461.03" y1="144.29" x2="463.21" y2="144.39" stroke="#fff" stroke-width="0.78" opacity="0.81"/>
<ellipse cx="438.40" cy="152.80" rx="4.3" ry="1.2" fill="#d42020" opacity="1" filter="url(#b05)" transform="rotate(-50 438.40 152.80)"/>
<ellipse cx="445.70" cy="146.00" rx="3.9" ry="1.9" fill="#e09020" opacity="1" filter="url(#b05)" transform="rotate(10 445.70 146.00)"/>
<linearGradient id="cb3785" x1="0" y1="1" x2="0" y2="0"><stop offset="0" stop-color="#10108a"/><stop offset="0.12" stop-color="#1a30d0"/><stop offset="0.35" stop-color="#30a0e0"/><stop offset="0.5" stop-color="#60d0a0"/><stop offset="0.62" stop-color="#d0e040"/><stop offset="0.8" stop-color="#f07020"/><stop offset="0.92" stop-color="#d01818"/><stop offset="1" stop-color="#900010"/></linearGradient>
<rect x="376.20" y="23.30" width="2.30" height="72.90" fill="url(#cb3785)" stroke="none" stroke-width="1" />
<text x="381.20" y="25.10" font-size="5" text-anchor="start" font-weight="normal" fill="#333" >19.4</text>
<text x="381.20" y="43.33" font-size="5" text-anchor="start" font-weight="normal" fill="#333" >11.2</text>
<text x="381.20" y="61.55" font-size="5" text-anchor="start" font-weight="normal" fill="#333" >6.1</text>
<text x="381.20" y="79.78" font-size="5" text-anchor="start" font-weight="normal" fill="#333" >2.7</text>
<text x="381.20" y="98.00" font-size="5" text-anchor="start" font-weight="normal" fill="#333" >0</text>
<text x="0" y="0" font-size="7.3" font-weight="bold" stroke="#333" stroke-width="0.1" text-anchor="middle" fill="#333" textLength="12" lengthAdjust="spacingAndGlyphs" transform="translate(395.4,60.1) rotate(90)">CD25</text>
<linearGradient id="cb4949" x1="0" y1="1" x2="0" y2="0"><stop offset="0" stop-color="#101070"/><stop offset="0.2" stop-color="#2040c0"/><stop offset="0.4" stop-color="#40b0d0"/><stop offset="0.55" stop-color="#a0d090"/><stop offset="0.7" stop-color="#e0c040"/><stop offset="0.85" stop-color="#c03020"/><stop offset="1" stop-color="#800010"/></linearGradient>
<rect x="492.60" y="23.30" width="2.30" height="73.20" fill="url(#cb4949)" stroke="none" stroke-width="1" />
<text x="497.60" y="25.10" font-size="5" text-anchor="start" font-weight="normal" fill="#333" >20</text>
<text x="497.60" y="43.40" font-size="5" text-anchor="start" font-weight="normal" fill="#333" >12</text>
<text x="497.60" y="61.70" font-size="5" text-anchor="start" font-weight="normal" fill="#333" >6</text>
<text x="497.60" y="80.00" font-size="5" text-anchor="start" font-weight="normal" fill="#333" >3</text>
<text x="497.60" y="98.30" font-size="5" text-anchor="start" font-weight="normal" fill="#333" >0</text>
<text x="0" y="0" font-size="7.3" font-weight="bold" stroke="#333" stroke-width="0.1" text-anchor="middle" fill="#333" textLength="14" lengthAdjust="spacingAndGlyphs" transform="translate(508.2,60) rotate(90)">FOXP3</text>
<linearGradient id="cb3882" x1="0" y1="1" x2="0" y2="0"><stop offset="0" stop-color="#10108a"/><stop offset="0.12" stop-color="#1a30d0"/><stop offset="0.35" stop-color="#30a0e0"/><stop offset="0.5" stop-color="#60d0a0"/><stop offset="0.62" stop-color="#d0e040"/><stop offset="0.8" stop-color="#f07020"/><stop offset="0.92" stop-color="#d01818"/><stop offset="1" stop-color="#900010"/></linearGradient>
<rect x="376.40" y="118.40" width="2.30" height="72.70" fill="url(#cb3882)" stroke="none" stroke-width="1" />
<text x="381.40" y="120.20" font-size="5" text-anchor="start" font-weight="normal" fill="#333" >230</text>
<text x="381.40" y="138.38" font-size="5" text-anchor="start" font-weight="normal" fill="#333" >74</text>
<text x="381.40" y="156.55" font-size="5" text-anchor="start" font-weight="normal" fill="#333" >24</text>
<text x="381.40" y="174.73" font-size="5" text-anchor="start" font-weight="normal" fill="#333" >7</text>
<text x="381.40" y="192.90" font-size="5" text-anchor="start" font-weight="normal" fill="#333" >0</text>
<text x="0" y="0" font-size="7.3" font-weight="bold" stroke="#333" stroke-width="0.1" text-anchor="middle" fill="#333" textLength="14" lengthAdjust="spacingAndGlyphs" transform="translate(395.4,155) rotate(90)">CD127</text>
<text x="0" y="0" font-size="5.6" font-weight="bold" fill="#333" transform="translate(500.2,149.4) rotate(90)">T<tspan font-size="3.6" dy="1.8">REG</tspan></text>
<text x="7.00" y="223.60" font-size="10.5" text-anchor="start" font-weight="bold" fill="#111" >C</text>
<line x1="44.90" y1="226.20" x2="44.90" y2="338.20" stroke="#2e2e2e" stroke-width="1.6" />
<line x1="42.30" y1="227.85" x2="44.90" y2="227.85" stroke="#2e2e2e" stroke-width="0.9" />
<text x="39.40" y="230.45" font-size="7.4" text-anchor="end" font-weight="normal" fill="#222" >30</text>
<line x1="42.30" y1="249.80" x2="44.90" y2="249.80" stroke="#2e2e2e" stroke-width="0.9" />
<text x="39.40" y="252.40" font-size="7.4" text-anchor="end" font-weight="normal" fill="#222" >25</text>
<line x1="42.30" y1="271.75" x2="44.90" y2="271.75" stroke="#2e2e2e" stroke-width="0.9" />
<text x="39.40" y="274.35" font-size="7.4" text-anchor="end" font-weight="normal" fill="#222" >20</text>
<line x1="42.30" y1="293.70" x2="44.90" y2="293.70" stroke="#2e2e2e" stroke-width="0.9" />
<text x="39.40" y="296.30" font-size="7.4" text-anchor="end" font-weight="normal" fill="#222" >15</text>
<line x1="42.30" y1="315.65" x2="44.90" y2="315.65" stroke="#2e2e2e" stroke-width="0.9" />
<text x="39.40" y="318.25" font-size="7.4" text-anchor="end" font-weight="normal" fill="#222" >10</text>
<line x1="42.30" y1="337.60" x2="44.90" y2="337.60" stroke="#2e2e2e" stroke-width="0.9" />
<text x="39.40" y="340.20" font-size="7.4" text-anchor="end" font-weight="normal" fill="#222" >5</text>
<line x1="43.40" y1="337.60" x2="46.40" y2="337.60" stroke="#2e2e2e" stroke-width="1" />
<line x1="44.90" y1="345.00" x2="44.90" y2="428.30" stroke="#2e2e2e" stroke-width="1.6" />
<line x1="42.30" y1="345.60" x2="44.90" y2="345.60" stroke="#2e2e2e" stroke-width="0.9" />
<text x="39.40" y="348.20" font-size="7.4" text-anchor="end" font-weight="normal" fill="#222" >5</text>
<line x1="42.30" y1="362.00" x2="44.90" y2="362.00" stroke="#2e2e2e" stroke-width="0.9" />
<text x="39.40" y="364.60" font-size="7.4" text-anchor="end" font-weight="normal" fill="#222" >4</text>
<line x1="42.30" y1="378.40" x2="44.90" y2="378.40" stroke="#2e2e2e" stroke-width="0.9" />
<text x="39.40" y="381.00" font-size="7.4" text-anchor="end" font-weight="normal" fill="#222" >3</text>
<line x1="42.30" y1="394.80" x2="44.90" y2="394.80" stroke="#2e2e2e" stroke-width="0.9" />
<text x="39.40" y="397.40" font-size="7.4" text-anchor="end" font-weight="normal" fill="#222" >2</text>
<line x1="42.30" y1="411.20" x2="44.90" y2="411.20" stroke="#2e2e2e" stroke-width="0.9" />
<text x="39.40" y="413.80" font-size="7.4" text-anchor="end" font-weight="normal" fill="#222" >1</text>
<line x1="42.30" y1="427.60" x2="44.90" y2="427.60" stroke="#2e2e2e" stroke-width="0.9" />
<text x="39.40" y="430.20" font-size="7.4" text-anchor="end" font-weight="normal" fill="#222" >0</text>
<line x1="43.40" y1="345.60" x2="46.40" y2="345.60" stroke="#2e2e2e" stroke-width="1" />
<line x1="44.10" y1="427.60" x2="264.50" y2="427.60" stroke="#2e2e2e" stroke-width="1.5" />
<text x="0" y="0" font-size="7.6" font-weight="bold" fill="#333" text-anchor="middle" textLength="28" lengthAdjust="spacingAndGlyphs" transform="translate(23.4,325) rotate(-90)">% of CD4</text>
<text x="24.9" y="311.4" font-size="4" fill="#333" text-anchor="middle">+</text>
<line x1="65.50" y1="427.60" x2="65.50" y2="430.20" stroke="#2e2e2e" stroke-width="0.9" />
<text x="66.0" y="441" font-size="8.2" fill="#222" text-anchor="middle">T<tspan font-size="4" dy="1.3">H</tspan><tspan dy="-1.3">1</tspan></text>
<line x1="110.00" y1="427.60" x2="110.00" y2="430.20" stroke="#2e2e2e" stroke-width="0.9" />
<text x="110.5" y="441" font-size="8.2" fill="#222" text-anchor="middle">T<tspan font-size="4" dy="1.3">H</tspan><tspan dy="-1.3">2</tspan></text>
<line x1="154.50" y1="427.60" x2="154.50" y2="430.20" stroke="#2e2e2e" stroke-width="0.9" />
<text x="155.0" y="441" font-size="8.2" fill="#222" text-anchor="middle">T<tspan font-size="4" dy="1.3">H</tspan><tspan dy="-1.3">17</tspan></text>
<line x1="198.50" y1="427.60" x2="198.50" y2="430.20" stroke="#2e2e2e" stroke-width="0.9" />
<text x="199.0" y="441" font-size="8.2" fill="#222" text-anchor="middle">T<tspan font-size="4" dy="1.3">H</tspan><tspan dy="-1.3">17.1</tspan></text>
<line x1="243.30" y1="427.60" x2="243.30" y2="430.20" stroke="#2e2e2e" stroke-width="0.9" />
<text x="243.8" y="441" font-size="8.2" fill="#222" text-anchor="middle">T<tspan font-size="4" dy="1.3">Regs</tspan><tspan dy="-1.3"></tspan></text>
<rect x="227.90" y="228.20" width="8.70" height="4.10" fill="#1f5a96" stroke="none" stroke-width="1" />
<text x="239.40" y="233.30" font-size="7.6" text-anchor="start" font-weight="normal" fill="#222" >Healthy</text>
<rect x="227.90" y="239.50" width="8.70" height="4.10" fill="#c8143c" stroke="none" stroke-width="1" />
<text x="239.40" y="243.90" font-size="7.6" text-anchor="start" font-weight="normal" fill="#222" >TBD</text>
<line x1="57.95" y1="250.50" x2="57.95" y2="258.40" stroke="#333c48" stroke-width="0.9" />
<line x1="54.70" y1="250.50" x2="61.20" y2="250.50" stroke="#333c48" stroke-width="1.1" />
<line x1="57.95" y1="321.50" x2="57.95" y2="328.50" stroke="#333c48" stroke-width="0.9" />
<line x1="54.70" y1="328.50" x2="61.20" y2="328.50" stroke="#333c48" stroke-width="1.1" />
<rect x="51.50" y="258.40" width="12.90" height="63.10" fill="#a9c2d8" stroke="none" stroke-width="1" />
<line x1="51.50" y1="288.30" x2="64.40" y2="288.30" stroke="#2a3a4e" stroke-width="1.3" />
<circle cx="57.80" cy="256.90" r="1.1" fill="#1d3f6e" />
<circle cx="57.80" cy="264.10" r="1.1" fill="#1d3f6e" />
<circle cx="57.80" cy="277.50" r="1.1" fill="#1d3f6e" />
<circle cx="57.80" cy="299.90" r="1.1" fill="#1d3f6e" />
<circle cx="57.80" cy="314.60" r="1.1" fill="#1d3f6e" />
<circle cx="57.80" cy="315.30" r="1.1" fill="#1d3f6e" />
<circle cx="57.80" cy="324.00" r="1.1" fill="#1d3f6e" />
<path d="M57.2,242.6 L57.2,239.6 L69.8,239.6 L69.8,242.6" fill="none" stroke="#333" stroke-width="0.9"/>
<text x="63.50" y="239.00" font-size="7.5" text-anchor="middle" font-weight="normal" fill="#222" >*</text>
<line x1="73.55" y1="254.30" x2="73.55" y2="309.00" stroke="#3e3036" stroke-width="0.9" />
<line x1="70.15" y1="254.30" x2="76.95" y2="254.30" stroke="#3e3036" stroke-width="1.1" />
<rect x="67.10" y="309.00" width="12.90" height="28.60" fill="#eba3b3" stroke="none" stroke-width="1" />
<line x1="67.10" y1="317.30" x2="80.00" y2="317.30" stroke="#5a2632" stroke-width="1.3" />
<circle cx="73.90" cy="291.50" r="1.1" fill="#a8143a" />
<circle cx="73.90" cy="301.30" r="1.1" fill="#a8143a" />
<circle cx="72.00" cy="307.60" r="1.1" fill="#a8143a" />
<circle cx="75.60" cy="308.00" r="1.1" fill="#a8143a" />
<circle cx="69.80" cy="314.70" r="1.1" fill="#a8143a" />
<circle cx="73.90" cy="314.70" r="1.1" fill="#a8143a" />
<circle cx="78.00" cy="314.70" r="1.1" fill="#a8143a" />
<circle cx="73.90" cy="312.00" r="1.1" fill="#a8143a" />
<circle cx="73.90" cy="319.00" r="1.1" fill="#a8143a" />
<circle cx="73.90" cy="331.60" r="1.1" fill="#a8143a" />
<circle cx="73.90" cy="337.00" r="1.1" fill="#a8143a" />
<line x1="73.65" y1="355.80" x2="73.65" y2="384.40" stroke="#3e3036" stroke-width="0.9" />
<line x1="70.20" y1="384.40" x2="77.10" y2="384.40" stroke="#3e3036" stroke-width="1.1" />
<rect x="67.20" y="345.60" width="12.90" height="10.20" fill="#eba3b3" stroke="none" stroke-width="1" />
<circle cx="72.10" cy="353.40" r="1.1" fill="#a8143a" />
<circle cx="76.10" cy="354.00" r="1.1" fill="#a8143a" />
<circle cx="73.40" cy="356.70" r="1.1" fill="#a8143a" />
<circle cx="73.40" cy="363.80" r="1.1" fill="#a8143a" />
<circle cx="73.40" cy="366.70" r="1.1" fill="#a8143a" />
<circle cx="73.40" cy="374.80" r="1.1" fill="#a8143a" />
<line x1="102.40" y1="297.50" x2="102.40" y2="305.00" stroke="#333c48" stroke-width="0.9" />
<line x1="99.25" y1="297.50" x2="105.55" y2="297.50" stroke="#333c48" stroke-width="1.1" />
<line x1="102.40" y1="320.60" x2="102.40" y2="324.60" stroke="#333c48" stroke-width="0.9" />
<line x1="99.25" y1="324.60" x2="105.55" y2="324.60" stroke="#333c48" stroke-width="1.1" />
<rect x="96.00" y="305.00" width="12.80" height="15.60" fill="#a9c2d8" stroke="none" stroke-width="1" />
<line x1="96.00" y1="311.20" x2="108.80" y2="311.20" stroke="#2a3a4e" stroke-width="1.3" />
<circle cx="100.50" cy="305.00" r="1.1" fill="#1d3f6e" />
<circle cx="104.50" cy="305.80" r="1.1" fill="#1d3f6e" />
<circle cx="99.50" cy="311.20" r="1.1" fill="#1d3f6e" />
<circle cx="105.00" cy="311.20" r="1.1" fill="#1d3f6e" />
<circle cx="102.30" cy="316.90" r="1.1" fill="#1d3f6e" />
<circle cx="102.30" cy="322.00" r="1.1" fill="#1d3f6e" />
<line x1="118.45" y1="258.80" x2="118.45" y2="286.30" stroke="#3e3036" stroke-width="0.9" />
<line x1="115.30" y1="258.80" x2="121.60" y2="258.80" stroke="#3e3036" stroke-width="1.1" />
<rect x="112.00" y="286.30" width="12.90" height="51.30" fill="#eba3b3" stroke="none" stroke-width="1" />
<line x1="112.00" y1="316.10" x2="124.90" y2="316.10" stroke="#5a2632" stroke-width="1.3" />
<circle cx="118.30" cy="269.00" r="1.1" fill="#a8143a" />
<circle cx="118.30" cy="272.50" r="1.1" fill="#a8143a" />
<circle cx="118.30" cy="284.60" r="1.1" fill="#a8143a" />
<circle cx="114.00" cy="282.60" r="1.1" fill="#a8143a" />
<circle cx="118.00" cy="291.50" r="1.1" fill="#a8143a" />
<circle cx="118.00" cy="300.80" r="1.1" fill="#a8143a" />
<circle cx="122.00" cy="300.50" r="1.1" fill="#a8143a" />
<circle cx="118.00" cy="304.00" r="1.1" fill="#a8143a" />
<circle cx="118.00" cy="314.00" r="1.1" fill="#a8143a" />
<circle cx="118.00" cy="318.00" r="1.1" fill="#a8143a" />
<circle cx="114.00" cy="320.60" r="1.1" fill="#a8143a" />
<circle cx="118.00" cy="322.60" r="1.1" fill="#a8143a" />
<circle cx="122.00" cy="321.60" r="1.1" fill="#a8143a" />
<circle cx="118.00" cy="326.60" r="1.1" fill="#a8143a" />
<circle cx="118.00" cy="332.50" r="1.1" fill="#a8143a" />
<circle cx="114.00" cy="334.80" r="1.1" fill="#a8143a" />
<circle cx="122.00" cy="334.80" r="1.1" fill="#a8143a" />
<circle cx="118.00" cy="337.50" r="1.1" fill="#a8143a" />
<line x1="118.40" y1="345.60" x2="118.40" y2="358.00" stroke="#3e3036" stroke-width="0.9" />
<line x1="115.00" y1="358.00" x2="121.80" y2="358.00" stroke="#3e3036" stroke-width="1.1" />
<path d="M146.1,393.9 L146.1,391.1 L162.8,391.1 L162.8,393.9" fill="none" stroke="#333" stroke-width="0.9"/>
<text x="154.80" y="390.60" font-size="7.5" text-anchor="middle" font-weight="normal" fill="#222" >*</text>
<line x1="147.10" y1="400.00" x2="147.10" y2="414.30" stroke="#333c48" stroke-width="0.9" />
<line x1="144.00" y1="400.00" x2="150.20" y2="400.00" stroke="#333c48" stroke-width="1.1" />
<rect x="140.80" y="414.30" width="12.60" height="10.80" fill="#a9c2d8" stroke="none" stroke-width="1" />
<line x1="140.80" y1="418.40" x2="153.40" y2="418.40" stroke="#2a3a4e" stroke-width="1.3" />
<circle cx="147.00" cy="415.00" r="1.1" fill="#1d3f6e" />
<circle cx="145.50" cy="418.40" r="1.1" fill="#1d3f6e" />
<circle cx="148.50" cy="418.40" r="1.1" fill="#1d3f6e" />
<circle cx="147.00" cy="421.00" r="1.1" fill="#1d3f6e" />
<circle cx="146.00" cy="425.00" r="1.1" fill="#1d3f6e" />
<circle cx="148.00" cy="425.50" r="1.1" fill="#1d3f6e" />
<circle cx="144.00" cy="416.00" r="1.1" fill="#1d3f6e" />
<line x1="162.30" y1="416.20" x2="162.30" y2="424.00" stroke="#3e3036" stroke-width="0.9" />
<line x1="159.00" y1="416.20" x2="165.60" y2="416.20" stroke="#3e3036" stroke-width="1.1" />
<rect x="156.20" y="424.00" width="12.20" height="3.00" fill="#eba3b3" stroke="none" stroke-width="1" />
<line x1="156.20" y1="426.00" x2="168.40" y2="426.00" stroke="#5a2632" stroke-width="1.3" />
<circle cx="162.30" cy="419.00" r="1.1" fill="#a8143a" />
<circle cx="160.00" cy="423.00" r="1.1" fill="#a8143a" />
<circle cx="164.00" cy="423.50" r="1.1" fill="#a8143a" />
<circle cx="158.00" cy="425.50" r="1.1" fill="#a8143a" />
<circle cx="161.00" cy="426.00" r="1.1" fill="#a8143a" />
<circle cx="164.00" cy="426.00" r="1.1" fill="#a8143a" />
<circle cx="167.00" cy="425.50" r="1.1" fill="#a8143a" />
<circle cx="162.00" cy="424.50" r="1.1" fill="#a8143a" />
<circle cx="159.50" cy="426.80" r="1.1" fill="#a8143a" />
<circle cx="165.50" cy="426.80" r="1.1" fill="#a8143a" />
<path d="M189.5,388.2 L189.5,385.8 L207.5,385.8 L207.5,388.2" fill="none" stroke="#333" stroke-width="0.9"/>
<text x="198.70" y="385.20" font-size="7.5" text-anchor="middle" font-weight="normal" fill="#222" >**</text>
<line x1="191.35" y1="394.30" x2="191.35" y2="400.00" stroke="#333c48" stroke-width="0.9" />
<line x1="188.15" y1="394.30" x2="194.55" y2="394.30" stroke="#333c48" stroke-width="1.1" />
<rect x="184.60" y="400.00" width="13.50" height="24.50" fill="#a9c2d8" stroke="none" stroke-width="1" />
<line x1="184.60" y1="415.40" x2="198.10" y2="415.40" stroke="#2a3a4e" stroke-width="1.3" />
<circle cx="191.30" cy="397.30" r="1.1" fill="#1d3f6e" />
<circle cx="191.30" cy="407.00" r="1.1" fill="#1d3f6e" />
<circle cx="188.50" cy="415.40" r="1.1" fill="#1d3f6e" />
<circle cx="191.30" cy="423.30" r="1.1" fill="#1d3f6e" />
<circle cx="193.50" cy="424.00" r="1.1" fill="#1d3f6e" />
<line x1="207.15" y1="416.60" x2="207.15" y2="425.00" stroke="#3e3036" stroke-width="0.9" />
<line x1="204.10" y1="416.60" x2="210.20" y2="416.60" stroke="#3e3036" stroke-width="1.1" />
<rect x="200.70" y="425.00" width="12.90" height="2.30" fill="#eba3b3" stroke="none" stroke-width="1" />
<circle cx="206.90" cy="421.00" r="1.1" fill="#a8143a" />
<circle cx="203.00" cy="426.00" r="1.1" fill="#a8143a" />
<circle cx="206.00" cy="426.50" r="1.1" fill="#a8143a" />
<circle cx="209.00" cy="426.00" r="1.1" fill="#a8143a" />
<circle cx="212.00" cy="426.30" r="1.1" fill="#a8143a" />
<circle cx="201.50" cy="426.80" r="1.1" fill="#a8143a" />
<circle cx="207.00" cy="424.50" r="1.1" fill="#a8143a" />
<line x1="235.60" y1="398.50" x2="235.60" y2="405.40" stroke="#333c48" stroke-width="0.9" />
<line x1="232.40" y1="398.50" x2="238.80" y2="398.50" stroke="#333c48" stroke-width="1.1" />
<line x1="235.60" y1="413.70" x2="235.60" y2="417.20" stroke="#333c48" stroke-width="0.9" />
<line x1="232.40" y1="417.20" x2="238.80" y2="417.20" stroke="#333c48" stroke-width="1.1" />
<rect x="229.20" y="405.40" width="12.80" height="8.30" fill="#a9c2d8" stroke="none" stroke-width="1" />
<line x1="229.20" y1="408.40" x2="242.00" y2="408.40" stroke="#2a3a4e" stroke-width="1.3" />
<circle cx="235.60" cy="402.00" r="1.1" fill="#1d3f6e" />
<circle cx="233.00" cy="405.50" r="1.1" fill="#1d3f6e" />
<circle cx="238.00" cy="405.50" r="1.1" fill="#1d3f6e" />
<circle cx="232.00" cy="408.40" r="1.1" fill="#1d3f6e" />
<circle cx="235.60" cy="408.40" r="1.1" fill="#1d3f6e" />
<circle cx="239.00" cy="408.40" r="1.1" fill="#1d3f6e" />
<circle cx="235.60" cy="411.00" r="1.1" fill="#1d3f6e" />
<circle cx="233.50" cy="413.50" r="1.1" fill="#1d3f6e" />
<circle cx="237.00" cy="413.80" r="1.1" fill="#1d3f6e" />
<circle cx="235.60" cy="415.50" r="1.1" fill="#1d3f6e" />
<line x1="251.40" y1="367.20" x2="251.40" y2="396.00" stroke="#3e3036" stroke-width="0.9" />
<line x1="248.20" y1="367.20" x2="254.60" y2="367.20" stroke="#3e3036" stroke-width="1.1" />
<line x1="251.40" y1="414.50" x2="251.40" y2="420.60" stroke="#3e3036" stroke-width="0.9" />
<line x1="248.20" y1="420.60" x2="254.60" y2="420.60" stroke="#3e3036" stroke-width="1.1" />
<rect x="245.20" y="396.00" width="12.40" height="18.50" fill="#eba3b3" stroke="none" stroke-width="1" />
<line x1="245.20" y1="409.70" x2="257.60" y2="409.70" stroke="#5a2632" stroke-width="1.3" />
<circle cx="250.80" cy="372.80" r="1.1" fill="#a8143a" />
<circle cx="249.20" cy="383.70" r="1.1" fill="#a8143a" />
<circle cx="253.30" cy="384.50" r="1.1" fill="#a8143a" />
<circle cx="253.30" cy="395.60" r="1.1" fill="#a8143a" />
<circle cx="249.50" cy="397.50" r="1.1" fill="#a8143a" />
<circle cx="251.60" cy="401.50" r="1.1" fill="#a8143a" />
<circle cx="251.00" cy="404.50" r="1.1" fill="#a8143a" />
<circle cx="248.00" cy="408.00" r="1.1" fill="#a8143a" />
<circle cx="254.00" cy="407.00" r="1.1" fill="#a8143a" />
<circle cx="251.60" cy="409.70" r="1.1" fill="#a8143a" />
<circle cx="248.50" cy="412.50" r="1.1" fill="#a8143a" />
<circle cx="252.00" cy="413.00" r="1.1" fill="#a8143a" />
<circle cx="255.50" cy="412.00" r="1.1" fill="#a8143a" />
<circle cx="250.00" cy="416.00" r="1.1" fill="#a8143a" />
<circle cx="253.50" cy="416.50" r="1.1" fill="#a8143a" />
<circle cx="251.60" cy="419.00" r="1.1" fill="#a8143a" />
<text x="280.60" y="223.90" font-size="10.5" text-anchor="start" font-weight="bold" fill="#111" >D</text>
<line x1="317.00" y1="244.50" x2="317.00" y2="428.50" stroke="#2e2e2e" stroke-width="1.5" />
<line x1="314.40" y1="245.60" x2="317.00" y2="245.60" stroke="#2e2e2e" stroke-width="0.9" />
<text x="311.30" y="248.15" font-size="7.1" text-anchor="end" font-weight="normal" fill="#222" >4</text>
<line x1="314.40" y1="291.15" x2="317.00" y2="291.15" stroke="#2e2e2e" stroke-width="0.9" />
<text x="311.30" y="293.70" font-size="7.1" text-anchor="end" font-weight="normal" fill="#222" >3</text>
<line x1="314.40" y1="336.70" x2="317.00" y2="336.70" stroke="#2e2e2e" stroke-width="0.9" />
<text x="311.30" y="339.25" font-size="7.1" text-anchor="end" font-weight="normal" fill="#222" >2</text>
<line x1="314.40" y1="382.25" x2="317.00" y2="382.25" stroke="#2e2e2e" stroke-width="0.9" />
<text x="311.30" y="384.80" font-size="7.1" text-anchor="end" font-weight="normal" fill="#222" >1</text>
<line x1="314.40" y1="427.80" x2="317.00" y2="427.80" stroke="#2e2e2e" stroke-width="0.9" />
<text x="311.30" y="430.35" font-size="7.1" text-anchor="end" font-weight="normal" fill="#222" >0</text>
<line x1="316.20" y1="427.80" x2="452.30" y2="427.80" stroke="#2e2e2e" stroke-width="1.5" />
<line x1="355.80" y1="427.80" x2="355.80" y2="430.40" stroke="#2e2e2e" stroke-width="0.9" />
<text x="355.80" y="440.80" font-size="7.4" text-anchor="middle" font-weight="normal" fill="#222" >Healthy</text>
<line x1="413.60" y1="427.80" x2="413.60" y2="430.40" stroke="#2e2e2e" stroke-width="0.9" />
<text x="413.60" y="440.80" font-size="7.4" text-anchor="middle" font-weight="normal" fill="#222" >TBD</text>
<text x="0" y="0" font-size="7.6" font-weight="bold" fill="#333" text-anchor="middle" transform="translate(299,338) rotate(-90)">T<tspan font-size="4" dy="1.3">H</tspan><tspan dy="-1.3">2/T</tspan><tspan font-size="4" dy="1.3">H</tspan><tspan dy="-1.3">1 ratio</tspan></text>
<path d="M355.8,281.6 L355.8,278.6 L413.6,278.6 L413.6,281.6" fill="none" stroke="#333" stroke-width="0.9"/>
<text x="384.70" y="277.40" font-size="7.5" text-anchor="middle" font-weight="normal" fill="#222" >**</text>
<line x1="356.00" y1="357.40" x2="356.00" y2="378.10" stroke="#333c48" stroke-width="0.9" />
<line x1="346.35" y1="357.40" x2="365.65" y2="357.40" stroke="#333c48" stroke-width="1.1" />
<line x1="356.00" y1="403.90" x2="356.00" y2="410.30" stroke="#333c48" stroke-width="0.9" />
<line x1="346.35" y1="410.30" x2="365.65" y2="410.30" stroke="#333c48" stroke-width="1.1" />
<rect x="336.60" y="378.10" width="38.80" height="25.80" fill="#a9c2d8" stroke="none" stroke-width="1" />
<line x1="336.60" y1="396.70" x2="375.40" y2="396.70" stroke="#2a3a4e" stroke-width="1.3" />
<circle cx="355.80" cy="358.00" r="1.1" fill="#1d3f6e" />
<circle cx="355.80" cy="378.00" r="1.1" fill="#1d3f6e" />
<circle cx="355.80" cy="380.50" r="1.1" fill="#1d3f6e" />
<circle cx="355.80" cy="391.00" r="1.1" fill="#1d3f6e" />
<circle cx="355.80" cy="395.50" r="1.1" fill="#1d3f6e" />
<circle cx="352.50" cy="401.00" r="1.1" fill="#1d3f6e" />
<circle cx="357.00" cy="401.50" r="1.1" fill="#1d3f6e" />
<circle cx="355.80" cy="410.00" r="1.1" fill="#1d3f6e" />
<line x1="413.50" y1="291.30" x2="413.50" y2="319.50" stroke="#3e3036" stroke-width="0.9" />
<line x1="404.10" y1="291.30" x2="422.90" y2="291.30" stroke="#3e3036" stroke-width="1.1" />
<line x1="413.50" y1="392.90" x2="413.50" y2="408.70" stroke="#3e3036" stroke-width="0.9" />
<line x1="404.10" y1="408.70" x2="422.90" y2="408.70" stroke="#3e3036" stroke-width="1.1" />
<rect x="394.30" y="319.50" width="38.40" height="73.40" fill="#eba3b3" stroke="none" stroke-width="1" />
<line x1="394.30" y1="351.50" x2="432.70" y2="351.50" stroke="#5a2632" stroke-width="1.3" />
<circle cx="411.50" cy="292.50" r="1.1" fill="#a8143a" />
<circle cx="415.50" cy="291.50" r="1.1" fill="#a8143a" />
<circle cx="413.80" cy="304.50" r="1.1" fill="#a8143a" />
<circle cx="411.00" cy="316.00" r="1.1" fill="#a8143a" />
<circle cx="416.30" cy="315.50" r="1.1" fill="#a8143a" />
<circle cx="413.80" cy="329.40" r="1.1" fill="#a8143a" />
<circle cx="413.80" cy="336.50" r="1.1" fill="#a8143a" />
<circle cx="413.80" cy="339.80" r="1.1" fill="#a8143a" />
<circle cx="413.80" cy="347.60" r="1.1" fill="#a8143a" />
<circle cx="411.50" cy="351.20" r="1.1" fill="#a8143a" />
<circle cx="415.50" cy="350.50" r="1.1" fill="#a8143a" />
<circle cx="413.80" cy="355.20" r="1.1" fill="#a8143a" />
<circle cx="410.70" cy="369.40" r="1.1" fill="#a8143a" />
<circle cx="415.30" cy="368.90" r="1.1" fill="#a8143a" />
<circle cx="413.80" cy="390.40" r="1.1" fill="#a8143a" />
<circle cx="413.80" cy="396.20" r="1.1" fill="#a8143a" />
<circle cx="411.60" cy="401.90" r="1.1" fill="#a8143a" />
<circle cx="415.30" cy="403.90" r="1.1" fill="#a8143a" />
<circle cx="413.80" cy="409.00" r="1.1" fill="#a8143a" />
<rect x="0.50" y="0.50" width="519.00" height="448.00" fill="none" stroke="#333" stroke-width="1" />
</svg></body></html>
